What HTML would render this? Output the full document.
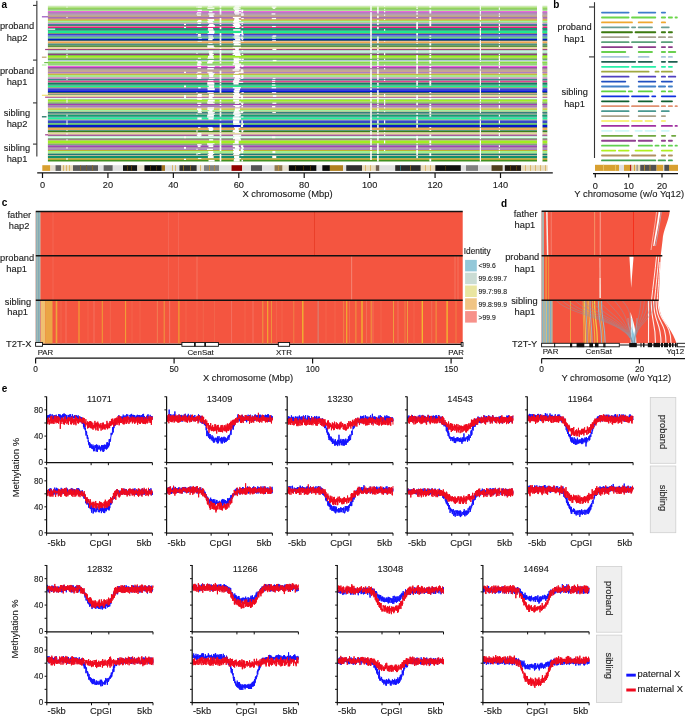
<!DOCTYPE html>
<html><head><meta charset="utf-8"><style>
html,body{margin:0;padding:0;background:#fff;overflow:hidden;width:685px;height:716px;}
svg{display:block;will-change:transform;}
text{font-family:"Liberation Sans", sans-serif;}
</style></head><body>
<svg width="685" height="716" viewBox="0 0 685 716">
<rect x="0" y="0" width="685" height="716" fill="#fff"/>
<text x="1.60" y="7.70" font-size="10" text-anchor="start" font-weight="bold" fill="#000" >a</text>
<rect x="47.90" y="5.75" width="489.10" height="0.85" fill="#c8e8b0" />
<rect x="542.30" y="5.75" width="5.00" height="0.85" fill="#c8e8b0" />
<rect x="47.90" y="6.60" width="489.10" height="1.00" fill="#b0e080" />
<rect x="542.30" y="6.60" width="5.00" height="1.00" fill="#b0e080" />
<rect x="47.90" y="7.60" width="489.10" height="1.20" fill="#88d840" />
<rect x="542.30" y="7.60" width="5.00" height="1.20" fill="#88d840" />
<rect x="47.90" y="8.80" width="489.10" height="0.90" fill="#60a040" />
<rect x="542.30" y="8.80" width="5.00" height="0.90" fill="#60a040" />
<rect x="47.90" y="9.70" width="489.10" height="1.30" fill="#a8e890" />
<rect x="542.30" y="9.70" width="5.00" height="1.30" fill="#a8e890" />
<rect x="47.90" y="11.00" width="489.10" height="1.30" fill="#e870d8" />
<rect x="542.30" y="11.00" width="5.00" height="1.30" fill="#e870d8" />
<rect x="47.90" y="12.30" width="489.10" height="1.10" fill="#a050b0" />
<rect x="542.30" y="12.30" width="5.00" height="1.10" fill="#a050b0" />
<rect x="47.90" y="13.40" width="489.10" height="1.10" fill="#9a70a0" />
<rect x="542.30" y="13.40" width="5.00" height="1.10" fill="#9a70a0" />
<rect x="47.90" y="14.50" width="489.10" height="1.20" fill="#a08890" />
<rect x="542.30" y="14.50" width="5.00" height="1.20" fill="#a08890" />
<rect x="47.90" y="15.70" width="489.10" height="1.20" fill="#c0a070" />
<rect x="542.30" y="15.70" width="5.00" height="1.20" fill="#c0a070" />
<rect x="47.90" y="16.90" width="489.10" height="1.10" fill="#a070b8" />
<rect x="542.30" y="16.90" width="5.00" height="1.10" fill="#a070b8" />
<rect x="47.90" y="18.00" width="489.10" height="1.10" fill="#c080a0" />
<rect x="542.30" y="18.00" width="5.00" height="1.10" fill="#c080a0" />
<rect x="47.90" y="19.10" width="489.10" height="0.90" fill="#d0a050" />
<rect x="542.30" y="19.10" width="5.00" height="0.90" fill="#d0a050" />
<rect x="47.90" y="20.00" width="489.10" height="0.90" fill="#c0c030" />
<rect x="542.30" y="20.00" width="5.00" height="0.90" fill="#c0c030" />
<rect x="47.90" y="20.90" width="489.10" height="1.30" fill="#a0f0a0" />
<rect x="542.30" y="20.90" width="5.00" height="1.30" fill="#a0f0a0" />
<rect x="47.90" y="22.20" width="489.10" height="0.80" fill="#a0c080" />
<rect x="542.30" y="22.20" width="5.00" height="0.80" fill="#a0c080" />
<rect x="47.90" y="23.00" width="489.10" height="0.90" fill="#d890d0" />
<rect x="542.30" y="23.00" width="5.00" height="0.90" fill="#d890d0" />
<rect x="47.90" y="23.90" width="489.10" height="1.10" fill="#4080a0" />
<rect x="542.30" y="23.90" width="5.00" height="1.10" fill="#4080a0" />
<rect x="47.90" y="25.00" width="489.10" height="1.10" fill="#508070" />
<rect x="542.30" y="25.00" width="5.00" height="1.10" fill="#508070" />
<rect x="47.90" y="26.10" width="489.10" height="0.90" fill="#e07090" />
<rect x="542.30" y="26.10" width="5.00" height="0.90" fill="#e07090" />
<rect x="47.90" y="27.00" width="489.10" height="1.00" fill="#e81880" />
<rect x="542.30" y="27.00" width="5.00" height="1.00" fill="#e81880" />
<rect x="47.90" y="28.00" width="489.10" height="1.20" fill="#10a070" />
<rect x="542.30" y="28.00" width="5.00" height="1.20" fill="#10a070" />
<rect x="47.90" y="29.20" width="489.10" height="1.50" fill="#106060" />
<rect x="542.30" y="29.20" width="5.00" height="1.50" fill="#106060" />
<rect x="47.90" y="30.70" width="489.10" height="2.40" fill="#20e890" />
<rect x="542.30" y="30.70" width="5.00" height="2.40" fill="#20e890" />
<rect x="47.90" y="33.10" width="489.10" height="0.90" fill="#709060" />
<rect x="542.30" y="33.10" width="5.00" height="0.90" fill="#709060" />
<rect x="47.90" y="34.00" width="489.10" height="1.50" fill="#4040d0" />
<rect x="542.30" y="34.00" width="5.00" height="1.50" fill="#4040d0" />
<rect x="47.90" y="35.50" width="489.10" height="1.10" fill="#3060c0" />
<rect x="542.30" y="35.50" width="5.00" height="1.10" fill="#3060c0" />
<rect x="47.90" y="36.60" width="489.10" height="0.70" fill="#40a080" />
<rect x="542.30" y="36.60" width="5.00" height="0.70" fill="#40a080" />
<rect x="47.90" y="37.30" width="489.10" height="1.10" fill="#50c060" />
<rect x="542.30" y="37.30" width="5.00" height="1.10" fill="#50c060" />
<rect x="47.90" y="38.40" width="489.10" height="0.60" fill="#2060a0" />
<rect x="542.30" y="38.40" width="5.00" height="0.60" fill="#2060a0" />
<rect x="47.90" y="39.00" width="489.10" height="1.30" fill="#0020c0" />
<rect x="542.30" y="39.00" width="5.00" height="1.30" fill="#0020c0" />
<rect x="47.90" y="40.30" width="489.10" height="0.70" fill="#104040" />
<rect x="542.30" y="40.30" width="5.00" height="0.70" fill="#104040" />
<rect x="47.90" y="41.00" width="489.10" height="0.60" fill="#e0a080" />
<rect x="542.30" y="41.00" width="5.00" height="0.60" fill="#e0a080" />
<rect x="47.90" y="41.60" width="489.10" height="1.40" fill="#f0a850" />
<rect x="542.30" y="41.60" width="5.00" height="1.40" fill="#f0a850" />
<rect x="47.90" y="43.00" width="489.10" height="0.70" fill="#a0a060" />
<rect x="542.30" y="43.00" width="5.00" height="0.70" fill="#a0a060" />
<rect x="47.90" y="43.70" width="489.10" height="1.70" fill="#509080" />
<rect x="542.30" y="43.70" width="5.00" height="1.70" fill="#509080" />
<rect x="47.90" y="45.40" width="489.10" height="1.50" fill="#408020" />
<rect x="542.30" y="45.40" width="5.00" height="1.50" fill="#408020" />
<rect x="47.90" y="46.90" width="489.10" height="0.90" fill="#d0c8a0" />
<rect x="542.30" y="46.90" width="5.00" height="0.90" fill="#d0c8a0" />
<rect x="47.90" y="47.80" width="489.10" height="1.10" fill="#f0e890" />
<rect x="542.30" y="47.80" width="5.00" height="1.10" fill="#f0e890" />
<rect x="47.90" y="48.90" width="489.10" height="1.10" fill="#a04080" />
<rect x="542.30" y="48.90" width="5.00" height="1.10" fill="#a04080" />
<rect x="47.90" y="50.00" width="489.10" height="0.80" fill="#a0c0a0" />
<rect x="542.30" y="50.00" width="5.00" height="0.80" fill="#a0c0a0" />
<rect x="47.90" y="50.80" width="489.10" height="2.00" fill="#c0f0e0" />
<rect x="542.30" y="50.80" width="5.00" height="2.00" fill="#c0f0e0" />
<rect x="47.90" y="52.80" width="489.10" height="1.10" fill="#80a080" />
<rect x="542.30" y="52.80" width="5.00" height="1.10" fill="#80a080" />
<rect x="47.90" y="53.90" width="489.10" height="1.10" fill="#904080" />
<rect x="542.30" y="53.90" width="5.00" height="1.10" fill="#904080" />
<rect x="47.90" y="55.00" width="489.10" height="0.90" fill="#70b040" />
<rect x="542.30" y="55.00" width="5.00" height="0.90" fill="#70b040" />
<rect x="47.90" y="55.90" width="489.10" height="1.90" fill="#a0f020" />
<rect x="542.30" y="55.90" width="5.00" height="1.90" fill="#a0f020" />
<rect x="47.90" y="57.80" width="489.10" height="0.90" fill="#90a040" />
<rect x="542.30" y="57.80" width="5.00" height="0.90" fill="#90a040" />
<rect x="47.90" y="58.70" width="489.10" height="1.30" fill="#60b060" />
<rect x="542.30" y="58.70" width="5.00" height="1.30" fill="#60b060" />
<rect x="47.90" y="60.00" width="489.10" height="1.10" fill="#b0c8d8" />
<rect x="542.30" y="60.00" width="5.00" height="1.10" fill="#b0c8d8" />
<rect x="47.90" y="61.10" width="489.10" height="0.90" fill="#b8e890" />
<rect x="542.30" y="61.10" width="5.00" height="0.90" fill="#b8e890" />
<rect x="47.90" y="62.00" width="489.10" height="1.50" fill="#88d848" />
<rect x="542.30" y="62.00" width="5.00" height="1.50" fill="#88d848" />
<rect x="47.90" y="63.50" width="489.10" height="1.30" fill="#70c050" />
<rect x="542.30" y="63.50" width="5.00" height="1.30" fill="#70c050" />
<rect x="47.90" y="64.80" width="489.10" height="1.10" fill="#b0f0a0" />
<rect x="542.30" y="64.80" width="5.00" height="1.10" fill="#b0f0a0" />
<rect x="47.90" y="65.90" width="489.10" height="1.10" fill="#f060e0" />
<rect x="542.30" y="65.90" width="5.00" height="1.10" fill="#f060e0" />
<rect x="47.90" y="67.00" width="489.10" height="1.10" fill="#a048b0" />
<rect x="542.30" y="67.00" width="5.00" height="1.10" fill="#a048b0" />
<rect x="47.90" y="68.10" width="489.10" height="1.30" fill="#9a7090" />
<rect x="542.30" y="68.10" width="5.00" height="1.30" fill="#9a7090" />
<rect x="47.90" y="69.40" width="489.10" height="1.30" fill="#a08888" />
<rect x="542.30" y="69.40" width="5.00" height="1.30" fill="#a08888" />
<rect x="47.90" y="70.70" width="489.10" height="1.10" fill="#c8a068" />
<rect x="542.30" y="70.70" width="5.00" height="1.10" fill="#c8a068" />
<rect x="47.90" y="71.80" width="489.10" height="1.10" fill="#a070c0" />
<rect x="542.30" y="71.80" width="5.00" height="1.10" fill="#a070c0" />
<rect x="47.90" y="72.90" width="489.10" height="0.90" fill="#d090a0" />
<rect x="542.30" y="72.90" width="5.00" height="0.90" fill="#d090a0" />
<rect x="47.90" y="73.80" width="489.10" height="1.10" fill="#c0b020" />
<rect x="542.30" y="73.80" width="5.00" height="1.10" fill="#c0b020" />
<rect x="47.90" y="74.90" width="489.10" height="2.20" fill="#a8e890" />
<rect x="542.30" y="74.90" width="5.00" height="2.20" fill="#a8e890" />
<rect x="47.90" y="77.10" width="489.10" height="0.90" fill="#c8a0c0" />
<rect x="542.30" y="77.10" width="5.00" height="0.90" fill="#c8a0c0" />
<rect x="47.90" y="78.00" width="489.10" height="0.80" fill="#e080d0" />
<rect x="542.30" y="78.00" width="5.00" height="0.80" fill="#e080d0" />
<rect x="47.90" y="78.80" width="489.10" height="1.10" fill="#207878" />
<rect x="542.30" y="78.80" width="5.00" height="1.10" fill="#207878" />
<rect x="47.90" y="79.90" width="489.10" height="0.90" fill="#60a090" />
<rect x="542.30" y="79.90" width="5.00" height="0.90" fill="#60a090" />
<rect x="47.90" y="80.80" width="489.10" height="1.10" fill="#e82888" />
<rect x="542.30" y="80.80" width="5.00" height="1.10" fill="#e82888" />
<rect x="47.90" y="81.90" width="489.10" height="0.90" fill="#a08080" />
<rect x="542.30" y="81.90" width="5.00" height="0.90" fill="#a08080" />
<rect x="47.90" y="82.80" width="489.10" height="1.70" fill="#108060" />
<rect x="542.30" y="82.80" width="5.00" height="1.70" fill="#108060" />
<rect x="47.90" y="84.50" width="489.10" height="1.10" fill="#106858" />
<rect x="542.30" y="84.50" width="5.00" height="1.10" fill="#106858" />
<rect x="47.90" y="85.60" width="489.10" height="1.60" fill="#20f090" />
<rect x="542.30" y="85.60" width="5.00" height="1.60" fill="#20f090" />
<rect x="47.90" y="87.20" width="489.10" height="1.10" fill="#80a060" />
<rect x="542.30" y="87.20" width="5.00" height="1.10" fill="#80a060" />
<rect x="47.90" y="88.30" width="489.10" height="1.90" fill="#4040c8" />
<rect x="542.30" y="88.30" width="5.00" height="1.90" fill="#4040c8" />
<rect x="47.90" y="90.20" width="489.10" height="2.00" fill="#0818d8" />
<rect x="542.30" y="90.20" width="5.00" height="2.00" fill="#0818d8" />
<rect x="47.90" y="92.20" width="489.10" height="0.80" fill="#104840" />
<rect x="542.30" y="92.20" width="5.00" height="0.80" fill="#104840" />
<rect x="47.90" y="93.00" width="489.10" height="0.90" fill="#d0a080" />
<rect x="542.30" y="93.00" width="5.00" height="0.90" fill="#d0a080" />
<rect x="47.90" y="93.90" width="489.10" height="1.30" fill="#80a080" />
<rect x="542.30" y="93.90" width="5.00" height="1.30" fill="#80a080" />
<rect x="47.90" y="95.20" width="489.10" height="1.60" fill="#e8e090" />
<rect x="542.30" y="95.20" width="5.00" height="1.60" fill="#e8e090" />
<rect x="47.90" y="96.80" width="489.10" height="1.10" fill="#b04890" />
<rect x="542.30" y="96.80" width="5.00" height="1.10" fill="#b04890" />
<rect x="47.90" y="97.90" width="489.10" height="1.30" fill="#d8fff0" />
<rect x="542.30" y="97.90" width="5.00" height="1.30" fill="#d8fff0" />
<rect x="47.90" y="99.20" width="489.10" height="0.60" fill="#70b050" />
<rect x="542.30" y="99.20" width="5.00" height="0.60" fill="#70b050" />
<rect x="47.90" y="99.80" width="489.10" height="1.80" fill="#a0f020" />
<rect x="542.30" y="99.80" width="5.00" height="1.80" fill="#a0f020" />
<rect x="47.90" y="101.60" width="489.10" height="1.10" fill="#90c040" />
<rect x="542.30" y="101.60" width="5.00" height="1.10" fill="#90c040" />
<rect x="47.90" y="102.70" width="489.10" height="1.10" fill="#60a060" />
<rect x="542.30" y="102.70" width="5.00" height="1.10" fill="#60a060" />
<rect x="47.90" y="103.80" width="489.10" height="1.30" fill="#a040b0" />
<rect x="542.30" y="103.80" width="5.00" height="1.30" fill="#a040b0" />
<rect x="47.90" y="105.10" width="489.10" height="0.90" fill="#a080a0" />
<rect x="542.30" y="105.10" width="5.00" height="0.90" fill="#a080a0" />
<rect x="47.90" y="106.00" width="489.10" height="1.30" fill="#a080c0" />
<rect x="542.30" y="106.00" width="5.00" height="1.30" fill="#a080c0" />
<rect x="47.90" y="107.30" width="489.10" height="1.10" fill="#c090a0" />
<rect x="542.30" y="107.30" width="5.00" height="1.10" fill="#c090a0" />
<rect x="47.90" y="108.40" width="489.10" height="1.50" fill="#c8c030" />
<rect x="542.30" y="108.40" width="5.00" height="1.50" fill="#c8c030" />
<rect x="47.90" y="109.90" width="489.10" height="1.30" fill="#a0f0a0" />
<rect x="542.30" y="109.90" width="5.00" height="1.30" fill="#a0f0a0" />
<rect x="47.90" y="111.20" width="489.10" height="0.90" fill="#a0c080" />
<rect x="542.30" y="111.20" width="5.00" height="0.90" fill="#a0c080" />
<rect x="47.90" y="112.10" width="489.10" height="0.90" fill="#207070" />
<rect x="542.30" y="112.10" width="5.00" height="0.90" fill="#207070" />
<rect x="47.90" y="113.00" width="489.10" height="0.80" fill="#508080" />
<rect x="542.30" y="113.00" width="5.00" height="0.80" fill="#508080" />
<rect x="47.90" y="113.80" width="489.10" height="0.90" fill="#90a080" />
<rect x="542.30" y="113.80" width="5.00" height="0.90" fill="#90a080" />
<rect x="47.90" y="114.70" width="489.10" height="1.80" fill="#10a070" />
<rect x="542.30" y="114.70" width="5.00" height="1.80" fill="#10a070" />
<rect x="47.90" y="116.50" width="489.10" height="1.00" fill="#107068" />
<rect x="542.30" y="116.50" width="5.00" height="1.00" fill="#107068" />
<rect x="47.90" y="117.50" width="489.10" height="2.00" fill="#20f0a0" />
<rect x="542.30" y="117.50" width="5.00" height="2.00" fill="#20f0a0" />
<rect x="47.90" y="119.50" width="489.10" height="0.90" fill="#80a060" />
<rect x="542.30" y="119.50" width="5.00" height="0.90" fill="#80a060" />
<rect x="47.90" y="120.40" width="489.10" height="3.00" fill="#3848c8" />
<rect x="542.30" y="120.40" width="5.00" height="3.00" fill="#3848c8" />
<rect x="47.90" y="123.40" width="489.10" height="1.40" fill="#50d040" />
<rect x="542.30" y="123.40" width="5.00" height="1.40" fill="#50d040" />
<rect x="47.90" y="124.80" width="489.10" height="2.20" fill="#0818c8" />
<rect x="542.30" y="124.80" width="5.00" height="2.20" fill="#0818c8" />
<rect x="47.90" y="127.00" width="489.10" height="0.80" fill="#305050" />
<rect x="542.30" y="127.00" width="5.00" height="0.80" fill="#305050" />
<rect x="47.90" y="127.80" width="489.10" height="2.20" fill="#e8a858" />
<rect x="542.30" y="127.80" width="5.00" height="2.20" fill="#e8a858" />
<rect x="47.90" y="130.00" width="489.10" height="0.90" fill="#509080" />
<rect x="542.30" y="130.00" width="5.00" height="0.90" fill="#509080" />
<rect x="47.90" y="130.90" width="489.10" height="1.30" fill="#3a8018" />
<rect x="542.30" y="130.90" width="5.00" height="1.30" fill="#3a8018" />
<rect x="47.90" y="132.20" width="489.10" height="0.90" fill="#c0c090" />
<rect x="542.30" y="132.20" width="5.00" height="0.90" fill="#c0c090" />
<rect x="47.90" y="133.10" width="489.10" height="1.50" fill="#e0d890" />
<rect x="542.30" y="133.10" width="5.00" height="1.50" fill="#e0d890" />
<rect x="47.90" y="134.60" width="489.10" height="1.30" fill="#a04090" />
<rect x="542.30" y="134.60" width="5.00" height="1.30" fill="#a04090" />
<rect x="47.90" y="135.90" width="489.10" height="0.70" fill="#90d090" />
<rect x="542.30" y="135.90" width="5.00" height="0.70" fill="#90d090" />
<rect x="47.90" y="136.60" width="489.10" height="1.50" fill="#d8fff0" />
<rect x="542.30" y="136.60" width="5.00" height="1.50" fill="#d8fff0" />
<rect x="47.90" y="138.10" width="489.10" height="1.10" fill="#80b080" />
<rect x="542.30" y="138.10" width="5.00" height="1.10" fill="#80b080" />
<rect x="47.90" y="139.20" width="489.10" height="1.30" fill="#906070" />
<rect x="542.30" y="139.20" width="5.00" height="1.30" fill="#906070" />
<rect x="47.90" y="140.50" width="489.10" height="2.80" fill="#a0f020" />
<rect x="542.30" y="140.50" width="5.00" height="2.80" fill="#a0f020" />
<rect x="47.90" y="143.30" width="489.10" height="0.90" fill="#a0b040" />
<rect x="542.30" y="143.30" width="5.00" height="0.90" fill="#a0b040" />
<rect x="47.90" y="144.20" width="489.10" height="1.10" fill="#60a060" />
<rect x="542.30" y="144.20" width="5.00" height="1.10" fill="#60a060" />
<rect x="47.90" y="145.30" width="489.10" height="1.70" fill="#9a4ab0" />
<rect x="542.30" y="145.30" width="5.00" height="1.70" fill="#9a4ab0" />
<rect x="47.90" y="147.00" width="489.10" height="1.80" fill="#a888a8" />
<rect x="542.30" y="147.00" width="5.00" height="1.80" fill="#a888a8" />
<rect x="47.90" y="148.80" width="489.10" height="1.10" fill="#a070c8" />
<rect x="542.30" y="148.80" width="5.00" height="1.10" fill="#a070c8" />
<rect x="47.90" y="149.90" width="489.10" height="1.10" fill="#c0b030" />
<rect x="542.30" y="149.90" width="5.00" height="1.10" fill="#c0b030" />
<rect x="47.90" y="151.00" width="489.10" height="2.10" fill="#a0f090" />
<rect x="542.30" y="151.00" width="5.00" height="2.10" fill="#a0f090" />
<rect x="47.90" y="153.10" width="489.10" height="0.90" fill="#80b080" />
<rect x="542.30" y="153.10" width="5.00" height="0.90" fill="#80b080" />
<rect x="47.90" y="154.00" width="489.10" height="1.10" fill="#207878" />
<rect x="542.30" y="154.00" width="5.00" height="1.10" fill="#207878" />
<rect x="47.90" y="155.10" width="489.10" height="0.90" fill="#b0b090" />
<rect x="542.30" y="155.10" width="5.00" height="0.90" fill="#b0b090" />
<rect x="47.90" y="156.00" width="489.10" height="2.00" fill="#10906c" />
<rect x="542.30" y="156.00" width="5.00" height="2.00" fill="#10906c" />
<rect x="47.90" y="158.00" width="489.10" height="0.80" fill="#a0a040" />
<rect x="542.30" y="158.00" width="5.00" height="0.80" fill="#a0a040" />
<rect x="47.90" y="158.80" width="489.10" height="1.10" fill="#c0a020" />
<rect x="542.30" y="158.80" width="5.00" height="1.10" fill="#c0a020" />
<rect x="47.90" y="159.90" width="489.10" height="1.60" fill="#409020" />
<rect x="542.30" y="159.90" width="5.00" height="1.60" fill="#409020" />
<rect x="197.80" y="6.55" width="3.99" height="1.10" fill="#ffffff" />
<rect x="197.58" y="9.65" width="4.27" height="1.40" fill="#ffffff" />
<rect x="196.94" y="12.25" width="4.31" height="1.20" fill="#ffffff" />
<rect x="197.14" y="14.45" width="3.80" height="1.30" fill="#ffffff" />
<rect x="198.11" y="19.95" width="3.34" height="1.00" fill="#ffffff" />
<rect x="196.98" y="20.85" width="4.45" height="1.40" fill="#ffffff" />
<rect x="197.69" y="22.95" width="3.23" height="1.00" fill="#ffffff" />
<rect x="196.89" y="26.05" width="4.69" height="1.00" fill="#ffffff" />
<rect x="198.02" y="33.95" width="2.82" height="1.60" fill="#ffffff" />
<rect x="197.68" y="35.45" width="3.42" height="1.20" fill="#ffffff" />
<rect x="198.30" y="38.35" width="3.42" height="0.70" fill="#ffffff" />
<rect x="197.55" y="40.95" width="4.29" height="0.70" fill="#ffffff" />
<rect x="197.87" y="57.75" width="3.04" height="1.00" fill="#ffffff" />
<rect x="197.39" y="61.05" width="3.49" height="1.00" fill="#ffffff" />
<rect x="197.51" y="61.95" width="4.14" height="1.60" fill="#ffffff" />
<rect x="196.89" y="63.45" width="3.83" height="1.40" fill="#ffffff" />
<rect x="197.18" y="64.75" width="4.12" height="1.20" fill="#ffffff" />
<rect x="197.49" y="66.95" width="3.57" height="1.20" fill="#ffffff" />
<rect x="197.44" y="71.75" width="3.92" height="1.20" fill="#ffffff" />
<rect x="197.07" y="74.85" width="4.48" height="2.30" fill="#ffffff" />
<rect x="197.54" y="77.05" width="3.46" height="1.00" fill="#ffffff" />
<rect x="196.81" y="77.95" width="4.45" height="0.90" fill="#ffffff" />
<rect x="198.18" y="87.15" width="2.53" height="1.20" fill="#ffffff" />
<rect x="197.77" y="93.85" width="4.03" height="1.40" fill="#ffffff" />
<rect x="197.12" y="95.15" width="4.53" height="1.70" fill="#ffffff" />
<rect x="196.80" y="97.85" width="4.87" height="1.40" fill="#ffffff" />
<rect x="197.36" y="99.15" width="4.50" height="0.70" fill="#ffffff" />
<rect x="197.19" y="102.65" width="4.18" height="1.20" fill="#ffffff" />
<rect x="198.10" y="105.05" width="2.28" height="1.00" fill="#ffffff" />
<rect x="196.96" y="108.35" width="4.42" height="1.60" fill="#ffffff" />
<rect x="198.07" y="109.85" width="3.58" height="1.40" fill="#ffffff" />
<rect x="198.26" y="111.15" width="2.84" height="1.00" fill="#ffffff" />
<rect x="197.63" y="112.05" width="4.23" height="1.00" fill="#ffffff" />
<rect x="197.36" y="117.45" width="4.28" height="2.10" fill="#ffffff" />
<rect x="198.04" y="126.95" width="2.35" height="0.90" fill="#ffffff" />
<rect x="197.59" y="133.05" width="3.76" height="1.60" fill="#ffffff" />
<rect x="196.84" y="134.55" width="4.63" height="1.40" fill="#ffffff" />
<rect x="197.86" y="135.85" width="2.58" height="0.80" fill="#ffffff" />
<rect x="197.15" y="144.15" width="4.45" height="1.20" fill="#ffffff" />
<rect x="197.75" y="145.25" width="2.77" height="1.80" fill="#ffffff" />
<rect x="197.81" y="153.05" width="2.70" height="1.00" fill="#ffffff" />
<rect x="198.01" y="157.95" width="3.38" height="0.90" fill="#ffffff" />
<rect x="207.94" y="5.70" width="4.65" height="0.95" fill="#ffffff" />
<rect x="207.30" y="7.55" width="7.15" height="1.30" fill="#ffffff" />
<rect x="208.93" y="10.95" width="3.57" height="1.40" fill="#ffffff" />
<rect x="208.28" y="13.35" width="6.21" height="1.20" fill="#ffffff" />
<rect x="209.27" y="14.45" width="4.01" height="1.30" fill="#ffffff" />
<rect x="209.18" y="15.65" width="4.60" height="1.30" fill="#ffffff" />
<rect x="207.59" y="19.05" width="6.53" height="1.00" fill="#ffffff" />
<rect x="208.37" y="19.95" width="5.82" height="1.00" fill="#ffffff" />
<rect x="207.31" y="20.85" width="5.36" height="1.40" fill="#ffffff" />
<rect x="208.07" y="22.15" width="5.36" height="0.90" fill="#ffffff" />
<rect x="209.15" y="23.85" width="4.48" height="1.20" fill="#ffffff" />
<rect x="208.23" y="24.95" width="6.53" height="1.20" fill="#ffffff" />
<rect x="207.43" y="26.05" width="7.36" height="1.00" fill="#ffffff" />
<rect x="208.11" y="27.95" width="5.00" height="1.30" fill="#ffffff" />
<rect x="207.76" y="29.15" width="5.82" height="1.60" fill="#ffffff" />
<rect x="208.84" y="30.65" width="5.72" height="2.50" fill="#ffffff" />
<rect x="207.58" y="33.05" width="6.57" height="1.00" fill="#ffffff" />
<rect x="208.31" y="35.45" width="4.71" height="1.20" fill="#ffffff" />
<rect x="208.43" y="37.25" width="5.18" height="1.20" fill="#ffffff" />
<rect x="208.62" y="38.35" width="5.12" height="0.70" fill="#ffffff" />
<rect x="208.12" y="38.95" width="4.48" height="1.40" fill="#ffffff" />
<rect x="208.31" y="42.95" width="4.28" height="0.80" fill="#ffffff" />
<rect x="207.28" y="45.35" width="6.48" height="1.60" fill="#ffffff" />
<rect x="207.56" y="46.85" width="7.07" height="1.00" fill="#ffffff" />
<rect x="208.68" y="50.75" width="4.58" height="2.10" fill="#ffffff" />
<rect x="209.07" y="52.75" width="3.47" height="1.20" fill="#ffffff" />
<rect x="209.23" y="53.85" width="4.64" height="1.20" fill="#ffffff" />
<rect x="209.32" y="54.95" width="3.54" height="1.00" fill="#ffffff" />
<rect x="208.01" y="55.85" width="5.58" height="2.00" fill="#ffffff" />
<rect x="207.46" y="57.75" width="6.60" height="1.00" fill="#ffffff" />
<rect x="208.30" y="59.95" width="5.47" height="1.20" fill="#ffffff" />
<rect x="207.78" y="61.05" width="5.56" height="1.00" fill="#ffffff" />
<rect x="207.15" y="61.95" width="5.34" height="1.60" fill="#ffffff" />
<rect x="207.62" y="65.85" width="7.09" height="1.20" fill="#ffffff" />
<rect x="207.30" y="68.05" width="6.51" height="1.40" fill="#ffffff" />
<rect x="207.35" y="71.75" width="5.30" height="1.20" fill="#ffffff" />
<rect x="208.64" y="72.85" width="5.95" height="1.00" fill="#ffffff" />
<rect x="208.61" y="73.75" width="5.19" height="1.20" fill="#ffffff" />
<rect x="209.20" y="74.85" width="4.12" height="2.30" fill="#ffffff" />
<rect x="209.00" y="77.95" width="5.64" height="0.90" fill="#ffffff" />
<rect x="207.79" y="79.85" width="5.71" height="1.00" fill="#ffffff" />
<rect x="207.30" y="81.85" width="6.26" height="1.00" fill="#ffffff" />
<rect x="207.26" y="82.75" width="7.17" height="1.80" fill="#ffffff" />
<rect x="207.47" y="84.45" width="6.60" height="1.20" fill="#ffffff" />
<rect x="208.78" y="85.55" width="5.34" height="1.70" fill="#ffffff" />
<rect x="207.42" y="87.15" width="6.57" height="1.20" fill="#ffffff" />
<rect x="207.59" y="88.25" width="7.18" height="2.00" fill="#ffffff" />
<rect x="207.44" y="92.15" width="6.25" height="0.90" fill="#ffffff" />
<rect x="208.92" y="93.85" width="4.87" height="1.40" fill="#ffffff" />
<rect x="208.95" y="95.15" width="4.93" height="1.70" fill="#ffffff" />
<rect x="208.61" y="96.75" width="3.89" height="1.20" fill="#ffffff" />
<rect x="208.95" y="97.85" width="4.20" height="1.40" fill="#ffffff" />
<rect x="207.81" y="99.75" width="6.86" height="1.90" fill="#ffffff" />
<rect x="207.17" y="101.55" width="5.90" height="1.20" fill="#ffffff" />
<rect x="207.38" y="102.65" width="7.22" height="1.20" fill="#ffffff" />
<rect x="207.57" y="107.25" width="6.55" height="1.20" fill="#ffffff" />
<rect x="207.37" y="108.35" width="6.39" height="1.60" fill="#ffffff" />
<rect x="209.25" y="109.85" width="3.27" height="1.40" fill="#ffffff" />
<rect x="207.57" y="111.15" width="4.97" height="1.00" fill="#ffffff" />
<rect x="207.83" y="112.05" width="6.96" height="1.00" fill="#ffffff" />
<rect x="208.11" y="112.95" width="5.51" height="0.90" fill="#ffffff" />
<rect x="208.18" y="113.75" width="6.61" height="1.00" fill="#ffffff" />
<rect x="207.21" y="114.65" width="6.66" height="1.90" fill="#ffffff" />
<rect x="207.05" y="116.45" width="7.04" height="1.10" fill="#ffffff" />
<rect x="208.37" y="117.45" width="5.19" height="2.10" fill="#ffffff" />
<rect x="207.76" y="126.95" width="4.73" height="0.90" fill="#ffffff" />
<rect x="208.69" y="127.75" width="4.60" height="2.30" fill="#ffffff" />
<rect x="208.95" y="129.95" width="3.76" height="1.00" fill="#ffffff" />
<rect x="208.23" y="134.55" width="5.39" height="1.40" fill="#ffffff" />
<rect x="209.09" y="139.15" width="4.11" height="1.40" fill="#ffffff" />
<rect x="207.07" y="143.25" width="7.42" height="1.00" fill="#ffffff" />
<rect x="207.25" y="144.15" width="5.60" height="1.20" fill="#ffffff" />
<rect x="208.47" y="145.25" width="4.87" height="1.80" fill="#ffffff" />
<rect x="207.01" y="148.75" width="5.93" height="1.20" fill="#ffffff" />
<rect x="208.25" y="150.95" width="5.00" height="2.20" fill="#ffffff" />
<rect x="208.72" y="153.05" width="5.49" height="1.00" fill="#ffffff" />
<rect x="207.62" y="153.95" width="5.47" height="1.20" fill="#ffffff" />
<rect x="208.73" y="155.05" width="3.79" height="1.00" fill="#ffffff" />
<rect x="207.90" y="155.95" width="5.78" height="2.10" fill="#ffffff" />
<rect x="208.50" y="159.85" width="6.11" height="1.70" fill="#ffffff" />
<rect x="219.70" y="5.70" width="1.60" height="0.95" fill="#ffffff" />
<rect x="219.70" y="6.55" width="1.60" height="1.10" fill="#ffffff" />
<rect x="219.70" y="8.75" width="1.60" height="1.00" fill="#ffffff" />
<rect x="219.70" y="9.65" width="1.60" height="1.40" fill="#ffffff" />
<rect x="219.70" y="10.95" width="1.60" height="1.40" fill="#ffffff" />
<rect x="219.70" y="12.25" width="1.60" height="1.20" fill="#ffffff" />
<rect x="219.70" y="13.35" width="1.60" height="1.20" fill="#ffffff" />
<rect x="219.70" y="17.95" width="1.60" height="1.20" fill="#ffffff" />
<rect x="219.70" y="19.05" width="1.60" height="1.00" fill="#ffffff" />
<rect x="219.70" y="19.95" width="1.60" height="1.00" fill="#ffffff" />
<rect x="219.70" y="20.85" width="1.60" height="1.40" fill="#ffffff" />
<rect x="219.70" y="22.15" width="1.60" height="0.90" fill="#ffffff" />
<rect x="219.70" y="23.85" width="1.60" height="1.20" fill="#ffffff" />
<rect x="219.70" y="26.95" width="1.60" height="1.10" fill="#ffffff" />
<rect x="219.70" y="27.95" width="1.60" height="1.30" fill="#ffffff" />
<rect x="219.70" y="33.05" width="1.60" height="1.00" fill="#ffffff" />
<rect x="219.70" y="33.95" width="1.60" height="1.60" fill="#ffffff" />
<rect x="219.70" y="35.45" width="1.60" height="1.20" fill="#ffffff" />
<rect x="219.70" y="37.25" width="1.60" height="1.20" fill="#ffffff" />
<rect x="219.70" y="38.35" width="1.60" height="0.70" fill="#ffffff" />
<rect x="219.70" y="38.95" width="1.60" height="1.40" fill="#ffffff" />
<rect x="219.70" y="40.25" width="1.60" height="0.80" fill="#ffffff" />
<rect x="219.70" y="41.55" width="1.60" height="1.50" fill="#ffffff" />
<rect x="219.70" y="43.65" width="1.60" height="1.80" fill="#ffffff" />
<rect x="219.70" y="47.75" width="1.60" height="1.20" fill="#ffffff" />
<rect x="219.70" y="49.95" width="1.60" height="0.90" fill="#ffffff" />
<rect x="219.70" y="50.75" width="1.60" height="2.10" fill="#ffffff" />
<rect x="219.70" y="52.75" width="1.60" height="1.20" fill="#ffffff" />
<rect x="219.70" y="53.85" width="1.60" height="1.20" fill="#ffffff" />
<rect x="219.70" y="54.95" width="1.60" height="1.00" fill="#ffffff" />
<rect x="219.70" y="55.85" width="1.60" height="2.00" fill="#ffffff" />
<rect x="219.70" y="57.75" width="1.60" height="1.00" fill="#ffffff" />
<rect x="219.70" y="58.65" width="1.60" height="1.40" fill="#ffffff" />
<rect x="219.70" y="59.95" width="1.60" height="1.20" fill="#ffffff" />
<rect x="219.70" y="61.95" width="1.60" height="1.60" fill="#ffffff" />
<rect x="219.70" y="65.85" width="1.60" height="1.20" fill="#ffffff" />
<rect x="219.70" y="70.65" width="1.60" height="1.20" fill="#ffffff" />
<rect x="219.70" y="71.75" width="1.60" height="1.20" fill="#ffffff" />
<rect x="219.70" y="72.85" width="1.60" height="1.00" fill="#ffffff" />
<rect x="219.70" y="74.85" width="1.60" height="2.30" fill="#ffffff" />
<rect x="219.70" y="77.05" width="1.60" height="1.00" fill="#ffffff" />
<rect x="219.70" y="77.95" width="1.60" height="0.90" fill="#ffffff" />
<rect x="219.70" y="78.75" width="1.60" height="1.20" fill="#ffffff" />
<rect x="219.70" y="79.85" width="1.60" height="1.00" fill="#ffffff" />
<rect x="219.70" y="80.75" width="1.60" height="1.20" fill="#ffffff" />
<rect x="219.70" y="82.75" width="1.60" height="1.80" fill="#ffffff" />
<rect x="219.70" y="85.55" width="1.60" height="1.70" fill="#ffffff" />
<rect x="219.70" y="87.15" width="1.60" height="1.20" fill="#ffffff" />
<rect x="219.70" y="88.25" width="1.60" height="2.00" fill="#ffffff" />
<rect x="219.70" y="90.15" width="1.60" height="2.10" fill="#ffffff" />
<rect x="219.70" y="92.15" width="1.60" height="0.90" fill="#ffffff" />
<rect x="219.70" y="99.75" width="1.60" height="1.90" fill="#ffffff" />
<rect x="219.70" y="102.65" width="1.60" height="1.20" fill="#ffffff" />
<rect x="219.70" y="105.05" width="1.60" height="1.00" fill="#ffffff" />
<rect x="219.70" y="108.35" width="1.60" height="1.60" fill="#ffffff" />
<rect x="219.70" y="109.85" width="1.60" height="1.40" fill="#ffffff" />
<rect x="219.70" y="112.05" width="1.60" height="1.00" fill="#ffffff" />
<rect x="219.70" y="112.95" width="1.60" height="0.90" fill="#ffffff" />
<rect x="219.70" y="113.75" width="1.60" height="1.00" fill="#ffffff" />
<rect x="219.70" y="114.65" width="1.60" height="1.90" fill="#ffffff" />
<rect x="219.70" y="119.45" width="1.60" height="1.00" fill="#ffffff" />
<rect x="219.70" y="123.35" width="1.60" height="1.50" fill="#ffffff" />
<rect x="219.70" y="124.75" width="1.60" height="2.30" fill="#ffffff" />
<rect x="219.70" y="126.95" width="1.60" height="0.90" fill="#ffffff" />
<rect x="219.70" y="127.75" width="1.60" height="2.30" fill="#ffffff" />
<rect x="219.70" y="129.95" width="1.60" height="1.00" fill="#ffffff" />
<rect x="219.70" y="130.85" width="1.60" height="1.40" fill="#ffffff" />
<rect x="219.70" y="133.05" width="1.60" height="1.60" fill="#ffffff" />
<rect x="219.70" y="134.55" width="1.60" height="1.40" fill="#ffffff" />
<rect x="219.70" y="138.05" width="1.60" height="1.20" fill="#ffffff" />
<rect x="219.70" y="139.15" width="1.60" height="1.40" fill="#ffffff" />
<rect x="219.70" y="140.45" width="1.60" height="2.90" fill="#ffffff" />
<rect x="219.70" y="143.25" width="1.60" height="1.00" fill="#ffffff" />
<rect x="219.70" y="144.15" width="1.60" height="1.20" fill="#ffffff" />
<rect x="219.70" y="145.25" width="1.60" height="1.80" fill="#ffffff" />
<rect x="219.70" y="146.95" width="1.60" height="1.90" fill="#ffffff" />
<rect x="219.70" y="148.75" width="1.60" height="1.20" fill="#ffffff" />
<rect x="219.70" y="149.85" width="1.60" height="1.20" fill="#ffffff" />
<rect x="219.70" y="153.95" width="1.60" height="1.20" fill="#ffffff" />
<rect x="219.70" y="155.05" width="1.60" height="1.00" fill="#ffffff" />
<rect x="219.70" y="155.95" width="1.60" height="2.10" fill="#ffffff" />
<rect x="219.70" y="157.95" width="1.60" height="0.90" fill="#ffffff" />
<rect x="219.70" y="158.75" width="1.60" height="1.20" fill="#ffffff" />
<rect x="219.70" y="159.85" width="1.60" height="1.70" fill="#ffffff" />
<rect x="235.10" y="5.70" width="5.78" height="0.95" fill="#ffffff" />
<rect x="234.22" y="6.55" width="4.75" height="1.10" fill="#ffffff" />
<rect x="233.30" y="7.55" width="7.26" height="1.30" fill="#ffffff" />
<rect x="233.75" y="8.75" width="4.99" height="1.00" fill="#ffffff" />
<rect x="234.85" y="9.65" width="6.29" height="1.40" fill="#ffffff" />
<rect x="234.43" y="10.95" width="4.46" height="1.40" fill="#ffffff" />
<rect x="234.11" y="12.25" width="7.08" height="1.20" fill="#ffffff" />
<rect x="234.99" y="13.35" width="4.08" height="1.20" fill="#ffffff" />
<rect x="232.88" y="16.85" width="7.92" height="1.20" fill="#ffffff" />
<rect x="234.36" y="17.95" width="4.41" height="1.20" fill="#ffffff" />
<rect x="234.27" y="19.05" width="4.96" height="1.00" fill="#ffffff" />
<rect x="234.02" y="19.95" width="7.08" height="1.00" fill="#ffffff" />
<rect x="233.20" y="20.85" width="5.63" height="1.40" fill="#ffffff" />
<rect x="233.38" y="22.15" width="7.49" height="0.90" fill="#ffffff" />
<rect x="234.24" y="22.95" width="5.16" height="1.00" fill="#ffffff" />
<rect x="232.78" y="23.85" width="7.07" height="1.20" fill="#ffffff" />
<rect x="233.60" y="24.95" width="7.02" height="1.20" fill="#ffffff" />
<rect x="232.63" y="26.05" width="7.80" height="1.00" fill="#ffffff" />
<rect x="235.07" y="26.95" width="4.46" height="1.10" fill="#ffffff" />
<rect x="233.21" y="29.15" width="7.36" height="1.60" fill="#ffffff" />
<rect x="233.39" y="33.05" width="7.75" height="1.00" fill="#ffffff" />
<rect x="234.34" y="33.95" width="5.78" height="1.60" fill="#ffffff" />
<rect x="234.32" y="35.45" width="4.49" height="1.20" fill="#ffffff" />
<rect x="232.69" y="36.55" width="7.64" height="0.80" fill="#ffffff" />
<rect x="234.36" y="37.25" width="6.33" height="1.20" fill="#ffffff" />
<rect x="234.51" y="38.35" width="5.39" height="0.70" fill="#ffffff" />
<rect x="235.10" y="38.95" width="5.29" height="1.40" fill="#ffffff" />
<rect x="233.20" y="40.25" width="7.43" height="0.80" fill="#ffffff" />
<rect x="233.36" y="40.95" width="5.38" height="0.70" fill="#ffffff" />
<rect x="233.08" y="41.55" width="7.54" height="1.50" fill="#ffffff" />
<rect x="234.32" y="42.95" width="4.44" height="0.80" fill="#ffffff" />
<rect x="233.62" y="43.65" width="7.04" height="1.80" fill="#ffffff" />
<rect x="232.73" y="46.85" width="8.31" height="1.00" fill="#ffffff" />
<rect x="234.92" y="47.75" width="4.00" height="1.20" fill="#ffffff" />
<rect x="235.17" y="48.85" width="3.62" height="1.20" fill="#ffffff" />
<rect x="233.08" y="49.95" width="5.71" height="0.90" fill="#ffffff" />
<rect x="232.68" y="50.75" width="6.80" height="2.10" fill="#ffffff" />
<rect x="233.56" y="52.75" width="6.78" height="1.20" fill="#ffffff" />
<rect x="232.61" y="53.85" width="7.87" height="1.20" fill="#ffffff" />
<rect x="235.07" y="54.95" width="5.82" height="1.00" fill="#ffffff" />
<rect x="233.52" y="57.75" width="5.56" height="1.00" fill="#ffffff" />
<rect x="233.72" y="58.65" width="7.36" height="1.40" fill="#ffffff" />
<rect x="233.56" y="59.95" width="5.27" height="1.20" fill="#ffffff" />
<rect x="233.54" y="61.05" width="5.35" height="1.00" fill="#ffffff" />
<rect x="233.66" y="61.95" width="5.45" height="1.60" fill="#ffffff" />
<rect x="232.70" y="63.45" width="8.41" height="1.40" fill="#ffffff" />
<rect x="234.97" y="64.75" width="5.56" height="1.20" fill="#ffffff" />
<rect x="234.92" y="65.85" width="5.41" height="1.20" fill="#ffffff" />
<rect x="235.07" y="66.95" width="4.54" height="1.20" fill="#ffffff" />
<rect x="234.45" y="68.05" width="5.93" height="1.40" fill="#ffffff" />
<rect x="232.61" y="69.35" width="6.64" height="1.40" fill="#ffffff" />
<rect x="235.03" y="71.75" width="6.10" height="1.20" fill="#ffffff" />
<rect x="233.83" y="72.85" width="4.91" height="1.00" fill="#ffffff" />
<rect x="233.25" y="74.85" width="6.84" height="2.30" fill="#ffffff" />
<rect x="234.99" y="77.05" width="5.73" height="1.00" fill="#ffffff" />
<rect x="234.51" y="77.95" width="4.57" height="0.90" fill="#ffffff" />
<rect x="234.17" y="78.75" width="6.19" height="1.20" fill="#ffffff" />
<rect x="233.53" y="79.85" width="5.65" height="1.00" fill="#ffffff" />
<rect x="233.11" y="80.75" width="6.15" height="1.20" fill="#ffffff" />
<rect x="232.77" y="81.85" width="8.35" height="1.00" fill="#ffffff" />
<rect x="233.44" y="82.75" width="5.23" height="1.80" fill="#ffffff" />
<rect x="232.82" y="87.15" width="8.13" height="1.20" fill="#ffffff" />
<rect x="234.43" y="88.25" width="5.62" height="2.00" fill="#ffffff" />
<rect x="233.68" y="90.15" width="5.92" height="2.10" fill="#ffffff" />
<rect x="234.53" y="92.15" width="4.48" height="0.90" fill="#ffffff" />
<rect x="232.91" y="92.95" width="6.12" height="1.00" fill="#ffffff" />
<rect x="234.06" y="93.85" width="6.18" height="1.40" fill="#ffffff" />
<rect x="233.11" y="95.15" width="7.45" height="1.70" fill="#ffffff" />
<rect x="233.00" y="96.75" width="5.92" height="1.20" fill="#ffffff" />
<rect x="233.44" y="97.85" width="6.74" height="1.40" fill="#ffffff" />
<rect x="233.20" y="99.75" width="5.92" height="1.90" fill="#ffffff" />
<rect x="235.16" y="101.55" width="5.78" height="1.20" fill="#ffffff" />
<rect x="234.71" y="102.65" width="4.32" height="1.20" fill="#ffffff" />
<rect x="233.36" y="105.05" width="7.53" height="1.00" fill="#ffffff" />
<rect x="235.11" y="105.95" width="4.59" height="1.40" fill="#ffffff" />
<rect x="234.83" y="108.35" width="5.21" height="1.60" fill="#ffffff" />
<rect x="234.61" y="109.85" width="4.15" height="1.40" fill="#ffffff" />
<rect x="234.14" y="111.15" width="5.46" height="1.00" fill="#ffffff" />
<rect x="233.55" y="112.05" width="7.28" height="1.00" fill="#ffffff" />
<rect x="233.26" y="112.95" width="6.40" height="0.90" fill="#ffffff" />
<rect x="233.12" y="113.75" width="8.05" height="1.00" fill="#ffffff" />
<rect x="234.35" y="114.65" width="6.37" height="1.90" fill="#ffffff" />
<rect x="233.12" y="116.45" width="6.02" height="1.10" fill="#ffffff" />
<rect x="232.76" y="117.45" width="8.18" height="2.10" fill="#ffffff" />
<rect x="234.02" y="119.45" width="5.53" height="1.00" fill="#ffffff" />
<rect x="233.02" y="120.35" width="6.38" height="3.10" fill="#ffffff" />
<rect x="233.33" y="123.35" width="7.08" height="1.50" fill="#ffffff" />
<rect x="234.06" y="126.95" width="6.22" height="0.90" fill="#ffffff" />
<rect x="234.83" y="127.75" width="3.80" height="2.30" fill="#ffffff" />
<rect x="233.11" y="129.95" width="6.21" height="1.00" fill="#ffffff" />
<rect x="232.62" y="130.85" width="6.26" height="1.40" fill="#ffffff" />
<rect x="234.72" y="132.15" width="5.44" height="1.00" fill="#ffffff" />
<rect x="233.02" y="134.55" width="8.14" height="1.40" fill="#ffffff" />
<rect x="234.25" y="135.85" width="4.60" height="0.80" fill="#ffffff" />
<rect x="234.21" y="136.55" width="6.04" height="1.60" fill="#ffffff" />
<rect x="232.98" y="138.05" width="7.49" height="1.20" fill="#ffffff" />
<rect x="234.99" y="139.15" width="5.93" height="1.40" fill="#ffffff" />
<rect x="234.68" y="140.45" width="4.03" height="2.90" fill="#ffffff" />
<rect x="232.93" y="143.25" width="5.84" height="1.00" fill="#ffffff" />
<rect x="232.74" y="145.25" width="6.07" height="1.80" fill="#ffffff" />
<rect x="234.93" y="146.95" width="4.67" height="1.90" fill="#ffffff" />
<rect x="233.01" y="148.75" width="6.16" height="1.20" fill="#ffffff" />
<rect x="233.64" y="149.85" width="5.37" height="1.20" fill="#ffffff" />
<rect x="233.07" y="150.95" width="7.57" height="2.20" fill="#ffffff" />
<rect x="233.94" y="153.05" width="6.27" height="1.00" fill="#ffffff" />
<rect x="233.24" y="153.95" width="6.09" height="1.20" fill="#ffffff" />
<rect x="234.05" y="155.95" width="5.19" height="2.10" fill="#ffffff" />
<rect x="234.76" y="157.95" width="6.13" height="0.90" fill="#ffffff" />
<rect x="234.02" y="158.75" width="5.56" height="1.20" fill="#ffffff" />
<rect x="233.68" y="159.85" width="6.01" height="1.70" fill="#ffffff" />
<rect x="241.28" y="9.65" width="2.07" height="1.40" fill="#ffffff" />
<rect x="241.41" y="10.95" width="1.66" height="1.40" fill="#ffffff" />
<rect x="241.14" y="13.35" width="2.56" height="1.20" fill="#ffffff" />
<rect x="241.10" y="14.45" width="2.61" height="1.30" fill="#ffffff" />
<rect x="241.29" y="17.95" width="2.43" height="1.20" fill="#ffffff" />
<rect x="241.17" y="22.15" width="2.28" height="0.90" fill="#ffffff" />
<rect x="241.50" y="23.85" width="1.38" height="1.20" fill="#ffffff" />
<rect x="241.61" y="26.95" width="1.73" height="1.10" fill="#ffffff" />
<rect x="241.43" y="30.65" width="1.50" height="2.50" fill="#ffffff" />
<rect x="241.03" y="33.05" width="2.07" height="1.00" fill="#ffffff" />
<rect x="241.53" y="33.95" width="2.01" height="1.60" fill="#ffffff" />
<rect x="241.17" y="36.55" width="1.78" height="0.80" fill="#ffffff" />
<rect x="240.94" y="37.25" width="2.38" height="1.20" fill="#ffffff" />
<rect x="240.73" y="38.35" width="2.90" height="0.70" fill="#ffffff" />
<rect x="241.57" y="38.95" width="1.60" height="1.40" fill="#ffffff" />
<rect x="241.43" y="40.95" width="2.26" height="0.70" fill="#ffffff" />
<rect x="241.62" y="49.95" width="1.59" height="0.90" fill="#ffffff" />
<rect x="241.62" y="53.85" width="1.64" height="1.20" fill="#ffffff" />
<rect x="241.39" y="58.65" width="2.36" height="1.40" fill="#ffffff" />
<rect x="241.29" y="61.05" width="1.59" height="1.00" fill="#ffffff" />
<rect x="240.70" y="64.75" width="3.07" height="1.20" fill="#ffffff" />
<rect x="241.27" y="65.85" width="2.13" height="1.20" fill="#ffffff" />
<rect x="240.91" y="69.35" width="2.28" height="1.40" fill="#ffffff" />
<rect x="240.70" y="70.65" width="2.77" height="1.20" fill="#ffffff" />
<rect x="241.03" y="71.75" width="2.56" height="1.20" fill="#ffffff" />
<rect x="241.28" y="74.85" width="2.08" height="2.30" fill="#ffffff" />
<rect x="241.57" y="77.05" width="2.00" height="1.00" fill="#ffffff" />
<rect x="240.79" y="77.95" width="2.42" height="0.90" fill="#ffffff" />
<rect x="240.71" y="81.85" width="2.49" height="1.00" fill="#ffffff" />
<rect x="241.54" y="92.15" width="2.22" height="0.90" fill="#ffffff" />
<rect x="240.75" y="95.15" width="2.32" height="1.70" fill="#ffffff" />
<rect x="241.21" y="96.75" width="1.71" height="1.20" fill="#ffffff" />
<rect x="240.89" y="97.85" width="2.35" height="1.40" fill="#ffffff" />
<rect x="240.99" y="102.65" width="2.53" height="1.20" fill="#ffffff" />
<rect x="241.53" y="103.75" width="1.54" height="1.40" fill="#ffffff" />
<rect x="241.49" y="105.95" width="1.62" height="1.40" fill="#ffffff" />
<rect x="240.80" y="111.15" width="2.79" height="1.00" fill="#ffffff" />
<rect x="241.01" y="112.05" width="2.09" height="1.00" fill="#ffffff" />
<rect x="241.22" y="116.45" width="2.18" height="1.10" fill="#ffffff" />
<rect x="241.30" y="120.35" width="1.61" height="3.10" fill="#ffffff" />
<rect x="241.52" y="123.35" width="2.27" height="1.50" fill="#ffffff" />
<rect x="240.92" y="124.75" width="2.19" height="2.30" fill="#ffffff" />
<rect x="241.52" y="129.95" width="1.98" height="1.00" fill="#ffffff" />
<rect x="241.54" y="130.85" width="1.67" height="1.40" fill="#ffffff" />
<rect x="240.90" y="145.25" width="2.32" height="1.80" fill="#ffffff" />
<rect x="241.55" y="146.95" width="2.12" height="1.90" fill="#ffffff" />
<rect x="240.80" y="148.75" width="2.14" height="1.20" fill="#ffffff" />
<rect x="240.83" y="149.85" width="2.94" height="1.20" fill="#ffffff" />
<rect x="241.34" y="150.95" width="1.87" height="2.20" fill="#ffffff" />
<rect x="241.25" y="155.05" width="2.21" height="1.00" fill="#ffffff" />
<rect x="241.51" y="159.85" width="1.44" height="1.70" fill="#ffffff" />
<rect x="271.71" y="6.55" width="4.61" height="1.10" fill="#ffffff" />
<rect x="272.70" y="7.55" width="2.56" height="1.30" fill="#ffffff" />
<rect x="271.55" y="13.35" width="3.79" height="1.20" fill="#ffffff" />
<rect x="271.79" y="17.95" width="4.27" height="1.20" fill="#ffffff" />
<rect x="272.03" y="26.05" width="3.80" height="1.00" fill="#ffffff" />
<rect x="272.65" y="35.45" width="3.59" height="1.20" fill="#ffffff" />
<rect x="271.71" y="36.55" width="3.62" height="0.80" fill="#ffffff" />
<rect x="272.15" y="38.35" width="3.60" height="0.70" fill="#ffffff" />
<rect x="272.16" y="40.25" width="3.81" height="0.80" fill="#ffffff" />
<rect x="272.37" y="48.85" width="4.00" height="1.20" fill="#ffffff" />
<rect x="272.76" y="59.95" width="3.70" height="1.20" fill="#ffffff" />
<rect x="272.69" y="77.95" width="2.80" height="0.90" fill="#ffffff" />
<rect x="272.07" y="79.85" width="3.25" height="1.00" fill="#ffffff" />
<rect x="272.11" y="81.85" width="3.04" height="1.00" fill="#ffffff" />
<rect x="271.86" y="84.45" width="3.56" height="1.20" fill="#ffffff" />
<rect x="271.64" y="87.15" width="4.48" height="1.20" fill="#ffffff" />
<rect x="271.90" y="92.15" width="4.31" height="0.90" fill="#ffffff" />
<rect x="272.87" y="95.15" width="3.47" height="1.70" fill="#ffffff" />
<rect x="272.38" y="102.65" width="3.96" height="1.20" fill="#ffffff" />
<rect x="272.01" y="105.95" width="3.28" height="1.40" fill="#ffffff" />
<rect x="272.32" y="112.05" width="3.56" height="1.00" fill="#ffffff" />
<rect x="272.04" y="136.55" width="3.26" height="1.60" fill="#ffffff" />
<rect x="272.40" y="150.95" width="2.91" height="2.20" fill="#ffffff" />
<rect x="272.23" y="155.95" width="4.02" height="2.10" fill="#ffffff" />
<rect x="184.00" y="23.85" width="2.00" height="1.20" fill="#ffffff" />
<rect x="184.00" y="26.95" width="2.00" height="1.10" fill="#ffffff" />
<rect x="184.00" y="71.75" width="2.00" height="1.20" fill="#ffffff" />
<rect x="184.00" y="85.55" width="2.00" height="1.70" fill="#ffffff" />
<rect x="184.00" y="95.15" width="2.00" height="1.70" fill="#ffffff" />
<rect x="184.00" y="96.75" width="2.00" height="1.20" fill="#ffffff" />
<rect x="184.00" y="136.55" width="2.00" height="1.60" fill="#ffffff" />
<rect x="184.00" y="146.95" width="2.00" height="1.90" fill="#ffffff" />
<rect x="184.00" y="158.75" width="2.00" height="1.20" fill="#ffffff" />
<rect x="66.50" y="6.55" width="1.00" height="1.10" fill="#ffffff" />
<rect x="66.50" y="16.85" width="1.00" height="1.20" fill="#ffffff" />
<rect x="66.50" y="48.85" width="1.00" height="1.20" fill="#ffffff" />
<rect x="66.50" y="53.85" width="1.00" height="1.20" fill="#ffffff" />
<rect x="66.50" y="55.85" width="1.00" height="2.00" fill="#ffffff" />
<rect x="66.50" y="77.05" width="1.00" height="1.00" fill="#ffffff" />
<rect x="66.50" y="78.75" width="1.00" height="1.20" fill="#ffffff" />
<rect x="66.50" y="97.85" width="1.00" height="1.40" fill="#ffffff" />
<rect x="66.50" y="99.75" width="1.00" height="1.90" fill="#ffffff" />
<rect x="66.50" y="101.55" width="1.00" height="1.20" fill="#ffffff" />
<rect x="66.50" y="107.25" width="1.00" height="1.20" fill="#ffffff" />
<rect x="66.50" y="114.65" width="1.00" height="1.90" fill="#ffffff" />
<rect x="66.50" y="120.35" width="1.00" height="3.10" fill="#ffffff" />
<rect x="66.50" y="123.35" width="1.00" height="1.50" fill="#ffffff" />
<rect x="66.50" y="129.95" width="1.00" height="1.00" fill="#ffffff" />
<rect x="66.50" y="133.05" width="1.00" height="1.60" fill="#ffffff" />
<rect x="66.50" y="139.15" width="1.00" height="1.40" fill="#ffffff" />
<rect x="66.50" y="146.95" width="1.00" height="1.90" fill="#ffffff" />
<rect x="66.50" y="157.95" width="1.00" height="0.90" fill="#ffffff" />
<rect x="66.50" y="158.75" width="1.00" height="1.20" fill="#ffffff" />
<rect x="196.50" y="6.55" width="1.00" height="1.10" fill="#ffffff" />
<rect x="196.50" y="13.35" width="1.00" height="1.20" fill="#ffffff" />
<rect x="196.50" y="33.05" width="1.00" height="1.00" fill="#ffffff" />
<rect x="196.50" y="52.75" width="1.00" height="1.20" fill="#ffffff" />
<rect x="196.50" y="59.95" width="1.00" height="1.20" fill="#ffffff" />
<rect x="196.50" y="72.85" width="1.00" height="1.00" fill="#ffffff" />
<rect x="196.50" y="92.15" width="1.00" height="0.90" fill="#ffffff" />
<rect x="196.50" y="113.75" width="1.00" height="1.00" fill="#ffffff" />
<rect x="196.50" y="129.95" width="1.00" height="1.00" fill="#ffffff" />
<rect x="196.50" y="130.85" width="1.00" height="1.40" fill="#ffffff" />
<rect x="196.50" y="148.75" width="1.00" height="1.20" fill="#ffffff" />
<rect x="196.50" y="153.05" width="1.00" height="1.00" fill="#ffffff" />
<rect x="196.50" y="153.95" width="1.00" height="1.20" fill="#ffffff" />
<rect x="479.80" y="5.70" width="1.20" height="0.95" fill="#ffffff" />
<rect x="479.80" y="6.55" width="1.20" height="1.10" fill="#ffffff" />
<rect x="479.80" y="7.55" width="1.20" height="1.30" fill="#ffffff" />
<rect x="479.80" y="8.75" width="1.20" height="1.00" fill="#ffffff" />
<rect x="479.80" y="10.95" width="1.20" height="1.40" fill="#ffffff" />
<rect x="479.80" y="12.25" width="1.20" height="1.20" fill="#ffffff" />
<rect x="479.80" y="13.35" width="1.20" height="1.20" fill="#ffffff" />
<rect x="479.80" y="15.65" width="1.20" height="1.30" fill="#ffffff" />
<rect x="479.80" y="16.85" width="1.20" height="1.20" fill="#ffffff" />
<rect x="479.80" y="17.95" width="1.20" height="1.20" fill="#ffffff" />
<rect x="479.80" y="19.05" width="1.20" height="1.00" fill="#ffffff" />
<rect x="479.80" y="22.15" width="1.20" height="0.90" fill="#ffffff" />
<rect x="479.80" y="22.95" width="1.20" height="1.00" fill="#ffffff" />
<rect x="479.80" y="23.85" width="1.20" height="1.20" fill="#ffffff" />
<rect x="479.80" y="24.95" width="1.20" height="1.20" fill="#ffffff" />
<rect x="479.80" y="27.95" width="1.20" height="1.30" fill="#ffffff" />
<rect x="479.80" y="29.15" width="1.20" height="1.60" fill="#ffffff" />
<rect x="479.80" y="30.65" width="1.20" height="2.50" fill="#ffffff" />
<rect x="479.80" y="33.05" width="1.20" height="1.00" fill="#ffffff" />
<rect x="479.80" y="33.95" width="1.20" height="1.60" fill="#ffffff" />
<rect x="479.80" y="36.55" width="1.20" height="0.80" fill="#ffffff" />
<rect x="479.80" y="37.25" width="1.20" height="1.20" fill="#ffffff" />
<rect x="479.80" y="38.35" width="1.20" height="0.70" fill="#ffffff" />
<rect x="479.80" y="40.25" width="1.20" height="0.80" fill="#ffffff" />
<rect x="479.80" y="40.95" width="1.20" height="0.70" fill="#ffffff" />
<rect x="479.80" y="41.55" width="1.20" height="1.50" fill="#ffffff" />
<rect x="479.80" y="42.95" width="1.20" height="0.80" fill="#ffffff" />
<rect x="479.80" y="43.65" width="1.20" height="1.80" fill="#ffffff" />
<rect x="479.80" y="45.35" width="1.20" height="1.60" fill="#ffffff" />
<rect x="479.80" y="46.85" width="1.20" height="1.00" fill="#ffffff" />
<rect x="479.80" y="47.75" width="1.20" height="1.20" fill="#ffffff" />
<rect x="479.80" y="48.85" width="1.20" height="1.20" fill="#ffffff" />
<rect x="479.80" y="49.95" width="1.20" height="0.90" fill="#ffffff" />
<rect x="479.80" y="50.75" width="1.20" height="2.10" fill="#ffffff" />
<rect x="479.80" y="52.75" width="1.20" height="1.20" fill="#ffffff" />
<rect x="479.80" y="53.85" width="1.20" height="1.20" fill="#ffffff" />
<rect x="479.80" y="54.95" width="1.20" height="1.00" fill="#ffffff" />
<rect x="479.80" y="55.85" width="1.20" height="2.00" fill="#ffffff" />
<rect x="479.80" y="57.75" width="1.20" height="1.00" fill="#ffffff" />
<rect x="479.80" y="58.65" width="1.20" height="1.40" fill="#ffffff" />
<rect x="479.80" y="61.05" width="1.20" height="1.00" fill="#ffffff" />
<rect x="479.80" y="65.85" width="1.20" height="1.20" fill="#ffffff" />
<rect x="479.80" y="66.95" width="1.20" height="1.20" fill="#ffffff" />
<rect x="479.80" y="68.05" width="1.20" height="1.40" fill="#ffffff" />
<rect x="479.80" y="70.65" width="1.20" height="1.20" fill="#ffffff" />
<rect x="479.80" y="71.75" width="1.20" height="1.20" fill="#ffffff" />
<rect x="479.80" y="72.85" width="1.20" height="1.00" fill="#ffffff" />
<rect x="479.80" y="73.75" width="1.20" height="1.20" fill="#ffffff" />
<rect x="479.80" y="74.85" width="1.20" height="2.30" fill="#ffffff" />
<rect x="479.80" y="77.05" width="1.20" height="1.00" fill="#ffffff" />
<rect x="479.80" y="77.95" width="1.20" height="0.90" fill="#ffffff" />
<rect x="479.80" y="78.75" width="1.20" height="1.20" fill="#ffffff" />
<rect x="479.80" y="79.85" width="1.20" height="1.00" fill="#ffffff" />
<rect x="479.80" y="80.75" width="1.20" height="1.20" fill="#ffffff" />
<rect x="479.80" y="81.85" width="1.20" height="1.00" fill="#ffffff" />
<rect x="479.80" y="82.75" width="1.20" height="1.80" fill="#ffffff" />
<rect x="479.80" y="84.45" width="1.20" height="1.20" fill="#ffffff" />
<rect x="479.80" y="87.15" width="1.20" height="1.20" fill="#ffffff" />
<rect x="479.80" y="88.25" width="1.20" height="2.00" fill="#ffffff" />
<rect x="479.80" y="90.15" width="1.20" height="2.10" fill="#ffffff" />
<rect x="479.80" y="92.15" width="1.20" height="0.90" fill="#ffffff" />
<rect x="479.80" y="92.95" width="1.20" height="1.00" fill="#ffffff" />
<rect x="479.80" y="93.85" width="1.20" height="1.40" fill="#ffffff" />
<rect x="479.80" y="95.15" width="1.20" height="1.70" fill="#ffffff" />
<rect x="479.80" y="96.75" width="1.20" height="1.20" fill="#ffffff" />
<rect x="479.80" y="97.85" width="1.20" height="1.40" fill="#ffffff" />
<rect x="479.80" y="99.75" width="1.20" height="1.90" fill="#ffffff" />
<rect x="479.80" y="102.65" width="1.20" height="1.20" fill="#ffffff" />
<rect x="479.80" y="105.05" width="1.20" height="1.00" fill="#ffffff" />
<rect x="479.80" y="105.95" width="1.20" height="1.40" fill="#ffffff" />
<rect x="479.80" y="107.25" width="1.20" height="1.20" fill="#ffffff" />
<rect x="479.80" y="108.35" width="1.20" height="1.60" fill="#ffffff" />
<rect x="479.80" y="109.85" width="1.20" height="1.40" fill="#ffffff" />
<rect x="479.80" y="111.15" width="1.20" height="1.00" fill="#ffffff" />
<rect x="479.80" y="112.05" width="1.20" height="1.00" fill="#ffffff" />
<rect x="479.80" y="116.45" width="1.20" height="1.10" fill="#ffffff" />
<rect x="479.80" y="117.45" width="1.20" height="2.10" fill="#ffffff" />
<rect x="479.80" y="120.35" width="1.20" height="3.10" fill="#ffffff" />
<rect x="479.80" y="123.35" width="1.20" height="1.50" fill="#ffffff" />
<rect x="479.80" y="124.75" width="1.20" height="2.30" fill="#ffffff" />
<rect x="479.80" y="127.75" width="1.20" height="2.30" fill="#ffffff" />
<rect x="479.80" y="129.95" width="1.20" height="1.00" fill="#ffffff" />
<rect x="479.80" y="130.85" width="1.20" height="1.40" fill="#ffffff" />
<rect x="479.80" y="132.15" width="1.20" height="1.00" fill="#ffffff" />
<rect x="479.80" y="133.05" width="1.20" height="1.60" fill="#ffffff" />
<rect x="479.80" y="134.55" width="1.20" height="1.40" fill="#ffffff" />
<rect x="479.80" y="135.85" width="1.20" height="0.80" fill="#ffffff" />
<rect x="479.80" y="136.55" width="1.20" height="1.60" fill="#ffffff" />
<rect x="479.80" y="138.05" width="1.20" height="1.20" fill="#ffffff" />
<rect x="479.80" y="140.45" width="1.20" height="2.90" fill="#ffffff" />
<rect x="479.80" y="143.25" width="1.20" height="1.00" fill="#ffffff" />
<rect x="479.80" y="144.15" width="1.20" height="1.20" fill="#ffffff" />
<rect x="479.80" y="145.25" width="1.20" height="1.80" fill="#ffffff" />
<rect x="479.80" y="146.95" width="1.20" height="1.90" fill="#ffffff" />
<rect x="479.80" y="148.75" width="1.20" height="1.20" fill="#ffffff" />
<rect x="479.80" y="149.85" width="1.20" height="1.20" fill="#ffffff" />
<rect x="479.80" y="150.95" width="1.20" height="2.20" fill="#ffffff" />
<rect x="479.80" y="153.05" width="1.20" height="1.00" fill="#ffffff" />
<rect x="479.80" y="153.95" width="1.20" height="1.20" fill="#ffffff" />
<rect x="479.80" y="155.05" width="1.20" height="1.00" fill="#ffffff" />
<rect x="479.80" y="155.95" width="1.20" height="2.10" fill="#ffffff" />
<rect x="479.80" y="157.95" width="1.20" height="0.90" fill="#ffffff" />
<rect x="479.80" y="158.75" width="1.20" height="1.20" fill="#ffffff" />
<rect x="479.80" y="159.85" width="1.20" height="1.70" fill="#ffffff" />
<rect x="498.80" y="7.55" width="1.20" height="1.30" fill="#ffffff" />
<rect x="498.80" y="8.75" width="1.20" height="1.00" fill="#ffffff" />
<rect x="498.80" y="13.35" width="1.20" height="1.20" fill="#ffffff" />
<rect x="498.80" y="15.65" width="1.20" height="1.30" fill="#ffffff" />
<rect x="498.80" y="19.95" width="1.20" height="1.00" fill="#ffffff" />
<rect x="498.80" y="23.85" width="1.20" height="1.20" fill="#ffffff" />
<rect x="498.80" y="24.95" width="1.20" height="1.20" fill="#ffffff" />
<rect x="498.80" y="26.95" width="1.20" height="1.10" fill="#ffffff" />
<rect x="498.80" y="27.95" width="1.20" height="1.30" fill="#ffffff" />
<rect x="498.80" y="29.15" width="1.20" height="1.60" fill="#ffffff" />
<rect x="498.80" y="33.05" width="1.20" height="1.00" fill="#ffffff" />
<rect x="498.80" y="37.25" width="1.20" height="1.20" fill="#ffffff" />
<rect x="498.80" y="40.95" width="1.20" height="0.70" fill="#ffffff" />
<rect x="498.80" y="42.95" width="1.20" height="0.80" fill="#ffffff" />
<rect x="498.80" y="45.35" width="1.20" height="1.60" fill="#ffffff" />
<rect x="498.80" y="53.85" width="1.20" height="1.20" fill="#ffffff" />
<rect x="498.80" y="55.85" width="1.20" height="2.00" fill="#ffffff" />
<rect x="498.80" y="57.75" width="1.20" height="1.00" fill="#ffffff" />
<rect x="498.80" y="58.65" width="1.20" height="1.40" fill="#ffffff" />
<rect x="498.80" y="59.95" width="1.20" height="1.20" fill="#ffffff" />
<rect x="498.80" y="61.95" width="1.20" height="1.60" fill="#ffffff" />
<rect x="498.80" y="63.45" width="1.20" height="1.40" fill="#ffffff" />
<rect x="498.80" y="65.85" width="1.20" height="1.20" fill="#ffffff" />
<rect x="498.80" y="66.95" width="1.20" height="1.20" fill="#ffffff" />
<rect x="498.80" y="72.85" width="1.20" height="1.00" fill="#ffffff" />
<rect x="498.80" y="77.05" width="1.20" height="1.00" fill="#ffffff" />
<rect x="498.80" y="77.95" width="1.20" height="0.90" fill="#ffffff" />
<rect x="498.80" y="80.75" width="1.20" height="1.20" fill="#ffffff" />
<rect x="498.80" y="81.85" width="1.20" height="1.00" fill="#ffffff" />
<rect x="498.80" y="84.45" width="1.20" height="1.20" fill="#ffffff" />
<rect x="498.80" y="88.25" width="1.20" height="2.00" fill="#ffffff" />
<rect x="498.80" y="92.95" width="1.20" height="1.00" fill="#ffffff" />
<rect x="498.80" y="96.75" width="1.20" height="1.20" fill="#ffffff" />
<rect x="498.80" y="101.55" width="1.20" height="1.20" fill="#ffffff" />
<rect x="498.80" y="105.05" width="1.20" height="1.00" fill="#ffffff" />
<rect x="498.80" y="105.95" width="1.20" height="1.40" fill="#ffffff" />
<rect x="498.80" y="107.25" width="1.20" height="1.20" fill="#ffffff" />
<rect x="498.80" y="114.65" width="1.20" height="1.90" fill="#ffffff" />
<rect x="498.80" y="120.35" width="1.20" height="3.10" fill="#ffffff" />
<rect x="498.80" y="126.95" width="1.20" height="0.90" fill="#ffffff" />
<rect x="498.80" y="129.95" width="1.20" height="1.00" fill="#ffffff" />
<rect x="498.80" y="133.05" width="1.20" height="1.60" fill="#ffffff" />
<rect x="498.80" y="134.55" width="1.20" height="1.40" fill="#ffffff" />
<rect x="498.80" y="145.25" width="1.20" height="1.80" fill="#ffffff" />
<rect x="498.80" y="148.75" width="1.20" height="1.20" fill="#ffffff" />
<rect x="498.80" y="150.95" width="1.20" height="2.20" fill="#ffffff" />
<rect x="498.80" y="155.95" width="1.20" height="2.10" fill="#ffffff" />
<rect x="370.20" y="5.70" width="1.60" height="0.95" fill="#ffffff" />
<rect x="370.20" y="6.55" width="1.60" height="1.10" fill="#ffffff" />
<rect x="370.20" y="7.55" width="1.60" height="1.30" fill="#ffffff" />
<rect x="370.20" y="8.75" width="1.60" height="1.00" fill="#ffffff" />
<rect x="370.20" y="9.65" width="1.60" height="1.40" fill="#ffffff" />
<rect x="370.20" y="12.25" width="1.60" height="1.20" fill="#ffffff" />
<rect x="370.20" y="13.35" width="1.60" height="1.20" fill="#ffffff" />
<rect x="370.20" y="14.45" width="1.60" height="1.30" fill="#ffffff" />
<rect x="370.20" y="15.65" width="1.60" height="1.30" fill="#ffffff" />
<rect x="370.20" y="16.85" width="1.60" height="1.20" fill="#ffffff" />
<rect x="370.20" y="17.95" width="1.60" height="1.20" fill="#ffffff" />
<rect x="370.20" y="19.05" width="1.60" height="1.00" fill="#ffffff" />
<rect x="370.20" y="19.95" width="1.60" height="1.00" fill="#ffffff" />
<rect x="370.20" y="20.85" width="1.60" height="1.40" fill="#ffffff" />
<rect x="370.20" y="22.15" width="1.60" height="0.90" fill="#ffffff" />
<rect x="370.20" y="22.95" width="1.60" height="1.00" fill="#ffffff" />
<rect x="370.20" y="23.85" width="1.60" height="1.20" fill="#ffffff" />
<rect x="370.20" y="24.95" width="1.60" height="1.20" fill="#ffffff" />
<rect x="370.20" y="26.05" width="1.60" height="1.00" fill="#ffffff" />
<rect x="370.20" y="26.95" width="1.60" height="1.10" fill="#ffffff" />
<rect x="370.20" y="27.95" width="1.60" height="1.30" fill="#ffffff" />
<rect x="370.20" y="29.15" width="1.60" height="1.60" fill="#ffffff" />
<rect x="370.20" y="30.65" width="1.60" height="2.50" fill="#ffffff" />
<rect x="370.20" y="33.05" width="1.60" height="1.00" fill="#ffffff" />
<rect x="370.20" y="33.95" width="1.60" height="1.60" fill="#ffffff" />
<rect x="370.20" y="35.45" width="1.60" height="1.20" fill="#ffffff" />
<rect x="370.20" y="36.55" width="1.60" height="0.80" fill="#ffffff" />
<rect x="370.20" y="37.25" width="1.60" height="1.20" fill="#ffffff" />
<rect x="370.20" y="38.35" width="1.60" height="0.70" fill="#ffffff" />
<rect x="370.20" y="38.95" width="1.60" height="1.40" fill="#ffffff" />
<rect x="370.20" y="40.25" width="1.60" height="0.80" fill="#ffffff" />
<rect x="370.20" y="40.95" width="1.60" height="0.70" fill="#ffffff" />
<rect x="370.20" y="41.55" width="1.60" height="1.50" fill="#ffffff" />
<rect x="370.20" y="42.95" width="1.60" height="0.80" fill="#ffffff" />
<rect x="370.20" y="43.65" width="1.60" height="1.80" fill="#ffffff" />
<rect x="370.20" y="45.35" width="1.60" height="1.60" fill="#ffffff" />
<rect x="370.20" y="47.75" width="1.60" height="1.20" fill="#ffffff" />
<rect x="370.20" y="48.85" width="1.60" height="1.20" fill="#ffffff" />
<rect x="370.20" y="49.95" width="1.60" height="0.90" fill="#ffffff" />
<rect x="370.20" y="50.75" width="1.60" height="2.10" fill="#ffffff" />
<rect x="370.20" y="53.85" width="1.60" height="1.20" fill="#ffffff" />
<rect x="370.20" y="54.95" width="1.60" height="1.00" fill="#ffffff" />
<rect x="370.20" y="55.85" width="1.60" height="2.00" fill="#ffffff" />
<rect x="370.20" y="57.75" width="1.60" height="1.00" fill="#ffffff" />
<rect x="370.20" y="59.95" width="1.60" height="1.20" fill="#ffffff" />
<rect x="370.20" y="61.05" width="1.60" height="1.00" fill="#ffffff" />
<rect x="370.20" y="61.95" width="1.60" height="1.60" fill="#ffffff" />
<rect x="370.20" y="63.45" width="1.60" height="1.40" fill="#ffffff" />
<rect x="370.20" y="64.75" width="1.60" height="1.20" fill="#ffffff" />
<rect x="370.20" y="65.85" width="1.60" height="1.20" fill="#ffffff" />
<rect x="370.20" y="66.95" width="1.60" height="1.20" fill="#ffffff" />
<rect x="370.20" y="69.35" width="1.60" height="1.40" fill="#ffffff" />
<rect x="370.20" y="70.65" width="1.60" height="1.20" fill="#ffffff" />
<rect x="370.20" y="71.75" width="1.60" height="1.20" fill="#ffffff" />
<rect x="370.20" y="72.85" width="1.60" height="1.00" fill="#ffffff" />
<rect x="370.20" y="73.75" width="1.60" height="1.20" fill="#ffffff" />
<rect x="370.20" y="74.85" width="1.60" height="2.30" fill="#ffffff" />
<rect x="370.20" y="77.05" width="1.60" height="1.00" fill="#ffffff" />
<rect x="370.20" y="77.95" width="1.60" height="0.90" fill="#ffffff" />
<rect x="370.20" y="78.75" width="1.60" height="1.20" fill="#ffffff" />
<rect x="370.20" y="79.85" width="1.60" height="1.00" fill="#ffffff" />
<rect x="370.20" y="80.75" width="1.60" height="1.20" fill="#ffffff" />
<rect x="370.20" y="81.85" width="1.60" height="1.00" fill="#ffffff" />
<rect x="370.20" y="82.75" width="1.60" height="1.80" fill="#ffffff" />
<rect x="370.20" y="84.45" width="1.60" height="1.20" fill="#ffffff" />
<rect x="370.20" y="85.55" width="1.60" height="1.70" fill="#ffffff" />
<rect x="370.20" y="88.25" width="1.60" height="2.00" fill="#ffffff" />
<rect x="370.20" y="92.15" width="1.60" height="0.90" fill="#ffffff" />
<rect x="370.20" y="92.95" width="1.60" height="1.00" fill="#ffffff" />
<rect x="370.20" y="93.85" width="1.60" height="1.40" fill="#ffffff" />
<rect x="370.20" y="95.15" width="1.60" height="1.70" fill="#ffffff" />
<rect x="370.20" y="97.85" width="1.60" height="1.40" fill="#ffffff" />
<rect x="370.20" y="99.15" width="1.60" height="0.70" fill="#ffffff" />
<rect x="370.20" y="99.75" width="1.60" height="1.90" fill="#ffffff" />
<rect x="370.20" y="102.65" width="1.60" height="1.20" fill="#ffffff" />
<rect x="370.20" y="103.75" width="1.60" height="1.40" fill="#ffffff" />
<rect x="370.20" y="105.05" width="1.60" height="1.00" fill="#ffffff" />
<rect x="370.20" y="105.95" width="1.60" height="1.40" fill="#ffffff" />
<rect x="370.20" y="107.25" width="1.60" height="1.20" fill="#ffffff" />
<rect x="370.20" y="108.35" width="1.60" height="1.60" fill="#ffffff" />
<rect x="370.20" y="109.85" width="1.60" height="1.40" fill="#ffffff" />
<rect x="370.20" y="111.15" width="1.60" height="1.00" fill="#ffffff" />
<rect x="370.20" y="112.05" width="1.60" height="1.00" fill="#ffffff" />
<rect x="370.20" y="112.95" width="1.60" height="0.90" fill="#ffffff" />
<rect x="370.20" y="113.75" width="1.60" height="1.00" fill="#ffffff" />
<rect x="370.20" y="114.65" width="1.60" height="1.90" fill="#ffffff" />
<rect x="370.20" y="116.45" width="1.60" height="1.10" fill="#ffffff" />
<rect x="370.20" y="117.45" width="1.60" height="2.10" fill="#ffffff" />
<rect x="370.20" y="119.45" width="1.60" height="1.00" fill="#ffffff" />
<rect x="370.20" y="120.35" width="1.60" height="3.10" fill="#ffffff" />
<rect x="370.20" y="123.35" width="1.60" height="1.50" fill="#ffffff" />
<rect x="370.20" y="124.75" width="1.60" height="2.30" fill="#ffffff" />
<rect x="370.20" y="126.95" width="1.60" height="0.90" fill="#ffffff" />
<rect x="370.20" y="127.75" width="1.60" height="2.30" fill="#ffffff" />
<rect x="370.20" y="130.85" width="1.60" height="1.40" fill="#ffffff" />
<rect x="370.20" y="132.15" width="1.60" height="1.00" fill="#ffffff" />
<rect x="370.20" y="133.05" width="1.60" height="1.60" fill="#ffffff" />
<rect x="370.20" y="135.85" width="1.60" height="0.80" fill="#ffffff" />
<rect x="370.20" y="136.55" width="1.60" height="1.60" fill="#ffffff" />
<rect x="370.20" y="139.15" width="1.60" height="1.40" fill="#ffffff" />
<rect x="370.20" y="140.45" width="1.60" height="2.90" fill="#ffffff" />
<rect x="370.20" y="143.25" width="1.60" height="1.00" fill="#ffffff" />
<rect x="370.20" y="144.15" width="1.60" height="1.20" fill="#ffffff" />
<rect x="370.20" y="146.95" width="1.60" height="1.90" fill="#ffffff" />
<rect x="370.20" y="148.75" width="1.60" height="1.20" fill="#ffffff" />
<rect x="370.20" y="150.95" width="1.60" height="2.20" fill="#ffffff" />
<rect x="370.20" y="153.05" width="1.60" height="1.00" fill="#ffffff" />
<rect x="370.20" y="153.95" width="1.60" height="1.20" fill="#ffffff" />
<rect x="370.20" y="155.05" width="1.60" height="1.00" fill="#ffffff" />
<rect x="370.20" y="155.95" width="1.60" height="2.10" fill="#ffffff" />
<rect x="370.20" y="157.95" width="1.60" height="0.90" fill="#ffffff" />
<rect x="370.20" y="158.75" width="1.60" height="1.20" fill="#ffffff" />
<rect x="377.10" y="6.55" width="1.60" height="1.10" fill="#ffffff" />
<rect x="377.10" y="7.55" width="1.60" height="1.30" fill="#ffffff" />
<rect x="377.10" y="8.75" width="1.60" height="1.00" fill="#ffffff" />
<rect x="377.10" y="9.65" width="1.60" height="1.40" fill="#ffffff" />
<rect x="377.10" y="10.95" width="1.60" height="1.40" fill="#ffffff" />
<rect x="377.10" y="12.25" width="1.60" height="1.20" fill="#ffffff" />
<rect x="377.10" y="15.65" width="1.60" height="1.30" fill="#ffffff" />
<rect x="377.10" y="16.85" width="1.60" height="1.20" fill="#ffffff" />
<rect x="377.10" y="19.95" width="1.60" height="1.00" fill="#ffffff" />
<rect x="377.10" y="20.85" width="1.60" height="1.40" fill="#ffffff" />
<rect x="377.10" y="22.95" width="1.60" height="1.00" fill="#ffffff" />
<rect x="377.10" y="23.85" width="1.60" height="1.20" fill="#ffffff" />
<rect x="377.10" y="26.95" width="1.60" height="1.10" fill="#ffffff" />
<rect x="377.10" y="27.95" width="1.60" height="1.30" fill="#ffffff" />
<rect x="377.10" y="36.55" width="1.60" height="0.80" fill="#ffffff" />
<rect x="377.10" y="37.25" width="1.60" height="1.20" fill="#ffffff" />
<rect x="377.10" y="38.35" width="1.60" height="0.70" fill="#ffffff" />
<rect x="377.10" y="38.95" width="1.60" height="1.40" fill="#ffffff" />
<rect x="377.10" y="40.25" width="1.60" height="0.80" fill="#ffffff" />
<rect x="377.10" y="40.95" width="1.60" height="0.70" fill="#ffffff" />
<rect x="377.10" y="41.55" width="1.60" height="1.50" fill="#ffffff" />
<rect x="377.10" y="45.35" width="1.60" height="1.60" fill="#ffffff" />
<rect x="377.10" y="48.85" width="1.60" height="1.20" fill="#ffffff" />
<rect x="377.10" y="49.95" width="1.60" height="0.90" fill="#ffffff" />
<rect x="377.10" y="52.75" width="1.60" height="1.20" fill="#ffffff" />
<rect x="377.10" y="54.95" width="1.60" height="1.00" fill="#ffffff" />
<rect x="377.10" y="55.85" width="1.60" height="2.00" fill="#ffffff" />
<rect x="377.10" y="58.65" width="1.60" height="1.40" fill="#ffffff" />
<rect x="377.10" y="61.05" width="1.60" height="1.00" fill="#ffffff" />
<rect x="377.10" y="61.95" width="1.60" height="1.60" fill="#ffffff" />
<rect x="377.10" y="63.45" width="1.60" height="1.40" fill="#ffffff" />
<rect x="377.10" y="64.75" width="1.60" height="1.20" fill="#ffffff" />
<rect x="377.10" y="66.95" width="1.60" height="1.20" fill="#ffffff" />
<rect x="377.10" y="69.35" width="1.60" height="1.40" fill="#ffffff" />
<rect x="377.10" y="70.65" width="1.60" height="1.20" fill="#ffffff" />
<rect x="377.10" y="71.75" width="1.60" height="1.20" fill="#ffffff" />
<rect x="377.10" y="72.85" width="1.60" height="1.00" fill="#ffffff" />
<rect x="377.10" y="74.85" width="1.60" height="2.30" fill="#ffffff" />
<rect x="377.10" y="77.05" width="1.60" height="1.00" fill="#ffffff" />
<rect x="377.10" y="77.95" width="1.60" height="0.90" fill="#ffffff" />
<rect x="377.10" y="78.75" width="1.60" height="1.20" fill="#ffffff" />
<rect x="377.10" y="82.75" width="1.60" height="1.80" fill="#ffffff" />
<rect x="377.10" y="84.45" width="1.60" height="1.20" fill="#ffffff" />
<rect x="377.10" y="87.15" width="1.60" height="1.20" fill="#ffffff" />
<rect x="377.10" y="90.15" width="1.60" height="2.10" fill="#ffffff" />
<rect x="377.10" y="92.15" width="1.60" height="0.90" fill="#ffffff" />
<rect x="377.10" y="92.95" width="1.60" height="1.00" fill="#ffffff" />
<rect x="377.10" y="93.85" width="1.60" height="1.40" fill="#ffffff" />
<rect x="377.10" y="96.75" width="1.60" height="1.20" fill="#ffffff" />
<rect x="377.10" y="97.85" width="1.60" height="1.40" fill="#ffffff" />
<rect x="377.10" y="99.15" width="1.60" height="0.70" fill="#ffffff" />
<rect x="377.10" y="99.75" width="1.60" height="1.90" fill="#ffffff" />
<rect x="377.10" y="101.55" width="1.60" height="1.20" fill="#ffffff" />
<rect x="377.10" y="103.75" width="1.60" height="1.40" fill="#ffffff" />
<rect x="377.10" y="105.95" width="1.60" height="1.40" fill="#ffffff" />
<rect x="377.10" y="108.35" width="1.60" height="1.60" fill="#ffffff" />
<rect x="377.10" y="109.85" width="1.60" height="1.40" fill="#ffffff" />
<rect x="377.10" y="112.95" width="1.60" height="0.90" fill="#ffffff" />
<rect x="377.10" y="116.45" width="1.60" height="1.10" fill="#ffffff" />
<rect x="377.10" y="120.35" width="1.60" height="3.10" fill="#ffffff" />
<rect x="377.10" y="124.75" width="1.60" height="2.30" fill="#ffffff" />
<rect x="377.10" y="126.95" width="1.60" height="0.90" fill="#ffffff" />
<rect x="377.10" y="129.95" width="1.60" height="1.00" fill="#ffffff" />
<rect x="377.10" y="130.85" width="1.60" height="1.40" fill="#ffffff" />
<rect x="377.10" y="133.05" width="1.60" height="1.60" fill="#ffffff" />
<rect x="377.10" y="135.85" width="1.60" height="0.80" fill="#ffffff" />
<rect x="377.10" y="136.55" width="1.60" height="1.60" fill="#ffffff" />
<rect x="377.10" y="138.05" width="1.60" height="1.20" fill="#ffffff" />
<rect x="377.10" y="139.15" width="1.60" height="1.40" fill="#ffffff" />
<rect x="377.10" y="143.25" width="1.60" height="1.00" fill="#ffffff" />
<rect x="377.10" y="144.15" width="1.60" height="1.20" fill="#ffffff" />
<rect x="377.10" y="145.25" width="1.60" height="1.80" fill="#ffffff" />
<rect x="377.10" y="146.95" width="1.60" height="1.90" fill="#ffffff" />
<rect x="377.10" y="148.75" width="1.60" height="1.20" fill="#ffffff" />
<rect x="377.10" y="149.85" width="1.60" height="1.20" fill="#ffffff" />
<rect x="377.10" y="150.95" width="1.60" height="2.20" fill="#ffffff" />
<rect x="377.10" y="153.05" width="1.60" height="1.00" fill="#ffffff" />
<rect x="377.10" y="155.05" width="1.60" height="1.00" fill="#ffffff" />
<rect x="377.10" y="155.95" width="1.60" height="2.10" fill="#ffffff" />
<rect x="377.10" y="157.95" width="1.60" height="0.90" fill="#ffffff" />
<rect x="377.10" y="158.75" width="1.60" height="1.20" fill="#ffffff" />
<rect x="377.10" y="159.85" width="1.60" height="1.70" fill="#ffffff" />
<rect x="384.00" y="5.70" width="1.20" height="0.95" fill="#ffffff" />
<rect x="384.00" y="8.75" width="1.20" height="1.00" fill="#ffffff" />
<rect x="384.00" y="10.95" width="1.20" height="1.40" fill="#ffffff" />
<rect x="384.00" y="14.45" width="1.20" height="1.30" fill="#ffffff" />
<rect x="384.00" y="19.05" width="1.20" height="1.00" fill="#ffffff" />
<rect x="384.00" y="29.15" width="1.20" height="1.60" fill="#ffffff" />
<rect x="384.00" y="40.95" width="1.20" height="0.70" fill="#ffffff" />
<rect x="384.00" y="52.75" width="1.20" height="1.20" fill="#ffffff" />
<rect x="384.00" y="53.85" width="1.20" height="1.20" fill="#ffffff" />
<rect x="384.00" y="58.65" width="1.20" height="1.40" fill="#ffffff" />
<rect x="384.00" y="64.75" width="1.20" height="1.20" fill="#ffffff" />
<rect x="384.00" y="68.05" width="1.20" height="1.40" fill="#ffffff" />
<rect x="384.00" y="77.95" width="1.20" height="0.90" fill="#ffffff" />
<rect x="384.00" y="79.85" width="1.20" height="1.00" fill="#ffffff" />
<rect x="384.00" y="93.85" width="1.20" height="1.40" fill="#ffffff" />
<rect x="384.00" y="95.15" width="1.20" height="1.70" fill="#ffffff" />
<rect x="384.00" y="99.75" width="1.20" height="1.90" fill="#ffffff" />
<rect x="384.00" y="101.55" width="1.20" height="1.20" fill="#ffffff" />
<rect x="384.00" y="102.65" width="1.20" height="1.20" fill="#ffffff" />
<rect x="384.00" y="103.75" width="1.20" height="1.40" fill="#ffffff" />
<rect x="384.00" y="107.25" width="1.20" height="1.20" fill="#ffffff" />
<rect x="384.00" y="111.15" width="1.20" height="1.00" fill="#ffffff" />
<rect x="384.00" y="120.35" width="1.20" height="3.10" fill="#ffffff" />
<rect x="384.00" y="127.75" width="1.20" height="2.30" fill="#ffffff" />
<rect x="384.00" y="132.15" width="1.20" height="1.00" fill="#ffffff" />
<rect x="384.00" y="134.55" width="1.20" height="1.40" fill="#ffffff" />
<rect x="384.00" y="140.45" width="1.20" height="2.90" fill="#ffffff" />
<rect x="384.00" y="149.85" width="1.20" height="1.20" fill="#ffffff" />
<rect x="416.30" y="5.70" width="1.60" height="0.95" fill="#ffffff" />
<rect x="416.30" y="7.55" width="1.60" height="1.30" fill="#ffffff" />
<rect x="416.30" y="10.95" width="1.60" height="1.40" fill="#ffffff" />
<rect x="416.30" y="13.35" width="1.60" height="1.20" fill="#ffffff" />
<rect x="416.30" y="16.85" width="1.60" height="1.20" fill="#ffffff" />
<rect x="416.30" y="22.15" width="1.60" height="0.90" fill="#ffffff" />
<rect x="416.30" y="22.95" width="1.60" height="1.00" fill="#ffffff" />
<rect x="416.30" y="23.85" width="1.60" height="1.20" fill="#ffffff" />
<rect x="416.30" y="24.95" width="1.60" height="1.20" fill="#ffffff" />
<rect x="416.30" y="26.05" width="1.60" height="1.00" fill="#ffffff" />
<rect x="416.30" y="26.95" width="1.60" height="1.10" fill="#ffffff" />
<rect x="416.30" y="27.95" width="1.60" height="1.30" fill="#ffffff" />
<rect x="416.30" y="33.05" width="1.60" height="1.00" fill="#ffffff" />
<rect x="416.30" y="33.95" width="1.60" height="1.60" fill="#ffffff" />
<rect x="416.30" y="36.55" width="1.60" height="0.80" fill="#ffffff" />
<rect x="416.30" y="38.35" width="1.60" height="0.70" fill="#ffffff" />
<rect x="416.30" y="38.95" width="1.60" height="1.40" fill="#ffffff" />
<rect x="416.30" y="40.95" width="1.60" height="0.70" fill="#ffffff" />
<rect x="416.30" y="42.95" width="1.60" height="0.80" fill="#ffffff" />
<rect x="416.30" y="47.75" width="1.60" height="1.20" fill="#ffffff" />
<rect x="416.30" y="50.75" width="1.60" height="2.10" fill="#ffffff" />
<rect x="416.30" y="54.95" width="1.60" height="1.00" fill="#ffffff" />
<rect x="416.30" y="55.85" width="1.60" height="2.00" fill="#ffffff" />
<rect x="416.30" y="57.75" width="1.60" height="1.00" fill="#ffffff" />
<rect x="416.30" y="58.65" width="1.60" height="1.40" fill="#ffffff" />
<rect x="416.30" y="59.95" width="1.60" height="1.20" fill="#ffffff" />
<rect x="416.30" y="61.05" width="1.60" height="1.00" fill="#ffffff" />
<rect x="416.30" y="61.95" width="1.60" height="1.60" fill="#ffffff" />
<rect x="416.30" y="64.75" width="1.60" height="1.20" fill="#ffffff" />
<rect x="416.30" y="65.85" width="1.60" height="1.20" fill="#ffffff" />
<rect x="416.30" y="66.95" width="1.60" height="1.20" fill="#ffffff" />
<rect x="416.30" y="68.05" width="1.60" height="1.40" fill="#ffffff" />
<rect x="416.30" y="69.35" width="1.60" height="1.40" fill="#ffffff" />
<rect x="416.30" y="70.65" width="1.60" height="1.20" fill="#ffffff" />
<rect x="416.30" y="71.75" width="1.60" height="1.20" fill="#ffffff" />
<rect x="416.30" y="72.85" width="1.60" height="1.00" fill="#ffffff" />
<rect x="416.30" y="77.05" width="1.60" height="1.00" fill="#ffffff" />
<rect x="416.30" y="80.75" width="1.60" height="1.20" fill="#ffffff" />
<rect x="416.30" y="81.85" width="1.60" height="1.00" fill="#ffffff" />
<rect x="416.30" y="82.75" width="1.60" height="1.80" fill="#ffffff" />
<rect x="416.30" y="84.45" width="1.60" height="1.20" fill="#ffffff" />
<rect x="416.30" y="87.15" width="1.60" height="1.20" fill="#ffffff" />
<rect x="416.30" y="95.15" width="1.60" height="1.70" fill="#ffffff" />
<rect x="416.30" y="96.75" width="1.60" height="1.20" fill="#ffffff" />
<rect x="416.30" y="97.85" width="1.60" height="1.40" fill="#ffffff" />
<rect x="416.30" y="99.15" width="1.60" height="0.70" fill="#ffffff" />
<rect x="416.30" y="102.65" width="1.60" height="1.20" fill="#ffffff" />
<rect x="416.30" y="103.75" width="1.60" height="1.40" fill="#ffffff" />
<rect x="416.30" y="108.35" width="1.60" height="1.60" fill="#ffffff" />
<rect x="416.30" y="112.95" width="1.60" height="0.90" fill="#ffffff" />
<rect x="416.30" y="113.75" width="1.60" height="1.00" fill="#ffffff" />
<rect x="416.30" y="116.45" width="1.60" height="1.10" fill="#ffffff" />
<rect x="416.30" y="117.45" width="1.60" height="2.10" fill="#ffffff" />
<rect x="416.30" y="120.35" width="1.60" height="3.10" fill="#ffffff" />
<rect x="416.30" y="124.75" width="1.60" height="2.30" fill="#ffffff" />
<rect x="416.30" y="126.95" width="1.60" height="0.90" fill="#ffffff" />
<rect x="416.30" y="135.85" width="1.60" height="0.80" fill="#ffffff" />
<rect x="416.30" y="136.55" width="1.60" height="1.60" fill="#ffffff" />
<rect x="416.30" y="138.05" width="1.60" height="1.20" fill="#ffffff" />
<rect x="416.30" y="139.15" width="1.60" height="1.40" fill="#ffffff" />
<rect x="416.30" y="143.25" width="1.60" height="1.00" fill="#ffffff" />
<rect x="416.30" y="145.25" width="1.60" height="1.80" fill="#ffffff" />
<rect x="416.30" y="146.95" width="1.60" height="1.90" fill="#ffffff" />
<rect x="416.30" y="149.85" width="1.60" height="1.20" fill="#ffffff" />
<rect x="416.30" y="150.95" width="1.60" height="2.20" fill="#ffffff" />
<rect x="416.30" y="153.05" width="1.60" height="1.00" fill="#ffffff" />
<rect x="416.30" y="153.95" width="1.60" height="1.20" fill="#ffffff" />
<rect x="416.30" y="155.95" width="1.60" height="2.10" fill="#ffffff" />
<rect x="429.40" y="5.70" width="1.80" height="0.95" fill="#ffffff" />
<rect x="429.40" y="6.55" width="1.80" height="1.10" fill="#ffffff" />
<rect x="429.40" y="9.65" width="1.80" height="1.40" fill="#ffffff" />
<rect x="429.40" y="10.95" width="1.80" height="1.40" fill="#ffffff" />
<rect x="429.40" y="12.25" width="1.80" height="1.20" fill="#ffffff" />
<rect x="429.40" y="16.85" width="1.80" height="1.20" fill="#ffffff" />
<rect x="429.40" y="17.95" width="1.80" height="1.20" fill="#ffffff" />
<rect x="429.40" y="19.05" width="1.80" height="1.00" fill="#ffffff" />
<rect x="429.40" y="20.85" width="1.80" height="1.40" fill="#ffffff" />
<rect x="429.40" y="22.15" width="1.80" height="0.90" fill="#ffffff" />
<rect x="429.40" y="22.95" width="1.80" height="1.00" fill="#ffffff" />
<rect x="429.40" y="23.85" width="1.80" height="1.20" fill="#ffffff" />
<rect x="429.40" y="24.95" width="1.80" height="1.20" fill="#ffffff" />
<rect x="429.40" y="35.45" width="1.80" height="1.20" fill="#ffffff" />
<rect x="429.40" y="38.35" width="1.80" height="0.70" fill="#ffffff" />
<rect x="429.40" y="40.95" width="1.80" height="0.70" fill="#ffffff" />
<rect x="429.40" y="42.95" width="1.80" height="0.80" fill="#ffffff" />
<rect x="429.40" y="43.65" width="1.80" height="1.80" fill="#ffffff" />
<rect x="429.40" y="46.85" width="1.80" height="1.00" fill="#ffffff" />
<rect x="429.40" y="47.75" width="1.80" height="1.20" fill="#ffffff" />
<rect x="429.40" y="49.95" width="1.80" height="0.90" fill="#ffffff" />
<rect x="429.40" y="50.75" width="1.80" height="2.10" fill="#ffffff" />
<rect x="429.40" y="53.85" width="1.80" height="1.20" fill="#ffffff" />
<rect x="429.40" y="55.85" width="1.80" height="2.00" fill="#ffffff" />
<rect x="429.40" y="59.95" width="1.80" height="1.20" fill="#ffffff" />
<rect x="429.40" y="61.05" width="1.80" height="1.00" fill="#ffffff" />
<rect x="429.40" y="61.95" width="1.80" height="1.60" fill="#ffffff" />
<rect x="429.40" y="65.85" width="1.80" height="1.20" fill="#ffffff" />
<rect x="429.40" y="68.05" width="1.80" height="1.40" fill="#ffffff" />
<rect x="429.40" y="69.35" width="1.80" height="1.40" fill="#ffffff" />
<rect x="429.40" y="71.75" width="1.80" height="1.20" fill="#ffffff" />
<rect x="429.40" y="72.85" width="1.80" height="1.00" fill="#ffffff" />
<rect x="429.40" y="74.85" width="1.80" height="2.30" fill="#ffffff" />
<rect x="429.40" y="77.95" width="1.80" height="0.90" fill="#ffffff" />
<rect x="429.40" y="80.75" width="1.80" height="1.20" fill="#ffffff" />
<rect x="429.40" y="81.85" width="1.80" height="1.00" fill="#ffffff" />
<rect x="429.40" y="82.75" width="1.80" height="1.80" fill="#ffffff" />
<rect x="429.40" y="84.45" width="1.80" height="1.20" fill="#ffffff" />
<rect x="429.40" y="92.15" width="1.80" height="0.90" fill="#ffffff" />
<rect x="429.40" y="95.15" width="1.80" height="1.70" fill="#ffffff" />
<rect x="429.40" y="97.85" width="1.80" height="1.40" fill="#ffffff" />
<rect x="429.40" y="99.15" width="1.80" height="0.70" fill="#ffffff" />
<rect x="429.40" y="103.75" width="1.80" height="1.40" fill="#ffffff" />
<rect x="429.40" y="105.95" width="1.80" height="1.40" fill="#ffffff" />
<rect x="429.40" y="107.25" width="1.80" height="1.20" fill="#ffffff" />
<rect x="429.40" y="108.35" width="1.80" height="1.60" fill="#ffffff" />
<rect x="429.40" y="109.85" width="1.80" height="1.40" fill="#ffffff" />
<rect x="429.40" y="112.05" width="1.80" height="1.00" fill="#ffffff" />
<rect x="429.40" y="112.95" width="1.80" height="0.90" fill="#ffffff" />
<rect x="429.40" y="114.65" width="1.80" height="1.90" fill="#ffffff" />
<rect x="429.40" y="126.95" width="1.80" height="0.90" fill="#ffffff" />
<rect x="429.40" y="129.95" width="1.80" height="1.00" fill="#ffffff" />
<rect x="429.40" y="134.55" width="1.80" height="1.40" fill="#ffffff" />
<rect x="429.40" y="135.85" width="1.80" height="0.80" fill="#ffffff" />
<rect x="429.40" y="140.45" width="1.80" height="2.90" fill="#ffffff" />
<rect x="429.40" y="144.15" width="1.80" height="1.20" fill="#ffffff" />
<rect x="429.40" y="148.75" width="1.80" height="1.20" fill="#ffffff" />
<rect x="429.40" y="153.05" width="1.80" height="1.00" fill="#ffffff" />
<rect x="429.40" y="153.95" width="1.80" height="1.20" fill="#ffffff" />
<rect x="429.40" y="155.05" width="1.80" height="1.00" fill="#ffffff" />
<rect x="429.40" y="158.75" width="1.80" height="1.20" fill="#ffffff" />
<rect x="429.40" y="159.85" width="1.80" height="1.70" fill="#ffffff" />
<rect x="537.00" y="5.70" width="5.30" height="0.95" fill="#ffffff" />
<rect x="537.00" y="7.55" width="5.30" height="1.30" fill="#ffffff" />
<rect x="538.87" y="8.75" width="3.43" height="1.00" fill="#ffffff" />
<rect x="539.14" y="9.65" width="3.16" height="1.40" fill="#ffffff" />
<rect x="537.00" y="10.95" width="5.30" height="1.40" fill="#ffffff" />
<rect x="540.07" y="13.35" width="2.23" height="1.20" fill="#ffffff" />
<rect x="537.00" y="16.85" width="5.30" height="1.20" fill="#ffffff" />
<rect x="537.00" y="17.95" width="5.30" height="1.20" fill="#ffffff" />
<rect x="537.00" y="19.05" width="5.30" height="1.00" fill="#ffffff" />
<rect x="540.62" y="19.95" width="1.68" height="1.00" fill="#ffffff" />
<rect x="537.00" y="22.15" width="5.30" height="0.90" fill="#ffffff" />
<rect x="537.00" y="22.95" width="5.30" height="1.00" fill="#ffffff" />
<rect x="539.18" y="24.95" width="3.12" height="1.20" fill="#ffffff" />
<rect x="537.00" y="26.05" width="5.30" height="1.00" fill="#ffffff" />
<rect x="537.00" y="26.95" width="5.30" height="1.10" fill="#ffffff" />
<rect x="537.00" y="29.15" width="5.30" height="1.60" fill="#ffffff" />
<rect x="538.23" y="33.05" width="4.07" height="1.00" fill="#ffffff" />
<rect x="537.00" y="33.95" width="5.30" height="1.60" fill="#ffffff" />
<rect x="537.00" y="35.45" width="5.30" height="1.20" fill="#ffffff" />
<rect x="538.13" y="37.25" width="4.17" height="1.20" fill="#ffffff" />
<rect x="537.00" y="38.35" width="5.30" height="0.70" fill="#ffffff" />
<rect x="537.00" y="38.95" width="5.30" height="1.40" fill="#ffffff" />
<rect x="537.00" y="40.25" width="5.30" height="0.80" fill="#ffffff" />
<rect x="539.16" y="40.95" width="3.14" height="0.70" fill="#ffffff" />
<rect x="537.00" y="41.55" width="5.30" height="1.50" fill="#ffffff" />
<rect x="537.00" y="42.95" width="5.30" height="0.80" fill="#ffffff" />
<rect x="539.00" y="43.65" width="3.30" height="1.80" fill="#ffffff" />
<rect x="537.00" y="45.35" width="5.30" height="1.60" fill="#ffffff" />
<rect x="537.00" y="46.85" width="5.30" height="1.00" fill="#ffffff" />
<rect x="537.00" y="48.85" width="5.30" height="1.20" fill="#ffffff" />
<rect x="537.00" y="49.95" width="5.30" height="0.90" fill="#ffffff" />
<rect x="538.82" y="50.75" width="3.48" height="2.10" fill="#ffffff" />
<rect x="537.00" y="52.75" width="5.30" height="1.20" fill="#ffffff" />
<rect x="538.79" y="53.85" width="3.51" height="1.20" fill="#ffffff" />
<rect x="539.58" y="54.95" width="2.72" height="1.00" fill="#ffffff" />
<rect x="537.00" y="58.65" width="5.30" height="1.40" fill="#ffffff" />
<rect x="540.31" y="59.95" width="1.99" height="1.20" fill="#ffffff" />
<rect x="539.90" y="63.45" width="2.40" height="1.40" fill="#ffffff" />
<rect x="537.00" y="64.75" width="5.30" height="1.20" fill="#ffffff" />
<rect x="537.00" y="65.85" width="5.30" height="1.20" fill="#ffffff" />
<rect x="538.91" y="70.65" width="3.39" height="1.20" fill="#ffffff" />
<rect x="539.53" y="72.85" width="2.77" height="1.00" fill="#ffffff" />
<rect x="539.05" y="73.75" width="3.25" height="1.20" fill="#ffffff" />
<rect x="539.22" y="74.85" width="3.08" height="2.30" fill="#ffffff" />
<rect x="537.00" y="77.05" width="5.30" height="1.00" fill="#ffffff" />
<rect x="537.00" y="77.95" width="5.30" height="0.90" fill="#ffffff" />
<rect x="537.00" y="78.75" width="5.30" height="1.20" fill="#ffffff" />
<rect x="537.00" y="80.75" width="5.30" height="1.20" fill="#ffffff" />
<rect x="537.00" y="81.85" width="5.30" height="1.00" fill="#ffffff" />
<rect x="537.00" y="82.75" width="5.30" height="1.80" fill="#ffffff" />
<rect x="537.00" y="84.45" width="5.30" height="1.20" fill="#ffffff" />
<rect x="537.00" y="85.55" width="5.30" height="1.70" fill="#ffffff" />
<rect x="537.00" y="87.15" width="5.30" height="1.20" fill="#ffffff" />
<rect x="537.00" y="88.25" width="5.30" height="2.00" fill="#ffffff" />
<rect x="537.00" y="92.15" width="5.30" height="0.90" fill="#ffffff" />
<rect x="537.00" y="92.95" width="5.30" height="1.00" fill="#ffffff" />
<rect x="538.91" y="93.85" width="3.39" height="1.40" fill="#ffffff" />
<rect x="537.00" y="95.15" width="5.30" height="1.70" fill="#ffffff" />
<rect x="537.00" y="96.75" width="5.30" height="1.20" fill="#ffffff" />
<rect x="537.00" y="97.85" width="5.30" height="1.40" fill="#ffffff" />
<rect x="537.00" y="99.15" width="5.30" height="0.70" fill="#ffffff" />
<rect x="539.65" y="99.75" width="2.65" height="1.90" fill="#ffffff" />
<rect x="537.00" y="102.65" width="5.30" height="1.20" fill="#ffffff" />
<rect x="538.24" y="105.05" width="4.06" height="1.00" fill="#ffffff" />
<rect x="537.00" y="105.95" width="5.30" height="1.40" fill="#ffffff" />
<rect x="540.96" y="107.25" width="1.34" height="1.20" fill="#ffffff" />
<rect x="537.00" y="108.35" width="5.30" height="1.60" fill="#ffffff" />
<rect x="537.00" y="111.15" width="5.30" height="1.00" fill="#ffffff" />
<rect x="537.00" y="112.95" width="5.30" height="0.90" fill="#ffffff" />
<rect x="537.00" y="113.75" width="5.30" height="1.00" fill="#ffffff" />
<rect x="537.00" y="116.45" width="5.30" height="1.10" fill="#ffffff" />
<rect x="537.00" y="117.45" width="5.30" height="2.10" fill="#ffffff" />
<rect x="537.00" y="119.45" width="5.30" height="1.00" fill="#ffffff" />
<rect x="537.00" y="120.35" width="5.30" height="3.10" fill="#ffffff" />
<rect x="537.00" y="123.35" width="5.30" height="1.50" fill="#ffffff" />
<rect x="538.65" y="124.75" width="3.65" height="2.30" fill="#ffffff" />
<rect x="537.00" y="126.95" width="5.30" height="0.90" fill="#ffffff" />
<rect x="537.00" y="127.75" width="5.30" height="2.30" fill="#ffffff" />
<rect x="540.59" y="129.95" width="1.71" height="1.00" fill="#ffffff" />
<rect x="538.59" y="130.85" width="3.71" height="1.40" fill="#ffffff" />
<rect x="540.89" y="132.15" width="1.41" height="1.00" fill="#ffffff" />
<rect x="538.24" y="133.05" width="4.06" height="1.60" fill="#ffffff" />
<rect x="537.00" y="136.55" width="5.30" height="1.60" fill="#ffffff" />
<rect x="537.00" y="138.05" width="5.30" height="1.20" fill="#ffffff" />
<rect x="537.00" y="139.15" width="5.30" height="1.40" fill="#ffffff" />
<rect x="540.63" y="140.45" width="1.67" height="2.90" fill="#ffffff" />
<rect x="540.77" y="143.25" width="1.53" height="1.00" fill="#ffffff" />
<rect x="537.00" y="144.15" width="5.30" height="1.20" fill="#ffffff" />
<rect x="537.00" y="145.25" width="5.30" height="1.80" fill="#ffffff" />
<rect x="539.95" y="146.95" width="2.35" height="1.90" fill="#ffffff" />
<rect x="537.00" y="148.75" width="5.30" height="1.20" fill="#ffffff" />
<rect x="539.01" y="149.85" width="3.29" height="1.20" fill="#ffffff" />
<rect x="537.00" y="150.95" width="5.30" height="2.20" fill="#ffffff" />
<rect x="537.00" y="153.05" width="5.30" height="1.00" fill="#ffffff" />
<rect x="537.00" y="153.95" width="5.30" height="1.20" fill="#ffffff" />
<rect x="539.00" y="155.05" width="3.30" height="1.00" fill="#ffffff" />
<rect x="537.00" y="155.95" width="5.30" height="2.10" fill="#ffffff" />
<rect x="538.77" y="157.95" width="3.53" height="0.90" fill="#ffffff" />
<rect x="537.00" y="158.75" width="5.30" height="1.20" fill="#ffffff" />
<rect x="537.00" y="159.85" width="5.30" height="1.70" fill="#ffffff" />
<rect x="41.90" y="16.20" width="6.10" height="1.20" fill="#9a50c0" />
<rect x="45.10" y="48.90" width="2.90" height="1.20" fill="#a04080" />
<rect x="41.90" y="56.60" width="4.60" height="1.20" fill="#c0a070" />
<rect x="44.20" y="62.00" width="3.80" height="1.20" fill="#70c050" />
<rect x="41.90" y="64.40" width="4.60" height="1.20" fill="#b0f0a0" />
<rect x="41.90" y="94.70" width="6.10" height="1.20" fill="#f0e070" />
<rect x="45.10" y="96.60" width="2.90" height="1.20" fill="#b04890" />
<rect x="41.90" y="116.20" width="4.60" height="1.20" fill="#106858" />
<rect x="45.10" y="134.20" width="2.90" height="1.20" fill="#a04090" />
<rect x="48.20" y="28.60" width="7.00" height="1.20" fill="#e0fff0" />
<line x1="36.85" y1="0.80" x2="36.85" y2="156.40" stroke="#333" stroke-width="1.1" />
<line x1="33.00" y1="5.40" x2="36.85" y2="5.40" stroke="#333" stroke-width="1.1" />
<line x1="33.00" y1="60.10" x2="36.85" y2="60.10" stroke="#333" stroke-width="1.1" />
<line x1="33.00" y1="102.90" x2="36.85" y2="102.90" stroke="#333" stroke-width="1.1" />
<line x1="33.00" y1="144.10" x2="36.85" y2="144.10" stroke="#333" stroke-width="1.1" />
<text x="17.00" y="28.90" font-size="9.3" text-anchor="middle" font-weight="normal" fill="#1a1a1a" stroke="#1a1a1a" stroke-width="0.12" >proband</text>
<text x="17.00" y="40.60" font-size="9.3" text-anchor="middle" font-weight="normal" fill="#1a1a1a" stroke="#1a1a1a" stroke-width="0.12" >hap2</text>
<text x="17.00" y="73.70" font-size="9.3" text-anchor="middle" font-weight="normal" fill="#1a1a1a" stroke="#1a1a1a" stroke-width="0.12" >proband</text>
<text x="17.00" y="85.00" font-size="9.3" text-anchor="middle" font-weight="normal" fill="#1a1a1a" stroke="#1a1a1a" stroke-width="0.12" >hap1</text>
<text x="17.00" y="115.70" font-size="9.3" text-anchor="middle" font-weight="normal" fill="#1a1a1a" stroke="#1a1a1a" stroke-width="0.12" >sibling</text>
<text x="17.00" y="127.20" font-size="9.3" text-anchor="middle" font-weight="normal" fill="#1a1a1a" stroke="#1a1a1a" stroke-width="0.12" >hap2</text>
<text x="17.00" y="151.00" font-size="9.3" text-anchor="middle" font-weight="normal" fill="#1a1a1a" stroke="#1a1a1a" stroke-width="0.12" >sibling</text>
<text x="17.00" y="161.80" font-size="9.3" text-anchor="middle" font-weight="normal" fill="#1a1a1a" stroke="#1a1a1a" stroke-width="0.12" >hap1</text>
<rect x="42.30" y="165.20" width="8.10" height="5.70" fill="#d8a030" />
<rect x="50.40" y="165.20" width="5.10" height="5.70" fill="#e4ddd0" />
<rect x="55.50" y="165.20" width="5.50" height="5.70" fill="#606060" />
<rect x="61.00" y="165.20" width="12.00" height="5.70" fill="#e8dcc0" />
<rect x="73.00" y="165.20" width="25.00" height="5.70" fill="#5a5a5a" />
<rect x="98.00" y="165.20" width="5.60" height="5.70" fill="#e0e0e0" />
<rect x="103.60" y="165.20" width="9.20" height="5.70" fill="#606060" />
<rect x="112.80" y="165.20" width="10.20" height="5.70" fill="#e0e0e0" />
<rect x="123.00" y="165.20" width="14.30" height="5.70" fill="#151515" />
<rect x="137.30" y="165.20" width="7.10" height="5.70" fill="#e8e0d0" />
<rect x="144.40" y="165.20" width="17.40" height="5.70" fill="#0a0a0a" />
<rect x="161.80" y="165.20" width="3.20" height="5.70" fill="#a07020" />
<rect x="165.00" y="165.20" width="14.40" height="5.70" fill="#e0e0e0" />
<rect x="179.40" y="165.20" width="17.40" height="5.70" fill="#303030" />
<rect x="196.80" y="165.20" width="7.20" height="5.70" fill="#e4e0d8" />
<rect x="204.00" y="165.20" width="15.30" height="5.70" fill="#808080" />
<rect x="219.30" y="165.20" width="12.20" height="5.70" fill="#e0e0e0" />
<rect x="231.50" y="165.20" width="10.70" height="5.70" fill="#900000" />
<rect x="242.20" y="165.20" width="8.80" height="5.70" fill="#e0e0e0" />
<rect x="251.00" y="165.20" width="11.20" height="5.70" fill="#555555" />
<rect x="262.20" y="165.20" width="12.30" height="5.70" fill="#e0e0e0" />
<rect x="274.50" y="165.20" width="8.10" height="5.70" fill="#907850" />
<rect x="282.60" y="165.20" width="6.20" height="5.70" fill="#e8e0d0" />
<rect x="288.80" y="165.20" width="27.80" height="5.70" fill="#0a0a0a" />
<rect x="316.60" y="165.20" width="5.70" height="5.70" fill="#e0e0e0" />
<rect x="322.30" y="165.20" width="7.60" height="5.70" fill="#0a0a0a" />
<rect x="329.90" y="165.20" width="13.20" height="5.70" fill="#b08020" />
<rect x="343.10" y="165.20" width="3.10" height="5.70" fill="#e0e0e0" />
<rect x="346.20" y="165.20" width="15.80" height="5.70" fill="#303030" />
<rect x="362.00" y="165.20" width="13.80" height="5.70" fill="#e8dcc0" />
<rect x="375.80" y="165.20" width="3.70" height="5.70" fill="#706050" />
<rect x="379.50" y="165.20" width="15.70" height="5.70" fill="#e0e0e0" />
<rect x="395.20" y="165.20" width="25.60" height="5.70" fill="#2a2a2a" />
<rect x="420.80" y="165.20" width="14.50" height="5.70" fill="#e8dcc0" />
<rect x="435.30" y="165.20" width="25.60" height="5.70" fill="#101010" />
<rect x="460.90" y="165.20" width="5.10" height="5.70" fill="#e0e0e0" />
<rect x="466.00" y="165.20" width="12.20" height="5.70" fill="#808080" />
<rect x="478.20" y="165.20" width="13.30" height="5.70" fill="#e0e0e0" />
<rect x="491.50" y="165.20" width="11.30" height="5.70" fill="#504020" />
<rect x="502.80" y="165.20" width="2.00" height="5.70" fill="#e0e0e0" />
<rect x="504.80" y="165.20" width="16.40" height="5.70" fill="#201810" />
<rect x="521.20" y="165.20" width="26.50" height="5.70" fill="#e8dcc0" />
<rect x="80.00" y="165.20" width="0.90" height="5.70" fill="#8a6a30" />
<rect x="86.00" y="165.20" width="0.90" height="5.70" fill="#7a6030" />
<rect x="92.00" y="165.20" width="0.90" height="5.70" fill="#8a6a30" />
<rect x="127.00" y="165.20" width="0.90" height="5.70" fill="#5a4010" />
<rect x="131.00" y="165.20" width="0.90" height="5.70" fill="#5a4010" />
<rect x="150.00" y="165.20" width="0.90" height="5.70" fill="#4a3510" />
<rect x="156.00" y="165.20" width="0.90" height="5.70" fill="#4a3510" />
<rect x="183.00" y="165.20" width="0.90" height="5.70" fill="#9a7a30" />
<rect x="190.00" y="165.20" width="0.90" height="5.70" fill="#8a6a30" />
<rect x="209.00" y="165.20" width="0.90" height="5.70" fill="#c09040" />
<rect x="214.00" y="165.20" width="0.90" height="5.70" fill="#b08840" />
<rect x="295.00" y="165.20" width="0.90" height="5.70" fill="#4a3510" />
<rect x="303.00" y="165.20" width="0.90" height="5.70" fill="#4a3510" />
<rect x="310.00" y="165.20" width="0.90" height="5.70" fill="#4a3510" />
<rect x="400.00" y="165.20" width="0.90" height="5.70" fill="#3a7a80" />
<rect x="410.00" y="165.20" width="0.90" height="5.70" fill="#8a6a30" />
<rect x="445.00" y="165.20" width="0.90" height="5.70" fill="#4a3510" />
<rect x="510.00" y="165.20" width="0.90" height="5.70" fill="#5a4010" />
<rect x="516.00" y="165.20" width="0.90" height="5.70" fill="#5a4010" />
<rect x="63.00" y="165.20" width="0.90" height="5.70" fill="#d8b060" />
<rect x="66.00" y="165.20" width="0.90" height="5.70" fill="#d8b060" />
<rect x="69.00" y="165.20" width="0.90" height="5.70" fill="#d8b060" />
<rect x="172.00" y="165.20" width="0.90" height="5.70" fill="#d8b060" />
<rect x="175.00" y="165.20" width="0.90" height="5.70" fill="#d8b060" />
<rect x="365.00" y="165.20" width="0.90" height="5.70" fill="#d8b060" />
<rect x="370.00" y="165.20" width="0.90" height="5.70" fill="#d8b060" />
<rect x="425.00" y="165.20" width="0.90" height="5.70" fill="#d8b060" />
<rect x="430.00" y="165.20" width="0.90" height="5.70" fill="#d8b060" />
<rect x="525.00" y="165.20" width="0.90" height="5.70" fill="#d8b060" />
<rect x="530.00" y="165.20" width="0.90" height="5.70" fill="#d8b060" />
<rect x="535.00" y="165.20" width="0.90" height="5.70" fill="#d8b060" />
<rect x="540.00" y="165.20" width="0.90" height="5.70" fill="#d8b060" />
<rect x="545.00" y="165.20" width="0.90" height="5.70" fill="#d8b060" />
<rect x="200.00" y="165.20" width="0.90" height="5.70" fill="#d8b060" />
<rect x="278.00" y="165.20" width="0.90" height="5.70" fill="#c09040" />
<line x1="37.20" y1="172.90" x2="552.80" y2="172.90" stroke="#111" stroke-width="1.3" />
<line x1="42.50" y1="172.90" x2="42.50" y2="178.00" stroke="#111" stroke-width="1.2" />
<text x="42.50" y="187.90" font-size="9.2" text-anchor="middle" font-weight="normal" fill="#1a1a1a" stroke="#1a1a1a" stroke-width="0.12" >0</text>
<line x1="107.93" y1="172.90" x2="107.93" y2="178.00" stroke="#111" stroke-width="1.2" />
<text x="107.93" y="187.90" font-size="9.2" text-anchor="middle" font-weight="normal" fill="#1a1a1a" stroke="#1a1a1a" stroke-width="0.12" >20</text>
<line x1="173.36" y1="172.90" x2="173.36" y2="178.00" stroke="#111" stroke-width="1.2" />
<text x="173.36" y="187.90" font-size="9.2" text-anchor="middle" font-weight="normal" fill="#1a1a1a" stroke="#1a1a1a" stroke-width="0.12" >40</text>
<line x1="238.79" y1="172.90" x2="238.79" y2="178.00" stroke="#111" stroke-width="1.2" />
<text x="238.79" y="187.90" font-size="9.2" text-anchor="middle" font-weight="normal" fill="#1a1a1a" stroke="#1a1a1a" stroke-width="0.12" >60</text>
<line x1="304.21" y1="172.90" x2="304.21" y2="178.00" stroke="#111" stroke-width="1.2" />
<text x="304.21" y="187.90" font-size="9.2" text-anchor="middle" font-weight="normal" fill="#1a1a1a" stroke="#1a1a1a" stroke-width="0.12" >80</text>
<line x1="369.64" y1="172.90" x2="369.64" y2="178.00" stroke="#111" stroke-width="1.2" />
<text x="369.64" y="187.90" font-size="9.2" text-anchor="middle" font-weight="normal" fill="#1a1a1a" stroke="#1a1a1a" stroke-width="0.12" >100</text>
<line x1="435.07" y1="172.90" x2="435.07" y2="178.00" stroke="#111" stroke-width="1.2" />
<text x="435.07" y="187.90" font-size="9.2" text-anchor="middle" font-weight="normal" fill="#1a1a1a" stroke="#1a1a1a" stroke-width="0.12" >120</text>
<line x1="500.50" y1="172.90" x2="500.50" y2="178.00" stroke="#111" stroke-width="1.2" />
<text x="500.50" y="187.90" font-size="9.2" text-anchor="middle" font-weight="normal" fill="#1a1a1a" stroke="#1a1a1a" stroke-width="0.12" >140</text>
<text x="287.50" y="197.00" font-size="9.4" text-anchor="middle" font-weight="normal" fill="#1a1a1a" stroke="#1a1a1a" stroke-width="0.12" >X chromosome (Mbp)</text>
<text x="553.20" y="7.90" font-size="10" text-anchor="start" font-weight="bold" fill="#000" >b</text>
<rect x="601.06" y="11.65" width="28.44" height="1.80" fill="#3d7cc9" rx="0.9"/>
<rect x="637.80" y="11.65" width="18.40" height="1.80" fill="#3d7cc9" rx="0.9"/>
<rect x="660.90" y="11.65" width="5.10" height="1.80" fill="#3d7cc9" rx="0.9"/>
<rect x="601.06" y="16.58" width="28.44" height="1.80" fill="#6cd64a" rx="0.9"/>
<rect x="631.10" y="16.58" width="25.10" height="1.80" fill="#6cd64a" rx="0.9"/>
<rect x="660.90" y="16.58" width="5.10" height="1.80" fill="#6cd64a" rx="0.9"/>
<rect x="667.90" y="16.58" width="5.00" height="1.80" fill="#6cd64a" rx="0.9"/>
<rect x="674.60" y="16.58" width="3.20" height="1.80" fill="#6cd64a" rx="0.9"/>
<rect x="601.06" y="21.51" width="31.84" height="1.80" fill="#f0a830" rx="0.9"/>
<rect x="637.80" y="21.51" width="15.10" height="1.80" fill="#f0a830" rx="0.9"/>
<rect x="660.90" y="21.51" width="5.10" height="1.80" fill="#f0a830" rx="0.9"/>
<rect x="601.06" y="26.44" width="28.44" height="1.80" fill="#6a9e94" rx="0.9"/>
<rect x="631.10" y="26.44" width="5.00" height="1.80" fill="#6a9e94" rx="0.9"/>
<rect x="637.80" y="26.44" width="15.10" height="1.80" fill="#6a9e94" rx="0.9"/>
<rect x="660.90" y="26.44" width="8.80" height="1.80" fill="#6a9e94" rx="0.9"/>
<rect x="601.06" y="31.37" width="31.84" height="1.80" fill="#3d7a10" rx="0.9"/>
<rect x="634.60" y="31.37" width="21.60" height="1.80" fill="#3d7a10" rx="0.9"/>
<rect x="660.90" y="31.37" width="5.10" height="1.80" fill="#3d7a10" rx="0.9"/>
<rect x="667.90" y="31.37" width="5.00" height="1.80" fill="#3d7a10" rx="0.9"/>
<rect x="601.06" y="36.30" width="28.44" height="1.80" fill="#a8a290" rx="0.9"/>
<rect x="637.80" y="36.30" width="18.40" height="1.80" fill="#a8a290" rx="0.9"/>
<rect x="658.00" y="36.30" width="8.00" height="1.80" fill="#a8a290" rx="0.9"/>
<rect x="667.90" y="36.30" width="5.00" height="1.80" fill="#a8a290" rx="0.9"/>
<rect x="601.06" y="41.23" width="28.44" height="1.80" fill="#5aa07a" rx="0.9"/>
<rect x="631.10" y="41.23" width="25.10" height="1.80" fill="#5aa07a" rx="0.9"/>
<rect x="660.90" y="41.23" width="12.00" height="1.80" fill="#5aa07a" rx="0.9"/>
<rect x="601.06" y="46.16" width="31.84" height="1.80" fill="#8a3a8a" rx="0.9"/>
<rect x="637.80" y="46.16" width="18.40" height="1.80" fill="#8a3a8a" rx="0.9"/>
<rect x="660.90" y="46.16" width="5.10" height="1.80" fill="#8a3a8a" rx="0.9"/>
<rect x="667.90" y="46.16" width="5.00" height="1.80" fill="#8a3a8a" rx="0.9"/>
<rect x="601.06" y="51.09" width="25.14" height="1.80" fill="#6ad050" rx="0.9"/>
<rect x="637.80" y="51.09" width="15.10" height="1.80" fill="#6ad050" rx="0.9"/>
<rect x="660.90" y="51.09" width="5.10" height="1.80" fill="#6ad050" rx="0.9"/>
<rect x="667.90" y="51.09" width="8.30" height="1.80" fill="#6ad050" rx="0.9"/>
<rect x="601.06" y="56.02" width="28.44" height="1.80" fill="#a8c4dc" rx="0.9"/>
<rect x="637.80" y="56.02" width="11.70" height="1.80" fill="#a8c4dc" rx="0.9"/>
<rect x="660.90" y="56.02" width="5.10" height="1.80" fill="#a8c4dc" rx="0.9"/>
<rect x="667.90" y="56.02" width="5.00" height="1.80" fill="#a8c4dc" rx="0.9"/>
<rect x="601.06" y="60.95" width="35.04" height="1.80" fill="#1f5f50" rx="0.9"/>
<rect x="637.80" y="60.95" width="15.10" height="1.80" fill="#1f5f50" rx="0.9"/>
<rect x="660.90" y="60.95" width="5.10" height="1.80" fill="#1f5f50" rx="0.9"/>
<rect x="667.90" y="60.95" width="9.90" height="1.80" fill="#1f5f50" rx="0.9"/>
<rect x="601.06" y="65.88" width="28.44" height="1.80" fill="#28f0a8" rx="0.9"/>
<rect x="631.10" y="65.88" width="25.10" height="1.80" fill="#28f0a8" rx="0.9"/>
<rect x="660.90" y="65.88" width="5.10" height="1.80" fill="#28f0a8" rx="0.9"/>
<rect x="667.90" y="65.88" width="5.00" height="1.80" fill="#28f0a8" rx="0.9"/>
<rect x="601.06" y="70.81" width="48.44" height="1.80" fill="#a0a840" rx="0.9"/>
<rect x="654.60" y="70.81" width="4.90" height="1.80" fill="#a0a840" rx="0.9"/>
<rect x="660.90" y="70.81" width="12.00" height="1.80" fill="#a0a840" rx="0.9"/>
<rect x="601.06" y="75.74" width="28.44" height="1.80" fill="#5040c0" rx="0.9"/>
<rect x="637.80" y="75.74" width="18.40" height="1.80" fill="#5040c0" rx="0.9"/>
<rect x="660.90" y="75.74" width="5.10" height="1.80" fill="#5040c0" rx="0.9"/>
<rect x="667.90" y="75.74" width="8.30" height="1.80" fill="#5040c0" rx="0.9"/>
<rect x="601.06" y="80.67" width="25.14" height="1.80" fill="#2050c0" rx="0.9"/>
<rect x="637.80" y="80.67" width="18.40" height="1.80" fill="#2050c0" rx="0.9"/>
<rect x="660.90" y="80.67" width="12.00" height="1.80" fill="#2050c0" rx="0.9"/>
<rect x="601.06" y="85.60" width="28.44" height="1.80" fill="#4080c8" rx="0.9"/>
<rect x="637.80" y="85.60" width="18.40" height="1.80" fill="#4080c8" rx="0.9"/>
<rect x="658.00" y="85.60" width="8.00" height="1.80" fill="#4080c8" rx="0.9"/>
<rect x="667.90" y="85.60" width="5.00" height="1.80" fill="#4080c8" rx="0.9"/>
<rect x="601.06" y="90.53" width="25.14" height="1.80" fill="#60d040" rx="0.9"/>
<rect x="627.90" y="90.53" width="5.00" height="1.80" fill="#60d040" rx="0.9"/>
<rect x="637.80" y="90.53" width="15.10" height="1.80" fill="#60d040" rx="0.9"/>
<rect x="660.90" y="90.53" width="5.10" height="1.80" fill="#60d040" rx="0.9"/>
<rect x="667.90" y="90.53" width="5.00" height="1.80" fill="#60d040" rx="0.9"/>
<rect x="601.06" y="95.46" width="28.44" height="1.80" fill="#1030e0" rx="0.9"/>
<rect x="631.10" y="95.46" width="18.40" height="1.80" fill="#1030e0" rx="0.9"/>
<rect x="651.30" y="95.46" width="4.90" height="1.80" fill="#1030e0" rx="0.9"/>
<rect x="660.90" y="95.46" width="15.30" height="1.80" fill="#1030e0" rx="0.9"/>
<rect x="601.06" y="100.39" width="28.44" height="1.80" fill="#106030" rx="0.9"/>
<rect x="637.80" y="100.39" width="15.10" height="1.80" fill="#106030" rx="0.9"/>
<rect x="660.90" y="100.39" width="12.00" height="1.80" fill="#106030" rx="0.9"/>
<rect x="601.06" y="105.32" width="28.44" height="1.80" fill="#e09070" rx="0.9"/>
<rect x="631.10" y="105.32" width="28.40" height="1.80" fill="#e09070" rx="0.9"/>
<rect x="660.90" y="105.32" width="5.10" height="1.80" fill="#e09070" rx="0.9"/>
<rect x="667.90" y="105.32" width="5.00" height="1.80" fill="#e09070" rx="0.9"/>
<rect x="674.60" y="105.32" width="3.20" height="1.80" fill="#e09070" rx="0.9"/>
<rect x="601.06" y="110.25" width="28.44" height="1.80" fill="#4a9890" rx="0.9"/>
<rect x="637.80" y="110.25" width="18.40" height="1.80" fill="#4a9890" rx="0.9"/>
<rect x="660.90" y="110.25" width="8.80" height="1.80" fill="#4a9890" rx="0.9"/>
<rect x="601.06" y="115.18" width="28.44" height="1.80" fill="#a8a088" rx="0.9"/>
<rect x="637.80" y="115.18" width="18.40" height="1.80" fill="#a8a088" rx="0.9"/>
<rect x="660.90" y="115.18" width="5.10" height="1.80" fill="#a8a088" rx="0.9"/>
<rect x="601.06" y="120.11" width="28.44" height="1.80" fill="#f8f080" rx="0.9"/>
<rect x="631.10" y="120.11" width="11.70" height="1.80" fill="#f8f080" rx="0.9"/>
<rect x="644.60" y="120.11" width="8.30" height="1.80" fill="#f8f080" rx="0.9"/>
<rect x="660.90" y="120.11" width="5.10" height="1.80" fill="#f8f080" rx="0.9"/>
<rect x="601.06" y="125.04" width="28.44" height="1.80" fill="#a030a0" rx="0.9"/>
<rect x="631.10" y="125.04" width="25.10" height="1.80" fill="#a030a0" rx="0.9"/>
<rect x="660.90" y="125.04" width="12.00" height="1.80" fill="#a030a0" rx="0.9"/>
<rect x="674.60" y="125.04" width="3.20" height="1.80" fill="#a030a0" rx="0.9"/>
<rect x="601.06" y="129.97" width="11.64" height="1.80" fill="#d0f8f8" rx="0.9"/>
<rect x="614.80" y="129.97" width="14.70" height="1.80" fill="#d0f8f8" rx="0.9"/>
<rect x="634.60" y="129.97" width="8.20" height="1.80" fill="#d0f8f8" rx="0.9"/>
<rect x="644.60" y="129.97" width="11.60" height="1.80" fill="#d0f8f8" rx="0.9"/>
<rect x="660.90" y="129.97" width="8.80" height="1.80" fill="#d0f8f8" rx="0.9"/>
<rect x="601.06" y="134.90" width="31.84" height="1.80" fill="#70a840" rx="0.9"/>
<rect x="637.80" y="134.90" width="18.40" height="1.80" fill="#70a840" rx="0.9"/>
<rect x="660.90" y="134.90" width="5.10" height="1.80" fill="#70a840" rx="0.9"/>
<rect x="671.10" y="134.90" width="5.10" height="1.80" fill="#70a840" rx="0.9"/>
<rect x="601.06" y="139.83" width="35.04" height="1.80" fill="#904090" rx="0.9"/>
<rect x="637.80" y="139.83" width="15.10" height="1.80" fill="#904090" rx="0.9"/>
<rect x="660.90" y="139.83" width="5.10" height="1.80" fill="#904090" rx="0.9"/>
<rect x="667.90" y="139.83" width="5.00" height="1.80" fill="#904090" rx="0.9"/>
<rect x="601.06" y="144.76" width="28.44" height="1.80" fill="#60d050" rx="0.9"/>
<rect x="637.80" y="144.76" width="15.10" height="1.80" fill="#60d050" rx="0.9"/>
<rect x="654.60" y="144.76" width="4.90" height="1.80" fill="#60d050" rx="0.9"/>
<rect x="660.90" y="144.76" width="5.10" height="1.80" fill="#60d050" rx="0.9"/>
<rect x="667.90" y="144.76" width="5.00" height="1.80" fill="#60d050" rx="0.9"/>
<rect x="674.60" y="144.76" width="3.20" height="1.80" fill="#60d050" rx="0.9"/>
<rect x="601.06" y="149.69" width="15.14" height="1.80" fill="#b0f020" rx="0.9"/>
<rect x="618.00" y="149.69" width="11.50" height="1.80" fill="#b0f020" rx="0.9"/>
<rect x="634.60" y="149.69" width="18.30" height="1.80" fill="#b0f020" rx="0.9"/>
<rect x="660.90" y="149.69" width="12.00" height="1.80" fill="#b0f020" rx="0.9"/>
<rect x="601.06" y="154.62" width="28.44" height="1.80" fill="#b09060" rx="0.9"/>
<rect x="631.10" y="154.62" width="25.10" height="1.80" fill="#b09060" rx="0.9"/>
<rect x="660.90" y="154.62" width="5.10" height="1.80" fill="#b09060" rx="0.9"/>
<rect x="667.90" y="154.62" width="5.00" height="1.80" fill="#b09060" rx="0.9"/>
<rect x="601.06" y="159.55" width="55.14" height="1.80" fill="#40a050" rx="0.9"/>
<rect x="657.70" y="159.55" width="8.30" height="1.80" fill="#40a050" rx="0.9"/>
<rect x="667.90" y="159.55" width="5.00" height="1.80" fill="#40a050" rx="0.9"/>
<line x1="594.50" y1="2.20" x2="594.50" y2="158.00" stroke="#333" stroke-width="1.1" />
<line x1="589.00" y1="7.00" x2="594.50" y2="7.00" stroke="#333" stroke-width="1.1" />
<line x1="589.00" y1="56.90" x2="594.50" y2="56.90" stroke="#333" stroke-width="1.1" />
<text x="574.50" y="30.00" font-size="9.3" text-anchor="middle" font-weight="normal" fill="#1a1a1a" stroke="#1a1a1a" stroke-width="0.12" >proband</text>
<text x="574.50" y="41.50" font-size="9.3" text-anchor="middle" font-weight="normal" fill="#1a1a1a" stroke="#1a1a1a" stroke-width="0.12" >hap1</text>
<text x="574.80" y="94.80" font-size="9.3" text-anchor="middle" font-weight="normal" fill="#1a1a1a" stroke="#1a1a1a" stroke-width="0.12" >sibling</text>
<text x="574.50" y="106.90" font-size="9.3" text-anchor="middle" font-weight="normal" fill="#1a1a1a" stroke="#1a1a1a" stroke-width="0.12" >hap1</text>
<rect x="595.00" y="164.80" width="24.00" height="6.10" fill="#d8a030" />
<rect x="619.00" y="164.80" width="5.00" height="6.10" fill="#e0e0e0" />
<rect x="624.00" y="164.80" width="6.00" height="6.10" fill="#d8a030" />
<rect x="630.00" y="164.80" width="1.50" height="6.10" fill="#b02010" />
<rect x="631.50" y="164.80" width="8.70" height="6.10" fill="#e4d4b0" />
<rect x="640.20" y="164.80" width="16.40" height="6.10" fill="#505050" />
<rect x="656.60" y="164.80" width="6.90" height="6.10" fill="#d8a030" />
<rect x="663.50" y="164.80" width="0.80" height="6.10" fill="#e0e0e0" />
<rect x="664.30" y="164.80" width="4.70" height="6.10" fill="#505050" />
<rect x="669.00" y="164.80" width="9.00" height="6.10" fill="#d8a030" />
<rect x="634.00" y="164.80" width="1.00" height="6.10" fill="#d8a030" />
<rect x="636.50" y="164.80" width="1.30" height="6.10" fill="#909090" />
<rect x="644.00" y="164.80" width="1.00" height="6.10" fill="#b08830" />
<rect x="649.50" y="164.80" width="1.00" height="6.10" fill="#b08830" />
<rect x="615.00" y="164.80" width="1.00" height="6.10" fill="#e8c060" />
<rect x="603.00" y="164.80" width="1.00" height="6.10" fill="#e8c060" />
<line x1="593.00" y1="173.60" x2="678.00" y2="173.60" stroke="#111" stroke-width="1.3" />
<line x1="595.30" y1="173.60" x2="595.30" y2="177.50" stroke="#111" stroke-width="1.2" />
<text x="595.30" y="188.60" font-size="9.2" text-anchor="middle" font-weight="normal" fill="#1a1a1a" stroke="#1a1a1a" stroke-width="0.12" >0</text>
<line x1="628.70" y1="173.60" x2="628.70" y2="177.50" stroke="#111" stroke-width="1.2" />
<text x="628.70" y="188.60" font-size="9.2" text-anchor="middle" font-weight="normal" fill="#1a1a1a" stroke="#1a1a1a" stroke-width="0.12" >10</text>
<line x1="662.00" y1="173.60" x2="662.00" y2="177.50" stroke="#111" stroke-width="1.2" />
<text x="662.00" y="188.60" font-size="9.2" text-anchor="middle" font-weight="normal" fill="#1a1a1a" stroke="#1a1a1a" stroke-width="0.12" >20</text>
<text x="629.20" y="197.10" font-size="9.4" text-anchor="middle" font-weight="normal" fill="#1a1a1a" stroke="#1a1a1a" stroke-width="0.12" >Y chromosome (w/o Yq12)</text>
<text x="1.75" y="206.40" font-size="10" text-anchor="start" font-weight="bold" fill="#000" >c</text>
<rect x="35.80" y="211.40" width="426.90" height="132.10" fill="#f45540" />
<rect x="35.80" y="211.40" width="4.40" height="132.10" fill="#9ab4b8" />
<rect x="35.80" y="211.40" width="0.60" height="132.10" fill="#c0a890" />
<rect x="36.50" y="211.40" width="0.70" height="132.10" fill="#78b0c8" />
<rect x="37.30" y="211.40" width="0.60" height="132.10" fill="#a8c0b0" />
<rect x="38.00" y="211.40" width="0.70" height="132.10" fill="#6aa4bc" />
<rect x="38.80" y="211.40" width="0.60" height="132.10" fill="#b8b8a0" />
<rect x="39.50" y="211.40" width="0.70" height="132.10" fill="#80b4c8" />
<rect x="40.20" y="211.40" width="0.60" height="132.10" fill="#e89880" />
<rect x="41.00" y="300.30" width="4.30" height="43.20" fill="#f0c070" />
<rect x="45.30" y="300.30" width="7.20" height="43.20" fill="#eaa545" />
<rect x="55.70" y="300.30" width="1.60" height="43.20" fill="#eca53c" />
<rect x="78.50" y="300.30" width="1.00" height="43.20" fill="#f0b030" />
<rect x="101.80" y="300.30" width="1.00" height="43.20" fill="#eea035" />
<rect x="109.90" y="300.30" width="0.80" height="43.20" fill="#f26a50" />
<rect x="125.10" y="300.30" width="1.00" height="43.20" fill="#f0a835" />
<rect x="156.90" y="300.30" width="0.80" height="43.20" fill="#f08858" />
<rect x="163.70" y="300.30" width="1.00" height="43.20" fill="#ee9a40" />
<rect x="169.30" y="300.30" width="0.80" height="43.20" fill="#f48474" />
<rect x="178.35" y="300.30" width="1.10" height="43.20" fill="#eeaa30" />
<rect x="196.65" y="300.30" width="0.70" height="43.20" fill="#f26a50" />
<rect x="202.85" y="300.30" width="0.70" height="43.20" fill="#f26a50" />
<rect x="214.05" y="300.30" width="0.70" height="43.20" fill="#f26a50" />
<rect x="231.35" y="300.30" width="0.70" height="43.20" fill="#f47c6c" />
<rect x="262.30" y="300.30" width="1.00" height="43.20" fill="#ee9a40" />
<rect x="267.15" y="300.30" width="1.10" height="43.20" fill="#f0b030" />
<rect x="270.95" y="300.30" width="0.90" height="43.20" fill="#ee9a40" />
<rect x="276.05" y="300.30" width="0.70" height="43.20" fill="#f26a50" />
<rect x="60.60" y="300.30" width="0.80" height="43.20" fill="#f26a50" />
<rect x="65.65" y="300.30" width="0.70" height="43.20" fill="#f47c6c" />
<rect x="87.65" y="300.30" width="0.70" height="43.20" fill="#f26a50" />
<rect x="93.65" y="300.30" width="0.70" height="43.20" fill="#f47c6c" />
<rect x="131.65" y="300.30" width="0.70" height="43.20" fill="#f26a50" />
<rect x="139.65" y="300.30" width="0.70" height="43.20" fill="#f26a50" />
<rect x="185.65" y="300.30" width="0.70" height="43.20" fill="#f26a50" />
<rect x="244.65" y="300.30" width="0.70" height="43.20" fill="#f26a50" />
<rect x="252.65" y="300.30" width="0.70" height="43.20" fill="#f47c6c" />
<rect x="281.65" y="300.30" width="0.70" height="43.20" fill="#f26a50" />
<rect x="293.40" y="300.30" width="0.80" height="43.20" fill="#ef8a48" />
<rect x="302.15" y="300.30" width="1.30" height="43.20" fill="#f0b830" />
<rect x="317.70" y="300.30" width="0.80" height="43.20" fill="#c8988c" />
<rect x="343.30" y="300.30" width="0.80" height="43.20" fill="#ef8a48" />
<rect x="346.10" y="300.30" width="1.20" height="43.20" fill="#f0b030" />
<rect x="348.95" y="300.30" width="0.70" height="43.20" fill="#f27c60" />
<rect x="355.40" y="300.30" width="1.00" height="43.20" fill="#ee9a40" />
<rect x="361.35" y="300.30" width="1.30" height="43.20" fill="#f2bc30" />
<rect x="366.25" y="300.30" width="0.70" height="43.20" fill="#f27c60" />
<rect x="370.70" y="300.30" width="1.00" height="43.20" fill="#ee9a40" />
<rect x="372.65" y="300.30" width="0.70" height="43.20" fill="#f27c60" />
<rect x="393.00" y="300.30" width="1.00" height="43.20" fill="#ee9a40" />
<rect x="404.60" y="300.30" width="0.80" height="43.20" fill="#ef8a48" />
<rect x="407.00" y="300.30" width="1.00" height="43.20" fill="#ee9a40" />
<rect x="421.65" y="300.30" width="1.30" height="43.20" fill="#f2bc30" />
<rect x="431.45" y="300.30" width="0.70" height="43.20" fill="#f27c60" />
<rect x="435.60" y="300.30" width="1.00" height="43.20" fill="#ee9a40" />
<rect x="446.45" y="300.30" width="1.30" height="43.20" fill="#f2bc30" />
<rect x="455.60" y="300.30" width="0.80" height="43.20" fill="#ef8a48" />
<rect x="325.65" y="300.30" width="0.70" height="43.20" fill="#f26a50" />
<rect x="334.65" y="300.30" width="0.70" height="43.20" fill="#f26a50" />
<rect x="380.65" y="300.30" width="0.70" height="43.20" fill="#f26a50" />
<rect x="413.65" y="300.30" width="0.70" height="43.20" fill="#f26a50" />
<rect x="397.65" y="300.30" width="0.70" height="43.20" fill="#f47c6c" />
<rect x="314.00" y="211.40" width="0.80" height="44.30" fill="#e83a24" />
<rect x="351.30" y="255.70" width="0.80" height="44.60" fill="#f69080" />
<rect x="168.10" y="211.40" width="0.80" height="88.90" fill="#f46a58" />
<rect x="178.00" y="211.40" width="0.80" height="88.90" fill="#f46a58" />
<rect x="52.60" y="211.40" width="0.80" height="88.90" fill="#f46a58" />
<rect x="196.60" y="255.70" width="0.80" height="44.60" fill="#f57a68" />
<rect x="454.60" y="255.70" width="0.80" height="44.60" fill="#f57a68" />
<rect x="457.60" y="255.70" width="0.80" height="44.60" fill="#f57a68" />
<line x1="35.80" y1="211.40" x2="462.70" y2="211.40" stroke="#111" stroke-width="1.5" />
<line x1="35.80" y1="255.70" x2="462.70" y2="255.70" stroke="#111" stroke-width="1.5" />
<line x1="35.80" y1="300.30" x2="462.70" y2="300.30" stroke="#111" stroke-width="1.5" />
<line x1="35.60" y1="344.40" x2="463.00" y2="344.40" stroke="#111" stroke-width="1.3" />
<rect x="35.60" y="342.5" width="6.90" height="3.8" fill="#fff" stroke="#111" stroke-width="0.9"/>
<rect x="181.90" y="342.5" width="13.00" height="3.8" fill="#fff" stroke="#111" stroke-width="0.9"/>
<rect x="194.90" y="342.5" width="10.30" height="3.8" fill="#fff" stroke="#111" stroke-width="0.9"/>
<rect x="205.20" y="342.5" width="13.20" height="3.8" fill="#fff" stroke="#111" stroke-width="0.9"/>
<rect x="278.30" y="342.5" width="11.30" height="3.8" fill="#fff" stroke="#111" stroke-width="0.9"/>
<rect x="461.20" y="342.5" width="1.80" height="3.8" fill="#fff" stroke="#111" stroke-width="0.9"/>
<line x1="194.90" y1="342.50" x2="194.90" y2="346.30" stroke="#111" stroke-width="1.4" />
<line x1="205.20" y1="342.50" x2="205.20" y2="346.30" stroke="#111" stroke-width="1.4" />
<text x="37.70" y="354.70" font-size="7.8" text-anchor="start" font-weight="normal" fill="#1a1a1a" stroke="#1a1a1a" stroke-width="0.12" >PAR</text>
<text x="200.60" y="354.50" font-size="7.9" text-anchor="middle" font-weight="normal" fill="#1a1a1a" stroke="#1a1a1a" stroke-width="0.12" >CenSat</text>
<text x="284.00" y="354.50" font-size="7.9" text-anchor="middle" font-weight="normal" fill="#1a1a1a" stroke="#1a1a1a" stroke-width="0.12" >XTR</text>
<text x="463.80" y="354.70" font-size="7.8" text-anchor="end" font-weight="normal" fill="#1a1a1a" stroke="#1a1a1a" stroke-width="0.12" >PAR</text>
<line x1="35.60" y1="358.20" x2="463.00" y2="358.20" stroke="#111" stroke-width="1.3" />
<line x1="35.60" y1="358.20" x2="35.60" y2="363.40" stroke="#111" stroke-width="1.2" />
<text x="35.60" y="372.00" font-size="8.3" text-anchor="middle" font-weight="normal" fill="#1a1a1a" stroke="#1a1a1a" stroke-width="0.12" >0</text>
<line x1="174.10" y1="358.20" x2="174.10" y2="363.40" stroke="#111" stroke-width="1.2" />
<text x="174.10" y="372.00" font-size="8.3" text-anchor="middle" font-weight="normal" fill="#1a1a1a" stroke="#1a1a1a" stroke-width="0.12" >50</text>
<line x1="312.60" y1="358.20" x2="312.60" y2="363.40" stroke="#111" stroke-width="1.2" />
<text x="312.60" y="372.00" font-size="8.3" text-anchor="middle" font-weight="normal" fill="#1a1a1a" stroke="#1a1a1a" stroke-width="0.12" >100</text>
<line x1="451.10" y1="358.20" x2="451.10" y2="363.40" stroke="#111" stroke-width="1.2" />
<text x="451.10" y="372.00" font-size="8.3" text-anchor="middle" font-weight="normal" fill="#1a1a1a" stroke="#1a1a1a" stroke-width="0.12" >150</text>
<text x="248.00" y="380.70" font-size="9.4" text-anchor="middle" font-weight="normal" fill="#1a1a1a" stroke="#1a1a1a" stroke-width="0.12" >X chromosome (Mbp)</text>
<text x="19.30" y="217.60" font-size="9.3" text-anchor="middle" font-weight="normal" fill="#1a1a1a" stroke="#1a1a1a" stroke-width="0.12" >father</text>
<text x="19.10" y="228.60" font-size="9.3" text-anchor="middle" font-weight="normal" fill="#1a1a1a" stroke="#1a1a1a" stroke-width="0.12" >hap2</text>
<text x="17.10" y="260.50" font-size="9.3" text-anchor="middle" font-weight="normal" fill="#1a1a1a" stroke="#1a1a1a" stroke-width="0.12" >proband</text>
<text x="16.70" y="271.50" font-size="9.3" text-anchor="middle" font-weight="normal" fill="#1a1a1a" stroke="#1a1a1a" stroke-width="0.12" >hap1</text>
<text x="18.00" y="304.60" font-size="9.3" text-anchor="middle" font-weight="normal" fill="#1a1a1a" stroke="#1a1a1a" stroke-width="0.12" >sibling</text>
<text x="17.70" y="315.40" font-size="9.3" text-anchor="middle" font-weight="normal" fill="#1a1a1a" stroke="#1a1a1a" stroke-width="0.12" >hap1</text>
<text x="18.70" y="347.40" font-size="9.3" text-anchor="middle" font-weight="normal" fill="#1a1a1a" stroke="#1a1a1a" stroke-width="0.12" >T2T-X</text>
<text x="463.80" y="254.30" font-size="8.3" text-anchor="start" font-weight="normal" fill="#1a1a1a" stroke="#1a1a1a" stroke-width="0.12" >Identity</text>
<rect x="465.10" y="259.90" width="11.70" height="11.50" fill="#93c8d9" />
<text x="478.60" y="268.30" font-size="6.8" text-anchor="start" font-weight="normal" fill="#222" stroke="#222" stroke-width="0.12" >&lt;99.6</text>
<rect x="465.10" y="272.70" width="11.70" height="11.50" fill="#cadcd4" />
<text x="478.60" y="281.10" font-size="6.8" text-anchor="start" font-weight="normal" fill="#222" stroke="#222" stroke-width="0.12" >99.6:99.7</text>
<rect x="465.10" y="285.50" width="11.70" height="11.50" fill="#e9e5a0" />
<text x="478.60" y="293.90" font-size="6.8" text-anchor="start" font-weight="normal" fill="#222" stroke="#222" stroke-width="0.12" >99.7:99.8</text>
<rect x="465.10" y="298.30" width="11.70" height="11.50" fill="#f0c484" />
<text x="478.60" y="306.70" font-size="6.8" text-anchor="start" font-weight="normal" fill="#222" stroke="#222" stroke-width="0.12" >99.8:99.9</text>
<rect x="465.10" y="311.10" width="11.70" height="11.50" fill="#f7918a" />
<text x="478.60" y="319.50" font-size="6.8" text-anchor="start" font-weight="normal" fill="#222" stroke="#222" stroke-width="0.12" >&gt;99.9</text>
<text x="501.00" y="206.60" font-size="10" text-anchor="start" font-weight="bold" fill="#000" >d</text>
<path d="M541.6,211.4 L669.7,211.4 C668.5,222 663,230 662.6,240 L660.7,255.7 L658.7,300.3 C659,316 664,320 669,328 C672,333 675,338 676.5,343.3 L541.6,343.3 Z" fill="#f45540"/>
<rect x="541.60" y="211.40" width="2.40" height="44.30" fill="#a8b4b0" />
<path d="M546.1,211.4 L547.6,211.4 L548.4,255.7 L546.9,255.7 Z" fill="#f4f0ec"/>
<rect x="550.80" y="211.40" width="0.80" height="44.30" fill="#f58a78" />
<rect x="594.30" y="211.40" width="0.80" height="44.30" fill="#f5a070" />
<rect x="599.80" y="211.40" width="0.80" height="44.30" fill="#f8b8a8" />
<rect x="633.00" y="211.40" width="1.00" height="46.00" fill="#f5301c" />
<path d="M658.6,211.4 L660.4,211.4 C658.6,226 656,238 654.4,246 L653.2,246 C654.6,236 657,224 658.6,211.4 Z" fill="#fff"/>
<path d="M656.6,211.4 C655,226 652.5,238 651,250" fill="none" stroke="#fbd8d0" stroke-width="0.7"/>
<path d="M661.3,211.4 C659.5,226 657,238 655.5,246" fill="none" stroke="#9cc4dc" stroke-width="0.7"/>
<rect x="541.60" y="255.70" width="2.40" height="44.60" fill="#a8b4b0" />
<rect x="545.60" y="255.70" width="0.90" height="44.60" fill="#f2c040" />
<rect x="548.20" y="255.70" width="0.90" height="44.60" fill="#eea040" />
<path d="M599.3,258 L600.6,258 L600.8,298 L599.5,298 Z" fill="#f7b0a0"/>
<path d="M599.6,278 L600.6,278 L600.8,298 L599.6,298 Z" fill="#fce8e0"/>
<path d="M629.4,256.4 L633.6,256.4 C632.8,266 632,276 631.2,288 C630.6,276 630.0,266 629.4,256.4 Z" fill="#fff"/>
<path d="M656.5,256.4 C655,272 653,286 651.5,300.3" fill="none" stroke="#fff" stroke-width="1.0" opacity="0.9"/>
<path d="M658.8,256.4 C657.5,272 656,286 654.5,300.3" fill="none" stroke="#fff" stroke-width="1.0" opacity="0.9"/>
<path d="M660,262 C659,278 658,290 657.2,300.3" fill="none" stroke="#fff" stroke-width="1.0" opacity="0.9"/>
<rect x="541.60" y="300.30" width="10.80" height="43.00" fill="#9fb4b8" />
<rect x="542.30" y="300.30" width="0.80" height="43.00" fill="#78b4cc" />
<rect x="543.60" y="300.30" width="0.70" height="43.00" fill="#e8b060" />
<rect x="544.80" y="300.30" width="0.80" height="43.00" fill="#86bcd6" />
<rect x="546.20" y="300.30" width="0.80" height="43.00" fill="#e0c070" />
<rect x="547.50" y="300.30" width="0.80" height="43.00" fill="#70acc8" />
<rect x="548.90" y="300.30" width="0.80" height="43.00" fill="#d8a868" />
<rect x="550.20" y="300.30" width="0.90" height="43.00" fill="#7ab0c8" />
<rect x="551.60" y="300.30" width="0.80" height="43.00" fill="#c0b890" />
<rect x="570.00" y="300.30" width="0.80" height="43.00" fill="#f0b040" />
<path d="M582.6,300.3 L583.7,300.3 C583.7,320 584.7,325 584.7,343.3 L583.6,343.3 C583.6,325 582.6,320 582.6,300.3 Z" fill="#eaa040"/>
<path d="M584.0,300.3 L585.0,300.3 C585.0,320 586.2,325 586.2,343.3 L585.2,343.3 C585.2,325 584.0,320 584.0,300.3 Z" fill="#f0c850"/>
<path d="M585.4,300.3 L586.4,300.3 C586.4,320 587.8,325 587.8,343.3 L586.8,343.3 C586.8,325 585.4,320 585.4,300.3 Z" fill="#9ab0b8"/>
<path d="M586.8,300.3 L587.8,300.3 C587.8,320 589.4,325 589.4,343.3 L588.4,343.3 C588.4,325 586.8,320 586.8,300.3 Z" fill="#eca040"/>
<path d="M588.2,300.3 L589.1,300.3 C589.1,320 590.9,325 590.9,343.3 L590.0,343.3 C590.0,325 588.2,320 588.2,300.3 Z" fill="#f0c050"/>
<path d="M589.6,300.3 L590.6,300.3 C590.6,320 592.6,325 592.6,343.3 L591.6,343.3 C591.6,325 589.6,320 589.6,300.3 Z" fill="#a0b4c0"/>
<path d="M592.0,300.3 L593.1,300.3 C593.1,320 595.5,325 595.5,343.3 L594.4,343.3 C594.4,325 592.0,320 592.0,300.3 Z" fill="#f0b040"/>
<path d="M594.0,300.3 L595.2,300.3 C595.2,320 598.0,325 598.0,343.3 L596.8,343.3 C596.8,325 594.0,320 594.0,300.3 Z" fill="#f2d048"/>
<path d="M597.8,300.3 L599.0,300.3 C599.0,320 602.2,325 602.2,343.3 L601.0,343.3 C601.0,325 597.8,320 597.8,300.3 Z" fill="#a0b4bc"/>
<path d="M599.4,300.3 L600.4,300.3 C600.4,320 603.8,325 603.8,343.3 L602.8,343.3 C602.8,325 599.4,320 599.4,300.3 Z" fill="#eea040"/>
<path d="M601.0,300.3 L602.1,300.3 C602.1,320 605.7,325 605.7,343.3 L604.6,343.3 C604.6,325 601.0,320 601.0,300.3 Z" fill="#98b8c4"/>
<path d="M630.4,312 C633,320 636.4,330 636.4,343.3 L630.6,343.3 C631.2,330 630.8,320 630.4,312 Z" fill="#fff"/>
<path d="M631.2,326 C633,332 635.6,337 635.8,343.3 L631.4,343.3 C631.8,336 631.5,331 631.2,326 Z" fill="#8cc8e0"/>
<path d="M648.6,300.3 C648.6,324 648.5,320 648.5,343.3" fill="none" stroke="#fff" stroke-width="1.1" opacity="0.9"/>
<path d="M651.2,300.3 C651.2,324 655.5,320 655.5,343.3" fill="none" stroke="#fff" stroke-width="1.1" opacity="0.9"/>
<path d="M653.6,300.3 C653.6,324 661.0,320 661.0,343.3" fill="none" stroke="#fff" stroke-width="1.1" opacity="0.9"/>
<path d="M656.0,300.3 C656.0,324 666.0,320 666.0,343.3" fill="none" stroke="#fff" stroke-width="1.1" opacity="0.9"/>
<path d="M658.0,300.3 C658.0,324 671.0,320 671.0,343.3" fill="none" stroke="#fff" stroke-width="1.1" opacity="0.9"/>
<path d="M556,300.3 C570,316 626,320 632.6,343" fill="none" stroke="#8a98a8" stroke-width="0.6" opacity="0.8"/>
<path d="M562,300.3 C576,316 626,320 632.6,343" fill="none" stroke="#8a98a8" stroke-width="0.6" opacity="0.8"/>
<path d="M568,300.3 C582,316 626,320 632.6,343" fill="none" stroke="#8a98a8" stroke-width="0.6" opacity="0.8"/>
<path d="M575,300.3 C589,316 626,320 632.6,343" fill="none" stroke="#8a98a8" stroke-width="0.6" opacity="0.8"/>
<path d="M582,300.3 C596,316 626,320 632.6,343" fill="none" stroke="#8a98a8" stroke-width="0.6" opacity="0.8"/>
<path d="M590,300.3 C604,316 626,320 632.6,343" fill="none" stroke="#8a98a8" stroke-width="0.6" opacity="0.8"/>
<path d="M598,300.3 C612,316 626,320 632.6,343" fill="none" stroke="#8a98a8" stroke-width="0.6" opacity="0.8"/>
<path d="M606,300.3 C620,316 626,320 632.6,343" fill="none" stroke="#8a98a8" stroke-width="0.6" opacity="0.8"/>
<path d="M614,300.3 C628,316 626,320 632.6,343" fill="none" stroke="#8a98a8" stroke-width="0.6" opacity="0.8"/>
<path d="M622,300.3 C636,316 626,320 632.6,343" fill="none" stroke="#8a98a8" stroke-width="0.6" opacity="0.8"/>
<path d="M641,300.3 C639,322 636,322 634.2,343" fill="none" stroke="#8a98a8" stroke-width="0.6" opacity="0.8"/>
<path d="M644.5,300.3 C642.5,322 636,322 634.2,343" fill="none" stroke="#8a98a8" stroke-width="0.6" opacity="0.8"/>
<path d="M648,300.3 C646,322 636,322 634.2,343" fill="none" stroke="#8a98a8" stroke-width="0.6" opacity="0.8"/>
<path d="M651.5,300.3 C649.5,322 636,322 634.2,343" fill="none" stroke="#8a98a8" stroke-width="0.6" opacity="0.8"/>
<path d="M655,300.3 C653,322 636,322 634.2,343" fill="none" stroke="#8a98a8" stroke-width="0.6" opacity="0.8"/>
<path d="M628,318 C628,330 633.4,334 633.4,343" fill="none" stroke="#8cc0d8" stroke-width="0.6" opacity="0.9"/>
<path d="M632,318 C632,330 633.4,334 633.4,343" fill="none" stroke="#8cc0d8" stroke-width="0.6" opacity="0.9"/>
<path d="M637,318 C637,330 633.4,334 633.4,343" fill="none" stroke="#8cc0d8" stroke-width="0.6" opacity="0.9"/>
<line x1="541.60" y1="211.30" x2="669.70" y2="211.30" stroke="#111" stroke-width="1.5" />
<line x1="541.60" y1="255.70" x2="662.30" y2="255.70" stroke="#111" stroke-width="1.5" />
<line x1="541.60" y1="300.30" x2="658.70" y2="300.30" stroke="#111" stroke-width="1.5" />
<line x1="619.30" y1="345.00" x2="677.30" y2="345.00" stroke="#111" stroke-width="1.2" />
<rect x="541.60" y="343.3" width="13.10" height="3.5" fill="#fff" stroke="#111" stroke-width="0.9"/>
<rect x="554.70" y="343.3" width="50.30" height="3.5" fill="#fff" stroke="#111" stroke-width="0.9"/>
<rect x="605.00" y="343.3" width="14.30" height="3.5" fill="#fff" stroke="#111" stroke-width="0.9"/>
<rect x="677.30" y="343.3" width="8.70" height="3.5" fill="#fff" stroke="#111" stroke-width="0.9"/>
<rect x="570.00" y="342.90" width="2.20" height="4.30" fill="#111" />
<rect x="576.60" y="342.90" width="7.70" height="4.30" fill="#111" />
<rect x="589.30" y="342.90" width="3.70" height="4.30" fill="#111" />
<rect x="595.00" y="342.90" width="3.50" height="4.30" fill="#111" />
<rect x="603.30" y="342.90" width="1.30" height="4.30" fill="#111" />
<rect x="629.20" y="342.90" width="7.60" height="4.30" fill="#111" />
<rect x="640.50" y="342.90" width="1.00" height="4.30" fill="#111" />
<rect x="643.00" y="342.90" width="1.50" height="4.30" fill="#111" />
<rect x="647.80" y="342.90" width="4.20" height="4.30" fill="#111" />
<rect x="653.50" y="342.90" width="6.50" height="4.30" fill="#111" />
<rect x="661.00" y="342.90" width="2.00" height="4.30" fill="#111" />
<rect x="664.00" y="342.90" width="4.00" height="4.30" fill="#111" />
<rect x="669.00" y="342.90" width="2.00" height="4.30" fill="#111" />
<rect x="672.00" y="342.90" width="1.50" height="4.30" fill="#111" />
<rect x="675.00" y="342.90" width="1.50" height="4.30" fill="#111" />
<text x="542.70" y="354.30" font-size="7.9" text-anchor="start" font-weight="normal" fill="#1a1a1a" stroke="#1a1a1a" stroke-width="0.12" >PAR</text>
<text x="598.70" y="354.30" font-size="7.9" text-anchor="middle" font-weight="normal" fill="#1a1a1a" stroke="#1a1a1a" stroke-width="0.12" >CenSat</text>
<text x="666.40" y="354.30" font-size="7.9" text-anchor="start" font-weight="normal" fill="#1a1a1a" stroke="#1a1a1a" stroke-width="0.12" >Yq12</text>
<line x1="541.60" y1="358.60" x2="686.00" y2="358.60" stroke="#111" stroke-width="1.3" />
<line x1="541.60" y1="358.60" x2="541.60" y2="363.50" stroke="#222" stroke-width="1.2" />
<line x1="639.40" y1="358.60" x2="639.40" y2="363.50" stroke="#222" stroke-width="1.2" />
<text x="541.60" y="371.80" font-size="8.3" text-anchor="middle" font-weight="normal" fill="#1a1a1a" stroke="#1a1a1a" stroke-width="0.12" >0</text>
<text x="639.50" y="371.80" font-size="8.3" text-anchor="middle" font-weight="normal" fill="#1a1a1a" stroke="#1a1a1a" stroke-width="0.12" >20</text>
<text x="616.30" y="381.00" font-size="9.4" text-anchor="middle" font-weight="normal" fill="#1a1a1a" stroke="#1a1a1a" stroke-width="0.12" >Y chromosome (w/o Yq12)</text>
<text x="525.60" y="216.90" font-size="9.3" text-anchor="middle" font-weight="normal" fill="#1a1a1a" stroke="#1a1a1a" stroke-width="0.12" >father</text>
<text x="524.90" y="228.10" font-size="9.3" text-anchor="middle" font-weight="normal" fill="#1a1a1a" stroke="#1a1a1a" stroke-width="0.12" >hap1</text>
<text x="522.20" y="260.30" font-size="9.3" text-anchor="middle" font-weight="normal" fill="#1a1a1a" stroke="#1a1a1a" stroke-width="0.12" >proband</text>
<text x="524.90" y="272.00" font-size="9.3" text-anchor="middle" font-weight="normal" fill="#1a1a1a" stroke="#1a1a1a" stroke-width="0.12" >hap1</text>
<text x="524.40" y="304.00" font-size="9.3" text-anchor="middle" font-weight="normal" fill="#1a1a1a" stroke="#1a1a1a" stroke-width="0.12" >sibling</text>
<text x="524.90" y="315.00" font-size="9.3" text-anchor="middle" font-weight="normal" fill="#1a1a1a" stroke="#1a1a1a" stroke-width="0.12" >hap1</text>
<text x="524.60" y="347.20" font-size="9.3" text-anchor="middle" font-weight="normal" fill="#1a1a1a" stroke="#1a1a1a" stroke-width="0.12" >T2T-Y</text>
<text x="1.75" y="391.60" font-size="10" text-anchor="start" font-weight="bold" fill="#000" >e</text>
<polyline transform="translate(47.20 462.30) scale(0.15050 -0.06554)" vector-effect="non-scaling-stroke" points="0,664 1,718 2,711 3,658 4,708 5,688 6,660 7,701 8,719 9,678 10,651 11,674 12,700 13,725 14,723 15,721 16,682 17,702 18,706 19,725 20,738 21,708 22,672 23,691 24,679 25,678 26,707 27,683 28,645 29,685 30,711 31,707 32,705 33,733 34,654 35,675 36,690 37,690 38,667 39,651 40,712 41,714 42,683 43,668 44,705 45,676 46,649 47,720 48,691 49,684 50,666 51,686 52,672 53,669 54,667 55,714 56,706 57,700 58,700 59,664 60,726 61,656 62,641 63,671 64,696 65,673 66,697 67,685 68,691 69,702 70,697 71,658 72,673 73,688 74,686 75,664 76,736 77,664 78,689 79,689 80,701 81,697 82,696 83,731 84,658 85,696 86,684 87,727 88,722 89,684 90,648 91,657 92,702 93,697 94,673 95,675 96,707 97,680 98,720 99,707 100,699 101,668 102,731 103,714 104,663 105,634 106,731 107,707 108,693 109,726 110,728 111,713 112,747 113,717 114,716 115,673 116,716 117,727 118,661 119,699 120,733 121,712 122,714 123,716 124,686 125,699 126,665 127,714 128,678 129,651 130,723 131,695 132,688 133,655 134,674 135,675 136,676 137,652 138,630 139,674 140,723 141,709 142,669 143,667 144,713 145,693 146,718 147,647 148,683 149,637 150,710 151,723 152,735 153,710 154,730 155,694 156,683 157,650 158,684 159,648 160,655 161,704 162,706 163,678 164,682 165,699 166,667 167,733 168,708 169,714 170,687 171,666 172,704 173,683 174,685 175,695 176,675 177,674 178,671 179,693 180,678 181,720 182,680 183,682 184,674 185,718 186,718 187,688 188,695 189,638 190,663 191,645 192,689 193,644 194,645 195,718 196,707 197,683 198,677 199,642 200,703 201,686 202,657 203,682 204,625 205,695 206,717 207,694 208,668 209,673 210,663 211,688 212,686 213,674 214,646 215,672 216,654 217,679 218,680 219,656 220,696 221,693 222,676 223,640 224,688 225,662 226,605 227,650 228,682 229,688 230,625 231,646 232,627 233,620 234,585 235,622 236,628 237,614 238,634 239,660 240,611 241,540 242,596 243,593 244,586 245,514 246,557 247,553 248,597 249,529 250,509 251,503 252,489 253,519 254,530 255,485 256,464 257,481 258,408 259,474 260,433 261,429 262,465 263,409 264,403 265,392 266,361 267,403 268,417 269,369 270,355 271,377 272,316 273,308 274,332 275,283 276,301 277,261 278,268 279,304 280,269 281,303 282,241 283,223 284,297 285,226 286,267 287,228 288,270 289,263 290,268 291,264 292,222 293,274 294,268 295,235 296,213 297,205 298,232 299,240 300,245 301,221 302,202 303,247 304,271 305,196 306,196 307,194 308,169 309,250 310,197 311,228 312,206 313,218 314,178 315,178 316,170 317,259 318,236 319,228 320,262 321,259 322,219 323,227 324,221 325,251 326,164 327,273 328,216 329,172 330,177 331,176 332,234 333,241 334,159 335,242 336,266 337,201 338,196 339,210 340,224 341,236 342,207 343,219 344,198 345,252 346,221 347,215 348,254 349,217 350,196 351,206 352,205 353,213 354,189 355,169 356,239 357,184 358,227 359,218 360,213 361,228 362,264 363,217 364,249 365,184 366,230 367,234 368,260 369,260 370,165 371,211 372,173 373,157 374,223 375,261 376,185 377,179 378,170 379,213 380,270 381,210 382,260 383,212 384,234 385,203 386,237 387,267 388,243 389,228 390,235 391,217 392,254 393,194 394,266 395,233 396,247 397,302 398,205 399,302 400,306 401,219 402,247 403,272 404,272 405,262 406,289 407,286 408,229 409,287 410,282 411,290 412,352 413,257 414,331 415,337 416,353 417,356 418,311 419,339 420,346 421,334 422,371 423,390 424,389 425,449 426,414 427,438 428,433 429,419 430,435 431,448 432,429 433,443 434,524 435,535 436,498 437,530 438,525 439,455 440,487 441,547 442,573 443,537 444,521 445,556 446,565 447,592 448,557 449,581 450,603 451,595 452,561 453,606 454,647 455,643 456,605 457,609 458,616 459,599 460,650 461,671 462,633 463,671 464,644 465,655 466,642 467,628 468,640 469,659 470,637 471,631 472,644 473,671 474,651 475,693 476,719 477,652 478,649 479,687 480,664 481,706 482,686 483,677 484,667 485,683 486,657 487,689 488,690 489,636 490,686 491,643 492,700 493,667 494,664 495,655 496,625 497,639 498,672 499,659 500,665 501,686 502,626 503,701 504,653 505,727 506,711 507,656 508,667 509,671 510,665 511,646 512,698 513,666 514,687 515,679 516,714 517,700 518,704 519,672 520,633 521,671 522,657 523,697 524,717 525,692 526,665 527,682 528,657 529,737 530,692 531,687 532,693 533,672 534,713 535,708 536,726 537,667 538,673 539,681 540,681 541,690 542,692 543,655 544,679 545,680 546,672 547,658 548,641 549,722 550,711 551,715 552,704 553,727 554,684 555,657 556,724 557,695 558,687 559,667 560,689 561,739 562,700 563,718 564,634 565,696 566,712 567,720 568,643 569,664 570,695 571,659 572,724 573,689 574,675 575,677 576,721 577,678 578,672 579,704 580,721 581,707 582,709 583,678 584,684 585,692 586,642 587,646 588,662 589,688 590,673 591,714 592,675 593,631 594,697 595,640 596,698 597,666 598,696 599,725 600,697 601,683 602,722 603,668 604,645 605,668 606,717 607,702 608,684 609,682 610,689 611,703 612,722 613,632 614,708 615,721 616,698 617,705 618,713 619,711 620,650 621,697 622,646 623,687 624,655 625,666 626,637 627,678 628,721 629,709 630,672 631,709 632,626 633,684 634,660 635,735 636,674 637,649 638,678 639,680 640,739 641,723 642,661 643,651 644,679 645,643 646,706 647,693 648,685 649,669 650,679 651,676 652,687 653,688 654,649 655,656 656,665 657,665 658,659 659,678 660,629 661,700 662,695 663,688 664,696 665,719 666,681 667,673 668,659 669,682 670,733 671,687 672,706 673,707 674,640 675,664 676,682 677,694 678,663 679,649 680,670 681,672 682,667 683,639 684,724 685,677 686,671 687,680 688,666 689,665 690,636 691,676 692,672 693,678 694,705 695,679 696,649 697,699 698,701 699,689" fill="none" stroke="#1414ff" stroke-width="1.0"/>
<polyline transform="translate(47.20 462.30) scale(0.15050 -0.06554)" vector-effect="non-scaling-stroke" points="0,622 1,671 2,596 3,633 4,582 5,651 6,637 7,612 8,635 9,683 10,625 11,615 12,631 13,618 14,576 15,579 16,647 17,638 18,654 19,616 20,591 21,696 22,678 23,635 24,682 25,666 26,706 27,610 28,594 29,633 30,597 31,709 32,620 33,612 34,642 35,602 36,647 37,658 38,663 39,584 40,598 41,649 42,644 43,615 44,640 45,615 46,588 47,697 48,635 49,697 50,711 51,629 52,621 53,634 54,633 55,701 56,630 57,615 58,641 59,595 60,665 61,667 62,617 63,674 64,681 65,705 66,609 67,613 68,687 69,604 70,626 71,603 72,636 73,700 74,661 75,656 76,589 77,669 78,680 79,640 80,634 81,660 82,644 83,683 84,633 85,621 86,632 87,510 88,601 89,646 90,625 91,625 92,585 93,603 94,607 95,676 96,627 97,628 98,680 99,648 100,620 101,619 102,623 103,682 104,627 105,645 106,583 107,584 108,649 109,625 110,581 111,646 112,652 113,638 114,659 115,576 116,586 117,689 118,644 119,646 120,702 121,603 122,635 123,625 124,633 125,637 126,646 127,639 128,654 129,649 130,622 131,582 132,658 133,633 134,679 135,677 136,635 137,599 138,638 139,619 140,688 141,571 142,593 143,655 144,638 145,643 146,650 147,645 148,683 149,638 150,626 151,666 152,664 153,682 154,639 155,610 156,583 157,642 158,652 159,666 160,576 161,655 162,591 163,630 164,623 165,699 166,596 167,686 168,627 169,632 170,644 171,644 172,636 173,608 174,657 175,641 176,627 177,572 178,665 179,632 180,660 181,628 182,620 183,667 184,596 185,582 186,647 187,713 188,595 189,623 190,597 191,565 192,578 193,678 194,676 195,691 196,643 197,630 198,677 199,663 200,620 201,654 202,628 203,598 204,653 205,664 206,606 207,588 208,593 209,662 210,624 211,604 212,627 213,617 214,702 215,627 216,634 217,623 218,678 219,635 220,642 221,679 222,613 223,662 224,668 225,656 226,659 227,625 228,652 229,658 230,612 231,655 232,591 233,663 234,673 235,679 236,645 237,684 238,603 239,621 240,651 241,635 242,673 243,613 244,603 245,629 246,676 247,585 248,608 249,613 250,608 251,592 252,618 253,567 254,542 255,563 256,594 257,658 258,617 259,577 260,590 261,595 262,600 263,598 264,580 265,585 266,562 267,576 268,516 269,625 270,550 271,523 272,590 273,605 274,588 275,522 276,608 277,553 278,608 279,564 280,544 281,536 282,610 283,627 284,589 285,533 286,626 287,535 288,630 289,521 290,549 291,580 292,543 293,521 294,566 295,619 296,544 297,559 298,515 299,538 300,530 301,519 302,552 303,604 304,501 305,496 306,533 307,565 308,544 309,557 310,522 311,567 312,551 313,575 314,551 315,533 316,531 317,632 318,516 319,563 320,602 321,534 322,532 323,488 324,502 325,547 326,593 327,561 328,546 329,606 330,552 331,598 332,498 333,502 334,517 335,554 336,620 337,536 338,480 339,578 340,570 341,557 342,596 343,587 344,578 345,543 346,531 347,551 348,541 349,577 350,550 351,518 352,569 353,542 354,548 355,572 356,563 357,600 358,483 359,544 360,535 361,562 362,533 363,548 364,532 365,528 366,575 367,571 368,500 369,603 370,600 371,505 372,533 373,605 374,523 375,555 376,563 377,566 378,580 379,547 380,505 381,513 382,571 383,537 384,534 385,499 386,576 387,576 388,558 389,564 390,567 391,555 392,526 393,578 394,566 395,529 396,585 397,632 398,540 399,521 400,504 401,571 402,553 403,604 404,517 405,526 406,548 407,548 408,552 409,531 410,577 411,551 412,597 413,521 414,559 415,523 416,569 417,626 418,559 419,625 420,592 421,554 422,608 423,585 424,557 425,589 426,575 427,662 428,585 429,647 430,588 431,571 432,578 433,613 434,591 435,667 436,599 437,615 438,585 439,611 440,582 441,543 442,612 443,606 444,647 445,562 446,666 447,585 448,648 449,654 450,591 451,565 452,612 453,672 454,626 455,619 456,635 457,596 458,622 459,576 460,682 461,640 462,613 463,648 464,618 465,573 466,628 467,667 468,638 469,624 470,703 471,630 472,598 473,674 474,616 475,612 476,651 477,659 478,564 479,710 480,581 481,669 482,660 483,631 484,628 485,646 486,701 487,602 488,661 489,689 490,656 491,667 492,643 493,599 494,669 495,626 496,671 497,620 498,649 499,628 500,619 501,625 502,614 503,587 504,616 505,658 506,579 507,603 508,607 509,688 510,665 511,607 512,579 513,646 514,686 515,605 516,636 517,590 518,642 519,645 520,645 521,687 522,627 523,685 524,626 525,676 526,590 527,600 528,588 529,628 530,635 531,701 532,648 533,607 534,687 535,701 536,667 537,654 538,674 539,689 540,672 541,693 542,633 543,584 544,643 545,663 546,651 547,642 548,648 549,606 550,665 551,683 552,661 553,636 554,614 555,683 556,642 557,619 558,631 559,660 560,660 561,655 562,670 563,671 564,634 565,700 566,593 567,663 568,683 569,613 570,607 571,651 572,649 573,636 574,621 575,669 576,687 577,645 578,630 579,683 580,652 581,595 582,585 583,683 584,635 585,605 586,643 587,630 588,657 589,654 590,605 591,648 592,637 593,669 594,676 595,632 596,662 597,691 598,621 599,636 600,636 601,574 602,665 603,641 604,696 605,614 606,658 607,610 608,652 609,623 610,602 611,675 612,621 613,613 614,588 615,591 616,627 617,693 618,648 619,585 620,623 621,633 622,643 623,638 624,657 625,642 626,626 627,666 628,611 629,692 630,606 631,611 632,667 633,607 634,688 635,634 636,589 637,643 638,641 639,653 640,588 641,606 642,600 643,624 644,598 645,691 646,633 647,677 648,591 649,626 650,633 651,583 652,661 653,583 654,641 655,648 656,608 657,684 658,631 659,653 660,608 661,705 662,630 663,655 664,591 665,639 666,607 667,614 668,637 669,657 670,637 671,674 672,664 673,668 674,647 675,667 676,701 677,603 678,636 679,628 680,661 681,666 682,665 683,630 684,701 685,662 686,643 687,599 688,607 689,647 690,617 691,687 692,571 693,611 694,668 695,650 696,649 697,697 698,655 699,657" fill="none" stroke="#f00a1e" stroke-width="1.0"/>
<line x1="46.60" y1="396.40" x2="46.60" y2="463.10" stroke="#111" stroke-width="1.2" />
<line x1="46.10" y1="462.60" x2="152.40" y2="462.60" stroke="#111" stroke-width="1.25" />
<line x1="44.40" y1="462.30" x2="46.60" y2="462.30" stroke="#111" stroke-width="1.0" />
<text x="43.00" y="465.20" font-size="8.2" text-anchor="end" font-weight="normal" fill="#222" stroke="#222" stroke-width="0.12" >0</text>
<line x1="44.40" y1="449.19" x2="46.60" y2="449.19" stroke="#111" stroke-width="1.0" />
<line x1="44.40" y1="436.08" x2="46.60" y2="436.08" stroke="#111" stroke-width="1.0" />
<text x="43.00" y="438.98" font-size="8.2" text-anchor="end" font-weight="normal" fill="#222" stroke="#222" stroke-width="0.12" >40</text>
<line x1="44.40" y1="422.97" x2="46.60" y2="422.97" stroke="#111" stroke-width="1.0" />
<line x1="44.40" y1="409.86" x2="46.60" y2="409.86" stroke="#111" stroke-width="1.0" />
<text x="43.00" y="412.76" font-size="8.2" text-anchor="end" font-weight="normal" fill="#222" stroke="#222" stroke-width="0.12" >80</text>
<line x1="44.40" y1="396.76" x2="46.60" y2="396.76" stroke="#111" stroke-width="1.0" />
<line x1="46.60" y1="462.60" x2="46.60" y2="465.20" stroke="#111" stroke-width="1.0" />
<line x1="91.14" y1="462.60" x2="91.14" y2="465.20" stroke="#111" stroke-width="1.0" />
<line x1="108.39" y1="462.60" x2="108.39" y2="465.20" stroke="#111" stroke-width="1.0" />
<line x1="152.40" y1="462.60" x2="152.40" y2="465.20" stroke="#111" stroke-width="1.0" />
<text x="99.50" y="401.70" font-size="9.2" text-anchor="middle" font-weight="normal" fill="#1a1a1a" stroke="#1a1a1a" stroke-width="0.12" >11071</text>
<polyline transform="translate(47.20 532.80) scale(0.15050 -0.06495)" vector-effect="non-scaling-stroke" points="0,592 1,640 2,605 3,595 4,643 5,643 6,648 7,625 8,616 9,653 10,633 11,636 12,639 13,670 14,669 15,639 16,669 17,681 18,578 19,620 20,605 21,666 22,584 23,686 24,652 25,637 26,653 27,579 28,677 29,593 30,656 31,622 32,617 33,610 34,583 35,632 36,635 37,596 38,647 39,631 40,636 41,627 42,638 43,655 44,581 45,646 46,608 47,638 48,604 49,606 50,696 51,656 52,666 53,625 54,628 55,656 56,618 57,666 58,658 59,590 60,682 61,693 62,671 63,686 64,639 65,680 66,605 67,649 68,678 69,625 70,669 71,666 72,672 73,645 74,584 75,603 76,624 77,604 78,641 79,666 80,622 81,645 82,618 83,586 84,615 85,657 86,602 87,598 88,658 89,607 90,646 91,632 92,647 93,692 94,637 95,664 96,644 97,622 98,626 99,607 100,637 101,664 102,660 103,608 104,632 105,666 106,664 107,638 108,650 109,603 110,624 111,652 112,610 113,668 114,596 115,674 116,648 117,688 118,607 119,629 120,606 121,637 122,606 123,658 124,608 125,622 126,581 127,694 128,636 129,617 130,646 131,633 132,671 133,651 134,681 135,646 136,590 137,603 138,623 139,625 140,629 141,632 142,618 143,638 144,642 145,623 146,643 147,660 148,594 149,609 150,648 151,664 152,631 153,672 154,623 155,641 156,628 157,652 158,598 159,634 160,683 161,690 162,610 163,593 164,657 165,655 166,622 167,613 168,681 169,620 170,628 171,624 172,627 173,634 174,627 175,654 176,673 177,642 178,654 179,598 180,663 181,594 182,668 183,651 184,619 185,596 186,643 187,664 188,634 189,646 190,636 191,623 192,615 193,625 194,655 195,630 196,646 197,652 198,685 199,651 200,601 201,614 202,597 203,626 204,688 205,660 206,635 207,641 208,619 209,688 210,648 211,668 212,625 213,659 214,665 215,575 216,580 217,579 218,650 219,620 220,630 221,612 222,639 223,597 224,607 225,625 226,620 227,595 228,600 229,642 230,574 231,587 232,573 233,656 234,567 235,589 236,630 237,570 238,605 239,578 240,586 241,614 242,614 243,539 244,529 245,554 246,558 247,528 248,585 249,600 250,536 251,537 252,525 253,577 254,572 255,514 256,456 257,470 258,498 259,522 260,453 261,531 262,507 263,477 264,434 265,441 266,461 267,517 268,443 269,464 270,440 271,444 272,449 273,453 274,455 275,387 276,394 277,421 278,444 279,406 280,385 281,445 282,388 283,444 284,436 285,416 286,365 287,398 288,417 289,378 290,381 291,368 292,430 293,345 294,356 295,310 296,343 297,405 298,385 299,371 300,376 301,364 302,374 303,366 304,386 305,297 306,349 307,402 308,311 309,345 310,354 311,333 312,326 313,384 314,335 315,333 316,373 317,377 318,346 319,357 320,332 321,338 322,331 323,315 324,341 325,351 326,405 327,349 328,328 329,351 330,379 331,387 332,404 333,391 334,380 335,354 336,352 337,366 338,350 339,331 340,321 341,341 342,318 343,332 344,343 345,347 346,382 347,316 348,331 349,380 350,377 351,350 352,338 353,357 354,375 355,344 356,375 357,334 358,376 359,407 360,303 361,361 362,320 363,334 364,353 365,395 366,356 367,345 368,341 369,403 370,332 371,376 372,369 373,325 374,372 375,308 376,358 377,314 378,368 379,357 380,324 381,382 382,303 383,393 384,364 385,334 386,366 387,381 388,346 389,350 390,332 391,364 392,357 393,333 394,343 395,386 396,370 397,423 398,383 399,368 400,387 401,362 402,367 403,428 404,368 405,418 406,353 407,397 408,405 409,365 410,400 411,344 412,417 413,363 414,402 415,420 416,380 417,416 418,448 419,470 420,450 421,434 422,482 423,430 424,459 425,484 426,447 427,487 428,525 429,461 430,475 431,469 432,542 433,504 434,512 435,510 436,539 437,561 438,537 439,556 440,543 441,533 442,589 443,520 444,564 445,566 446,581 447,583 448,524 449,550 450,536 451,573 452,611 453,604 454,583 455,634 456,587 457,587 458,627 459,582 460,571 461,667 462,579 463,581 464,611 465,611 466,601 467,602 468,616 469,616 470,620 471,622 472,603 473,624 474,628 475,651 476,611 477,632 478,648 479,630 480,616 481,582 482,611 483,626 484,627 485,600 486,648 487,644 488,622 489,626 490,589 491,627 492,642 493,612 494,632 495,625 496,590 497,644 498,605 499,675 500,604 501,646 502,600 503,656 504,652 505,615 506,621 507,596 508,642 509,643 510,682 511,616 512,620 513,593 514,649 515,625 516,614 517,676 518,644 519,628 520,649 521,644 522,645 523,619 524,622 525,593 526,619 527,673 528,615 529,658 530,606 531,610 532,587 533,617 534,592 535,626 536,640 537,594 538,598 539,648 540,621 541,589 542,636 543,599 544,634 545,590 546,601 547,617 548,615 549,627 550,612 551,661 552,645 553,611 554,634 555,633 556,672 557,652 558,626 559,644 560,634 561,624 562,619 563,621 564,667 565,604 566,581 567,638 568,596 569,616 570,632 571,587 572,604 573,619 574,677 575,635 576,620 577,675 578,653 579,653 580,626 581,584 582,604 583,686 584,655 585,631 586,596 587,590 588,593 589,636 590,606 591,628 592,606 593,586 594,618 595,607 596,637 597,625 598,643 599,648 600,649 601,583 602,593 603,648 604,668 605,600 606,661 607,673 608,624 609,661 610,609 611,640 612,631 613,622 614,633 615,637 616,645 617,635 618,636 619,649 620,628 621,651 622,666 623,607 624,621 625,645 626,571 627,596 628,601 629,638 630,621 631,585 632,684 633,591 634,588 635,605 636,630 637,595 638,607 639,594 640,666 641,619 642,606 643,612 644,630 645,586 646,674 647,664 648,646 649,651 650,615 651,664 652,647 653,600 654,632 655,633 656,612 657,660 658,659 659,660 660,631 661,631 662,621 663,621 664,614 665,582 666,644 667,608 668,592 669,600 670,631 671,602 672,581 673,596 674,610 675,607 676,674 677,642 678,623 679,601 680,670 681,625 682,631 683,623 684,634 685,623 686,626 687,617 688,623 689,686 690,619 691,576 692,625 693,595 694,624 695,639 696,588 697,629 698,584 699,632" fill="none" stroke="#1414ff" stroke-width="1.0"/>
<polyline transform="translate(47.20 532.80) scale(0.15050 -0.06495)" vector-effect="non-scaling-stroke" points="0,626 1,650 2,601 3,651 4,565 5,615 6,659 7,636 8,671 9,646 10,644 11,626 12,615 13,579 14,579 15,617 16,643 17,635 18,559 19,630 20,587 21,562 22,612 23,602 24,628 25,675 26,582 27,559 28,658 29,653 30,598 31,649 32,609 33,614 34,575 35,641 36,601 37,627 38,556 39,601 40,617 41,623 42,636 43,641 44,676 45,626 46,623 47,655 48,654 49,660 50,651 51,613 52,639 53,647 54,646 55,563 56,551 57,579 58,644 59,647 60,614 61,624 62,622 63,634 64,628 65,620 66,648 67,611 68,627 69,618 70,609 71,619 72,641 73,643 74,561 75,677 76,603 77,614 78,597 79,660 80,669 81,597 82,596 83,645 84,570 85,621 86,618 87,604 88,650 89,560 90,594 91,592 92,553 93,675 94,583 95,638 96,591 97,580 98,608 99,608 100,617 101,634 102,678 103,629 104,610 105,609 106,626 107,605 108,629 109,622 110,673 111,677 112,647 113,616 114,663 115,684 116,574 117,603 118,577 119,654 120,590 121,679 122,564 123,618 124,635 125,592 126,693 127,556 128,616 129,669 130,632 131,641 132,597 133,595 134,617 135,606 136,625 137,562 138,590 139,587 140,581 141,620 142,629 143,663 144,664 145,601 146,635 147,648 148,607 149,622 150,587 151,665 152,626 153,589 154,630 155,646 156,608 157,657 158,620 159,647 160,680 161,588 162,636 163,565 164,651 165,664 166,587 167,585 168,640 169,622 170,613 171,553 172,601 173,586 174,676 175,632 176,594 177,590 178,661 179,588 180,618 181,620 182,618 183,593 184,554 185,559 186,621 187,664 188,600 189,578 190,618 191,563 192,635 193,586 194,592 195,680 196,586 197,603 198,660 199,643 200,643 201,639 202,592 203,611 204,624 205,653 206,668 207,560 208,662 209,607 210,596 211,649 212,576 213,639 214,619 215,638 216,610 217,615 218,549 219,599 220,607 221,582 222,605 223,597 224,597 225,641 226,646 227,582 228,618 229,601 230,635 231,564 232,567 233,634 234,630 235,601 236,560 237,619 238,571 239,590 240,577 241,567 242,584 243,604 244,571 245,585 246,642 247,616 248,555 249,550 250,537 251,561 252,525 253,591 254,565 255,488 256,493 257,515 258,551 259,502 260,473 261,469 262,518 263,450 264,499 265,514 266,547 267,510 268,508 269,517 270,477 271,476 272,467 273,489 274,485 275,521 276,479 277,514 278,468 279,447 280,479 281,485 282,384 283,473 284,403 285,444 286,435 287,516 288,469 289,435 290,479 291,462 292,456 293,443 294,425 295,460 296,444 297,453 298,448 299,449 300,392 301,423 302,460 303,454 304,477 305,436 306,382 307,467 308,447 309,411 310,400 311,477 312,465 313,426 314,445 315,444 316,419 317,435 318,383 319,419 320,435 321,409 322,490 323,469 324,421 325,372 326,425 327,418 328,395 329,459 330,416 331,389 332,423 333,443 334,434 335,454 336,445 337,431 338,440 339,427 340,418 341,447 342,403 343,381 344,447 345,358 346,463 347,406 348,484 349,425 350,455 351,380 352,475 353,403 354,468 355,423 356,412 357,469 358,416 359,417 360,380 361,431 362,466 363,418 364,445 365,439 366,456 367,390 368,423 369,394 370,427 371,440 372,419 373,435 374,439 375,418 376,450 377,463 378,476 379,386 380,452 381,480 382,378 383,410 384,399 385,446 386,510 387,488 388,401 389,389 390,422 391,414 392,477 393,441 394,456 395,448 396,398 397,429 398,491 399,386 400,452 401,402 402,436 403,426 404,407 405,468 406,440 407,507 408,466 409,424 410,502 411,432 412,409 413,423 414,499 415,514 416,481 417,483 418,494 419,520 420,471 421,547 422,508 423,467 424,457 425,485 426,536 427,503 428,501 429,462 430,454 431,483 432,497 433,507 434,520 435,545 436,547 437,567 438,562 439,513 440,612 441,530 442,615 443,563 444,559 445,571 446,555 447,598 448,572 449,642 450,594 451,533 452,591 453,652 454,580 455,589 456,508 457,577 458,586 459,635 460,637 461,573 462,592 463,668 464,611 465,618 466,618 467,671 468,617 469,603 470,659 471,657 472,614 473,559 474,637 475,622 476,631 477,614 478,617 479,544 480,579 481,601 482,587 483,607 484,560 485,581 486,603 487,621 488,645 489,646 490,615 491,640 492,591 493,619 494,684 495,601 496,619 497,636 498,583 499,625 500,670 501,592 502,642 503,685 504,656 505,603 506,607 507,651 508,670 509,591 510,623 511,653 512,604 513,602 514,590 515,583 516,601 517,652 518,672 519,642 520,617 521,666 522,583 523,599 524,626 525,665 526,591 527,595 528,586 529,585 530,647 531,559 532,579 533,614 534,622 535,577 536,644 537,586 538,642 539,595 540,614 541,673 542,618 543,666 544,648 545,618 546,681 547,654 548,651 549,565 550,623 551,647 552,681 553,667 554,629 555,608 556,644 557,621 558,611 559,663 560,623 561,615 562,603 563,663 564,610 565,574 566,620 567,591 568,678 569,597 570,630 571,646 572,644 573,580 574,649 575,617 576,667 577,651 578,628 579,561 580,587 581,587 582,642 583,611 584,600 585,654 586,649 587,610 588,613 589,592 590,649 591,616 592,611 593,633 594,672 595,615 596,619 597,636 598,608 599,642 600,620 601,574 602,607 603,630 604,623 605,569 606,684 607,552 608,642 609,610 610,625 611,572 612,630 613,627 614,677 615,621 616,647 617,576 618,599 619,638 620,595 621,614 622,653 623,624 624,620 625,594 626,628 627,674 628,612 629,666 630,557 631,682 632,622 633,635 634,617 635,605 636,591 637,623 638,613 639,627 640,596 641,653 642,660 643,661 644,693 645,673 646,646 647,669 648,669 649,602 650,600 651,605 652,647 653,604 654,664 655,588 656,567 657,665 658,639 659,610 660,678 661,589 662,601 663,620 664,623 665,585 666,611 667,604 668,600 669,615 670,650 671,566 672,564 673,692 674,596 675,589 676,626 677,629 678,643 679,594 680,651 681,630 682,634 683,620 684,601 685,626 686,602 687,628 688,634 689,599 690,589 691,665 692,578 693,651 694,621 695,651 696,633 697,619 698,610 699,624" fill="none" stroke="#f00a1e" stroke-width="1.0"/>
<line x1="46.60" y1="467.50" x2="46.60" y2="533.60" stroke="#111" stroke-width="1.2" />
<line x1="46.10" y1="533.10" x2="152.40" y2="533.10" stroke="#111" stroke-width="1.25" />
<line x1="44.40" y1="532.80" x2="46.60" y2="532.80" stroke="#111" stroke-width="1.0" />
<text x="43.00" y="535.70" font-size="8.2" text-anchor="end" font-weight="normal" fill="#222" stroke="#222" stroke-width="0.12" >0</text>
<line x1="44.40" y1="519.81" x2="46.60" y2="519.81" stroke="#111" stroke-width="1.0" />
<line x1="44.40" y1="506.82" x2="46.60" y2="506.82" stroke="#111" stroke-width="1.0" />
<text x="43.00" y="509.72" font-size="8.2" text-anchor="end" font-weight="normal" fill="#222" stroke="#222" stroke-width="0.12" >40</text>
<line x1="44.40" y1="493.83" x2="46.60" y2="493.83" stroke="#111" stroke-width="1.0" />
<line x1="44.40" y1="480.84" x2="46.60" y2="480.84" stroke="#111" stroke-width="1.0" />
<text x="43.00" y="483.74" font-size="8.2" text-anchor="end" font-weight="normal" fill="#222" stroke="#222" stroke-width="0.12" >80</text>
<line x1="44.40" y1="467.85" x2="46.60" y2="467.85" stroke="#111" stroke-width="1.0" />
<line x1="46.60" y1="533.10" x2="46.60" y2="535.70" stroke="#111" stroke-width="1.0" />
<line x1="91.14" y1="533.10" x2="91.14" y2="535.70" stroke="#111" stroke-width="1.0" />
<line x1="108.39" y1="533.10" x2="108.39" y2="535.70" stroke="#111" stroke-width="1.0" />
<line x1="152.40" y1="533.10" x2="152.40" y2="535.70" stroke="#111" stroke-width="1.0" />
<text x="47.40" y="546.30" font-size="9.4" text-anchor="start" font-weight="normal" fill="#1a1a1a" stroke="#1a1a1a" stroke-width="0.12" >-5kb</text>
<text x="100.56" y="546.30" font-size="9.4" text-anchor="middle" font-weight="normal" fill="#1a1a1a" stroke="#1a1a1a" stroke-width="0.12" >CpGI</text>
<text x="151.60" y="546.30" font-size="9.4" text-anchor="end" font-weight="normal" fill="#1a1a1a" stroke="#1a1a1a" stroke-width="0.12" >5kb</text>
<polyline transform="translate(167.20 462.30) scale(0.15050 -0.06554)" vector-effect="non-scaling-stroke" points="0,701 1,663 2,655 3,639 4,684 5,677 6,676 7,712 8,695 9,736 10,657 11,702 12,635 13,804 14,642 15,669 16,700 17,674 18,648 19,711 20,653 21,712 22,667 23,734 24,703 25,663 26,679 27,642 28,642 29,680 30,672 31,713 32,728 33,682 34,653 35,634 36,672 37,707 38,685 39,664 40,636 41,677 42,688 43,658 44,661 45,733 46,664 47,723 48,686 49,682 50,693 51,776 52,685 53,656 54,690 55,659 56,675 57,645 58,646 59,659 60,708 61,661 62,670 63,633 64,700 65,649 66,707 67,710 68,651 69,673 70,680 71,681 72,685 73,680 74,620 75,632 76,675 77,681 78,730 79,664 80,666 81,631 82,656 83,697 84,685 85,629 86,669 87,716 88,718 89,691 90,712 91,693 92,659 93,623 94,655 95,661 96,723 97,704 98,628 99,634 100,661 101,681 102,623 103,702 104,678 105,681 106,664 107,653 108,706 109,712 110,693 111,663 112,655 113,730 114,691 115,661 116,684 117,685 118,678 119,675 120,741 121,679 122,693 123,657 124,685 125,701 126,649 127,681 128,708 129,706 130,677 131,663 132,671 133,717 134,668 135,680 136,660 137,677 138,712 139,689 140,739 141,678 142,690 143,644 144,696 145,663 146,661 147,710 148,666 149,708 150,660 151,659 152,679 153,702 154,646 155,655 156,660 157,727 158,691 159,687 160,651 161,686 162,675 163,660 164,674 165,694 166,671 167,640 168,689 169,695 170,699 171,706 172,648 173,704 174,659 175,707 176,644 177,690 178,627 179,680 180,674 181,695 182,720 183,717 184,722 185,712 186,642 187,652 188,661 189,666 190,639 191,674 192,689 193,666 194,650 195,691 196,693 197,673 198,659 199,638 200,652 201,696 202,673 203,704 204,633 205,693 206,683 207,664 208,732 209,672 210,719 211,640 212,653 213,713 214,703 215,661 216,714 217,659 218,668 219,662 220,605 221,706 222,670 223,666 224,656 225,647 226,659 227,673 228,625 229,708 230,627 231,664 232,588 233,651 234,657 235,593 236,629 237,669 238,633 239,646 240,648 241,621 242,617 243,595 244,611 245,629 246,615 247,566 248,580 249,590 250,581 251,577 252,586 253,590 254,590 255,553 256,580 257,560 258,551 259,489 260,539 261,493 262,491 263,400 264,478 265,440 266,456 267,482 268,456 269,448 270,429 271,399 272,438 273,463 274,392 275,377 276,450 277,400 278,427 279,430 280,376 281,421 282,354 283,404 284,382 285,367 286,430 287,408 288,403 289,385 290,359 291,385 292,355 293,335 294,337 295,344 296,389 297,384 298,414 299,371 300,380 301,360 302,377 303,322 304,356 305,393 306,383 307,306 308,367 309,370 310,355 311,297 312,321 313,357 314,312 315,344 316,312 317,357 318,374 319,357 320,336 321,372 322,363 323,348 324,357 325,344 326,374 327,358 328,338 329,311 330,343 331,359 332,354 333,289 334,389 335,396 336,293 337,309 338,349 339,375 340,291 341,309 342,345 343,343 344,400 345,393 346,338 347,341 348,351 349,356 350,334 351,351 352,317 353,351 354,336 355,373 356,339 357,355 358,357 359,289 360,363 361,309 362,387 363,353 364,333 365,355 366,286 367,372 368,303 369,332 370,349 371,335 372,382 373,363 374,370 375,320 376,316 377,370 378,391 379,379 380,294 381,353 382,351 383,378 384,378 385,367 386,352 387,335 388,377 389,308 390,357 391,312 392,322 393,331 394,355 395,338 396,337 397,370 398,357 399,329 400,373 401,381 402,369 403,374 404,395 405,365 406,408 407,413 408,405 409,408 410,341 411,368 412,403 413,417 414,384 415,415 416,410 417,432 418,437 419,440 420,441 421,430 422,491 423,495 424,418 425,470 426,469 427,494 428,500 429,495 430,520 431,557 432,524 433,528 434,527 435,567 436,531 437,516 438,560 439,498 440,569 441,549 442,539 443,559 444,602 445,595 446,577 447,558 448,583 449,629 450,591 451,639 452,635 453,625 454,658 455,646 456,643 457,656 458,633 459,624 460,658 461,641 462,640 463,609 464,649 465,651 466,659 467,639 468,667 469,672 470,731 471,668 472,700 473,665 474,682 475,703 476,644 477,643 478,624 479,676 480,671 481,721 482,639 483,664 484,661 485,673 486,656 487,700 488,647 489,681 490,660 491,682 492,677 493,647 494,635 495,705 496,720 497,679 498,659 499,648 500,724 501,638 502,662 503,667 504,658 505,703 506,683 507,690 508,643 509,670 510,684 511,676 512,654 513,686 514,660 515,642 516,674 517,644 518,652 519,671 520,675 521,631 522,721 523,694 524,706 525,705 526,683 527,664 528,611 529,657 530,644 531,704 532,685 533,641 534,710 535,665 536,651 537,715 538,726 539,711 540,687 541,667 542,634 543,694 544,659 545,643 546,692 547,720 548,662 549,644 550,705 551,683 552,690 553,726 554,644 555,670 556,676 557,675 558,658 559,679 560,667 561,674 562,675 563,696 564,698 565,715 566,668 567,629 568,672 569,680 570,675 571,632 572,635 573,643 574,698 575,659 576,667 577,642 578,692 579,636 580,720 581,663 582,693 583,635 584,728 585,669 586,726 587,692 588,661 589,674 590,677 591,687 592,658 593,663 594,711 595,715 596,678 597,655 598,719 599,682 600,697 601,697 602,688 603,660 604,721 605,652 606,671 607,696 608,627 609,648 610,694 611,627 612,695 613,724 614,622 615,686 616,686 617,702 618,727 619,630 620,691 621,712 622,695 623,714 624,712 625,679 626,652 627,667 628,670 629,670 630,695 631,656 632,721 633,674 634,700 635,643 636,699 637,657 638,713 639,706 640,643 641,721 642,679 643,673 644,692 645,651 646,679 647,694 648,664 649,713 650,689 651,709 652,690 653,726 654,663 655,640 656,639 657,718 658,684 659,709 660,721 661,650 662,661 663,685 664,629 665,662 666,704 667,728 668,717 669,679 670,644 671,735 672,687 673,725 674,618 675,716 676,695 677,678 678,682 679,644 680,665 681,693 682,698 683,660 684,713 685,691 686,658 687,677 688,625 689,693 690,719 691,668 692,680 693,678 694,673 695,693 696,672 697,706 698,654 699,694" fill="none" stroke="#1414ff" stroke-width="1.0"/>
<polyline transform="translate(167.20 462.30) scale(0.15050 -0.06554)" vector-effect="non-scaling-stroke" points="0,673 1,662 2,620 3,662 4,643 5,718 6,679 7,655 8,719 9,635 10,685 11,595 12,735 13,687 14,667 15,660 16,680 17,673 18,636 19,674 20,676 21,711 22,677 23,662 24,616 25,688 26,706 27,694 28,706 29,617 30,674 31,717 32,611 33,685 34,623 35,657 36,660 37,655 38,717 39,645 40,679 41,669 42,644 43,716 44,681 45,625 46,606 47,698 48,698 49,634 50,614 51,644 52,669 53,706 54,629 55,680 56,691 57,728 58,715 59,690 60,660 61,682 62,622 63,670 64,694 65,661 66,711 67,657 68,663 69,709 70,611 71,714 72,610 73,602 74,641 75,659 76,677 77,657 78,611 79,666 80,727 81,612 82,613 83,722 84,676 85,680 86,712 87,705 88,619 89,655 90,689 91,679 92,672 93,687 94,644 95,669 96,637 97,688 98,651 99,633 100,657 101,713 102,677 103,698 104,629 105,679 106,647 107,657 108,677 109,670 110,651 111,709 112,670 113,622 114,694 115,647 116,651 117,663 118,728 119,683 120,653 121,646 122,660 123,623 124,625 125,694 126,612 127,662 128,705 129,650 130,619 131,636 132,681 133,688 134,607 135,603 136,658 137,653 138,650 139,674 140,643 141,645 142,709 143,710 144,677 145,674 146,625 147,698 148,638 149,711 150,609 151,640 152,679 153,643 154,656 155,683 156,663 157,618 158,673 159,675 160,666 161,689 162,616 163,719 164,641 165,722 166,645 167,668 168,726 169,715 170,647 171,646 172,643 173,649 174,645 175,666 176,675 177,629 178,685 179,623 180,671 181,668 182,673 183,678 184,681 185,659 186,687 187,640 188,621 189,685 190,655 191,671 192,690 193,686 194,631 195,664 196,700 197,698 198,685 199,666 200,672 201,710 202,680 203,691 204,698 205,593 206,666 207,688 208,613 209,699 210,710 211,663 212,648 213,712 214,685 215,669 216,710 217,698 218,638 219,621 220,649 221,665 222,619 223,664 224,635 225,668 226,654 227,679 228,598 229,613 230,684 231,675 232,712 233,646 234,706 235,621 236,685 237,679 238,636 239,610 240,590 241,639 242,694 243,632 244,588 245,600 246,633 247,640 248,625 249,639 250,619 251,618 252,619 253,608 254,578 255,645 256,656 257,591 258,599 259,585 260,582 261,528 262,583 263,637 264,570 265,573 266,598 267,580 268,587 269,561 270,575 271,523 272,504 273,570 274,598 275,518 276,535 277,481 278,452 279,536 280,531 281,564 282,527 283,496 284,545 285,518 286,507 287,531 288,526 289,598 290,542 291,505 292,485 293,518 294,495 295,541 296,476 297,546 298,494 299,490 300,483 301,530 302,570 303,531 304,499 305,540 306,478 307,473 308,473 309,532 310,492 311,511 312,540 313,496 314,493 315,476 316,515 317,582 318,502 319,492 320,492 321,567 322,576 323,566 324,476 325,517 326,549 327,521 328,497 329,438 330,500 331,524 332,491 333,568 334,536 335,505 336,510 337,567 338,554 339,571 340,478 341,480 342,542 343,463 344,467 345,504 346,497 347,470 348,487 349,528 350,514 351,487 352,500 353,524 354,489 355,462 356,543 357,529 358,567 359,462 360,474 361,480 362,557 363,568 364,566 365,570 366,477 367,480 368,457 369,491 370,564 371,492 372,495 373,519 374,520 375,516 376,486 377,500 378,541 379,491 380,475 381,533 382,567 383,540 384,545 385,551 386,476 387,524 388,514 389,538 390,471 391,575 392,524 393,509 394,523 395,455 396,546 397,506 398,495 399,493 400,592 401,548 402,482 403,540 404,535 405,526 406,557 407,477 408,560 409,556 410,587 411,541 412,528 413,502 414,598 415,570 416,532 417,498 418,486 419,507 420,614 421,557 422,490 423,538 424,549 425,634 426,621 427,573 428,570 429,584 430,515 431,606 432,611 433,590 434,573 435,642 436,596 437,572 438,588 439,650 440,626 441,614 442,602 443,639 444,561 445,620 446,580 447,648 448,606 449,576 450,644 451,657 452,575 453,659 454,671 455,675 456,634 457,646 458,658 459,610 460,615 461,656 462,654 463,684 464,605 465,616 466,645 467,670 468,673 469,661 470,638 471,610 472,635 473,649 474,733 475,658 476,682 477,672 478,661 479,718 480,666 481,666 482,687 483,674 484,677 485,715 486,658 487,698 488,603 489,633 490,689 491,611 492,614 493,599 494,667 495,611 496,726 497,637 498,672 499,685 500,622 501,696 502,629 503,687 504,663 505,599 506,625 507,692 508,679 509,690 510,694 511,643 512,647 513,632 514,648 515,674 516,653 517,716 518,711 519,716 520,640 521,690 522,654 523,661 524,722 525,685 526,682 527,686 528,644 529,663 530,659 531,671 532,691 533,704 534,642 535,647 536,692 537,650 538,632 539,698 540,663 541,678 542,705 543,699 544,707 545,689 546,662 547,587 548,652 549,630 550,668 551,651 552,722 553,685 554,635 555,659 556,614 557,609 558,600 559,654 560,684 561,662 562,604 563,609 564,663 565,637 566,703 567,622 568,651 569,667 570,679 571,696 572,689 573,641 574,615 575,605 576,656 577,655 578,664 579,644 580,693 581,661 582,671 583,719 584,655 585,641 586,661 587,699 588,674 589,658 590,654 591,638 592,659 593,658 594,678 595,692 596,620 597,673 598,660 599,635 600,680 601,650 602,662 603,654 604,686 605,691 606,755 607,683 608,645 609,617 610,641 611,655 612,638 613,637 614,604 615,674 616,649 617,633 618,669 619,645 620,666 621,620 622,652 623,671 624,693 625,656 626,645 627,695 628,638 629,607 630,655 631,648 632,726 633,662 634,653 635,666 636,630 637,695 638,647 639,718 640,641 641,696 642,707 643,656 644,649 645,635 646,675 647,689 648,638 649,663 650,654 651,623 652,673 653,675 654,607 655,646 656,685 657,691 658,625 659,615 660,660 661,641 662,619 663,632 664,625 665,681 666,610 667,631 668,622 669,656 670,638 671,666 672,671 673,651 674,681 675,682 676,669 677,664 678,652 679,648 680,620 681,653 682,685 683,713 684,717 685,660 686,707 687,664 688,643 689,613 690,657 691,646 692,631 693,593 694,654 695,678 696,674 697,647 698,683 699,638" fill="none" stroke="#f00a1e" stroke-width="1.0"/>
<line x1="166.60" y1="396.40" x2="166.60" y2="463.10" stroke="#111" stroke-width="1.2" />
<line x1="166.10" y1="462.60" x2="272.40" y2="462.60" stroke="#111" stroke-width="1.25" />
<line x1="164.40" y1="462.30" x2="166.60" y2="462.30" stroke="#111" stroke-width="1.0" />
<line x1="164.40" y1="449.19" x2="166.60" y2="449.19" stroke="#111" stroke-width="1.0" />
<line x1="164.40" y1="436.08" x2="166.60" y2="436.08" stroke="#111" stroke-width="1.0" />
<line x1="164.40" y1="422.97" x2="166.60" y2="422.97" stroke="#111" stroke-width="1.0" />
<line x1="164.40" y1="409.86" x2="166.60" y2="409.86" stroke="#111" stroke-width="1.0" />
<line x1="164.40" y1="396.76" x2="166.60" y2="396.76" stroke="#111" stroke-width="1.0" />
<line x1="166.60" y1="462.60" x2="166.60" y2="465.20" stroke="#111" stroke-width="1.0" />
<line x1="211.14" y1="462.60" x2="211.14" y2="465.20" stroke="#111" stroke-width="1.0" />
<line x1="228.39" y1="462.60" x2="228.39" y2="465.20" stroke="#111" stroke-width="1.0" />
<line x1="272.40" y1="462.60" x2="272.40" y2="465.20" stroke="#111" stroke-width="1.0" />
<text x="219.50" y="401.70" font-size="9.2" text-anchor="middle" font-weight="normal" fill="#1a1a1a" stroke="#1a1a1a" stroke-width="0.12" >13409</text>
<polyline transform="translate(167.20 532.80) scale(0.15050 -0.06495)" vector-effect="non-scaling-stroke" points="0,664 1,633 2,617 3,662 4,608 5,631 6,697 7,678 8,669 9,638 10,638 11,662 12,650 13,681 14,704 15,676 16,655 17,695 18,640 19,655 20,705 21,675 22,704 23,665 24,649 25,607 26,616 27,665 28,598 29,674 30,663 31,657 32,671 33,654 34,644 35,688 36,665 37,612 38,613 39,644 40,702 41,636 42,681 43,717 44,691 45,676 46,656 47,646 48,691 49,657 50,642 51,621 52,665 53,691 54,659 55,706 56,655 57,624 58,612 59,677 60,637 61,662 62,674 63,651 64,625 65,676 66,689 67,625 68,659 69,636 70,669 71,614 72,644 73,617 74,689 75,668 76,656 77,621 78,703 79,653 80,652 81,664 82,640 83,662 84,654 85,621 86,657 87,679 88,654 89,641 90,676 91,633 92,681 93,615 94,654 95,613 96,683 97,694 98,665 99,603 100,655 101,669 102,656 103,699 104,644 105,694 106,665 107,705 108,663 109,632 110,666 111,681 112,644 113,635 114,641 115,675 116,682 117,677 118,706 119,620 120,661 121,699 122,685 123,656 124,646 125,695 126,625 127,647 128,662 129,665 130,641 131,677 132,678 133,675 134,632 135,673 136,675 137,657 138,660 139,614 140,697 141,691 142,651 143,699 144,652 145,671 146,636 147,634 148,707 149,681 150,659 151,642 152,677 153,655 154,663 155,661 156,649 157,714 158,672 159,656 160,624 161,680 162,638 163,676 164,618 165,635 166,677 167,623 168,658 169,643 170,653 171,704 172,671 173,631 174,674 175,649 176,661 177,666 178,672 179,637 180,695 181,664 182,655 183,671 184,652 185,650 186,701 187,642 188,655 189,660 190,670 191,690 192,665 193,713 194,608 195,663 196,669 197,629 198,669 199,625 200,656 201,664 202,667 203,618 204,606 205,670 206,687 207,686 208,664 209,674 210,665 211,665 212,633 213,649 214,663 215,651 216,671 217,675 218,682 219,673 220,612 221,666 222,644 223,700 224,618 225,622 226,659 227,654 228,630 229,670 230,655 231,624 232,643 233,628 234,648 235,597 236,659 237,629 238,674 239,626 240,609 241,625 242,603 243,594 244,654 245,642 246,605 247,619 248,625 249,577 250,592 251,632 252,550 253,618 254,588 255,584 256,553 257,587 258,576 259,592 260,547 261,526 262,558 263,529 264,529 265,508 266,520 267,536 268,556 269,544 270,500 271,503 272,478 273,539 274,528 275,486 276,471 277,517 278,491 279,463 280,504 281,508 282,490 283,480 284,440 285,453 286,524 287,456 288,520 289,541 290,481 291,453 292,415 293,486 294,480 295,520 296,478 297,511 298,455 299,459 300,478 301,503 302,475 303,481 304,483 305,514 306,455 307,463 308,517 309,441 310,492 311,492 312,466 313,425 314,481 315,457 316,515 317,515 318,428 319,458 320,457 321,435 322,466 323,444 324,472 325,485 326,451 327,503 328,506 329,447 330,484 331,502 332,480 333,475 334,464 335,458 336,435 337,472 338,437 339,463 340,481 341,436 342,436 343,460 344,471 345,449 346,458 347,445 348,451 349,493 350,447 351,422 352,446 353,407 354,462 355,459 356,458 357,449 358,464 359,432 360,445 361,507 362,452 363,439 364,469 365,451 366,513 367,495 368,420 369,412 370,521 371,487 372,508 373,458 374,506 375,472 376,435 377,457 378,506 379,512 380,506 381,406 382,484 383,451 384,462 385,491 386,474 387,505 388,455 389,496 390,478 391,489 392,451 393,437 394,456 395,443 396,481 397,447 398,483 399,440 400,432 401,529 402,496 403,530 404,482 405,456 406,515 407,523 408,441 409,521 410,527 411,457 412,494 413,479 414,525 415,473 416,538 417,478 418,528 419,520 420,538 421,489 422,519 423,580 424,523 425,561 426,530 427,539 428,558 429,560 430,582 431,523 432,568 433,592 434,575 435,559 436,582 437,566 438,607 439,597 440,586 441,580 442,607 443,596 444,575 445,583 446,600 447,591 448,624 449,611 450,650 451,627 452,668 453,583 454,636 455,653 456,651 457,654 458,679 459,589 460,641 461,690 462,637 463,618 464,639 465,593 466,653 467,648 468,688 469,603 470,617 471,637 472,645 473,668 474,618 475,652 476,657 477,646 478,595 479,593 480,631 481,638 482,626 483,629 484,676 485,632 486,654 487,657 488,690 489,594 490,648 491,652 492,636 493,641 494,688 495,684 496,646 497,679 498,630 499,661 500,636 501,705 502,680 503,676 504,703 505,691 506,682 507,674 508,683 509,632 510,642 511,657 512,645 513,665 514,656 515,676 516,683 517,641 518,603 519,683 520,623 521,645 522,667 523,673 524,661 525,630 526,683 527,601 528,688 529,627 530,667 531,613 532,638 533,666 534,713 535,675 536,676 537,635 538,678 539,655 540,609 541,705 542,605 543,663 544,650 545,685 546,621 547,640 548,694 549,690 550,661 551,668 552,624 553,631 554,678 555,618 556,644 557,670 558,623 559,646 560,676 561,644 562,641 563,683 564,646 565,681 566,610 567,641 568,638 569,704 570,683 571,644 572,643 573,682 574,660 575,716 576,677 577,652 578,697 579,634 580,660 581,690 582,666 583,639 584,638 585,645 586,659 587,612 588,695 589,652 590,668 591,659 592,652 593,663 594,606 595,681 596,635 597,672 598,658 599,690 600,675 601,624 602,715 603,703 604,605 605,696 606,637 607,655 608,664 609,703 610,678 611,688 612,653 613,676 614,696 615,678 616,643 617,617 618,631 619,676 620,661 621,678 622,680 623,651 624,710 625,702 626,624 627,642 628,690 629,635 630,659 631,686 632,653 633,653 634,667 635,688 636,649 637,716 638,660 639,642 640,641 641,641 642,684 643,666 644,659 645,644 646,696 647,660 648,623 649,642 650,648 651,711 652,598 653,677 654,646 655,666 656,662 657,690 658,692 659,661 660,671 661,668 662,661 663,692 664,625 665,673 666,668 667,678 668,659 669,700 670,671 671,646 672,667 673,666 674,629 675,675 676,648 677,635 678,691 679,689 680,622 681,645 682,663 683,657 684,675 685,648 686,662 687,632 688,636 689,603 690,658 691,691 692,652 693,677 694,676 695,652 696,695 697,708 698,674 699,609" fill="none" stroke="#1414ff" stroke-width="1.0"/>
<polyline transform="translate(167.20 532.80) scale(0.15050 -0.06495)" vector-effect="non-scaling-stroke" points="0,674 1,690 2,665 3,635 4,682 5,671 6,599 7,700 8,685 9,667 10,662 11,618 12,617 13,583 14,610 15,688 16,635 17,612 18,663 19,646 20,717 21,595 22,706 23,648 24,645 25,628 26,632 27,680 28,626 29,636 30,637 31,652 32,639 33,636 34,627 35,654 36,655 37,643 38,633 39,647 40,602 41,611 42,725 43,633 44,644 45,666 46,695 47,614 48,607 49,670 50,647 51,572 52,662 53,633 54,666 55,651 56,686 57,599 58,655 59,610 60,653 61,681 62,613 63,661 64,690 65,629 66,657 67,644 68,641 69,641 70,646 71,627 72,659 73,623 74,671 75,647 76,658 77,654 78,639 79,615 80,642 81,674 82,666 83,640 84,696 85,674 86,604 87,668 88,621 89,619 90,635 91,624 92,644 93,639 94,622 95,656 96,605 97,663 98,678 99,624 100,609 101,661 102,697 103,677 104,688 105,685 106,669 107,649 108,671 109,641 110,698 111,665 112,638 113,656 114,651 115,644 116,700 117,662 118,661 119,682 120,651 121,680 122,627 123,645 124,665 125,647 126,653 127,627 128,646 129,608 130,649 131,630 132,692 133,614 134,691 135,656 136,649 137,668 138,646 139,639 140,679 141,628 142,701 143,637 144,648 145,662 146,629 147,634 148,691 149,655 150,695 151,710 152,586 153,604 154,646 155,644 156,670 157,650 158,640 159,664 160,623 161,620 162,691 163,706 164,700 165,656 166,642 167,647 168,651 169,629 170,585 171,708 172,654 173,721 174,613 175,693 176,606 177,676 178,685 179,605 180,653 181,676 182,654 183,706 184,666 185,645 186,628 187,623 188,636 189,641 190,629 191,702 192,658 193,667 194,692 195,618 196,712 197,655 198,642 199,660 200,631 201,720 202,660 203,644 204,651 205,640 206,600 207,593 208,644 209,546 210,652 211,635 212,680 213,649 214,673 215,642 216,605 217,705 218,692 219,654 220,624 221,648 222,655 223,613 224,658 225,613 226,656 227,587 228,615 229,620 230,621 231,663 232,619 233,638 234,685 235,627 236,563 237,653 238,681 239,652 240,640 241,607 242,671 243,634 244,560 245,609 246,611 247,584 248,580 249,567 250,546 251,602 252,565 253,605 254,535 255,555 256,557 257,545 258,593 259,508 260,508 261,542 262,489 263,515 264,550 265,494 266,459 267,442 268,440 269,437 270,481 271,490 272,435 273,536 274,452 275,484 276,482 277,462 278,416 279,405 280,407 281,441 282,381 283,402 284,415 285,422 286,354 287,385 288,413 289,419 290,489 291,404 292,419 293,429 294,456 295,431 296,465 297,472 298,365 299,454 300,373 301,368 302,449 303,459 304,373 305,425 306,389 307,448 308,377 309,359 310,459 311,378 312,373 313,392 314,456 315,373 316,358 317,428 318,433 319,406 320,386 321,354 322,395 323,372 324,313 325,417 326,336 327,390 328,397 329,407 330,360 331,375 332,365 333,447 334,453 335,393 336,361 337,421 338,449 339,413 340,456 341,413 342,450 343,428 344,391 345,367 346,360 347,463 348,416 349,401 350,373 351,371 352,385 353,477 354,407 355,417 356,409 357,351 358,413 359,389 360,456 361,402 362,411 363,353 364,383 365,366 366,342 367,414 368,376 369,413 370,406 371,403 372,411 373,422 374,399 375,386 376,378 377,409 378,392 379,454 380,436 381,395 382,399 383,411 384,426 385,373 386,381 387,438 388,407 389,416 390,352 391,407 392,389 393,371 394,447 395,431 396,400 397,401 398,404 399,371 400,413 401,453 402,447 403,435 404,433 405,451 406,414 407,424 408,412 409,440 410,389 411,469 412,488 413,475 414,483 415,500 416,492 417,470 418,440 419,435 420,441 421,456 422,484 423,451 424,490 425,538 426,520 427,475 428,537 429,458 430,515 431,516 432,539 433,556 434,592 435,584 436,543 437,606 438,583 439,560 440,571 441,573 442,571 443,578 444,590 445,659 446,641 447,629 448,641 449,601 450,624 451,612 452,596 453,640 454,615 455,578 456,638 457,588 458,593 459,640 460,646 461,611 462,601 463,620 464,680 465,696 466,565 467,683 468,665 469,663 470,624 471,662 472,632 473,633 474,624 475,621 476,639 477,653 478,628 479,631 480,602 481,634 482,699 483,706 484,586 485,603 486,688 487,679 488,611 489,648 490,680 491,617 492,612 493,635 494,609 495,603 496,680 497,677 498,643 499,614 500,636 501,591 502,607 503,618 504,681 505,623 506,673 507,611 508,603 509,603 510,648 511,626 512,670 513,669 514,688 515,660 516,595 517,684 518,621 519,585 520,665 521,762 522,677 523,639 524,602 525,674 526,633 527,696 528,590 529,644 530,627 531,617 532,652 533,608 534,693 535,662 536,679 537,631 538,634 539,627 540,633 541,699 542,668 543,648 544,662 545,712 546,672 547,657 548,629 549,683 550,640 551,590 552,701 553,664 554,614 555,660 556,629 557,627 558,676 559,675 560,679 561,677 562,623 563,608 564,641 565,686 566,595 567,644 568,652 569,673 570,594 571,667 572,667 573,694 574,686 575,612 576,656 577,625 578,601 579,636 580,611 581,640 582,696 583,630 584,694 585,666 586,649 587,705 588,665 589,688 590,646 591,613 592,642 593,653 594,668 595,618 596,669 597,629 598,654 599,655 600,677 601,639 602,646 603,661 604,645 605,670 606,623 607,648 608,694 609,649 610,662 611,687 612,656 613,636 614,625 615,639 616,643 617,656 618,656 619,602 620,686 621,631 622,713 623,683 624,634 625,605 626,651 627,671 628,685 629,646 630,682 631,623 632,612 633,634 634,642 635,601 636,695 637,671 638,613 639,664 640,657 641,593 642,657 643,641 644,665 645,701 646,637 647,598 648,717 649,615 650,653 651,620 652,680 653,620 654,650 655,646 656,644 657,641 658,662 659,687 660,628 661,662 662,642 663,636 664,650 665,670 666,641 667,602 668,605 669,685 670,664 671,647 672,646 673,667 674,599 675,607 676,663 677,667 678,632 679,645 680,629 681,602 682,664 683,714 684,694 685,682 686,600 687,694 688,672 689,698 690,627 691,673 692,680 693,609 694,655 695,643 696,663 697,631 698,641 699,642" fill="none" stroke="#f00a1e" stroke-width="1.0"/>
<line x1="166.60" y1="467.50" x2="166.60" y2="533.60" stroke="#111" stroke-width="1.2" />
<line x1="166.10" y1="533.10" x2="272.40" y2="533.10" stroke="#111" stroke-width="1.25" />
<line x1="164.40" y1="532.80" x2="166.60" y2="532.80" stroke="#111" stroke-width="1.0" />
<line x1="164.40" y1="519.81" x2="166.60" y2="519.81" stroke="#111" stroke-width="1.0" />
<line x1="164.40" y1="506.82" x2="166.60" y2="506.82" stroke="#111" stroke-width="1.0" />
<line x1="164.40" y1="493.83" x2="166.60" y2="493.83" stroke="#111" stroke-width="1.0" />
<line x1="164.40" y1="480.84" x2="166.60" y2="480.84" stroke="#111" stroke-width="1.0" />
<line x1="164.40" y1="467.85" x2="166.60" y2="467.85" stroke="#111" stroke-width="1.0" />
<line x1="166.60" y1="533.10" x2="166.60" y2="535.70" stroke="#111" stroke-width="1.0" />
<line x1="211.14" y1="533.10" x2="211.14" y2="535.70" stroke="#111" stroke-width="1.0" />
<line x1="228.39" y1="533.10" x2="228.39" y2="535.70" stroke="#111" stroke-width="1.0" />
<line x1="272.40" y1="533.10" x2="272.40" y2="535.70" stroke="#111" stroke-width="1.0" />
<text x="167.40" y="546.30" font-size="9.4" text-anchor="start" font-weight="normal" fill="#1a1a1a" stroke="#1a1a1a" stroke-width="0.12" >-5kb</text>
<text x="220.56" y="546.30" font-size="9.4" text-anchor="middle" font-weight="normal" fill="#1a1a1a" stroke="#1a1a1a" stroke-width="0.12" >CpGI</text>
<text x="271.60" y="546.30" font-size="9.4" text-anchor="end" font-weight="normal" fill="#1a1a1a" stroke="#1a1a1a" stroke-width="0.12" >5kb</text>
<polyline transform="translate(287.80 462.30) scale(0.15050 -0.06554)" vector-effect="non-scaling-stroke" points="0,641 1,674 2,653 3,632 4,702 5,622 6,661 7,666 8,658 9,672 10,648 11,695 12,621 13,685 14,660 15,657 16,684 17,670 18,666 19,651 20,660 21,642 22,665 23,668 24,716 25,656 26,633 27,661 28,683 29,655 30,634 31,668 32,626 33,689 34,645 35,696 36,650 37,653 38,620 39,690 40,663 41,626 42,673 43,652 44,669 45,658 46,648 47,630 48,655 49,627 50,699 51,655 52,665 53,659 54,698 55,685 56,681 57,660 58,666 59,634 60,633 61,692 62,627 63,670 64,670 65,692 66,652 67,665 68,699 69,660 70,649 71,654 72,658 73,603 74,649 75,641 76,669 77,714 78,660 79,618 80,662 81,654 82,641 83,652 84,694 85,656 86,616 87,676 88,666 89,653 90,651 91,699 92,687 93,643 94,650 95,653 96,640 97,685 98,662 99,699 100,614 101,649 102,663 103,661 104,715 105,653 106,641 107,660 108,664 109,639 110,633 111,675 112,676 113,650 114,704 115,674 116,667 117,670 118,721 119,708 120,601 121,639 122,661 123,667 124,641 125,645 126,601 127,622 128,632 129,648 130,677 131,686 132,650 133,715 134,665 135,623 136,652 137,632 138,703 139,661 140,668 141,623 142,706 143,670 144,636 145,647 146,667 147,614 148,660 149,647 150,660 151,676 152,600 153,623 154,605 155,633 156,637 157,649 158,703 159,633 160,617 161,656 162,651 163,632 164,612 165,630 166,670 167,624 168,678 169,667 170,667 171,663 172,651 173,640 174,651 175,650 176,641 177,630 178,704 179,618 180,642 181,675 182,645 183,662 184,664 185,641 186,694 187,627 188,653 189,656 190,707 191,680 192,648 193,644 194,632 195,666 196,656 197,664 198,629 199,650 200,663 201,699 202,626 203,620 204,640 205,658 206,676 207,690 208,671 209,684 210,697 211,636 212,614 213,668 214,636 215,657 216,661 217,645 218,639 219,650 220,599 221,640 222,621 223,652 224,650 225,625 226,644 227,631 228,655 229,674 230,649 231,591 232,576 233,614 234,589 235,611 236,599 237,608 238,642 239,577 240,635 241,551 242,572 243,610 244,559 245,521 246,620 247,609 248,563 249,578 250,535 251,523 252,544 253,550 254,513 255,498 256,509 257,518 258,520 259,455 260,494 261,501 262,523 263,426 264,431 265,456 266,465 267,419 268,453 269,438 270,381 271,450 272,376 273,412 274,340 275,435 276,421 277,352 278,396 279,381 280,341 281,336 282,332 283,359 284,370 285,343 286,395 287,344 288,372 289,318 290,384 291,355 292,313 293,313 294,349 295,331 296,281 297,288 298,359 299,310 300,360 301,287 302,329 303,290 304,318 305,298 306,309 307,306 308,310 309,290 310,324 311,255 312,314 313,334 314,347 315,285 316,350 317,312 318,257 319,264 320,303 321,296 322,318 323,268 324,301 325,289 326,311 327,297 328,268 329,274 330,335 331,247 332,305 333,345 334,306 335,297 336,309 337,318 338,340 339,274 340,420 341,331 342,256 343,321 344,323 345,305 346,306 347,316 348,337 349,294 350,293 351,333 352,316 353,357 354,302 355,260 356,326 357,289 358,268 359,268 360,297 361,310 362,297 363,350 364,345 365,268 366,256 367,271 368,304 369,266 370,353 371,353 372,297 373,253 374,349 375,290 376,258 377,301 378,270 379,333 380,312 381,285 382,293 383,317 384,312 385,361 386,266 387,327 388,269 389,328 390,322 391,295 392,311 393,313 394,337 395,353 396,319 397,326 398,300 399,308 400,339 401,317 402,333 403,392 404,323 405,349 406,335 407,400 408,331 409,370 410,344 411,335 412,420 413,417 414,387 415,365 416,354 417,340 418,378 419,388 420,421 421,412 422,435 423,440 424,480 425,447 426,451 427,441 428,417 429,463 430,485 431,498 432,499 433,506 434,548 435,508 436,510 437,555 438,516 439,539 440,530 441,565 442,532 443,556 444,542 445,553 446,598 447,602 448,584 449,639 450,584 451,579 452,613 453,621 454,594 455,612 456,600 457,616 458,607 459,586 460,663 461,642 462,669 463,679 464,618 465,627 466,658 467,662 468,606 469,608 470,628 471,655 472,628 473,631 474,663 475,640 476,643 477,650 478,663 479,657 480,661 481,658 482,643 483,667 484,708 485,635 486,596 487,643 488,687 489,689 490,670 491,622 492,692 493,649 494,706 495,641 496,705 497,635 498,677 499,639 500,615 501,623 502,637 503,639 504,712 505,698 506,665 507,665 508,663 509,617 510,640 511,656 512,615 513,677 514,627 515,719 516,709 517,676 518,670 519,662 520,659 521,696 522,610 523,655 524,654 525,634 526,626 527,700 528,666 529,663 530,666 531,626 532,657 533,629 534,683 535,661 536,650 537,637 538,677 539,621 540,697 541,652 542,654 543,674 544,687 545,603 546,619 547,683 548,675 549,661 550,717 551,647 552,628 553,690 554,674 555,654 556,633 557,654 558,665 559,639 560,608 561,654 562,740 563,591 564,666 565,648 566,698 567,642 568,670 569,636 570,625 571,673 572,694 573,647 574,622 575,656 576,655 577,642 578,703 579,644 580,675 581,646 582,655 583,681 584,690 585,650 586,692 587,614 588,678 589,654 590,632 591,625 592,652 593,665 594,640 595,671 596,633 597,641 598,654 599,611 600,683 601,668 602,696 603,659 604,612 605,649 606,715 607,624 608,653 609,623 610,658 611,669 612,685 613,639 614,666 615,717 616,648 617,668 618,620 619,662 620,682 621,705 622,660 623,679 624,671 625,681 626,658 627,637 628,684 629,609 630,640 631,645 632,637 633,635 634,600 635,649 636,633 637,616 638,671 639,642 640,665 641,649 642,646 643,666 644,642 645,712 646,659 647,699 648,675 649,616 650,652 651,629 652,678 653,678 654,633 655,633 656,700 657,702 658,717 659,602 660,629 661,681 662,664 663,699 664,618 665,608 666,701 667,639 668,652 669,668 670,640 671,699 672,658 673,673 674,695 675,639 676,629 677,666 678,673 679,691 680,667 681,607 682,650 683,642 684,657 685,649 686,691 687,663 688,643 689,657 690,631 691,677 692,615 693,656 694,616 695,656 696,685 697,667 698,630 699,673" fill="none" stroke="#1414ff" stroke-width="1.0"/>
<polyline transform="translate(287.80 462.30) scale(0.15050 -0.06554)" vector-effect="non-scaling-stroke" points="0,594 1,661 2,638 3,628 4,652 5,577 6,636 7,603 8,666 9,581 10,579 11,670 12,620 13,606 14,618 15,598 16,626 17,619 18,572 19,638 20,671 21,650 22,610 23,680 24,602 25,623 26,663 27,646 28,647 29,570 30,629 31,606 32,627 33,627 34,620 35,624 36,620 37,630 38,608 39,618 40,564 41,599 42,571 43,589 44,632 45,645 46,671 47,630 48,614 49,595 50,620 51,592 52,623 53,664 54,657 55,621 56,674 57,625 58,593 59,673 60,552 61,647 62,564 63,592 64,588 65,621 66,633 67,634 68,551 69,612 70,591 71,594 72,596 73,569 74,651 75,634 76,607 77,621 78,599 79,667 80,670 81,556 82,597 83,592 84,613 85,639 86,599 87,629 88,647 89,585 90,611 91,606 92,566 93,604 94,571 95,615 96,653 97,567 98,619 99,627 100,629 101,614 102,665 103,697 104,611 105,614 106,615 107,623 108,661 109,614 110,596 111,662 112,571 113,618 114,665 115,608 116,576 117,594 118,623 119,603 120,563 121,609 122,576 123,563 124,586 125,655 126,575 127,635 128,634 129,634 130,595 131,624 132,645 133,570 134,620 135,638 136,618 137,647 138,629 139,687 140,635 141,581 142,654 143,609 144,589 145,570 146,622 147,636 148,594 149,574 150,621 151,611 152,590 153,597 154,588 155,660 156,649 157,567 158,649 159,640 160,685 161,596 162,610 163,585 164,617 165,638 166,647 167,565 168,585 169,688 170,659 171,643 172,603 173,627 174,642 175,617 176,610 177,651 178,605 179,584 180,601 181,660 182,661 183,679 184,617 185,575 186,623 187,564 188,558 189,627 190,581 191,582 192,621 193,610 194,665 195,556 196,658 197,578 198,650 199,640 200,664 201,629 202,638 203,648 204,638 205,606 206,583 207,637 208,673 209,625 210,621 211,605 212,672 213,627 214,662 215,650 216,595 217,571 218,580 219,571 220,618 221,666 222,655 223,644 224,566 225,642 226,600 227,554 228,663 229,629 230,650 231,632 232,598 233,617 234,664 235,546 236,649 237,590 238,653 239,606 240,610 241,573 242,541 243,649 244,563 245,603 246,565 247,657 248,582 249,591 250,573 251,614 252,573 253,572 254,598 255,578 256,595 257,594 258,560 259,557 260,603 261,590 262,598 263,589 264,566 265,634 266,503 267,570 268,552 269,641 270,540 271,577 272,553 273,542 274,515 275,607 276,529 277,520 278,553 279,534 280,558 281,600 282,545 283,582 284,551 285,546 286,573 287,575 288,539 289,568 290,489 291,523 292,534 293,575 294,566 295,536 296,608 297,562 298,518 299,537 300,535 301,520 302,594 303,582 304,562 305,490 306,518 307,532 308,513 309,496 310,620 311,552 312,552 313,574 314,563 315,521 316,574 317,552 318,544 319,569 320,552 321,561 322,611 323,566 324,542 325,509 326,556 327,511 328,511 329,586 330,596 331,594 332,505 333,535 334,573 335,553 336,521 337,573 338,559 339,527 340,578 341,547 342,555 343,504 344,555 345,564 346,606 347,502 348,521 349,582 350,531 351,607 352,556 353,582 354,620 355,572 356,532 357,567 358,549 359,546 360,561 361,546 362,574 363,598 364,559 365,594 366,580 367,521 368,506 369,521 370,501 371,555 372,561 373,541 374,575 375,533 376,556 377,585 378,497 379,521 380,554 381,583 382,582 383,486 384,549 385,530 386,565 387,541 388,493 389,487 390,538 391,501 392,531 393,542 394,549 395,579 396,596 397,565 398,590 399,507 400,530 401,535 402,524 403,563 404,531 405,628 406,586 407,561 408,553 409,589 410,605 411,589 412,546 413,556 414,566 415,631 416,602 417,552 418,577 419,514 420,577 421,602 422,613 423,561 424,553 425,601 426,586 427,612 428,589 429,634 430,545 431,648 432,609 433,600 434,620 435,622 436,579 437,562 438,623 439,624 440,600 441,638 442,654 443,633 444,576 445,608 446,616 447,548 448,620 449,627 450,611 451,578 452,676 453,566 454,659 455,588 456,624 457,643 458,648 459,545 460,641 461,624 462,638 463,678 464,612 465,620 466,627 467,615 468,630 469,625 470,636 471,610 472,680 473,605 474,595 475,646 476,568 477,614 478,599 479,630 480,599 481,649 482,608 483,661 484,654 485,633 486,631 487,639 488,648 489,624 490,616 491,604 492,651 493,672 494,590 495,657 496,637 497,619 498,657 499,662 500,595 501,644 502,588 503,628 504,618 505,579 506,617 507,672 508,642 509,624 510,651 511,608 512,587 513,647 514,605 515,678 516,654 517,632 518,560 519,613 520,640 521,634 522,572 523,667 524,646 525,612 526,565 527,614 528,621 529,634 530,650 531,567 532,599 533,659 534,628 535,598 536,670 537,660 538,656 539,569 540,637 541,655 542,683 543,662 544,622 545,676 546,597 547,684 548,606 549,638 550,609 551,635 552,652 553,620 554,674 555,621 556,576 557,653 558,625 559,643 560,629 561,619 562,676 563,686 564,607 565,661 566,623 567,562 568,661 569,637 570,637 571,629 572,612 573,665 574,639 575,652 576,620 577,621 578,595 579,653 580,617 581,641 582,591 583,630 584,623 585,629 586,582 587,623 588,623 589,652 590,691 591,639 592,647 593,655 594,569 595,667 596,654 597,648 598,625 599,628 600,576 601,641 602,588 603,650 604,668 605,560 606,616 607,648 608,633 609,566 610,627 611,625 612,587 613,657 614,620 615,670 616,626 617,687 618,671 619,663 620,602 621,572 622,612 623,561 624,609 625,692 626,588 627,573 628,581 629,604 630,576 631,598 632,620 633,585 634,612 635,684 636,617 637,578 638,671 639,651 640,581 641,612 642,628 643,635 644,640 645,578 646,632 647,621 648,574 649,605 650,599 651,635 652,570 653,629 654,639 655,636 656,674 657,653 658,647 659,634 660,590 661,649 662,595 663,643 664,566 665,678 666,578 667,568 668,582 669,643 670,614 671,599 672,568 673,678 674,622 675,640 676,658 677,593 678,667 679,615 680,634 681,595 682,689 683,613 684,558 685,622 686,666 687,656 688,637 689,638 690,667 691,658 692,674 693,678 694,653 695,676 696,643 697,621 698,654 699,575" fill="none" stroke="#f00a1e" stroke-width="1.0"/>
<line x1="287.20" y1="396.40" x2="287.20" y2="463.10" stroke="#111" stroke-width="1.2" />
<line x1="286.70" y1="462.60" x2="393.00" y2="462.60" stroke="#111" stroke-width="1.25" />
<line x1="285.00" y1="462.30" x2="287.20" y2="462.30" stroke="#111" stroke-width="1.0" />
<line x1="285.00" y1="449.19" x2="287.20" y2="449.19" stroke="#111" stroke-width="1.0" />
<line x1="285.00" y1="436.08" x2="287.20" y2="436.08" stroke="#111" stroke-width="1.0" />
<line x1="285.00" y1="422.97" x2="287.20" y2="422.97" stroke="#111" stroke-width="1.0" />
<line x1="285.00" y1="409.86" x2="287.20" y2="409.86" stroke="#111" stroke-width="1.0" />
<line x1="285.00" y1="396.76" x2="287.20" y2="396.76" stroke="#111" stroke-width="1.0" />
<line x1="287.20" y1="462.60" x2="287.20" y2="465.20" stroke="#111" stroke-width="1.0" />
<line x1="331.74" y1="462.60" x2="331.74" y2="465.20" stroke="#111" stroke-width="1.0" />
<line x1="348.99" y1="462.60" x2="348.99" y2="465.20" stroke="#111" stroke-width="1.0" />
<line x1="393.00" y1="462.60" x2="393.00" y2="465.20" stroke="#111" stroke-width="1.0" />
<text x="340.10" y="401.70" font-size="9.2" text-anchor="middle" font-weight="normal" fill="#1a1a1a" stroke="#1a1a1a" stroke-width="0.12" >13230</text>
<polyline transform="translate(287.80 532.80) scale(0.15050 -0.06495)" vector-effect="non-scaling-stroke" points="0,669 1,649 2,666 3,656 4,686 5,685 6,631 7,716 8,674 9,685 10,624 11,715 12,669 13,664 14,693 15,676 16,697 17,669 18,658 19,681 20,690 21,721 22,645 23,659 24,672 25,662 26,673 27,660 28,652 29,621 30,615 31,724 32,701 33,617 34,651 35,616 36,650 37,623 38,650 39,654 40,671 41,678 42,634 43,696 44,674 45,640 46,649 47,651 48,671 49,668 50,663 51,690 52,618 53,676 54,665 55,682 56,676 57,682 58,645 59,655 60,691 61,672 62,666 63,640 64,705 65,650 66,704 67,626 68,698 69,675 70,698 71,658 72,670 73,622 74,648 75,654 76,623 77,685 78,671 79,663 80,666 81,642 82,727 83,691 84,718 85,650 86,673 87,695 88,683 89,697 90,680 91,662 92,688 93,649 94,702 95,656 96,666 97,716 98,673 99,677 100,655 101,639 102,650 103,671 104,703 105,623 106,680 107,667 108,659 109,701 110,667 111,684 112,625 113,684 114,677 115,648 116,680 117,663 118,654 119,640 120,694 121,665 122,661 123,661 124,699 125,710 126,682 127,646 128,682 129,651 130,654 131,657 132,716 133,660 134,699 135,654 136,692 137,663 138,664 139,674 140,650 141,697 142,699 143,668 144,681 145,651 146,695 147,672 148,618 149,669 150,665 151,717 152,642 153,682 154,679 155,698 156,647 157,686 158,656 159,653 160,683 161,651 162,669 163,689 164,666 165,698 166,666 167,702 168,645 169,665 170,658 171,677 172,640 173,654 174,701 175,701 176,667 177,679 178,638 179,658 180,680 181,633 182,686 183,689 184,661 185,694 186,684 187,717 188,681 189,670 190,671 191,655 192,643 193,638 194,656 195,641 196,630 197,682 198,691 199,706 200,611 201,639 202,716 203,670 204,719 205,662 206,704 207,632 208,675 209,699 210,657 211,652 212,677 213,687 214,716 215,653 216,670 217,661 218,684 219,620 220,647 221,698 222,644 223,623 224,630 225,691 226,668 227,640 228,652 229,643 230,662 231,590 232,681 233,661 234,660 235,584 236,648 237,614 238,617 239,602 240,572 241,601 242,620 243,601 244,561 245,588 246,572 247,597 248,566 249,570 250,537 251,601 252,501 253,592 254,524 255,503 256,486 257,535 258,533 259,541 260,494 261,522 262,487 263,515 264,487 265,459 266,419 267,482 268,440 269,456 270,449 271,421 272,486 273,440 274,405 275,473 276,438 277,472 278,400 279,409 280,453 281,432 282,357 283,399 284,414 285,372 286,431 287,428 288,365 289,422 290,418 291,398 292,402 293,339 294,376 295,387 296,346 297,373 298,368 299,350 300,410 301,339 302,366 303,355 304,386 305,332 306,414 307,386 308,382 309,405 310,384 311,341 312,349 313,312 314,361 315,335 316,353 317,376 318,300 319,407 320,357 321,339 322,392 323,340 324,389 325,361 326,316 327,325 328,363 329,356 330,341 331,340 332,333 333,361 334,358 335,352 336,313 337,380 338,340 339,350 340,356 341,355 342,315 343,333 344,372 345,322 346,373 347,315 348,356 349,356 350,370 351,382 352,392 353,358 354,384 355,320 356,347 357,332 358,318 359,342 360,379 361,364 362,376 363,379 364,351 365,366 366,372 367,365 368,310 369,360 370,344 371,392 372,387 373,350 374,321 375,309 376,307 377,300 378,324 379,309 380,375 381,360 382,412 383,337 384,330 385,375 386,345 387,356 388,411 389,383 390,361 391,354 392,344 393,365 394,411 395,399 396,369 397,374 398,382 399,322 400,412 401,386 402,404 403,394 404,419 405,342 406,418 407,389 408,384 409,405 410,410 411,439 412,429 413,438 414,435 415,415 416,479 417,413 418,443 419,435 420,467 421,410 422,444 423,483 424,491 425,416 426,469 427,543 428,533 429,475 430,488 431,574 432,473 433,495 434,518 435,519 436,574 437,532 438,593 439,547 440,537 441,513 442,581 443,554 444,602 445,568 446,543 447,582 448,628 449,604 450,560 451,649 452,620 453,643 454,607 455,630 456,632 457,623 458,627 459,634 460,663 461,650 462,652 463,644 464,635 465,645 466,615 467,690 468,627 469,618 470,660 471,636 472,616 473,645 474,601 475,638 476,708 477,651 478,628 479,635 480,681 481,619 482,624 483,655 484,665 485,649 486,640 487,656 488,641 489,649 490,700 491,667 492,687 493,705 494,646 495,665 496,655 497,666 498,629 499,667 500,664 501,686 502,673 503,692 504,650 505,662 506,733 507,671 508,673 509,636 510,641 511,641 512,622 513,655 514,649 515,641 516,670 517,684 518,640 519,610 520,647 521,664 522,661 523,678 524,601 525,676 526,655 527,663 528,622 529,681 530,628 531,628 532,684 533,639 534,613 535,688 536,674 537,660 538,637 539,628 540,687 541,643 542,662 543,653 544,666 545,675 546,653 547,714 548,656 549,606 550,702 551,649 552,669 553,658 554,643 555,665 556,663 557,661 558,651 559,611 560,648 561,652 562,644 563,660 564,675 565,661 566,673 567,694 568,638 569,652 570,642 571,636 572,677 573,663 574,655 575,712 576,675 577,635 578,665 579,657 580,648 581,636 582,649 583,644 584,701 585,691 586,649 587,647 588,670 589,667 590,620 591,713 592,656 593,688 594,698 595,660 596,646 597,636 598,670 599,622 600,622 601,628 602,609 603,621 604,648 605,643 606,620 607,708 608,673 609,676 610,626 611,651 612,665 613,687 614,667 615,673 616,643 617,656 618,646 619,644 620,628 621,654 622,655 623,676 624,664 625,657 626,631 627,632 628,644 629,633 630,667 631,688 632,680 633,651 634,683 635,702 636,658 637,692 638,663 639,611 640,660 641,611 642,687 643,688 644,691 645,659 646,633 647,679 648,628 649,673 650,655 651,634 652,612 653,711 654,640 655,648 656,639 657,604 658,671 659,716 660,666 661,632 662,642 663,639 664,664 665,645 666,690 667,688 668,648 669,662 670,653 671,680 672,659 673,705 674,624 675,666 676,698 677,635 678,623 679,656 680,653 681,620 682,688 683,637 684,631 685,673 686,657 687,624 688,637 689,666 690,669 691,650 692,681 693,687 694,670 695,641 696,667 697,663 698,637 699,682" fill="none" stroke="#1414ff" stroke-width="1.0"/>
<polyline transform="translate(287.80 532.80) scale(0.15050 -0.06495)" vector-effect="non-scaling-stroke" points="0,598 1,654 2,635 3,644 4,606 5,707 6,672 7,679 8,632 9,701 10,683 11,616 12,591 13,681 14,627 15,642 16,647 17,651 18,649 19,683 20,683 21,586 22,617 23,633 24,627 25,640 26,660 27,675 28,661 29,662 30,621 31,652 32,611 33,634 34,680 35,628 36,651 37,602 38,653 39,664 40,662 41,668 42,662 43,652 44,652 45,665 46,643 47,668 48,682 49,631 50,629 51,623 52,627 53,606 54,647 55,606 56,648 57,676 58,597 59,639 60,657 61,619 62,639 63,670 64,621 65,647 66,641 67,663 68,615 69,643 70,626 71,639 72,687 73,618 74,662 75,652 76,703 77,586 78,630 79,607 80,674 81,684 82,678 83,628 84,660 85,687 86,688 87,585 88,643 89,661 90,644 91,635 92,659 93,654 94,696 95,644 96,656 97,619 98,631 99,613 100,694 101,655 102,686 103,650 104,641 105,631 106,687 107,657 108,658 109,652 110,585 111,673 112,668 113,639 114,654 115,672 116,665 117,662 118,598 119,695 120,673 121,593 122,632 123,657 124,596 125,665 126,669 127,593 128,666 129,660 130,683 131,664 132,659 133,584 134,679 135,649 136,746 137,696 138,648 139,599 140,625 141,682 142,666 143,618 144,642 145,634 146,667 147,624 148,675 149,674 150,645 151,709 152,643 153,644 154,698 155,670 156,640 157,623 158,675 159,600 160,650 161,692 162,672 163,689 164,657 165,663 166,705 167,616 168,642 169,672 170,711 171,661 172,662 173,614 174,609 175,635 176,635 177,657 178,614 179,653 180,685 181,686 182,612 183,652 184,651 185,663 186,586 187,597 188,683 189,647 190,622 191,631 192,645 193,618 194,619 195,686 196,684 197,625 198,641 199,694 200,645 201,626 202,611 203,647 204,682 205,708 206,628 207,620 208,588 209,649 210,676 211,665 212,648 213,709 214,607 215,586 216,661 217,623 218,668 219,636 220,631 221,654 222,631 223,600 224,653 225,622 226,623 227,653 228,683 229,625 230,632 231,678 232,637 233,605 234,674 235,667 236,623 237,608 238,603 239,608 240,638 241,668 242,617 243,637 244,574 245,597 246,596 247,665 248,670 249,617 250,643 251,633 252,535 253,551 254,625 255,557 256,555 257,578 258,555 259,583 260,588 261,579 262,567 263,492 264,571 265,517 266,604 267,525 268,515 269,544 270,564 271,536 272,549 273,572 274,526 275,537 276,527 277,462 278,522 279,467 280,507 281,529 282,544 283,478 284,463 285,571 286,531 287,536 288,484 289,507 290,516 291,540 292,471 293,561 294,550 295,492 296,491 297,516 298,436 299,523 300,478 301,492 302,466 303,489 304,528 305,427 306,550 307,475 308,482 309,553 310,506 311,483 312,508 313,441 314,498 315,490 316,476 317,510 318,430 319,515 320,470 321,503 322,482 323,478 324,513 325,498 326,475 327,536 328,500 329,425 330,521 331,526 332,429 333,469 334,556 335,524 336,484 337,497 338,494 339,517 340,495 341,498 342,550 343,556 344,558 345,462 346,504 347,476 348,504 349,489 350,493 351,476 352,536 353,487 354,476 355,518 356,488 357,486 358,450 359,502 360,472 361,438 362,470 363,525 364,496 365,480 366,487 367,532 368,467 369,454 370,509 371,540 372,442 373,467 374,456 375,552 376,549 377,492 378,477 379,483 380,517 381,476 382,481 383,492 384,486 385,531 386,530 387,476 388,531 389,498 390,513 391,485 392,450 393,485 394,482 395,487 396,530 397,574 398,535 399,507 400,524 401,528 402,459 403,485 404,507 405,540 406,470 407,536 408,491 409,496 410,515 411,512 412,510 413,541 414,517 415,547 416,514 417,523 418,536 419,533 420,482 421,598 422,509 423,610 424,500 425,505 426,500 427,545 428,585 429,589 430,607 431,541 432,550 433,538 434,573 435,607 436,584 437,561 438,583 439,553 440,634 441,649 442,556 443,647 444,585 445,594 446,617 447,545 448,627 449,614 450,640 451,598 452,602 453,589 454,621 455,627 456,618 457,639 458,651 459,592 460,601 461,643 462,584 463,686 464,569 465,676 466,602 467,597 468,708 469,695 470,611 471,624 472,578 473,659 474,625 475,626 476,632 477,608 478,638 479,704 480,666 481,634 482,635 483,692 484,652 485,660 486,619 487,641 488,663 489,602 490,654 491,641 492,622 493,630 494,608 495,606 496,628 497,646 498,626 499,642 500,624 501,597 502,615 503,647 504,669 505,622 506,619 507,613 508,648 509,686 510,656 511,677 512,714 513,645 514,653 515,633 516,650 517,611 518,635 519,602 520,671 521,694 522,661 523,664 524,595 525,661 526,656 527,602 528,665 529,611 530,638 531,631 532,642 533,644 534,650 535,688 536,628 537,624 538,665 539,694 540,658 541,644 542,671 543,648 544,682 545,683 546,653 547,605 548,709 549,611 550,626 551,624 552,672 553,625 554,659 555,666 556,658 557,678 558,654 559,647 560,710 561,637 562,596 563,608 564,646 565,592 566,661 567,667 568,627 569,652 570,668 571,598 572,713 573,677 574,618 575,635 576,706 577,590 578,668 579,646 580,630 581,677 582,657 583,698 584,635 585,589 586,670 587,659 588,663 589,612 590,673 591,659 592,628 593,640 594,667 595,619 596,657 597,598 598,633 599,652 600,652 601,656 602,676 603,649 604,611 605,689 606,677 607,667 608,626 609,641 610,658 611,645 612,649 613,612 614,641 615,656 616,714 617,676 618,685 619,666 620,662 621,688 622,653 623,653 624,611 625,711 626,593 627,604 628,677 629,642 630,653 631,624 632,604 633,679 634,589 635,584 636,653 637,653 638,619 639,629 640,615 641,629 642,666 643,645 644,631 645,665 646,645 647,641 648,611 649,649 650,684 651,689 652,633 653,621 654,624 655,613 656,628 657,656 658,624 659,680 660,669 661,586 662,617 663,640 664,641 665,641 666,596 667,647 668,618 669,625 670,661 671,630 672,699 673,648 674,697 675,660 676,617 677,641 678,657 679,631 680,597 681,636 682,694 683,621 684,671 685,609 686,690 687,662 688,671 689,701 690,702 691,664 692,615 693,586 694,605 695,576 696,626 697,671 698,664 699,720" fill="none" stroke="#f00a1e" stroke-width="1.0"/>
<line x1="287.20" y1="467.50" x2="287.20" y2="533.60" stroke="#111" stroke-width="1.2" />
<line x1="286.70" y1="533.10" x2="393.00" y2="533.10" stroke="#111" stroke-width="1.25" />
<line x1="285.00" y1="532.80" x2="287.20" y2="532.80" stroke="#111" stroke-width="1.0" />
<line x1="285.00" y1="519.81" x2="287.20" y2="519.81" stroke="#111" stroke-width="1.0" />
<line x1="285.00" y1="506.82" x2="287.20" y2="506.82" stroke="#111" stroke-width="1.0" />
<line x1="285.00" y1="493.83" x2="287.20" y2="493.83" stroke="#111" stroke-width="1.0" />
<line x1="285.00" y1="480.84" x2="287.20" y2="480.84" stroke="#111" stroke-width="1.0" />
<line x1="285.00" y1="467.85" x2="287.20" y2="467.85" stroke="#111" stroke-width="1.0" />
<line x1="287.20" y1="533.10" x2="287.20" y2="535.70" stroke="#111" stroke-width="1.0" />
<line x1="331.74" y1="533.10" x2="331.74" y2="535.70" stroke="#111" stroke-width="1.0" />
<line x1="348.99" y1="533.10" x2="348.99" y2="535.70" stroke="#111" stroke-width="1.0" />
<line x1="393.00" y1="533.10" x2="393.00" y2="535.70" stroke="#111" stroke-width="1.0" />
<text x="288.00" y="546.30" font-size="9.4" text-anchor="start" font-weight="normal" fill="#1a1a1a" stroke="#1a1a1a" stroke-width="0.12" >-5kb</text>
<text x="341.16" y="546.30" font-size="9.4" text-anchor="middle" font-weight="normal" fill="#1a1a1a" stroke="#1a1a1a" stroke-width="0.12" >CpGI</text>
<text x="392.20" y="546.30" font-size="9.4" text-anchor="end" font-weight="normal" fill="#1a1a1a" stroke="#1a1a1a" stroke-width="0.12" >5kb</text>
<polyline transform="translate(407.80 462.30) scale(0.15050 -0.06554)" vector-effect="non-scaling-stroke" points="0,657 1,699 2,643 3,682 4,656 5,642 6,691 7,714 8,715 9,683 10,694 11,674 12,623 13,639 14,691 15,659 16,639 17,701 18,651 19,676 20,663 21,660 22,652 23,690 24,666 25,654 26,638 27,647 28,625 29,639 30,627 31,718 32,623 33,631 34,676 35,649 36,636 37,702 38,647 39,667 40,658 41,653 42,639 43,641 44,653 45,690 46,688 47,663 48,630 49,636 50,646 51,656 52,705 53,673 54,671 55,671 56,633 57,659 58,689 59,674 60,625 61,670 62,655 63,648 64,667 65,679 66,656 67,660 68,667 69,698 70,712 71,701 72,673 73,690 74,683 75,657 76,674 77,660 78,636 79,635 80,723 81,702 82,705 83,643 84,693 85,677 86,665 87,661 88,678 89,669 90,620 91,693 92,678 93,711 94,631 95,654 96,662 97,650 98,652 99,723 100,698 101,652 102,614 103,659 104,685 105,708 106,694 107,673 108,634 109,614 110,651 111,657 112,709 113,619 114,667 115,657 116,637 117,668 118,651 119,697 120,663 121,679 122,691 123,687 124,683 125,685 126,683 127,633 128,627 129,685 130,642 131,668 132,680 133,619 134,724 135,641 136,698 137,692 138,652 139,630 140,704 141,658 142,694 143,621 144,618 145,686 146,709 147,624 148,671 149,614 150,680 151,613 152,693 153,655 154,656 155,699 156,683 157,667 158,662 159,683 160,696 161,674 162,637 163,708 164,687 165,671 166,686 167,663 168,666 169,690 170,714 171,639 172,687 173,654 174,658 175,654 176,688 177,707 178,673 179,683 180,639 181,653 182,626 183,636 184,676 185,713 186,645 187,681 188,644 189,720 190,689 191,701 192,659 193,699 194,649 195,687 196,672 197,649 198,634 199,640 200,690 201,667 202,685 203,720 204,690 205,689 206,634 207,693 208,656 209,653 210,712 211,645 212,667 213,635 214,598 215,630 216,689 217,643 218,689 219,655 220,652 221,657 222,699 223,684 224,690 225,622 226,639 227,629 228,633 229,645 230,634 231,618 232,569 233,641 234,628 235,598 236,616 237,611 238,588 239,640 240,647 241,549 242,577 243,612 244,564 245,570 246,608 247,595 248,592 249,594 250,550 251,561 252,576 253,544 254,580 255,523 256,478 257,551 258,507 259,540 260,548 261,460 262,531 263,484 264,510 265,445 266,484 267,490 268,403 269,458 270,440 271,473 272,396 273,451 274,411 275,409 276,368 277,383 278,396 279,391 280,358 281,382 282,387 283,389 284,382 285,351 286,326 287,354 288,380 289,377 290,386 291,353 292,372 293,377 294,386 295,384 296,339 297,382 298,322 299,345 300,329 301,361 302,362 303,335 304,343 305,341 306,393 307,315 308,317 309,296 310,348 311,304 312,367 313,305 314,356 315,367 316,370 317,307 318,293 319,354 320,330 321,320 322,355 323,365 324,328 325,322 326,322 327,380 328,326 329,379 330,329 331,363 332,338 333,385 334,317 335,347 336,360 337,327 338,338 339,337 340,365 341,347 342,342 343,347 344,371 345,309 346,317 347,351 348,313 349,337 350,360 351,373 352,377 353,334 354,316 355,350 356,359 357,328 358,305 359,310 360,282 361,340 362,378 363,315 364,310 365,340 366,378 367,378 368,316 369,320 370,375 371,334 372,334 373,441 374,363 375,374 376,343 377,326 378,357 379,359 380,320 381,340 382,323 383,377 384,326 385,341 386,369 387,372 388,366 389,365 390,363 391,372 392,379 393,351 394,391 395,349 396,400 397,314 398,346 399,389 400,360 401,338 402,358 403,373 404,371 405,425 406,360 407,362 408,332 409,351 410,382 411,389 412,414 413,414 414,409 415,371 416,414 417,416 418,419 419,435 420,474 421,423 422,492 423,407 424,476 425,464 426,421 427,492 428,515 429,523 430,497 431,544 432,522 433,568 434,484 435,512 436,581 437,571 438,589 439,563 440,553 441,579 442,600 443,591 444,600 445,540 446,581 447,546 448,620 449,657 450,598 451,646 452,611 453,645 454,668 455,600 456,632 457,574 458,645 459,627 460,616 461,625 462,665 463,638 464,597 465,670 466,643 467,699 468,646 469,670 470,657 471,634 472,633 473,621 474,678 475,601 476,645 477,625 478,651 479,688 480,668 481,605 482,632 483,676 484,630 485,597 486,673 487,670 488,653 489,674 490,693 491,648 492,671 493,651 494,637 495,659 496,658 497,660 498,665 499,629 500,687 501,612 502,668 503,634 504,659 505,716 506,663 507,659 508,636 509,640 510,660 511,712 512,671 513,668 514,617 515,636 516,664 517,696 518,668 519,691 520,616 521,658 522,700 523,659 524,706 525,692 526,662 527,612 528,674 529,683 530,642 531,674 532,655 533,678 534,691 535,691 536,670 537,678 538,718 539,643 540,661 541,670 542,643 543,626 544,671 545,663 546,633 547,676 548,664 549,648 550,661 551,649 552,698 553,608 554,645 555,675 556,667 557,641 558,670 559,672 560,610 561,645 562,638 563,720 564,679 565,712 566,653 567,695 568,641 569,680 570,680 571,662 572,654 573,678 574,652 575,636 576,641 577,664 578,662 579,617 580,682 581,664 582,679 583,656 584,648 585,681 586,638 587,693 588,668 589,659 590,654 591,685 592,685 593,665 594,686 595,674 596,640 597,640 598,646 599,646 600,651 601,627 602,657 603,672 604,648 605,669 606,666 607,701 608,646 609,675 610,673 611,688 612,666 613,660 614,634 615,654 616,644 617,707 618,635 619,642 620,647 621,699 622,655 623,631 624,638 625,667 626,676 627,591 628,674 629,661 630,628 631,678 632,618 633,639 634,683 635,679 636,669 637,667 638,647 639,620 640,691 641,623 642,650 643,659 644,682 645,655 646,640 647,654 648,644 649,649 650,634 651,681 652,683 653,627 654,662 655,670 656,666 657,649 658,712 659,632 660,644 661,703 662,657 663,659 664,678 665,679 666,710 667,640 668,630 669,661 670,716 671,675 672,670 673,638 674,649 675,688 676,599 677,658 678,653 679,676 680,657 681,633 682,622 683,660 684,665 685,683 686,627 687,656 688,663 689,672 690,619 691,652 692,701 693,637 694,642 695,600 696,640 697,703 698,699 699,699" fill="none" stroke="#1414ff" stroke-width="1.0"/>
<polyline transform="translate(407.80 462.30) scale(0.15050 -0.06554)" vector-effect="non-scaling-stroke" points="0,657 1,625 2,645 3,640 4,663 5,605 6,620 7,680 8,630 9,645 10,589 11,663 12,697 13,660 14,673 15,641 16,674 17,679 18,701 19,614 20,647 21,686 22,688 23,657 24,618 25,724 26,623 27,624 28,695 29,659 30,652 31,697 32,659 33,664 34,598 35,637 36,669 37,675 38,691 39,703 40,619 41,577 42,636 43,662 44,630 45,708 46,631 47,627 48,663 49,619 50,637 51,582 52,659 53,640 54,702 55,593 56,599 57,627 58,633 59,622 60,628 61,641 62,675 63,600 64,643 65,630 66,654 67,697 68,698 69,633 70,631 71,621 72,656 73,687 74,698 75,663 76,656 77,680 78,612 79,632 80,673 81,598 82,618 83,684 84,618 85,668 86,633 87,645 88,582 89,600 90,660 91,712 92,600 93,696 94,596 95,628 96,595 97,656 98,596 99,711 100,646 101,599 102,667 103,714 104,656 105,616 106,648 107,620 108,641 109,680 110,650 111,672 112,677 113,646 114,661 115,600 116,701 117,635 118,674 119,666 120,676 121,629 122,630 123,580 124,673 125,576 126,688 127,625 128,671 129,685 130,688 131,644 132,675 133,677 134,697 135,630 136,723 137,674 138,668 139,635 140,664 141,680 142,656 143,608 144,638 145,647 146,646 147,610 148,639 149,581 150,670 151,704 152,610 153,605 154,688 155,614 156,647 157,676 158,708 159,635 160,694 161,642 162,631 163,598 164,620 165,636 166,629 167,645 168,644 169,627 170,614 171,661 172,671 173,670 174,597 175,642 176,697 177,657 178,630 179,629 180,591 181,666 182,650 183,623 184,606 185,661 186,627 187,659 188,659 189,665 190,600 191,596 192,593 193,664 194,672 195,635 196,659 197,598 198,637 199,601 200,636 201,677 202,638 203,673 204,708 205,645 206,658 207,663 208,622 209,630 210,606 211,607 212,703 213,652 214,662 215,648 216,654 217,632 218,634 219,629 220,658 221,602 222,648 223,687 224,580 225,612 226,655 227,672 228,585 229,659 230,666 231,706 232,679 233,624 234,626 235,570 236,685 237,602 238,619 239,675 240,652 241,604 242,567 243,610 244,591 245,584 246,607 247,623 248,643 249,625 250,624 251,601 252,602 253,595 254,560 255,613 256,582 257,563 258,603 259,550 260,536 261,583 262,574 263,577 264,589 265,539 266,540 267,569 268,583 269,571 270,490 271,622 272,570 273,582 274,580 275,536 276,531 277,516 278,535 279,500 280,572 281,506 282,521 283,599 284,516 285,504 286,497 287,496 288,508 289,462 290,527 291,592 292,531 293,565 294,530 295,542 296,554 297,479 298,586 299,556 300,528 301,519 302,501 303,529 304,531 305,490 306,492 307,556 308,534 309,553 310,529 311,579 312,546 313,479 314,519 315,525 316,527 317,552 318,504 319,565 320,502 321,494 322,502 323,493 324,455 325,585 326,542 327,525 328,526 329,520 330,532 331,507 332,496 333,483 334,578 335,456 336,507 337,539 338,527 339,542 340,530 341,491 342,524 343,497 344,509 345,566 346,548 347,536 348,445 349,555 350,526 351,554 352,514 353,515 354,530 355,553 356,559 357,507 358,471 359,455 360,487 361,545 362,522 363,549 364,546 365,499 366,464 367,514 368,520 369,530 370,548 371,492 372,510 373,479 374,505 375,573 376,490 377,533 378,539 379,544 380,498 381,550 382,502 383,555 384,577 385,457 386,515 387,540 388,545 389,570 390,456 391,583 392,544 393,501 394,555 395,541 396,501 397,555 398,475 399,568 400,577 401,582 402,536 403,541 404,499 405,538 406,595 407,596 408,524 409,551 410,570 411,559 412,567 413,507 414,573 415,515 416,547 417,602 418,545 419,570 420,538 421,601 422,552 423,652 424,544 425,640 426,589 427,560 428,645 429,566 430,550 431,580 432,630 433,570 434,582 435,652 436,567 437,614 438,551 439,633 440,601 441,563 442,670 443,553 444,622 445,667 446,644 447,600 448,614 449,597 450,579 451,641 452,606 453,623 454,619 455,577 456,662 457,597 458,634 459,632 460,651 461,595 462,585 463,677 464,573 465,676 466,691 467,604 468,626 469,666 470,649 471,632 472,634 473,623 474,648 475,676 476,667 477,647 478,644 479,638 480,631 481,629 482,678 483,640 484,635 485,633 486,610 487,660 488,595 489,694 490,672 491,630 492,631 493,685 494,643 495,611 496,650 497,660 498,602 499,664 500,671 501,670 502,659 503,626 504,714 505,679 506,619 507,661 508,610 509,633 510,657 511,589 512,686 513,676 514,690 515,599 516,646 517,576 518,621 519,625 520,632 521,612 522,622 523,662 524,627 525,685 526,661 527,648 528,683 529,625 530,644 531,653 532,613 533,648 534,708 535,646 536,658 537,647 538,660 539,645 540,642 541,706 542,673 543,656 544,705 545,641 546,625 547,677 548,590 549,644 550,674 551,672 552,688 553,675 554,672 555,620 556,634 557,692 558,630 559,647 560,657 561,592 562,680 563,651 564,618 565,716 566,649 567,683 568,663 569,642 570,638 571,681 572,668 573,639 574,654 575,636 576,628 577,684 578,645 579,635 580,663 581,681 582,599 583,672 584,641 585,655 586,622 587,637 588,639 589,687 590,621 591,593 592,667 593,633 594,688 595,633 596,646 597,625 598,636 599,655 600,638 601,680 602,627 603,616 604,688 605,601 606,643 607,619 608,645 609,583 610,637 611,623 612,660 613,597 614,615 615,672 616,612 617,666 618,629 619,694 620,645 621,602 622,615 623,666 624,628 625,718 626,645 627,688 628,693 629,676 630,607 631,591 632,605 633,693 634,644 635,635 636,673 637,689 638,609 639,664 640,629 641,601 642,662 643,692 644,610 645,637 646,641 647,618 648,654 649,628 650,682 651,654 652,679 653,687 654,674 655,660 656,582 657,609 658,685 659,634 660,627 661,673 662,606 663,657 664,661 665,628 666,666 667,635 668,586 669,691 670,655 671,673 672,613 673,622 674,622 675,714 676,613 677,703 678,627 679,663 680,650 681,623 682,697 683,630 684,643 685,657 686,621 687,652 688,701 689,654 690,654 691,636 692,627 693,600 694,590 695,656 696,627 697,671 698,637 699,718" fill="none" stroke="#f00a1e" stroke-width="1.0"/>
<line x1="407.20" y1="396.40" x2="407.20" y2="463.10" stroke="#111" stroke-width="1.2" />
<line x1="406.70" y1="462.60" x2="513.00" y2="462.60" stroke="#111" stroke-width="1.25" />
<line x1="405.00" y1="462.30" x2="407.20" y2="462.30" stroke="#111" stroke-width="1.0" />
<line x1="405.00" y1="449.19" x2="407.20" y2="449.19" stroke="#111" stroke-width="1.0" />
<line x1="405.00" y1="436.08" x2="407.20" y2="436.08" stroke="#111" stroke-width="1.0" />
<line x1="405.00" y1="422.97" x2="407.20" y2="422.97" stroke="#111" stroke-width="1.0" />
<line x1="405.00" y1="409.86" x2="407.20" y2="409.86" stroke="#111" stroke-width="1.0" />
<line x1="405.00" y1="396.76" x2="407.20" y2="396.76" stroke="#111" stroke-width="1.0" />
<line x1="407.20" y1="462.60" x2="407.20" y2="465.20" stroke="#111" stroke-width="1.0" />
<line x1="451.74" y1="462.60" x2="451.74" y2="465.20" stroke="#111" stroke-width="1.0" />
<line x1="468.99" y1="462.60" x2="468.99" y2="465.20" stroke="#111" stroke-width="1.0" />
<line x1="513.00" y1="462.60" x2="513.00" y2="465.20" stroke="#111" stroke-width="1.0" />
<text x="460.10" y="401.70" font-size="9.2" text-anchor="middle" font-weight="normal" fill="#1a1a1a" stroke="#1a1a1a" stroke-width="0.12" >14543</text>
<polyline transform="translate(407.80 532.80) scale(0.15050 -0.06495)" vector-effect="non-scaling-stroke" points="0,630 1,657 2,646 3,678 4,637 5,635 6,605 7,621 8,648 9,618 10,654 11,620 12,620 13,619 14,671 15,585 16,633 17,643 18,631 19,663 20,593 21,644 22,644 23,613 24,625 25,619 26,656 27,670 28,631 29,630 30,649 31,629 32,617 33,617 34,651 35,628 36,645 37,609 38,632 39,687 40,627 41,638 42,614 43,637 44,635 45,657 46,599 47,599 48,611 49,650 50,658 51,607 52,642 53,641 54,601 55,620 56,590 57,605 58,658 59,647 60,665 61,609 62,661 63,641 64,656 65,616 66,644 67,579 68,611 69,596 70,637 71,678 72,579 73,639 74,673 75,672 76,665 77,600 78,641 79,620 80,648 81,643 82,601 83,620 84,623 85,622 86,637 87,650 88,591 89,634 90,637 91,670 92,628 93,631 94,609 95,646 96,645 97,612 98,628 99,677 100,656 101,668 102,651 103,641 104,631 105,648 106,642 107,605 108,686 109,608 110,614 111,655 112,625 113,652 114,651 115,607 116,669 117,629 118,632 119,622 120,626 121,612 122,602 123,610 124,591 125,661 126,656 127,645 128,669 129,675 130,677 131,620 132,671 133,603 134,634 135,593 136,655 137,636 138,619 139,626 140,676 141,626 142,630 143,582 144,648 145,677 146,651 147,588 148,659 149,596 150,629 151,636 152,637 153,651 154,669 155,632 156,624 157,605 158,681 159,618 160,650 161,647 162,596 163,654 164,610 165,643 166,589 167,609 168,609 169,635 170,616 171,623 172,592 173,624 174,628 175,649 176,629 177,595 178,596 179,622 180,668 181,682 182,628 183,610 184,673 185,640 186,651 187,640 188,619 189,570 190,600 191,593 192,626 193,609 194,596 195,616 196,626 197,617 198,622 199,612 200,629 201,649 202,651 203,632 204,613 205,628 206,565 207,613 208,598 209,680 210,625 211,611 212,619 213,664 214,624 215,656 216,627 217,634 218,575 219,600 220,598 221,601 222,583 223,617 224,637 225,605 226,620 227,621 228,575 229,574 230,619 231,595 232,539 233,553 234,608 235,570 236,583 237,587 238,525 239,576 240,574 241,580 242,574 243,561 244,545 245,559 246,531 247,576 248,558 249,494 250,546 251,505 252,555 253,469 254,471 255,490 256,450 257,471 258,528 259,513 260,447 261,470 262,428 263,440 264,485 265,432 266,415 267,444 268,422 269,456 270,403 271,415 272,363 273,376 274,365 275,389 276,427 277,393 278,372 279,380 280,347 281,306 282,375 283,387 284,337 285,342 286,364 287,351 288,370 289,331 290,332 291,359 292,338 293,329 294,346 295,296 296,315 297,354 298,287 299,311 300,336 301,326 302,366 303,331 304,327 305,327 306,259 307,293 308,272 309,288 310,330 311,287 312,319 313,344 314,313 315,247 316,268 317,299 318,302 319,291 320,315 321,349 322,313 323,336 324,311 325,319 326,305 327,260 328,313 329,299 330,288 331,346 332,326 333,263 334,271 335,269 336,305 337,318 338,334 339,311 340,292 341,341 342,325 343,268 344,329 345,291 346,316 347,253 348,321 349,344 350,284 351,242 352,257 353,299 354,328 355,296 356,293 357,274 358,260 359,268 360,305 361,307 362,298 363,303 364,321 365,314 366,282 367,278 368,286 369,299 370,279 371,336 372,313 373,288 374,342 375,364 376,292 377,265 378,302 379,302 380,253 381,340 382,311 383,291 384,310 385,338 386,319 387,274 388,335 389,319 390,269 391,343 392,323 393,334 394,316 395,278 396,327 397,329 398,333 399,311 400,354 401,377 402,296 403,325 404,305 405,315 406,331 407,318 408,391 409,357 410,356 411,391 412,370 413,414 414,395 415,385 416,325 417,365 418,373 419,362 420,389 421,419 422,409 423,406 424,389 425,414 426,437 427,415 428,460 429,452 430,501 431,520 432,509 433,450 434,442 435,488 436,432 437,503 438,515 439,494 440,517 441,576 442,509 443,535 444,585 445,510 446,561 447,569 448,511 449,591 450,566 451,586 452,536 453,593 454,619 455,564 456,626 457,591 458,580 459,625 460,582 461,585 462,609 463,637 464,613 465,559 466,625 467,637 468,580 469,605 470,585 471,607 472,625 473,578 474,613 475,634 476,659 477,651 478,565 479,658 480,637 481,633 482,627 483,642 484,578 485,640 486,599 487,652 488,628 489,612 490,638 491,644 492,651 493,627 494,652 495,680 496,641 497,636 498,606 499,638 500,639 501,600 502,600 503,611 504,658 505,592 506,660 507,673 508,631 509,585 510,612 511,606 512,629 513,610 514,643 515,576 516,609 517,653 518,637 519,637 520,612 521,644 522,662 523,580 524,639 525,592 526,619 527,578 528,642 529,617 530,589 531,620 532,628 533,638 534,632 535,661 536,599 537,666 538,642 539,607 540,653 541,634 542,610 543,654 544,642 545,657 546,620 547,690 548,647 549,598 550,614 551,614 552,678 553,649 554,624 555,587 556,638 557,617 558,646 559,587 560,639 561,625 562,683 563,620 564,602 565,580 566,649 567,643 568,626 569,684 570,645 571,584 572,650 573,612 574,660 575,605 576,602 577,616 578,682 579,597 580,656 581,623 582,622 583,620 584,667 585,625 586,634 587,620 588,631 589,636 590,617 591,610 592,614 593,642 594,621 595,575 596,641 597,628 598,620 599,639 600,627 601,684 602,619 603,652 604,634 605,659 606,609 607,657 608,652 609,653 610,605 611,628 612,628 613,637 614,640 615,620 616,637 617,630 618,643 619,625 620,582 621,618 622,632 623,643 624,644 625,632 626,610 627,612 628,586 629,681 630,666 631,605 632,661 633,626 634,661 635,608 636,637 637,627 638,601 639,644 640,647 641,619 642,648 643,644 644,616 645,659 646,634 647,643 648,680 649,581 650,642 651,644 652,614 653,621 654,617 655,569 656,652 657,676 658,602 659,624 660,607 661,665 662,651 663,611 664,606 665,606 666,665 667,673 668,636 669,627 670,666 671,627 672,649 673,621 674,609 675,669 676,626 677,590 678,617 679,658 680,587 681,596 682,660 683,663 684,599 685,601 686,673 687,616 688,636 689,604 690,619 691,660 692,683 693,654 694,654 695,627 696,651 697,606 698,602 699,635" fill="none" stroke="#1414ff" stroke-width="1.0"/>
<polyline transform="translate(407.80 532.80) scale(0.15050 -0.06495)" vector-effect="non-scaling-stroke" points="0,684 1,687 2,632 3,610 4,641 5,616 6,619 7,590 8,606 9,601 10,623 11,645 12,597 13,616 14,661 15,616 16,617 17,646 18,596 19,642 20,544 21,617 22,585 23,619 24,599 25,619 26,665 27,618 28,600 29,653 30,670 31,628 32,591 33,652 34,640 35,605 36,596 37,679 38,608 39,620 40,632 41,628 42,650 43,647 44,679 45,630 46,599 47,650 48,612 49,627 50,653 51,642 52,609 53,631 54,627 55,610 56,630 57,666 58,660 59,661 60,643 61,649 62,616 63,590 64,613 65,558 66,610 67,644 68,669 69,630 70,673 71,619 72,597 73,600 74,550 75,605 76,650 77,641 78,646 79,673 80,616 81,609 82,577 83,669 84,680 85,607 86,579 87,575 88,596 89,633 90,546 91,628 92,676 93,590 94,581 95,599 96,618 97,662 98,645 99,625 100,610 101,584 102,629 103,557 104,642 105,594 106,591 107,630 108,627 109,602 110,601 111,667 112,582 113,608 114,685 115,580 116,643 117,568 118,559 119,616 120,637 121,583 122,626 123,645 124,628 125,564 126,615 127,621 128,583 129,612 130,596 131,615 132,651 133,622 134,685 135,598 136,582 137,638 138,619 139,571 140,606 141,641 142,662 143,617 144,651 145,598 146,615 147,664 148,647 149,624 150,653 151,632 152,616 153,621 154,657 155,617 156,665 157,607 158,589 159,562 160,603 161,673 162,676 163,667 164,683 165,640 166,618 167,553 168,616 169,589 170,665 171,590 172,605 173,591 174,663 175,623 176,597 177,618 178,674 179,565 180,670 181,593 182,605 183,660 184,637 185,605 186,644 187,569 188,549 189,639 190,619 191,620 192,661 193,646 194,574 195,620 196,564 197,614 198,549 199,631 200,611 201,674 202,630 203,598 204,628 205,591 206,616 207,636 208,646 209,646 210,657 211,569 212,580 213,584 214,650 215,591 216,659 217,570 218,607 219,599 220,588 221,655 222,594 223,573 224,626 225,657 226,612 227,599 228,631 229,592 230,645 231,626 232,573 233,622 234,560 235,581 236,669 237,627 238,608 239,571 240,601 241,628 242,612 243,631 244,625 245,545 246,622 247,567 248,548 249,540 250,542 251,615 252,519 253,596 254,601 255,605 256,540 257,633 258,527 259,625 260,513 261,558 262,579 263,560 264,539 265,600 266,538 267,483 268,593 269,556 270,560 271,512 272,579 273,539 274,479 275,501 276,553 277,594 278,493 279,509 280,502 281,574 282,560 283,533 284,520 285,502 286,487 287,539 288,558 289,550 290,512 291,486 292,554 293,516 294,486 295,501 296,564 297,525 298,537 299,512 300,513 301,500 302,551 303,488 304,544 305,507 306,475 307,534 308,533 309,455 310,518 311,496 312,528 313,561 314,457 315,455 316,444 317,547 318,498 319,505 320,458 321,468 322,530 323,535 324,496 325,521 326,467 327,490 328,539 329,504 330,480 331,547 332,555 333,560 334,496 335,519 336,551 337,514 338,543 339,564 340,506 341,496 342,449 343,525 344,522 345,508 346,454 347,545 348,509 349,502 350,443 351,522 352,555 353,471 354,562 355,551 356,530 357,489 358,549 359,522 360,540 361,531 362,487 363,449 364,485 365,522 366,524 367,540 368,471 369,504 370,444 371,544 372,571 373,573 374,464 375,529 376,508 377,496 378,545 379,536 380,486 381,509 382,516 383,483 384,481 385,480 386,561 387,443 388,500 389,523 390,496 391,501 392,565 393,506 394,500 395,528 396,551 397,534 398,545 399,525 400,527 401,588 402,524 403,522 404,529 405,510 406,597 407,520 408,536 409,538 410,595 411,499 412,527 413,528 414,555 415,552 416,521 417,549 418,568 419,474 420,564 421,564 422,521 423,533 424,531 425,548 426,573 427,566 428,518 429,505 430,573 431,616 432,554 433,528 434,566 435,546 436,566 437,570 438,556 439,542 440,539 441,518 442,610 443,592 444,578 445,598 446,589 447,585 448,607 449,625 450,615 451,639 452,610 453,640 454,571 455,615 456,642 457,556 458,573 459,658 460,599 461,583 462,659 463,658 464,568 465,588 466,601 467,569 468,639 469,628 470,677 471,622 472,670 473,616 474,590 475,612 476,549 477,666 478,682 479,619 480,618 481,630 482,634 483,584 484,582 485,600 486,615 487,598 488,626 489,639 490,593 491,605 492,629 493,640 494,611 495,588 496,626 497,588 498,653 499,585 500,619 501,608 502,586 503,647 504,549 505,628 506,583 507,672 508,670 509,600 510,612 511,622 512,602 513,559 514,610 515,605 516,577 517,622 518,627 519,601 520,599 521,637 522,607 523,688 524,624 525,667 526,551 527,593 528,632 529,640 530,670 531,598 532,683 533,634 534,655 535,638 536,610 537,651 538,603 539,668 540,577 541,607 542,622 543,626 544,641 545,629 546,657 547,612 548,619 549,553 550,653 551,668 552,612 553,671 554,627 555,567 556,614 557,657 558,558 559,614 560,668 561,646 562,581 563,597 564,634 565,619 566,585 567,575 568,659 569,667 570,677 571,660 572,613 573,670 574,594 575,647 576,645 577,662 578,661 579,676 580,610 581,614 582,692 583,643 584,632 585,653 586,626 587,654 588,557 589,565 590,632 591,663 592,645 593,651 594,675 595,584 596,641 597,573 598,583 599,671 600,643 601,626 602,620 603,638 604,637 605,626 606,567 607,631 608,693 609,602 610,658 611,648 612,624 613,626 614,639 615,636 616,638 617,630 618,644 619,621 620,619 621,683 622,662 623,672 624,632 625,580 626,623 627,574 628,610 629,596 630,568 631,643 632,655 633,604 634,652 635,662 636,684 637,615 638,637 639,627 640,589 641,652 642,609 643,666 644,628 645,564 646,672 647,625 648,602 649,596 650,679 651,609 652,584 653,594 654,671 655,581 656,644 657,615 658,581 659,648 660,615 661,545 662,600 663,604 664,633 665,632 666,669 667,617 668,655 669,564 670,612 671,569 672,614 673,675 674,609 675,678 676,585 677,592 678,569 679,662 680,639 681,676 682,623 683,557 684,613 685,659 686,678 687,584 688,646 689,603 690,578 691,623 692,685 693,601 694,677 695,565 696,586 697,575 698,651 699,584" fill="none" stroke="#f00a1e" stroke-width="1.0"/>
<line x1="407.20" y1="467.50" x2="407.20" y2="533.60" stroke="#111" stroke-width="1.2" />
<line x1="406.70" y1="533.10" x2="513.00" y2="533.10" stroke="#111" stroke-width="1.25" />
<line x1="405.00" y1="532.80" x2="407.20" y2="532.80" stroke="#111" stroke-width="1.0" />
<line x1="405.00" y1="519.81" x2="407.20" y2="519.81" stroke="#111" stroke-width="1.0" />
<line x1="405.00" y1="506.82" x2="407.20" y2="506.82" stroke="#111" stroke-width="1.0" />
<line x1="405.00" y1="493.83" x2="407.20" y2="493.83" stroke="#111" stroke-width="1.0" />
<line x1="405.00" y1="480.84" x2="407.20" y2="480.84" stroke="#111" stroke-width="1.0" />
<line x1="405.00" y1="467.85" x2="407.20" y2="467.85" stroke="#111" stroke-width="1.0" />
<line x1="407.20" y1="533.10" x2="407.20" y2="535.70" stroke="#111" stroke-width="1.0" />
<line x1="451.74" y1="533.10" x2="451.74" y2="535.70" stroke="#111" stroke-width="1.0" />
<line x1="468.99" y1="533.10" x2="468.99" y2="535.70" stroke="#111" stroke-width="1.0" />
<line x1="513.00" y1="533.10" x2="513.00" y2="535.70" stroke="#111" stroke-width="1.0" />
<text x="408.00" y="546.30" font-size="9.4" text-anchor="start" font-weight="normal" fill="#1a1a1a" stroke="#1a1a1a" stroke-width="0.12" >-5kb</text>
<text x="461.16" y="546.30" font-size="9.4" text-anchor="middle" font-weight="normal" fill="#1a1a1a" stroke="#1a1a1a" stroke-width="0.12" >CpGI</text>
<text x="512.20" y="546.30" font-size="9.4" text-anchor="end" font-weight="normal" fill="#1a1a1a" stroke="#1a1a1a" stroke-width="0.12" >5kb</text>
<polyline transform="translate(527.90 462.30) scale(0.15050 -0.06554)" vector-effect="non-scaling-stroke" points="0,681 1,663 2,639 3,705 4,698 5,724 6,665 7,703 8,691 9,712 10,739 11,655 12,664 13,689 14,735 15,718 16,724 17,716 18,708 19,662 20,703 21,734 22,677 23,698 24,703 25,632 26,685 27,681 28,669 29,734 30,662 31,708 32,679 33,727 34,734 35,660 36,682 37,708 38,706 39,736 40,712 41,700 42,718 43,690 44,634 45,641 46,695 47,723 48,701 49,723 50,708 51,667 52,690 53,704 54,688 55,699 56,672 57,704 58,655 59,719 60,660 61,666 62,680 63,674 64,678 65,735 66,683 67,662 68,695 69,739 70,696 71,688 72,680 73,712 74,707 75,710 76,723 77,674 78,660 79,701 80,715 81,728 82,679 83,639 84,731 85,689 86,668 87,632 88,717 89,685 90,672 91,698 92,698 93,688 94,672 95,646 96,654 97,699 98,687 99,711 100,669 101,668 102,718 103,705 104,642 105,644 106,690 107,660 108,653 109,721 110,685 111,652 112,698 113,680 114,696 115,696 116,751 117,660 118,694 119,727 120,713 121,678 122,630 123,675 124,690 125,652 126,690 127,742 128,691 129,704 130,688 131,707 132,653 133,671 134,641 135,680 136,689 137,628 138,714 139,711 140,696 141,665 142,678 143,701 144,685 145,695 146,660 147,746 148,698 149,717 150,700 151,702 152,704 153,714 154,711 155,697 156,723 157,717 158,655 159,689 160,707 161,725 162,694 163,675 164,690 165,687 166,696 167,707 168,665 169,675 170,640 171,707 172,637 173,706 174,683 175,670 176,627 177,683 178,675 179,638 180,717 181,712 182,734 183,699 184,654 185,696 186,691 187,679 188,676 189,672 190,633 191,690 192,703 193,674 194,704 195,681 196,714 197,688 198,651 199,727 200,696 201,701 202,686 203,725 204,659 205,685 206,727 207,640 208,667 209,690 210,680 211,726 212,663 213,705 214,656 215,675 216,701 217,685 218,678 219,628 220,692 221,673 222,695 223,663 224,672 225,608 226,649 227,671 228,659 229,675 230,672 231,658 232,684 233,670 234,599 235,679 236,635 237,611 238,680 239,669 240,614 241,653 242,635 243,605 244,556 245,633 246,591 247,559 248,612 249,548 250,546 251,562 252,599 253,570 254,496 255,515 256,565 257,522 258,522 259,500 260,471 261,532 262,467 263,467 264,432 265,437 266,477 267,453 268,467 269,464 270,408 271,434 272,407 273,417 274,424 275,384 276,416 277,399 278,429 279,430 280,403 281,359 282,357 283,416 284,335 285,377 286,316 287,319 288,373 289,326 290,303 291,343 292,344 293,384 294,311 295,306 296,349 297,331 298,374 299,297 300,306 301,321 302,329 303,346 304,279 305,330 306,336 307,354 308,381 309,326 310,297 311,311 312,276 313,316 314,297 315,347 316,321 317,359 318,265 319,349 320,336 321,289 322,327 323,310 324,306 325,271 326,319 327,347 328,282 329,375 330,334 331,314 332,316 333,300 334,332 335,332 336,292 337,300 338,284 339,341 340,350 341,294 342,335 343,312 344,313 345,302 346,293 347,351 348,335 349,323 350,305 351,326 352,299 353,326 354,350 355,285 356,343 357,324 358,372 359,277 360,319 361,296 362,305 363,363 364,353 365,285 366,299 367,360 368,319 369,310 370,338 371,331 372,311 373,303 374,346 375,318 376,341 377,326 378,375 379,378 380,319 381,305 382,323 383,372 384,320 385,342 386,241 387,345 388,315 389,385 390,292 391,332 392,343 393,362 394,370 395,349 396,336 397,328 398,317 399,357 400,346 401,371 402,361 403,356 404,356 405,394 406,348 407,393 408,332 409,358 410,403 411,343 412,360 413,412 414,400 415,423 416,387 417,406 418,389 419,397 420,464 421,464 422,432 423,449 424,460 425,432 426,473 427,499 428,469 429,511 430,480 431,518 432,514 433,506 434,528 435,521 436,540 437,546 438,567 439,537 440,562 441,601 442,590 443,612 444,573 445,582 446,643 447,567 448,622 449,601 450,648 451,596 452,626 453,621 454,603 455,668 456,620 457,625 458,620 459,627 460,651 461,692 462,685 463,669 464,622 465,701 466,651 467,693 468,691 469,646 470,643 471,707 472,639 473,651 474,704 475,648 476,665 477,697 478,720 479,654 480,673 481,700 482,703 483,699 484,695 485,694 486,714 487,702 488,680 489,637 490,693 491,674 492,701 493,622 494,704 495,676 496,646 497,694 498,658 499,670 500,707 501,677 502,716 503,685 504,667 505,660 506,716 507,649 508,642 509,664 510,680 511,674 512,726 513,655 514,695 515,650 516,692 517,680 518,659 519,686 520,636 521,666 522,651 523,720 524,653 525,728 526,674 527,716 528,663 529,674 530,703 531,628 532,680 533,632 534,690 535,669 536,711 537,726 538,709 539,696 540,632 541,686 542,683 543,712 544,709 545,674 546,669 547,692 548,650 549,694 550,692 551,688 552,653 553,700 554,654 555,707 556,689 557,702 558,721 559,679 560,704 561,622 562,678 563,671 564,625 565,704 566,690 567,655 568,695 569,659 570,691 571,654 572,653 573,714 574,669 575,715 576,711 577,728 578,697 579,664 580,690 581,709 582,735 583,669 584,713 585,653 586,674 587,672 588,667 589,691 590,681 591,631 592,706 593,682 594,712 595,702 596,662 597,630 598,671 599,666 600,697 601,682 602,678 603,666 604,669 605,662 606,677 607,729 608,735 609,697 610,637 611,704 612,669 613,704 614,691 615,669 616,700 617,683 618,686 619,679 620,684 621,694 622,685 623,656 624,726 625,704 626,728 627,717 628,708 629,677 630,721 631,669 632,632 633,671 634,667 635,727 636,680 637,723 638,650 639,670 640,702 641,653 642,687 643,629 644,617 645,711 646,725 647,678 648,662 649,688 650,660 651,670 652,680 653,675 654,665 655,621 656,638 657,654 658,694 659,666 660,679 661,677 662,685 663,637 664,680 665,647 666,696 667,674 668,643 669,658 670,667 671,655 672,652 673,711 674,726 675,727 676,713 677,678 678,698 679,669 680,730 681,639 682,706 683,710 684,641 685,643 686,650 687,643 688,622 689,653 690,677 691,633 692,660 693,679 694,705 695,677 696,702 697,682 698,647 699,655" fill="none" stroke="#1414ff" stroke-width="1.0"/>
<polyline transform="translate(527.90 462.30) scale(0.15050 -0.06554)" vector-effect="non-scaling-stroke" points="0,625 1,716 2,659 3,641 4,662 5,653 6,661 7,652 8,628 9,668 10,628 11,628 12,701 13,633 14,603 15,614 16,687 17,620 18,629 19,634 20,660 21,672 22,657 23,664 24,709 25,664 26,642 27,627 28,652 29,673 30,668 31,684 32,698 33,632 34,687 35,676 36,671 37,632 38,629 39,736 40,637 41,674 42,622 43,665 44,707 45,675 46,654 47,681 48,634 49,663 50,690 51,586 52,642 53,645 54,626 55,670 56,632 57,634 58,716 59,690 60,605 61,701 62,686 63,629 64,716 65,635 66,611 67,623 68,628 69,694 70,619 71,727 72,672 73,632 74,662 75,664 76,675 77,665 78,654 79,659 80,662 81,657 82,702 83,663 84,704 85,655 86,723 87,710 88,654 89,663 90,650 91,625 92,658 93,726 94,630 95,668 96,670 97,656 98,693 99,656 100,598 101,655 102,707 103,639 104,609 105,622 106,658 107,703 108,654 109,717 110,708 111,696 112,689 113,673 114,635 115,672 116,661 117,628 118,703 119,675 120,640 121,647 122,660 123,685 124,633 125,709 126,670 127,646 128,646 129,648 130,633 131,674 132,674 133,662 134,637 135,644 136,625 137,621 138,662 139,697 140,651 141,655 142,682 143,635 144,641 145,724 146,702 147,682 148,672 149,699 150,696 151,686 152,611 153,671 154,633 155,630 156,701 157,601 158,659 159,669 160,601 161,609 162,646 163,663 164,705 165,660 166,698 167,675 168,685 169,646 170,661 171,606 172,652 173,701 174,631 175,693 176,675 177,618 178,654 179,641 180,615 181,684 182,659 183,716 184,664 185,647 186,638 187,614 188,706 189,628 190,629 191,672 192,614 193,705 194,611 195,670 196,655 197,705 198,645 199,625 200,686 201,702 202,640 203,686 204,603 205,653 206,626 207,665 208,712 209,685 210,647 211,628 212,694 213,638 214,697 215,653 216,667 217,650 218,657 219,656 220,669 221,684 222,675 223,633 224,696 225,642 226,638 227,676 228,629 229,596 230,622 231,620 232,642 233,703 234,654 235,603 236,661 237,680 238,631 239,598 240,668 241,584 242,623 243,568 244,569 245,642 246,656 247,561 248,552 249,561 250,666 251,619 252,576 253,609 254,563 255,540 256,604 257,583 258,565 259,559 260,564 261,532 262,514 263,592 264,541 265,506 266,506 267,508 268,556 269,562 270,509 271,462 272,490 273,573 274,524 275,555 276,507 277,543 278,488 279,514 280,491 281,509 282,478 283,500 284,505 285,488 286,470 287,516 288,498 289,405 290,516 291,494 292,422 293,481 294,435 295,522 296,464 297,512 298,449 299,522 300,480 301,415 302,460 303,493 304,515 305,539 306,407 307,458 308,466 309,421 310,403 311,445 312,421 313,416 314,445 315,478 316,435 317,443 318,462 319,493 320,434 321,397 322,492 323,497 324,503 325,468 326,429 327,437 328,425 329,470 330,477 331,398 332,419 333,485 334,472 335,477 336,526 337,445 338,449 339,480 340,451 341,401 342,388 343,476 344,445 345,486 346,440 347,486 348,436 349,456 350,455 351,448 352,425 353,441 354,451 355,423 356,504 357,424 358,479 359,467 360,513 361,438 362,497 363,457 364,472 365,506 366,445 367,431 368,487 369,463 370,512 371,503 372,410 373,483 374,457 375,481 376,514 377,533 378,452 379,449 380,457 381,468 382,470 383,463 384,486 385,476 386,453 387,485 388,467 389,495 390,463 391,424 392,436 393,422 394,470 395,546 396,481 397,520 398,491 399,490 400,493 401,433 402,508 403,467 404,453 405,450 406,528 407,449 408,538 409,491 410,528 411,498 412,486 413,513 414,457 415,489 416,453 417,580 418,538 419,535 420,530 421,516 422,547 423,498 424,581 425,547 426,504 427,548 428,606 429,529 430,572 431,605 432,575 433,604 434,608 435,556 436,568 437,519 438,593 439,638 440,588 441,595 442,586 443,600 444,649 445,597 446,668 447,604 448,603 449,627 450,606 451,660 452,562 453,658 454,658 455,584 456,623 457,623 458,664 459,610 460,650 461,672 462,648 463,657 464,611 465,626 466,659 467,626 468,632 469,655 470,616 471,681 472,681 473,669 474,706 475,676 476,652 477,622 478,692 479,666 480,647 481,661 482,611 483,618 484,680 485,718 486,639 487,717 488,671 489,630 490,715 491,644 492,692 493,638 494,672 495,688 496,679 497,709 498,621 499,689 500,650 501,725 502,648 503,732 504,688 505,685 506,629 507,644 508,630 509,712 510,661 511,621 512,616 513,631 514,713 515,694 516,697 517,643 518,637 519,649 520,614 521,691 522,640 523,708 524,652 525,671 526,687 527,619 528,662 529,654 530,723 531,704 532,621 533,676 534,637 535,605 536,687 537,593 538,683 539,666 540,695 541,629 542,650 543,651 544,647 545,653 546,710 547,684 548,606 549,701 550,680 551,647 552,651 553,702 554,621 555,655 556,659 557,643 558,711 559,691 560,583 561,689 562,629 563,576 564,692 565,627 566,618 567,654 568,602 569,670 570,652 571,646 572,683 573,708 574,707 575,607 576,682 577,598 578,649 579,660 580,599 581,675 582,691 583,639 584,650 585,622 586,622 587,684 588,655 589,679 590,665 591,610 592,669 593,729 594,646 595,677 596,661 597,635 598,632 599,661 600,591 601,619 602,610 603,646 604,691 605,610 606,628 607,622 608,682 609,703 610,655 611,601 612,632 613,624 614,640 615,680 616,623 617,684 618,725 619,624 620,694 621,663 622,652 623,587 624,605 625,641 626,660 627,717 628,690 629,645 630,667 631,684 632,675 633,632 634,622 635,723 636,700 637,694 638,649 639,699 640,632 641,629 642,657 643,680 644,651 645,700 646,648 647,678 648,647 649,715 650,617 651,687 652,670 653,658 654,645 655,689 656,616 657,709 658,687 659,649 660,699 661,609 662,619 663,677 664,695 665,694 666,686 667,665 668,636 669,623 670,685 671,598 672,657 673,686 674,677 675,620 676,613 677,679 678,652 679,673 680,688 681,637 682,661 683,708 684,639 685,681 686,694 687,700 688,652 689,607 690,652 691,713 692,591 693,687 694,684 695,639 696,656 697,684 698,700 699,692" fill="none" stroke="#f00a1e" stroke-width="1.0"/>
<line x1="527.30" y1="396.40" x2="527.30" y2="463.10" stroke="#111" stroke-width="1.2" />
<line x1="526.80" y1="462.60" x2="633.10" y2="462.60" stroke="#111" stroke-width="1.25" />
<line x1="525.10" y1="462.30" x2="527.30" y2="462.30" stroke="#111" stroke-width="1.0" />
<line x1="525.10" y1="449.19" x2="527.30" y2="449.19" stroke="#111" stroke-width="1.0" />
<line x1="525.10" y1="436.08" x2="527.30" y2="436.08" stroke="#111" stroke-width="1.0" />
<line x1="525.10" y1="422.97" x2="527.30" y2="422.97" stroke="#111" stroke-width="1.0" />
<line x1="525.10" y1="409.86" x2="527.30" y2="409.86" stroke="#111" stroke-width="1.0" />
<line x1="525.10" y1="396.76" x2="527.30" y2="396.76" stroke="#111" stroke-width="1.0" />
<line x1="527.30" y1="462.60" x2="527.30" y2="465.20" stroke="#111" stroke-width="1.0" />
<line x1="571.84" y1="462.60" x2="571.84" y2="465.20" stroke="#111" stroke-width="1.0" />
<line x1="589.09" y1="462.60" x2="589.09" y2="465.20" stroke="#111" stroke-width="1.0" />
<line x1="633.10" y1="462.60" x2="633.10" y2="465.20" stroke="#111" stroke-width="1.0" />
<text x="580.20" y="401.70" font-size="9.2" text-anchor="middle" font-weight="normal" fill="#1a1a1a" stroke="#1a1a1a" stroke-width="0.12" >11964</text>
<polyline transform="translate(527.90 532.80) scale(0.15050 -0.06495)" vector-effect="non-scaling-stroke" points="0,675 1,676 2,678 3,681 4,701 5,660 6,715 7,674 8,710 9,727 10,649 11,672 12,632 13,670 14,681 15,670 16,677 17,654 18,712 19,711 20,710 21,712 22,691 23,651 24,658 25,686 26,668 27,704 28,697 29,694 30,723 31,666 32,662 33,691 34,682 35,680 36,670 37,628 38,667 39,677 40,641 41,689 42,704 43,682 44,718 45,685 46,731 47,682 48,674 49,697 50,702 51,691 52,687 53,627 54,668 55,679 56,681 57,699 58,662 59,732 60,729 61,679 62,700 63,617 64,677 65,652 66,700 67,674 68,658 69,675 70,668 71,651 72,652 73,671 74,647 75,716 76,723 77,692 78,719 79,673 80,694 81,656 82,641 83,650 84,714 85,695 86,680 87,693 88,719 89,700 90,673 91,653 92,707 93,651 94,708 95,681 96,679 97,695 98,701 99,698 100,674 101,684 102,713 103,699 104,673 105,722 106,670 107,683 108,665 109,712 110,690 111,732 112,664 113,687 114,735 115,678 116,627 117,701 118,670 119,618 120,680 121,687 122,648 123,679 124,694 125,652 126,665 127,716 128,718 129,711 130,649 131,638 132,656 133,695 134,708 135,668 136,687 137,684 138,721 139,682 140,694 141,695 142,690 143,723 144,650 145,624 146,648 147,670 148,704 149,678 150,688 151,617 152,701 153,684 154,685 155,683 156,665 157,653 158,634 159,662 160,679 161,669 162,704 163,647 164,699 165,664 166,664 167,708 168,666 169,672 170,673 171,659 172,681 173,720 174,654 175,682 176,680 177,672 178,699 179,711 180,636 181,682 182,656 183,655 184,654 185,661 186,657 187,659 188,685 189,710 190,717 191,679 192,657 193,712 194,702 195,699 196,704 197,656 198,715 199,657 200,668 201,686 202,628 203,670 204,678 205,686 206,622 207,680 208,660 209,673 210,677 211,681 212,705 213,688 214,641 215,662 216,644 217,630 218,687 219,613 220,650 221,601 222,648 223,643 224,652 225,630 226,605 227,671 228,701 229,687 230,602 231,612 232,656 233,713 234,665 235,627 236,643 237,634 238,643 239,554 240,641 241,618 242,611 243,604 244,622 245,584 246,579 247,535 248,594 249,539 250,555 251,548 252,519 253,547 254,538 255,499 256,474 257,518 258,458 259,502 260,541 261,469 262,451 263,426 264,496 265,485 266,440 267,421 268,461 269,473 270,443 271,411 272,429 273,389 274,395 275,401 276,370 277,437 278,382 279,364 280,395 281,405 282,404 283,348 284,329 285,368 286,374 287,312 288,295 289,399 290,365 291,290 292,297 293,325 294,336 295,330 296,356 297,338 298,330 299,337 300,322 301,326 302,358 303,324 304,376 305,330 306,367 307,330 308,344 309,289 310,364 311,308 312,349 313,323 314,329 315,286 316,303 317,329 318,328 319,284 320,279 321,266 322,282 323,329 324,319 325,333 326,280 327,347 328,304 329,304 330,326 331,314 332,284 333,273 334,279 335,337 336,324 337,312 338,343 339,334 340,333 341,322 342,349 343,347 344,325 345,245 346,281 347,345 348,304 349,309 350,287 351,332 352,280 353,293 354,345 355,314 356,291 357,361 358,326 359,340 360,304 361,325 362,311 363,278 364,309 365,294 366,328 367,349 368,291 369,300 370,312 371,305 372,304 373,310 374,303 375,292 376,287 377,280 378,355 379,327 380,349 381,310 382,315 383,335 384,338 385,280 386,307 387,354 388,318 389,315 390,316 391,321 392,317 393,352 394,293 395,328 396,363 397,370 398,355 399,353 400,335 401,288 402,322 403,383 404,300 405,340 406,390 407,313 408,358 409,402 410,376 411,330 412,362 413,383 414,348 415,425 416,373 417,418 418,358 419,381 420,444 421,434 422,401 423,455 424,398 425,435 426,442 427,456 428,488 429,473 430,479 431,501 432,492 433,447 434,493 435,487 436,499 437,509 438,506 439,537 440,553 441,528 442,565 443,537 444,620 445,580 446,570 447,586 448,583 449,603 450,622 451,572 452,579 453,597 454,642 455,567 456,616 457,637 458,670 459,583 460,673 461,673 462,601 463,676 464,595 465,648 466,631 467,665 468,628 469,675 470,614 471,693 472,666 473,655 474,656 475,664 476,660 477,641 478,676 479,715 480,619 481,670 482,619 483,648 484,623 485,704 486,669 487,665 488,634 489,690 490,670 491,704 492,697 493,663 494,692 495,688 496,695 497,673 498,709 499,684 500,667 501,657 502,677 503,670 504,720 505,631 506,644 507,661 508,630 509,660 510,703 511,676 512,700 513,619 514,675 515,654 516,654 517,679 518,638 519,701 520,696 521,692 522,690 523,708 524,652 525,710 526,651 527,621 528,677 529,637 530,704 531,684 532,632 533,626 534,681 535,675 536,687 537,707 538,676 539,667 540,670 541,699 542,675 543,708 544,653 545,718 546,711 547,687 548,637 549,669 550,665 551,674 552,712 553,681 554,643 555,667 556,731 557,685 558,667 559,658 560,719 561,677 562,693 563,669 564,651 565,662 566,662 567,752 568,654 569,670 570,710 571,675 572,661 573,667 574,691 575,699 576,656 577,649 578,634 579,697 580,678 581,688 582,661 583,692 584,687 585,688 586,709 587,678 588,630 589,679 590,652 591,666 592,658 593,651 594,660 595,672 596,676 597,631 598,656 599,672 600,707 601,662 602,681 603,680 604,680 605,660 606,712 607,722 608,659 609,677 610,708 611,710 612,683 613,682 614,638 615,699 616,639 617,636 618,685 619,634 620,672 621,663 622,686 623,688 624,629 625,659 626,669 627,703 628,637 629,683 630,674 631,699 632,661 633,683 634,711 635,722 636,651 637,689 638,619 639,701 640,758 641,621 642,679 643,690 644,665 645,671 646,677 647,709 648,623 649,704 650,630 651,706 652,643 653,705 654,674 655,671 656,658 657,682 658,714 659,698 660,635 661,624 662,681 663,696 664,642 665,684 666,726 667,688 668,668 669,622 670,715 671,704 672,682 673,651 674,655 675,673 676,689 677,639 678,671 679,670 680,646 681,711 682,702 683,651 684,689 685,692 686,708 687,614 688,668 689,691 690,666 691,704 692,678 693,657 694,675 695,698 696,673 697,677 698,695 699,674" fill="none" stroke="#1414ff" stroke-width="1.0"/>
<polyline transform="translate(527.90 532.80) scale(0.15050 -0.06495)" vector-effect="non-scaling-stroke" points="0,695 1,692 2,675 3,623 4,660 5,705 6,666 7,599 8,698 9,607 10,656 11,586 12,698 13,703 14,563 15,643 16,634 17,727 18,663 19,729 20,616 21,705 22,625 23,632 24,702 25,646 26,685 27,694 28,736 29,665 30,674 31,653 32,626 33,601 34,678 35,686 36,616 37,643 38,651 39,703 40,633 41,685 42,693 43,602 44,678 45,698 46,688 47,615 48,650 49,613 50,632 51,633 52,718 53,673 54,661 55,671 56,682 57,708 58,717 59,623 60,645 61,699 62,632 63,699 64,686 65,702 66,699 67,597 68,617 69,596 70,649 71,680 72,704 73,618 74,634 75,706 76,707 77,641 78,691 79,636 80,676 81,712 82,657 83,671 84,666 85,623 86,656 87,640 88,648 89,672 90,699 91,601 92,618 93,656 94,622 95,580 96,674 97,636 98,622 99,719 100,619 101,660 102,673 103,723 104,667 105,666 106,604 107,645 108,658 109,676 110,679 111,668 112,698 113,668 114,646 115,671 116,676 117,656 118,652 119,611 120,664 121,606 122,695 123,629 124,666 125,665 126,596 127,651 128,687 129,613 130,702 131,584 132,668 133,634 134,656 135,644 136,656 137,723 138,637 139,708 140,651 141,718 142,640 143,638 144,694 145,700 146,653 147,669 148,629 149,644 150,665 151,715 152,659 153,659 154,669 155,642 156,703 157,638 158,654 159,658 160,651 161,640 162,686 163,692 164,630 165,655 166,671 167,650 168,699 169,671 170,648 171,651 172,628 173,730 174,653 175,659 176,715 177,685 178,626 179,643 180,673 181,630 182,609 183,612 184,630 185,673 186,645 187,629 188,610 189,693 190,629 191,645 192,697 193,665 194,639 195,672 196,686 197,694 198,653 199,625 200,646 201,651 202,653 203,641 204,631 205,674 206,648 207,637 208,690 209,678 210,633 211,579 212,679 213,672 214,682 215,627 216,696 217,614 218,650 219,649 220,685 221,727 222,657 223,667 224,609 225,648 226,721 227,682 228,623 229,649 230,657 231,604 232,642 233,672 234,656 235,640 236,663 237,649 238,644 239,687 240,658 241,668 242,591 243,612 244,676 245,632 246,574 247,624 248,556 249,587 250,600 251,648 252,539 253,704 254,617 255,604 256,633 257,606 258,584 259,544 260,537 261,561 262,584 263,639 264,552 265,560 266,537 267,630 268,576 269,593 270,601 271,555 272,502 273,562 274,547 275,528 276,507 277,605 278,525 279,492 280,577 281,569 282,488 283,523 284,567 285,582 286,553 287,511 288,541 289,583 290,573 291,518 292,524 293,462 294,535 295,552 296,549 297,527 298,461 299,488 300,515 301,558 302,516 303,587 304,579 305,512 306,561 307,508 308,529 309,540 310,529 311,575 312,517 313,502 314,513 315,537 316,541 317,573 318,484 319,481 320,492 321,561 322,575 323,456 324,513 325,485 326,544 327,542 328,558 329,493 330,462 331,470 332,552 333,475 334,584 335,524 336,513 337,497 338,458 339,523 340,520 341,524 342,501 343,470 344,496 345,572 346,475 347,444 348,475 349,470 350,530 351,515 352,540 353,505 354,549 355,536 356,493 357,507 358,544 359,512 360,472 361,445 362,517 363,537 364,538 365,492 366,532 367,493 368,548 369,455 370,533 371,470 372,470 373,541 374,478 375,564 376,520 377,513 378,557 379,508 380,501 381,558 382,502 383,460 384,540 385,518 386,539 387,482 388,516 389,549 390,509 391,560 392,542 393,500 394,541 395,582 396,582 397,537 398,486 399,530 400,457 401,522 402,585 403,531 404,529 405,614 406,512 407,532 408,576 409,534 410,501 411,590 412,559 413,517 414,519 415,559 416,587 417,597 418,598 419,563 420,522 421,564 422,597 423,548 424,536 425,563 426,513 427,671 428,597 429,584 430,625 431,552 432,527 433,607 434,574 435,592 436,603 437,615 438,643 439,637 440,646 441,581 442,649 443,579 444,617 445,631 446,610 447,650 448,621 449,649 450,688 451,584 452,609 453,619 454,641 455,684 456,577 457,703 458,718 459,649 460,638 461,646 462,692 463,588 464,642 465,644 466,625 467,689 468,631 469,635 470,694 471,699 472,677 473,682 474,689 475,612 476,646 477,587 478,680 479,663 480,648 481,676 482,645 483,669 484,571 485,651 486,637 487,597 488,620 489,662 490,633 491,682 492,628 493,696 494,592 495,611 496,685 497,623 498,687 499,659 500,678 501,677 502,643 503,631 504,695 505,647 506,673 507,682 508,589 509,661 510,661 511,621 512,597 513,690 514,678 515,673 516,660 517,729 518,687 519,652 520,625 521,609 522,665 523,681 524,644 525,657 526,670 527,607 528,598 529,665 530,669 531,650 532,690 533,651 534,614 535,648 536,674 537,587 538,671 539,682 540,703 541,628 542,634 543,691 544,667 545,676 546,708 547,643 548,668 549,708 550,669 551,671 552,692 553,721 554,654 555,651 556,661 557,718 558,678 559,665 560,641 561,663 562,706 563,644 564,708 565,640 566,707 567,699 568,656 569,664 570,636 571,605 572,687 573,696 574,666 575,709 576,670 577,662 578,674 579,659 580,651 581,646 582,637 583,664 584,622 585,671 586,694 587,649 588,671 589,652 590,649 591,701 592,598 593,694 594,659 595,666 596,632 597,702 598,659 599,710 600,647 601,687 602,678 603,605 604,691 605,632 606,658 607,652 608,685 609,599 610,698 611,662 612,672 613,646 614,642 615,684 616,604 617,685 618,688 619,694 620,626 621,603 622,707 623,678 624,625 625,674 626,638 627,628 628,634 629,710 630,727 631,657 632,682 633,621 634,635 635,696 636,701 637,672 638,686 639,633 640,590 641,721 642,683 643,671 644,634 645,668 646,661 647,707 648,629 649,642 650,641 651,652 652,650 653,613 654,635 655,675 656,691 657,635 658,649 659,687 660,684 661,672 662,707 663,679 664,656 665,720 666,632 667,682 668,687 669,616 670,653 671,657 672,619 673,637 674,639 675,690 676,650 677,656 678,657 679,664 680,688 681,628 682,690 683,670 684,652 685,624 686,604 687,651 688,704 689,671 690,622 691,630 692,655 693,665 694,651 695,723 696,661 697,663 698,665 699,697" fill="none" stroke="#f00a1e" stroke-width="1.0"/>
<line x1="527.30" y1="467.50" x2="527.30" y2="533.60" stroke="#111" stroke-width="1.2" />
<line x1="526.80" y1="533.10" x2="633.10" y2="533.10" stroke="#111" stroke-width="1.25" />
<line x1="525.10" y1="532.80" x2="527.30" y2="532.80" stroke="#111" stroke-width="1.0" />
<line x1="525.10" y1="519.81" x2="527.30" y2="519.81" stroke="#111" stroke-width="1.0" />
<line x1="525.10" y1="506.82" x2="527.30" y2="506.82" stroke="#111" stroke-width="1.0" />
<line x1="525.10" y1="493.83" x2="527.30" y2="493.83" stroke="#111" stroke-width="1.0" />
<line x1="525.10" y1="480.84" x2="527.30" y2="480.84" stroke="#111" stroke-width="1.0" />
<line x1="525.10" y1="467.85" x2="527.30" y2="467.85" stroke="#111" stroke-width="1.0" />
<line x1="527.30" y1="533.10" x2="527.30" y2="535.70" stroke="#111" stroke-width="1.0" />
<line x1="571.84" y1="533.10" x2="571.84" y2="535.70" stroke="#111" stroke-width="1.0" />
<line x1="589.09" y1="533.10" x2="589.09" y2="535.70" stroke="#111" stroke-width="1.0" />
<line x1="633.10" y1="533.10" x2="633.10" y2="535.70" stroke="#111" stroke-width="1.0" />
<text x="528.10" y="546.30" font-size="9.4" text-anchor="start" font-weight="normal" fill="#1a1a1a" stroke="#1a1a1a" stroke-width="0.12" >-5kb</text>
<text x="581.26" y="546.30" font-size="9.4" text-anchor="middle" font-weight="normal" fill="#1a1a1a" stroke="#1a1a1a" stroke-width="0.12" >CpGI</text>
<text x="632.30" y="546.30" font-size="9.4" text-anchor="end" font-weight="normal" fill="#1a1a1a" stroke="#1a1a1a" stroke-width="0.12" >5kb</text>
<rect x="650.30" y="397.40" width="25.50" height="65.90" fill="#efefef" stroke="#cfcfcf" stroke-width="0.8"/>
<text x="663.05" y="431.90" font-size="9.4" text-anchor="middle" fill="#1a1a1a" stroke="#1a1a1a" stroke-width="0.12" transform="rotate(90 663.05 431.90)" dy="3.2">proband</text>
<rect x="650.30" y="466.00" width="25.50" height="66.70" fill="#efefef" stroke="#cfcfcf" stroke-width="0.8"/>
<text x="663.05" y="498.00" font-size="9.4" text-anchor="middle" fill="#1a1a1a" stroke="#1a1a1a" stroke-width="0.12" transform="rotate(90 663.05 498.00)" dy="3.2">sibling</text>
<polyline transform="translate(47.40 631.50) scale(0.15107 -0.06604)" vector-effect="non-scaling-stroke" points="0,707 1,680 2,615 3,682 4,674 5,593 6,631 7,624 8,604 9,655 10,680 11,620 12,687 13,685 14,640 15,657 16,647 17,659 18,640 19,666 20,642 21,611 22,668 23,659 24,659 25,640 26,626 27,600 28,647 29,676 30,695 31,668 32,675 33,608 34,676 35,690 36,677 37,647 38,691 39,681 40,660 41,654 42,660 43,646 44,596 45,600 46,659 47,645 48,628 49,614 50,651 51,628 52,624 53,686 54,630 55,625 56,650 57,637 58,629 59,669 60,646 61,649 62,607 63,592 64,643 65,649 66,630 67,631 68,651 69,606 70,680 71,671 72,628 73,649 74,638 75,594 76,679 77,677 78,666 79,655 80,667 81,601 82,633 83,663 84,646 85,615 86,621 87,636 88,677 89,652 90,633 91,609 92,594 93,652 94,682 95,670 96,678 97,688 98,593 99,664 100,675 101,643 102,604 103,631 104,641 105,643 106,646 107,629 108,705 109,644 110,638 111,637 112,676 113,696 114,650 115,663 116,615 117,648 118,626 119,650 120,644 121,672 122,635 123,651 124,683 125,594 126,609 127,650 128,681 129,641 130,651 131,669 132,629 133,644 134,667 135,639 136,669 137,642 138,654 139,649 140,678 141,668 142,632 143,633 144,632 145,662 146,681 147,661 148,664 149,676 150,605 151,695 152,634 153,683 154,691 155,645 156,649 157,624 158,624 159,687 160,593 161,681 162,677 163,694 164,682 165,695 166,670 167,671 168,655 169,627 170,591 171,610 172,697 173,664 174,635 175,656 176,654 177,639 178,636 179,667 180,629 181,651 182,631 183,662 184,678 185,631 186,658 187,678 188,626 189,682 190,627 191,615 192,644 193,615 194,659 195,635 196,697 197,664 198,659 199,678 200,624 201,607 202,638 203,641 204,640 205,680 206,647 207,696 208,593 209,620 210,622 211,643 212,617 213,625 214,657 215,647 216,638 217,682 218,621 219,643 220,653 221,624 222,666 223,633 224,661 225,647 226,661 227,658 228,592 229,610 230,614 231,614 232,611 233,651 234,628 235,651 236,593 237,605 238,634 239,624 240,598 241,573 242,607 243,593 244,574 245,555 246,556 247,547 248,592 249,515 250,562 251,563 252,584 253,550 254,551 255,558 256,470 257,543 258,509 259,494 260,553 261,514 262,468 263,499 264,508 265,538 266,479 267,429 268,472 269,480 270,450 271,416 272,429 273,458 274,460 275,444 276,405 277,407 278,418 279,435 280,375 281,452 282,462 283,399 284,420 285,421 286,384 287,403 288,426 289,424 290,416 291,450 292,371 293,434 294,369 295,344 296,340 297,369 298,408 299,410 300,395 301,398 302,387 303,414 304,375 305,398 306,370 307,420 308,361 309,380 310,424 311,375 312,361 313,415 314,369 315,379 316,399 317,352 318,365 319,363 320,347 321,373 322,349 323,397 324,398 325,375 326,419 327,417 328,381 329,418 330,366 331,409 332,417 333,419 334,359 335,380 336,422 337,346 338,390 339,421 340,379 341,383 342,341 343,421 344,377 345,348 346,386 347,432 348,407 349,387 350,394 351,434 352,400 353,397 354,338 355,407 356,394 357,371 358,411 359,406 360,417 361,391 362,352 363,418 364,333 365,385 366,419 367,373 368,406 369,357 370,369 371,389 372,377 373,386 374,350 375,357 376,386 377,361 378,368 379,429 380,395 381,367 382,424 383,395 384,397 385,349 386,342 387,387 388,405 389,384 390,412 391,407 392,407 393,402 394,393 395,413 396,441 397,406 398,365 399,392 400,421 401,409 402,372 403,422 404,437 405,403 406,371 407,420 408,395 409,471 410,458 411,433 412,459 413,381 414,445 415,468 416,432 417,439 418,449 419,501 420,416 421,487 422,453 423,464 424,522 425,500 426,546 427,531 428,516 429,493 430,519 431,530 432,533 433,557 434,499 435,556 436,563 437,575 438,594 439,600 440,528 441,579 442,534 443,540 444,565 445,631 446,551 447,557 448,583 449,580 450,596 451,602 452,569 453,637 454,623 455,627 456,639 457,623 458,588 459,636 460,621 461,606 462,564 463,659 464,615 465,565 466,646 467,626 468,678 469,610 470,631 471,618 472,633 473,681 474,626 475,687 476,644 477,647 478,607 479,618 480,618 481,638 482,648 483,598 484,665 485,602 486,662 487,649 488,636 489,632 490,632 491,641 492,671 493,643 494,654 495,655 496,643 497,596 498,667 499,664 500,694 501,621 502,613 503,684 504,674 505,601 506,668 507,637 508,584 509,631 510,676 511,658 512,615 513,651 514,630 515,607 516,675 517,662 518,648 519,644 520,637 521,701 522,612 523,669 524,633 525,684 526,640 527,626 528,614 529,655 530,650 531,647 532,641 533,632 534,650 535,667 536,633 537,626 538,684 539,677 540,635 541,665 542,660 543,633 544,647 545,643 546,618 547,637 548,650 549,661 550,643 551,626 552,666 553,657 554,645 555,591 556,654 557,617 558,625 559,658 560,620 561,701 562,646 563,631 564,627 565,676 566,654 567,649 568,676 569,680 570,695 571,660 572,649 573,690 574,594 575,619 576,614 577,614 578,639 579,657 580,680 581,604 582,602 583,672 584,644 585,619 586,693 587,655 588,668 589,600 590,647 591,629 592,627 593,603 594,695 595,628 596,661 597,603 598,656 599,616 600,631 601,618 602,645 603,634 604,664 605,595 606,596 607,688 608,643 609,680 610,652 611,605 612,599 613,587 614,652 615,607 616,681 617,613 618,640 619,627 620,663 621,637 622,647 623,602 624,654 625,633 626,609 627,648 628,666 629,595 630,642 631,697 632,629 633,630 634,669 635,648 636,641 637,624 638,650 639,681 640,631 641,609 642,660 643,681 644,664 645,674 646,653 647,659 648,619 649,621 650,686 651,657 652,617 653,649 654,643 655,681 656,639 657,646 658,625 659,626 660,681 661,653 662,575 663,670 664,652 665,668 666,647 667,647 668,657 669,693 670,661 671,637 672,642 673,697 674,631 675,651 676,661 677,632 678,647 679,657 680,661 681,605 682,657 683,680 684,662 685,605 686,686 687,685 688,693 689,605 690,608 691,661 692,644 693,622 694,607 695,662 696,641 697,632 698,628 699,632" fill="none" stroke="#1414ff" stroke-width="1.0"/>
<polyline transform="translate(47.40 631.50) scale(0.15107 -0.06604)" vector-effect="non-scaling-stroke" points="0,665 1,626 2,668 3,654 4,689 5,645 6,649 7,664 8,682 9,647 10,669 11,692 12,660 13,591 14,666 15,580 16,655 17,661 18,666 19,684 20,620 21,627 22,656 23,642 24,661 25,661 26,624 27,636 28,690 29,628 30,606 31,685 32,663 33,659 34,664 35,644 36,643 37,614 38,642 39,631 40,614 41,658 42,585 43,593 44,659 45,683 46,680 47,623 48,657 49,720 50,602 51,660 52,618 53,635 54,641 55,636 56,669 57,680 58,610 59,651 60,618 61,636 62,658 63,593 64,682 65,648 66,673 67,654 68,605 69,662 70,616 71,644 72,660 73,589 74,643 75,598 76,659 77,650 78,626 79,612 80,629 81,673 82,654 83,599 84,637 85,648 86,694 87,598 88,704 89,680 90,663 91,658 92,676 93,702 94,676 95,644 96,672 97,703 98,613 99,650 100,651 101,663 102,678 103,687 104,660 105,576 106,624 107,651 108,659 109,626 110,636 111,710 112,655 113,623 114,619 115,680 116,637 117,678 118,618 119,662 120,666 121,646 122,638 123,687 124,624 125,666 126,654 127,631 128,647 129,656 130,681 131,633 132,640 133,693 134,702 135,662 136,675 137,628 138,668 139,688 140,635 141,628 142,646 143,696 144,618 145,696 146,606 147,686 148,655 149,650 150,663 151,697 152,608 153,597 154,668 155,594 156,705 157,658 158,630 159,672 160,637 161,700 162,644 163,632 164,682 165,664 166,635 167,598 168,631 169,652 170,664 171,679 172,671 173,629 174,625 175,670 176,615 177,576 178,631 179,604 180,641 181,665 182,669 183,647 184,659 185,650 186,641 187,621 188,646 189,655 190,641 191,587 192,653 193,661 194,657 195,637 196,705 197,690 198,669 199,584 200,611 201,656 202,596 203,597 204,699 205,660 206,661 207,639 208,637 209,659 210,639 211,671 212,668 213,703 214,696 215,652 216,674 217,649 218,672 219,649 220,614 221,609 222,577 223,624 224,580 225,675 226,653 227,610 228,656 229,600 230,601 231,655 232,601 233,627 234,570 235,620 236,642 237,576 238,617 239,587 240,591 241,620 242,606 243,655 244,587 245,585 246,593 247,553 248,564 249,582 250,546 251,561 252,556 253,532 254,560 255,538 256,582 257,541 258,552 259,553 260,489 261,569 262,554 263,498 264,559 265,513 266,494 267,481 268,508 269,492 270,500 271,461 272,446 273,485 274,475 275,509 276,441 277,445 278,487 279,470 280,516 281,468 282,457 283,426 284,474 285,479 286,518 287,424 288,500 289,422 290,438 291,495 292,494 293,384 294,475 295,365 296,395 297,463 298,447 299,420 300,411 301,367 302,425 303,415 304,452 305,418 306,452 307,389 308,400 309,470 310,371 311,449 312,418 313,388 314,358 315,398 316,353 317,405 318,470 319,395 320,429 321,397 322,425 323,395 324,398 325,380 326,410 327,402 328,455 329,417 330,426 331,417 332,404 333,385 334,435 335,389 336,393 337,429 338,372 339,451 340,415 341,393 342,471 343,414 344,484 345,358 346,453 347,394 348,428 349,383 350,400 351,427 352,391 353,431 354,414 355,386 356,421 357,487 358,453 359,410 360,398 361,410 362,444 363,459 364,418 365,424 366,400 367,398 368,401 369,380 370,402 371,433 372,364 373,422 374,482 375,453 376,367 377,485 378,418 379,392 380,451 381,465 382,427 383,440 384,411 385,460 386,475 387,466 388,460 389,462 390,421 391,446 392,437 393,424 394,487 395,488 396,486 397,463 398,444 399,445 400,449 401,400 402,395 403,430 404,420 405,513 406,423 407,408 408,499 409,426 410,449 411,407 412,466 413,493 414,443 415,441 416,473 417,477 418,467 419,436 420,450 421,501 422,440 423,433 424,563 425,509 426,510 427,463 428,462 429,552 430,554 431,492 432,553 433,541 434,483 435,555 436,521 437,568 438,507 439,573 440,553 441,618 442,567 443,510 444,658 445,553 446,649 447,540 448,626 449,601 450,671 451,653 452,575 453,602 454,664 455,623 456,654 457,661 458,654 459,585 460,625 461,573 462,610 463,683 464,653 465,684 466,606 467,619 468,634 469,611 470,594 471,643 472,600 473,664 474,674 475,648 476,601 477,661 478,603 479,610 480,635 481,680 482,624 483,602 484,616 485,610 486,658 487,661 488,701 489,590 490,679 491,635 492,658 493,589 494,662 495,632 496,656 497,697 498,604 499,614 500,582 501,603 502,677 503,633 504,600 505,643 506,595 507,666 508,680 509,645 510,702 511,585 512,603 513,672 514,658 515,616 516,590 517,647 518,608 519,650 520,664 521,639 522,628 523,673 524,614 525,597 526,632 527,672 528,621 529,663 530,678 531,598 532,639 533,639 534,645 535,587 536,640 537,621 538,662 539,648 540,673 541,637 542,599 543,584 544,576 545,603 546,638 547,647 548,672 549,630 550,601 551,626 552,644 553,652 554,594 555,626 556,602 557,699 558,620 559,601 560,695 561,662 562,689 563,654 564,628 565,588 566,606 567,627 568,595 569,673 570,647 571,643 572,652 573,609 574,600 575,662 576,676 577,638 578,583 579,597 580,708 581,658 582,626 583,615 584,651 585,639 586,615 587,650 588,583 589,673 590,599 591,640 592,615 593,621 594,658 595,711 596,611 597,597 598,603 599,674 600,568 601,641 602,664 603,657 604,647 605,638 606,672 607,621 608,637 609,657 610,665 611,661 612,622 613,602 614,699 615,652 616,613 617,662 618,639 619,608 620,665 621,624 622,675 623,696 624,709 625,641 626,583 627,652 628,708 629,595 630,667 631,624 632,627 633,619 634,651 635,672 636,638 637,633 638,653 639,631 640,622 641,646 642,697 643,627 644,628 645,636 646,679 647,655 648,695 649,641 650,695 651,627 652,610 653,598 654,623 655,663 656,611 657,610 658,588 659,680 660,611 661,644 662,664 663,593 664,639 665,660 666,638 667,645 668,610 669,626 670,664 671,625 672,696 673,645 674,620 675,630 676,617 677,691 678,657 679,583 680,683 681,615 682,683 683,605 684,658 685,677 686,676 687,671 688,581 689,599 690,597 691,658 692,672 693,641 694,626 695,672 696,647 697,666 698,695 699,666" fill="none" stroke="#f00a1e" stroke-width="1.0"/>
<line x1="46.80" y1="565.10" x2="46.80" y2="632.30" stroke="#111" stroke-width="1.2" />
<line x1="46.30" y1="631.80" x2="153.00" y2="631.80" stroke="#111" stroke-width="1.25" />
<line x1="44.60" y1="631.50" x2="46.80" y2="631.50" stroke="#111" stroke-width="1.0" />
<text x="43.20" y="634.40" font-size="8.2" text-anchor="end" font-weight="normal" fill="#222" stroke="#222" stroke-width="0.12" >0</text>
<line x1="44.60" y1="618.29" x2="46.80" y2="618.29" stroke="#111" stroke-width="1.0" />
<line x1="44.60" y1="605.08" x2="46.80" y2="605.08" stroke="#111" stroke-width="1.0" />
<text x="43.20" y="607.98" font-size="8.2" text-anchor="end" font-weight="normal" fill="#222" stroke="#222" stroke-width="0.12" >40</text>
<line x1="44.60" y1="591.88" x2="46.80" y2="591.88" stroke="#111" stroke-width="1.0" />
<line x1="44.60" y1="578.67" x2="46.80" y2="578.67" stroke="#111" stroke-width="1.0" />
<text x="43.20" y="581.57" font-size="8.2" text-anchor="end" font-weight="normal" fill="#222" stroke="#222" stroke-width="0.12" >80</text>
<line x1="44.60" y1="565.46" x2="46.80" y2="565.46" stroke="#111" stroke-width="1.0" />
<line x1="46.80" y1="631.80" x2="46.80" y2="634.40" stroke="#111" stroke-width="1.0" />
<line x1="91.51" y1="631.80" x2="91.51" y2="634.40" stroke="#111" stroke-width="1.0" />
<line x1="108.82" y1="631.80" x2="108.82" y2="634.40" stroke="#111" stroke-width="1.0" />
<line x1="153.00" y1="631.80" x2="153.00" y2="634.40" stroke="#111" stroke-width="1.0" />
<text x="99.90" y="571.60" font-size="9.2" text-anchor="middle" font-weight="normal" fill="#1a1a1a" stroke="#1a1a1a" stroke-width="0.12" >12832</text>
<polyline transform="translate(47.40 702.40) scale(0.15107 -0.06535)" vector-effect="non-scaling-stroke" points="0,622 1,672 2,701 3,665 4,705 5,635 6,636 7,660 8,613 9,680 10,705 11,595 12,685 13,675 14,699 15,648 16,650 17,650 18,670 19,634 20,641 21,672 22,619 23,675 24,650 25,638 26,696 27,662 28,636 29,642 30,628 31,684 32,680 33,685 34,627 35,682 36,656 37,622 38,652 39,670 40,637 41,651 42,677 43,636 44,645 45,636 46,664 47,696 48,633 49,690 50,648 51,688 52,641 53,615 54,673 55,644 56,658 57,602 58,614 59,662 60,705 61,641 62,670 63,631 64,639 65,614 66,647 67,644 68,638 69,619 70,641 71,647 72,620 73,644 74,606 75,645 76,645 77,639 78,662 79,662 80,643 81,685 82,613 83,656 84,680 85,654 86,652 87,649 88,672 89,623 90,656 91,670 92,655 93,661 94,644 95,669 96,650 97,666 98,619 99,645 100,652 101,629 102,653 103,651 104,601 105,689 106,675 107,707 108,638 109,668 110,644 111,641 112,669 113,666 114,640 115,630 116,656 117,645 118,666 119,635 120,619 121,629 122,646 123,605 124,694 125,658 126,686 127,629 128,635 129,682 130,693 131,660 132,657 133,669 134,682 135,591 136,610 137,627 138,661 139,695 140,631 141,634 142,623 143,640 144,619 145,608 146,618 147,645 148,655 149,653 150,608 151,662 152,619 153,685 154,675 155,630 156,632 157,659 158,636 159,634 160,646 161,632 162,642 163,696 164,663 165,665 166,614 167,636 168,651 169,660 170,653 171,674 172,616 173,658 174,689 175,635 176,617 177,646 178,641 179,593 180,603 181,621 182,685 183,621 184,686 185,633 186,644 187,670 188,641 189,670 190,670 191,646 192,687 193,686 194,652 195,666 196,625 197,634 198,658 199,674 200,640 201,653 202,591 203,603 204,645 205,660 206,651 207,636 208,650 209,672 210,628 211,691 212,639 213,638 214,637 215,621 216,609 217,663 218,645 219,588 220,661 221,594 222,660 223,613 224,614 225,624 226,645 227,674 228,578 229,619 230,597 231,625 232,587 233,603 234,604 235,623 236,571 237,578 238,579 239,607 240,597 241,579 242,552 243,619 244,520 245,594 246,525 247,558 248,523 249,522 250,521 251,566 252,521 253,504 254,496 255,447 256,483 257,527 258,519 259,535 260,461 261,459 262,454 263,453 264,460 265,431 266,478 267,400 268,458 269,448 270,418 271,406 272,408 273,392 274,350 275,375 276,432 277,349 278,385 279,362 280,370 281,363 282,365 283,332 284,330 285,384 286,336 287,353 288,310 289,331 290,374 291,367 292,367 293,336 294,296 295,351 296,350 297,279 298,308 299,350 300,306 301,285 302,322 303,361 304,288 305,311 306,301 307,306 308,350 309,279 310,355 311,332 312,324 313,302 314,334 315,335 316,266 317,297 318,304 319,285 320,281 321,299 322,282 323,291 324,305 325,267 326,336 327,317 328,324 329,315 330,314 331,282 332,312 333,276 334,321 335,316 336,274 337,296 338,290 339,282 340,282 341,275 342,330 343,300 344,280 345,295 346,293 347,314 348,275 349,280 350,347 351,331 352,258 353,274 354,341 355,245 356,270 357,345 358,313 359,345 360,324 361,321 362,306 363,320 364,272 365,250 366,310 367,312 368,309 369,305 370,301 371,278 372,301 373,305 374,303 375,302 376,299 377,275 378,331 379,292 380,328 381,284 382,270 383,295 384,336 385,289 386,374 387,299 388,318 389,323 390,337 391,356 392,325 393,348 394,354 395,368 396,318 397,269 398,327 399,321 400,331 401,367 402,323 403,313 404,339 405,330 406,370 407,336 408,357 409,372 410,386 411,378 412,375 413,383 414,358 415,406 416,367 417,387 418,378 419,415 420,387 421,421 422,417 423,455 424,384 425,453 426,393 427,404 428,413 429,429 430,465 431,445 432,444 433,477 434,507 435,464 436,492 437,553 438,490 439,546 440,468 441,578 442,568 443,540 444,551 445,531 446,557 447,580 448,583 449,575 450,581 451,600 452,595 453,586 454,557 455,597 456,596 457,556 458,558 459,629 460,608 461,631 462,590 463,614 464,611 465,587 466,602 467,642 468,623 469,660 470,591 471,649 472,625 473,680 474,587 475,636 476,612 477,589 478,638 479,626 480,593 481,654 482,657 483,611 484,601 485,631 486,653 487,620 488,615 489,621 490,670 491,592 492,626 493,682 494,675 495,649 496,637 497,667 498,596 499,627 500,617 501,600 502,652 503,589 504,643 505,619 506,651 507,606 508,625 509,597 510,603 511,660 512,636 513,648 514,672 515,661 516,604 517,643 518,638 519,627 520,598 521,603 522,669 523,649 524,621 525,668 526,661 527,664 528,671 529,627 530,644 531,614 532,666 533,632 534,671 535,627 536,673 537,626 538,619 539,653 540,634 541,644 542,611 543,613 544,609 545,678 546,644 547,622 548,667 549,671 550,602 551,658 552,648 553,687 554,693 555,676 556,587 557,647 558,611 559,593 560,695 561,670 562,627 563,626 564,649 565,621 566,633 567,640 568,663 569,591 570,614 571,601 572,665 573,678 574,610 575,647 576,633 577,640 578,640 579,621 580,615 581,603 582,663 583,663 584,659 585,611 586,633 587,599 588,660 589,645 590,632 591,616 592,628 593,637 594,681 595,615 596,644 597,651 598,594 599,639 600,646 601,652 602,644 603,616 604,610 605,614 606,615 607,624 608,615 609,610 610,663 611,620 612,617 613,644 614,604 615,624 616,629 617,594 618,601 619,626 620,596 621,612 622,592 623,669 624,691 625,588 626,615 627,597 628,639 629,622 630,595 631,639 632,676 633,657 634,607 635,686 636,639 637,629 638,666 639,630 640,685 641,615 642,659 643,623 644,654 645,634 646,681 647,595 648,639 649,701 650,671 651,677 652,605 653,654 654,652 655,618 656,618 657,642 658,641 659,624 660,652 661,658 662,620 663,627 664,617 665,619 666,677 667,670 668,615 669,645 670,686 671,653 672,619 673,586 674,635 675,600 676,620 677,623 678,644 679,614 680,610 681,673 682,627 683,665 684,677 685,628 686,687 687,667 688,682 689,655 690,612 691,616 692,642 693,582 694,631 695,676 696,601 697,644 698,658 699,609" fill="none" stroke="#1414ff" stroke-width="1.0"/>
<polyline transform="translate(47.40 702.40) scale(0.15107 -0.06535)" vector-effect="non-scaling-stroke" points="0,634 1,686 2,651 3,629 4,620 5,656 6,689 7,637 8,621 9,611 10,651 11,670 12,640 13,625 14,696 15,646 16,599 17,692 18,680 19,611 20,681 21,682 22,611 23,695 24,666 25,568 26,652 27,661 28,573 29,715 30,702 31,652 32,567 33,674 34,632 35,611 36,662 37,660 38,664 39,659 40,606 41,585 42,642 43,586 44,640 45,649 46,626 47,563 48,608 49,632 50,645 51,699 52,614 53,703 54,636 55,698 56,635 57,631 58,588 59,626 60,609 61,690 62,639 63,589 64,614 65,648 66,595 67,648 68,639 69,648 70,604 71,633 72,599 73,642 74,650 75,655 76,652 77,631 78,590 79,642 80,679 81,702 82,657 83,672 84,666 85,685 86,672 87,615 88,628 89,627 90,577 91,663 92,644 93,629 94,700 95,674 96,634 97,647 98,640 99,703 100,645 101,631 102,671 103,577 104,658 105,664 106,695 107,644 108,675 109,655 110,597 111,616 112,632 113,618 114,663 115,674 116,694 117,633 118,642 119,605 120,603 121,642 122,711 123,676 124,658 125,670 126,576 127,632 128,612 129,637 130,703 131,695 132,694 133,623 134,608 135,610 136,653 137,637 138,642 139,594 140,638 141,642 142,630 143,675 144,642 145,604 146,623 147,621 148,587 149,667 150,664 151,643 152,654 153,632 154,635 155,648 156,626 157,588 158,621 159,567 160,575 161,668 162,620 163,706 164,646 165,702 166,603 167,592 168,666 169,574 170,606 171,613 172,615 173,695 174,642 175,597 176,576 177,680 178,624 179,662 180,591 181,656 182,644 183,626 184,659 185,652 186,680 187,675 188,680 189,662 190,584 191,660 192,623 193,672 194,628 195,610 196,670 197,641 198,616 199,680 200,661 201,658 202,582 203,625 204,605 205,651 206,656 207,634 208,593 209,636 210,633 211,604 212,606 213,592 214,669 215,650 216,627 217,574 218,659 219,601 220,621 221,657 222,584 223,646 224,640 225,641 226,632 227,569 228,624 229,564 230,656 231,654 232,683 233,631 234,609 235,649 236,646 237,671 238,611 239,674 240,590 241,634 242,652 243,657 244,653 245,644 246,644 247,634 248,631 249,646 250,606 251,584 252,570 253,594 254,618 255,642 256,615 257,644 258,598 259,649 260,608 261,614 262,628 263,645 264,599 265,571 266,615 267,579 268,601 269,569 270,625 271,629 272,607 273,664 274,565 275,583 276,622 277,634 278,615 279,617 280,591 281,598 282,556 283,622 284,589 285,642 286,574 287,614 288,615 289,633 290,619 291,594 292,540 293,597 294,585 295,559 296,631 297,549 298,637 299,610 300,571 301,586 302,603 303,614 304,566 305,551 306,610 307,589 308,588 309,648 310,592 311,575 312,580 313,616 314,593 315,619 316,577 317,649 318,602 319,554 320,542 321,579 322,583 323,596 324,585 325,652 326,525 327,609 328,592 329,576 330,606 331,612 332,576 333,551 334,541 335,619 336,590 337,547 338,580 339,603 340,638 341,590 342,608 343,588 344,621 345,599 346,569 347,550 348,603 349,550 350,580 351,548 352,629 353,577 354,593 355,572 356,584 357,594 358,593 359,636 360,611 361,598 362,615 363,593 364,531 365,577 366,664 367,566 368,555 369,587 370,626 371,561 372,602 373,568 374,636 375,568 376,639 377,581 378,600 379,570 380,579 381,565 382,654 383,616 384,582 385,573 386,588 387,587 388,632 389,636 390,595 391,582 392,565 393,575 394,570 395,612 396,613 397,642 398,537 399,582 400,626 401,648 402,645 403,609 404,589 405,642 406,662 407,582 408,591 409,556 410,565 411,605 412,695 413,590 414,570 415,530 416,605 417,596 418,700 419,629 420,572 421,671 422,618 423,552 424,579 425,630 426,638 427,609 428,639 429,597 430,627 431,646 432,631 433,614 434,598 435,574 436,560 437,664 438,655 439,617 440,631 441,596 442,606 443,636 444,629 445,589 446,605 447,651 448,590 449,605 450,633 451,616 452,571 453,628 454,633 455,619 456,644 457,635 458,604 459,585 460,614 461,577 462,621 463,639 464,653 465,679 466,632 467,648 468,588 469,632 470,582 471,648 472,610 473,642 474,652 475,566 476,649 477,650 478,664 479,625 480,596 481,691 482,579 483,596 484,651 485,594 486,598 487,605 488,660 489,676 490,607 491,632 492,684 493,631 494,646 495,619 496,577 497,658 498,591 499,568 500,676 501,622 502,575 503,674 504,656 505,609 506,614 507,643 508,643 509,613 510,621 511,657 512,615 513,649 514,640 515,600 516,632 517,581 518,687 519,663 520,632 521,676 522,646 523,621 524,590 525,631 526,665 527,669 528,627 529,620 530,661 531,581 532,648 533,615 534,599 535,664 536,700 537,653 538,641 539,692 540,591 541,568 542,604 543,694 544,639 545,692 546,632 547,618 548,662 549,647 550,592 551,635 552,661 553,598 554,602 555,654 556,621 557,642 558,609 559,654 560,596 561,615 562,696 563,632 564,702 565,632 566,656 567,626 568,583 569,605 570,618 571,636 572,660 573,637 574,625 575,656 576,692 577,674 578,605 579,576 580,657 581,608 582,649 583,659 584,669 585,652 586,618 587,599 588,629 589,636 590,633 591,651 592,648 593,597 594,681 595,662 596,636 597,664 598,652 599,606 600,595 601,681 602,638 603,697 604,672 605,678 606,616 607,657 608,651 609,685 610,645 611,622 612,592 613,638 614,582 615,627 616,619 617,606 618,608 619,598 620,664 621,671 622,693 623,643 624,623 625,707 626,668 627,584 628,612 629,653 630,603 631,605 632,554 633,573 634,669 635,630 636,577 637,661 638,627 639,653 640,646 641,637 642,570 643,640 644,620 645,644 646,626 647,647 648,672 649,594 650,699 651,578 652,641 653,631 654,684 655,623 656,615 657,623 658,632 659,677 660,586 661,580 662,630 663,682 664,635 665,617 666,620 667,622 668,676 669,643 670,613 671,615 672,700 673,632 674,616 675,590 676,628 677,677 678,618 679,689 680,581 681,625 682,590 683,628 684,611 685,667 686,630 687,641 688,637 689,573 690,625 691,682 692,635 693,622 694,649 695,644 696,667 697,596 698,688 699,570" fill="none" stroke="#f00a1e" stroke-width="1.0"/>
<line x1="46.80" y1="636.70" x2="46.80" y2="703.20" stroke="#111" stroke-width="1.2" />
<line x1="46.30" y1="702.70" x2="153.00" y2="702.70" stroke="#111" stroke-width="1.25" />
<line x1="44.60" y1="702.40" x2="46.80" y2="702.40" stroke="#111" stroke-width="1.0" />
<text x="43.20" y="705.30" font-size="8.2" text-anchor="end" font-weight="normal" fill="#222" stroke="#222" stroke-width="0.12" >0</text>
<line x1="44.60" y1="689.33" x2="46.80" y2="689.33" stroke="#111" stroke-width="1.0" />
<line x1="44.60" y1="676.26" x2="46.80" y2="676.26" stroke="#111" stroke-width="1.0" />
<text x="43.20" y="679.16" font-size="8.2" text-anchor="end" font-weight="normal" fill="#222" stroke="#222" stroke-width="0.12" >40</text>
<line x1="44.60" y1="663.19" x2="46.80" y2="663.19" stroke="#111" stroke-width="1.0" />
<line x1="44.60" y1="650.12" x2="46.80" y2="650.12" stroke="#111" stroke-width="1.0" />
<text x="43.20" y="653.02" font-size="8.2" text-anchor="end" font-weight="normal" fill="#222" stroke="#222" stroke-width="0.12" >80</text>
<line x1="44.60" y1="637.05" x2="46.80" y2="637.05" stroke="#111" stroke-width="1.0" />
<line x1="46.80" y1="702.70" x2="46.80" y2="705.30" stroke="#111" stroke-width="1.0" />
<line x1="91.51" y1="702.70" x2="91.51" y2="705.30" stroke="#111" stroke-width="1.0" />
<line x1="108.82" y1="702.70" x2="108.82" y2="705.30" stroke="#111" stroke-width="1.0" />
<line x1="153.00" y1="702.70" x2="153.00" y2="705.30" stroke="#111" stroke-width="1.0" />
<text x="47.60" y="713.80" font-size="9.4" text-anchor="start" font-weight="normal" fill="#1a1a1a" stroke="#1a1a1a" stroke-width="0.12" >-5kb</text>
<text x="100.96" y="713.80" font-size="9.4" text-anchor="middle" font-weight="normal" fill="#1a1a1a" stroke="#1a1a1a" stroke-width="0.12" >CpGI</text>
<text x="152.20" y="713.80" font-size="9.4" text-anchor="end" font-weight="normal" fill="#1a1a1a" stroke="#1a1a1a" stroke-width="0.12" >5kb</text>
<polyline transform="translate(192.80 631.50) scale(0.15107 -0.06604)" vector-effect="non-scaling-stroke" points="0,653 1,662 2,690 3,681 4,635 5,661 6,704 7,684 8,673 9,642 10,662 11,685 12,683 13,676 14,677 15,688 16,659 17,700 18,704 19,691 20,631 21,674 22,666 23,708 24,667 25,627 26,657 27,667 28,666 29,666 30,677 31,672 32,631 33,668 34,652 35,660 36,614 37,654 38,654 39,619 40,710 41,674 42,634 43,652 44,636 45,624 46,609 47,651 48,626 49,663 50,692 51,678 52,648 53,684 54,630 55,620 56,664 57,688 58,712 59,696 60,698 61,693 62,669 63,682 64,621 65,726 66,703 67,706 68,659 69,632 70,630 71,711 72,674 73,702 74,675 75,626 76,666 77,702 78,707 79,651 80,655 81,638 82,670 83,656 84,658 85,665 86,684 87,650 88,645 89,650 90,677 91,640 92,654 93,681 94,678 95,682 96,716 97,688 98,640 99,636 100,634 101,661 102,693 103,686 104,695 105,691 106,673 107,721 108,632 109,630 110,679 111,698 112,630 113,691 114,663 115,633 116,629 117,626 118,630 119,655 120,671 121,714 122,689 123,689 124,678 125,619 126,674 127,644 128,703 129,624 130,657 131,678 132,650 133,606 134,685 135,672 136,629 137,696 138,624 139,667 140,652 141,704 142,626 143,666 144,645 145,642 146,702 147,684 148,665 149,662 150,652 151,643 152,623 153,694 154,650 155,634 156,659 157,700 158,652 159,657 160,680 161,675 162,697 163,656 164,698 165,652 166,696 167,702 168,711 169,631 170,651 171,672 172,674 173,650 174,626 175,650 176,705 177,699 178,706 179,660 180,657 181,717 182,664 183,702 184,634 185,659 186,713 187,711 188,649 189,686 190,664 191,631 192,661 193,641 194,649 195,683 196,607 197,624 198,651 199,615 200,656 201,647 202,684 203,707 204,647 205,666 206,679 207,699 208,717 209,658 210,628 211,708 212,635 213,676 214,681 215,704 216,679 217,627 218,619 219,688 220,701 221,631 222,680 223,661 224,609 225,659 226,685 227,626 228,617 229,684 230,676 231,628 232,659 233,584 234,606 235,603 236,630 237,670 238,676 239,636 240,633 241,606 242,663 243,633 244,603 245,631 246,589 247,662 248,597 249,571 250,598 251,657 252,589 253,584 254,564 255,572 256,593 257,542 258,575 259,559 260,589 261,597 262,573 263,526 264,576 265,576 266,548 267,542 268,558 269,513 270,544 271,500 272,524 273,488 274,536 275,493 276,520 277,518 278,576 279,524 280,520 281,511 282,487 283,492 284,552 285,427 286,541 287,538 288,542 289,488 290,457 291,463 292,519 293,493 294,515 295,489 296,475 297,445 298,464 299,530 300,460 301,454 302,538 303,449 304,473 305,508 306,535 307,483 308,460 309,507 310,468 311,498 312,460 313,495 314,471 315,490 316,490 317,487 318,443 319,496 320,433 321,503 322,493 323,488 324,450 325,444 326,480 327,441 328,512 329,467 330,440 331,488 332,465 333,467 334,497 335,491 336,496 337,513 338,485 339,508 340,497 341,494 342,496 343,489 344,457 345,506 346,471 347,505 348,482 349,435 350,528 351,446 352,503 353,492 354,491 355,474 356,481 357,482 358,504 359,480 360,437 361,441 362,425 363,470 364,475 365,444 366,521 367,481 368,481 369,441 370,501 371,472 372,478 373,471 374,460 375,443 376,501 377,487 378,488 379,449 380,513 381,485 382,483 383,431 384,485 385,541 386,459 387,503 388,511 389,499 390,457 391,427 392,512 393,542 394,460 395,546 396,523 397,497 398,478 399,504 400,456 401,514 402,512 403,452 404,515 405,476 406,486 407,470 408,511 409,504 410,537 411,540 412,547 413,526 414,516 415,507 416,469 417,558 418,549 419,516 420,589 421,525 422,545 423,506 424,574 425,561 426,603 427,555 428,556 429,536 430,552 431,557 432,549 433,563 434,580 435,526 436,580 437,609 438,583 439,596 440,604 441,605 442,593 443,632 444,598 445,607 446,633 447,622 448,618 449,626 450,659 451,633 452,627 453,612 454,658 455,645 456,600 457,665 458,678 459,663 460,679 461,647 462,671 463,671 464,630 465,636 466,656 467,624 468,660 469,666 470,689 471,604 472,649 473,650 474,667 475,709 476,621 477,680 478,681 479,652 480,664 481,680 482,717 483,672 484,687 485,682 486,682 487,645 488,643 489,706 490,652 491,699 492,631 493,652 494,695 495,666 496,678 497,683 498,679 499,633 500,717 501,628 502,679 503,673 504,654 505,630 506,634 507,667 508,718 509,642 510,708 511,693 512,694 513,640 514,639 515,706 516,605 517,680 518,613 519,659 520,679 521,689 522,671 523,646 524,679 525,671 526,624 527,642 528,617 529,678 530,635 531,617 532,655 533,675 534,605 535,681 536,669 537,704 538,689 539,706 540,711 541,612 542,675 543,645 544,677 545,704 546,668 547,675 548,663 549,688 550,635 551,704 552,620 553,644 554,630 555,668 556,702 557,639 558,709 559,668 560,632 561,666 562,663 563,643 564,623 565,658 566,646 567,680 568,720 569,685 570,655 571,663 572,682 573,638 574,696 575,712 576,666 577,654 578,669 579,641 580,674 581,672 582,660 583,648 584,663 585,631 586,641 587,696 588,668 589,651 590,651 591,684 592,659 593,694 594,647 595,662 596,700 597,660 598,668 599,618 600,680 601,687 602,671 603,680 604,686 605,610 606,662 607,653 608,670 609,710 610,642 611,652 612,653 613,637 614,667 615,698 616,661 617,713 618,702 619,669 620,641 621,675 622,686 623,649 624,667 625,675 626,684 627,625 628,629 629,657 630,656 631,653 632,690 633,662 634,681 635,708 636,673 637,663 638,695 639,635 640,614 641,645 642,668 643,660 644,667 645,609 646,718 647,667 648,667 649,653 650,673 651,678 652,696 653,673 654,666 655,629 656,671 657,684 658,650 659,657 660,613 661,634 662,680 663,648 664,700 665,655 666,636 667,656 668,701 669,645 670,671 671,658 672,695 673,651 674,690 675,673 676,650 677,680 678,658 679,639 680,658 681,638 682,650 683,636 684,666 685,608 686,638 687,674 688,633 689,671 690,689 691,609 692,625 693,647 694,629 695,655 696,648 697,663 698,658 699,613" fill="none" stroke="#1414ff" stroke-width="1.0"/>
<polyline transform="translate(192.80 631.50) scale(0.15107 -0.06604)" vector-effect="non-scaling-stroke" points="0,666 1,692 2,667 3,631 4,687 5,671 6,650 7,714 8,612 9,721 10,635 11,648 12,686 13,634 14,672 15,629 16,721 17,668 18,695 19,635 20,612 21,702 22,689 23,704 24,673 25,624 26,651 27,635 28,600 29,672 30,641 31,659 32,634 33,638 34,648 35,632 36,719 37,732 38,594 39,650 40,640 41,682 42,687 43,634 44,662 45,694 46,668 47,706 48,631 49,652 50,641 51,686 52,661 53,643 54,678 55,612 56,687 57,676 58,671 59,641 60,666 61,668 62,676 63,631 64,726 65,687 66,587 67,635 68,656 69,696 70,705 71,662 72,634 73,660 74,661 75,690 76,715 77,690 78,695 79,617 80,659 81,619 82,680 83,659 84,653 85,689 86,658 87,613 88,622 89,674 90,657 91,662 92,713 93,647 94,700 95,621 96,635 97,726 98,682 99,718 100,707 101,615 102,653 103,631 104,688 105,652 106,654 107,710 108,697 109,681 110,628 111,640 112,711 113,661 114,601 115,622 116,665 117,704 118,685 119,659 120,629 121,649 122,629 123,634 124,675 125,652 126,637 127,692 128,682 129,659 130,655 131,695 132,615 133,653 134,601 135,637 136,639 137,716 138,700 139,652 140,688 141,697 142,625 143,708 144,680 145,617 146,673 147,620 148,625 149,735 150,681 151,665 152,642 153,616 154,715 155,631 156,683 157,667 158,685 159,680 160,665 161,655 162,673 163,564 164,670 165,657 166,677 167,613 168,622 169,665 170,669 171,623 172,702 173,649 174,675 175,648 176,684 177,631 178,657 179,599 180,664 181,653 182,686 183,644 184,645 185,675 186,632 187,621 188,669 189,670 190,616 191,623 192,618 193,688 194,593 195,670 196,697 197,677 198,635 199,618 200,698 201,683 202,662 203,657 204,664 205,685 206,590 207,625 208,665 209,658 210,648 211,652 212,602 213,680 214,678 215,659 216,643 217,621 218,605 219,686 220,635 221,636 222,618 223,639 224,635 225,664 226,654 227,661 228,675 229,621 230,643 231,620 232,584 233,586 234,591 235,584 236,611 237,598 238,627 239,568 240,657 241,625 242,587 243,588 244,577 245,631 246,638 247,583 248,583 249,610 250,577 251,621 252,516 253,537 254,576 255,594 256,561 257,515 258,500 259,520 260,582 261,512 262,500 263,543 264,465 265,521 266,547 267,536 268,518 269,472 270,523 271,487 272,488 273,462 274,489 275,413 276,464 277,422 278,406 279,469 280,452 281,506 282,462 283,441 284,437 285,462 286,477 287,422 288,412 289,445 290,435 291,417 292,463 293,441 294,399 295,460 296,485 297,448 298,489 299,437 300,481 301,446 302,394 303,454 304,382 305,440 306,453 307,451 308,400 309,376 310,416 311,473 312,398 313,418 314,483 315,455 316,369 317,439 318,434 319,414 320,424 321,346 322,411 323,412 324,414 325,361 326,369 327,465 328,417 329,443 330,428 331,462 332,353 333,404 334,421 335,370 336,423 337,444 338,355 339,449 340,421 341,433 342,417 343,443 344,482 345,430 346,420 347,453 348,406 349,400 350,373 351,463 352,431 353,487 354,416 355,425 356,385 357,479 358,410 359,411 360,420 361,374 362,411 363,442 364,382 365,433 366,410 367,432 368,404 369,372 370,391 371,436 372,409 373,446 374,401 375,410 376,382 377,426 378,436 379,427 380,491 381,399 382,356 383,462 384,358 385,434 386,366 387,431 388,398 389,442 390,404 391,436 392,419 393,426 394,376 395,445 396,490 397,429 398,464 399,455 400,454 401,413 402,471 403,418 404,442 405,456 406,450 407,439 408,406 409,490 410,431 411,466 412,453 413,485 414,486 415,420 416,421 417,516 418,489 419,499 420,440 421,505 422,518 423,516 424,481 425,491 426,489 427,511 428,498 429,496 430,562 431,556 432,538 433,601 434,554 435,567 436,550 437,515 438,535 439,556 440,578 441,616 442,598 443,629 444,632 445,628 446,561 447,635 448,634 449,638 450,613 451,533 452,613 453,632 454,652 455,617 456,573 457,652 458,589 459,665 460,624 461,679 462,581 463,619 464,664 465,607 466,612 467,631 468,592 469,666 470,638 471,657 472,707 473,685 474,648 475,697 476,720 477,639 478,628 479,624 480,686 481,668 482,612 483,630 484,655 485,640 486,636 487,644 488,642 489,682 490,712 491,621 492,649 493,630 494,672 495,661 496,596 497,689 498,691 499,673 500,636 501,711 502,626 503,681 504,646 505,661 506,613 507,658 508,663 509,603 510,671 511,707 512,695 513,626 514,670 515,710 516,660 517,632 518,682 519,645 520,714 521,625 522,688 523,627 524,648 525,641 526,692 527,634 528,609 529,654 530,645 531,689 532,615 533,654 534,670 535,696 536,648 537,682 538,667 539,600 540,642 541,657 542,688 543,633 544,667 545,591 546,648 547,687 548,676 549,620 550,641 551,702 552,682 553,637 554,719 555,640 556,632 557,646 558,635 559,659 560,670 561,615 562,720 563,688 564,647 565,680 566,651 567,625 568,602 569,656 570,662 571,634 572,620 573,656 574,640 575,623 576,612 577,675 578,691 579,631 580,649 581,671 582,702 583,634 584,685 585,647 586,642 587,663 588,645 589,640 590,654 591,698 592,662 593,664 594,660 595,643 596,613 597,692 598,639 599,624 600,670 601,658 602,602 603,624 604,673 605,665 606,567 607,636 608,640 609,662 610,638 611,609 612,700 613,663 614,674 615,703 616,620 617,617 618,645 619,660 620,699 621,642 622,716 623,659 624,712 625,668 626,712 627,637 628,703 629,649 630,717 631,717 632,604 633,601 634,699 635,663 636,659 637,605 638,655 639,687 640,659 641,647 642,722 643,683 644,664 645,679 646,598 647,664 648,668 649,669 650,643 651,713 652,681 653,644 654,634 655,675 656,630 657,663 658,698 659,732 660,634 661,693 662,651 663,686 664,656 665,697 666,712 667,723 668,720 669,654 670,675 671,671 672,677 673,671 674,646 675,660 676,662 677,708 678,590 679,599 680,691 681,667 682,632 683,626 684,714 685,652 686,653 687,706 688,671 689,690 690,680 691,658 692,655 693,661 694,694 695,650 696,630 697,664 698,671 699,711" fill="none" stroke="#f00a1e" stroke-width="1.0"/>
<line x1="192.20" y1="565.10" x2="192.20" y2="632.30" stroke="#111" stroke-width="1.2" />
<line x1="191.70" y1="631.80" x2="298.40" y2="631.80" stroke="#111" stroke-width="1.25" />
<line x1="190.00" y1="631.50" x2="192.20" y2="631.50" stroke="#111" stroke-width="1.0" />
<line x1="190.00" y1="618.29" x2="192.20" y2="618.29" stroke="#111" stroke-width="1.0" />
<line x1="190.00" y1="605.08" x2="192.20" y2="605.08" stroke="#111" stroke-width="1.0" />
<line x1="190.00" y1="591.88" x2="192.20" y2="591.88" stroke="#111" stroke-width="1.0" />
<line x1="190.00" y1="578.67" x2="192.20" y2="578.67" stroke="#111" stroke-width="1.0" />
<line x1="190.00" y1="565.46" x2="192.20" y2="565.46" stroke="#111" stroke-width="1.0" />
<line x1="192.20" y1="631.80" x2="192.20" y2="634.40" stroke="#111" stroke-width="1.0" />
<line x1="236.91" y1="631.80" x2="236.91" y2="634.40" stroke="#111" stroke-width="1.0" />
<line x1="254.22" y1="631.80" x2="254.22" y2="634.40" stroke="#111" stroke-width="1.0" />
<line x1="298.40" y1="631.80" x2="298.40" y2="634.40" stroke="#111" stroke-width="1.0" />
<text x="245.30" y="571.60" font-size="9.2" text-anchor="middle" font-weight="normal" fill="#1a1a1a" stroke="#1a1a1a" stroke-width="0.12" >11266</text>
<polyline transform="translate(192.80 702.40) scale(0.15107 -0.06535)" vector-effect="non-scaling-stroke" points="0,707 1,720 2,678 3,696 4,686 5,701 6,749 7,695 8,695 9,703 10,721 11,671 12,677 13,666 14,703 15,691 16,697 17,674 18,700 19,707 20,680 21,744 22,685 23,654 24,711 25,652 26,652 27,698 28,723 29,709 30,656 31,652 32,714 33,700 34,739 35,664 36,678 37,713 38,712 39,709 40,704 41,715 42,714 43,712 44,717 45,658 46,682 47,682 48,726 49,703 50,670 51,680 52,724 53,707 54,724 55,671 56,713 57,733 58,691 59,734 60,712 61,752 62,702 63,690 64,697 65,712 66,752 67,684 68,668 69,705 70,689 71,748 72,688 73,696 74,661 75,690 76,685 77,691 78,699 79,698 80,642 81,670 82,710 83,738 84,678 85,699 86,678 87,662 88,676 89,697 90,710 91,688 92,668 93,649 94,710 95,717 96,690 97,702 98,701 99,711 100,711 101,694 102,715 103,751 104,695 105,725 106,731 107,705 108,705 109,687 110,713 111,719 112,710 113,691 114,687 115,676 116,698 117,720 118,700 119,666 120,694 121,694 122,663 123,697 124,730 125,701 126,656 127,713 128,680 129,694 130,641 131,699 132,680 133,659 134,637 135,709 136,671 137,687 138,741 139,700 140,658 141,702 142,673 143,664 144,700 145,728 146,676 147,718 148,746 149,667 150,685 151,752 152,660 153,681 154,664 155,724 156,701 157,669 158,716 159,710 160,633 161,733 162,683 163,667 164,643 165,691 166,674 167,655 168,662 169,730 170,682 171,667 172,648 173,722 174,673 175,690 176,663 177,704 178,666 179,677 180,739 181,714 182,710 183,728 184,670 185,705 186,677 187,645 188,718 189,740 190,666 191,674 192,718 193,640 194,688 195,685 196,698 197,683 198,686 199,704 200,711 201,727 202,744 203,719 204,691 205,670 206,691 207,706 208,685 209,721 210,644 211,680 212,662 213,675 214,679 215,673 216,688 217,649 218,655 219,689 220,642 221,691 222,703 223,716 224,681 225,671 226,674 227,664 228,645 229,620 230,688 231,611 232,646 233,649 234,619 235,574 236,571 237,602 238,585 239,609 240,598 241,602 242,589 243,579 244,596 245,597 246,547 247,556 248,585 249,607 250,518 251,544 252,552 253,537 254,457 255,525 256,496 257,501 258,505 259,443 260,496 261,511 262,487 263,438 264,439 265,414 266,449 267,444 268,368 269,393 270,329 271,392 272,371 273,373 274,389 275,338 276,340 277,360 278,299 279,330 280,291 281,289 282,286 283,307 284,272 285,303 286,254 287,274 288,267 289,273 290,240 291,267 292,266 293,263 294,333 295,232 296,270 297,310 298,226 299,251 300,254 301,238 302,232 303,273 304,310 305,213 306,296 307,253 308,311 309,254 310,197 311,242 312,288 313,215 314,234 315,228 316,223 317,278 318,190 319,203 320,243 321,194 322,256 323,226 324,244 325,218 326,277 327,227 328,224 329,256 330,251 331,191 332,271 333,237 334,247 335,258 336,236 337,243 338,258 339,220 340,220 341,272 342,230 343,272 344,259 345,261 346,201 347,211 348,241 349,274 350,229 351,252 352,265 353,251 354,246 355,224 356,227 357,269 358,268 359,258 360,255 361,222 362,221 363,271 364,274 365,278 366,219 367,270 368,268 369,208 370,260 371,242 372,284 373,274 374,232 375,205 376,208 377,238 378,266 379,220 380,271 381,280 382,254 383,206 384,285 385,210 386,216 387,276 388,231 389,208 390,287 391,255 392,301 393,259 394,310 395,305 396,242 397,315 398,252 399,241 400,300 401,275 402,261 403,269 404,320 405,251 406,332 407,258 408,325 409,354 410,291 411,323 412,347 413,303 414,386 415,363 416,389 417,349 418,403 419,375 420,360 421,367 422,372 423,414 424,394 425,393 426,425 427,477 428,444 429,486 430,426 431,502 432,480 433,476 434,499 435,511 436,512 437,495 438,547 439,556 440,511 441,494 442,570 443,558 444,567 445,523 446,601 447,556 448,594 449,596 450,583 451,629 452,600 453,588 454,609 455,579 456,627 457,617 458,665 459,663 460,680 461,664 462,680 463,683 464,623 465,675 466,649 467,670 468,612 469,649 470,612 471,608 472,646 473,683 474,665 475,664 476,668 477,657 478,677 479,609 480,671 481,631 482,671 483,667 484,690 485,627 486,686 487,633 488,689 489,686 490,655 491,680 492,689 493,657 494,669 495,670 496,679 497,658 498,685 499,664 500,660 501,720 502,680 503,680 504,669 505,679 506,671 507,708 508,727 509,658 510,657 511,654 512,723 513,690 514,696 515,686 516,711 517,674 518,716 519,658 520,686 521,654 522,677 523,698 524,674 525,683 526,686 527,680 528,646 529,672 530,622 531,696 532,677 533,689 534,666 535,667 536,687 537,644 538,670 539,669 540,669 541,665 542,675 543,692 544,670 545,696 546,701 547,702 548,659 549,632 550,681 551,715 552,719 553,680 554,635 555,714 556,699 557,655 558,678 559,724 560,656 561,677 562,633 563,665 564,676 565,624 566,690 567,731 568,618 569,674 570,680 571,705 572,670 573,680 574,659 575,724 576,687 577,688 578,670 579,649 580,649 581,616 582,673 583,717 584,690 585,639 586,657 587,650 588,698 589,645 590,637 591,700 592,657 593,683 594,675 595,677 596,650 597,681 598,709 599,628 600,644 601,720 602,712 603,660 604,663 605,678 606,724 607,686 608,674 609,712 610,693 611,614 612,670 613,690 614,656 615,665 616,702 617,697 618,665 619,677 620,692 621,690 622,673 623,684 624,651 625,694 626,712 627,695 628,679 629,686 630,674 631,707 632,634 633,639 634,766 635,671 636,614 637,636 638,715 639,708 640,666 641,698 642,673 643,622 644,617 645,683 646,657 647,719 648,653 649,694 650,635 651,654 652,682 653,664 654,698 655,676 656,640 657,706 658,650 659,655 660,654 661,637 662,702 663,633 664,648 665,698 666,631 667,725 668,667 669,658 670,623 671,674 672,645 673,731 674,658 675,676 676,731 677,699 678,661 679,670 680,658 681,706 682,650 683,666 684,685 685,703 686,654 687,683 688,639 689,660 690,656 691,641 692,638 693,645 694,667 695,711 696,701 697,670 698,657 699,696" fill="none" stroke="#1414ff" stroke-width="1.0"/>
<polyline transform="translate(192.80 702.40) scale(0.15107 -0.06535)" vector-effect="non-scaling-stroke" points="0,594 1,640 2,569 3,666 4,626 5,654 6,656 7,661 8,595 9,646 10,577 11,622 12,656 13,675 14,579 15,614 16,619 17,571 18,628 19,615 20,608 21,628 22,618 23,618 24,596 25,623 26,646 27,597 28,625 29,576 30,614 31,658 32,652 33,629 34,636 35,662 36,647 37,596 38,576 39,595 40,597 41,647 42,643 43,660 44,672 45,616 46,630 47,580 48,644 49,600 50,667 51,634 52,664 53,672 54,633 55,686 56,659 57,658 58,642 59,691 60,570 61,622 62,661 63,613 64,612 65,635 66,605 67,691 68,648 69,644 70,623 71,573 72,620 73,596 74,652 75,605 76,626 77,666 78,648 79,678 80,588 81,602 82,580 83,648 84,619 85,598 86,667 87,614 88,572 89,610 90,660 91,672 92,610 93,622 94,635 95,649 96,669 97,629 98,656 99,676 100,649 101,585 102,623 103,647 104,688 105,664 106,617 107,592 108,575 109,654 110,625 111,566 112,593 113,599 114,604 115,612 116,619 117,688 118,588 119,561 120,654 121,682 122,669 123,630 124,570 125,623 126,686 127,613 128,592 129,643 130,591 131,629 132,590 133,620 134,562 135,581 136,653 137,593 138,595 139,689 140,626 141,610 142,631 143,647 144,595 145,642 146,676 147,642 148,602 149,620 150,574 151,588 152,600 153,574 154,649 155,584 156,635 157,653 158,672 159,682 160,603 161,637 162,694 163,644 164,603 165,685 166,568 167,627 168,595 169,595 170,663 171,597 172,596 173,627 174,593 175,560 176,607 177,611 178,656 179,654 180,563 181,661 182,608 183,626 184,608 185,591 186,634 187,595 188,592 189,571 190,594 191,664 192,571 193,642 194,662 195,600 196,615 197,644 198,684 199,629 200,657 201,609 202,591 203,615 204,581 205,671 206,638 207,640 208,606 209,672 210,640 211,608 212,690 213,610 214,627 215,630 216,621 217,683 218,663 219,614 220,617 221,573 222,621 223,600 224,663 225,636 226,700 227,673 228,626 229,612 230,643 231,662 232,645 233,595 234,623 235,605 236,663 237,600 238,610 239,621 240,665 241,552 242,639 243,617 244,617 245,631 246,566 247,569 248,676 249,643 250,546 251,633 252,588 253,582 254,572 255,662 256,574 257,656 258,565 259,633 260,660 261,587 262,586 263,666 264,604 265,557 266,613 267,619 268,597 269,633 270,541 271,632 272,614 273,590 274,569 275,605 276,559 277,532 278,644 279,580 280,585 281,603 282,647 283,614 284,590 285,607 286,566 287,655 288,637 289,580 290,552 291,576 292,565 293,571 294,605 295,608 296,580 297,585 298,623 299,572 300,577 301,571 302,551 303,634 304,549 305,566 306,574 307,587 308,568 309,645 310,580 311,548 312,560 313,644 314,632 315,578 316,601 317,588 318,603 319,541 320,619 321,595 322,590 323,565 324,557 325,659 326,586 327,556 328,507 329,580 330,571 331,609 332,561 333,645 334,619 335,631 336,546 337,581 338,641 339,562 340,519 341,602 342,636 343,554 344,537 345,548 346,527 347,543 348,572 349,588 350,579 351,566 352,591 353,599 354,630 355,567 356,626 357,601 358,573 359,607 360,548 361,607 362,632 363,614 364,602 365,610 366,600 367,589 368,560 369,604 370,584 371,595 372,606 373,598 374,603 375,611 376,644 377,553 378,534 379,569 380,554 381,603 382,567 383,610 384,536 385,583 386,542 387,599 388,602 389,577 390,558 391,584 392,628 393,625 394,601 395,614 396,552 397,586 398,617 399,613 400,552 401,556 402,578 403,598 404,528 405,614 406,626 407,666 408,545 409,570 410,582 411,592 412,619 413,630 414,625 415,605 416,582 417,602 418,617 419,607 420,575 421,647 422,668 423,656 424,621 425,564 426,589 427,610 428,630 429,589 430,594 431,621 432,608 433,620 434,551 435,588 436,595 437,640 438,596 439,594 440,619 441,604 442,618 443,568 444,592 445,657 446,567 447,596 448,619 449,595 450,546 451,601 452,564 453,666 454,629 455,643 456,580 457,628 458,611 459,611 460,668 461,583 462,603 463,625 464,592 465,582 466,591 467,613 468,660 469,681 470,613 471,590 472,603 473,601 474,668 475,608 476,607 477,606 478,615 479,582 480,657 481,652 482,611 483,645 484,612 485,549 486,637 487,569 488,663 489,611 490,605 491,620 492,637 493,683 494,661 495,620 496,628 497,650 498,683 499,610 500,625 501,713 502,611 503,558 504,607 505,647 506,548 507,648 508,627 509,653 510,612 511,573 512,629 513,587 514,608 515,631 516,653 517,682 518,587 519,604 520,673 521,565 522,666 523,613 524,628 525,682 526,579 527,658 528,572 529,608 530,630 531,614 532,656 533,643 534,616 535,600 536,619 537,644 538,650 539,602 540,582 541,630 542,602 543,622 544,618 545,604 546,610 547,629 548,605 549,603 550,677 551,556 552,642 553,555 554,629 555,585 556,686 557,630 558,615 559,657 560,621 561,631 562,656 563,639 564,636 565,648 566,580 567,597 568,635 569,644 570,656 571,621 572,654 573,629 574,622 575,602 576,567 577,633 578,638 579,588 580,601 581,690 582,636 583,550 584,582 585,687 586,624 587,558 588,630 589,644 590,633 591,642 592,619 593,642 594,563 595,640 596,617 597,638 598,635 599,607 600,665 601,624 602,639 603,642 604,663 605,588 606,562 607,559 608,590 609,625 610,632 611,563 612,608 613,597 614,657 615,638 616,588 617,586 618,608 619,588 620,613 621,580 622,615 623,622 624,668 625,609 626,695 627,646 628,646 629,644 630,605 631,624 632,551 633,579 634,642 635,561 636,636 637,601 638,626 639,586 640,552 641,618 642,562 643,608 644,683 645,640 646,649 647,636 648,625 649,611 650,622 651,590 652,649 653,632 654,616 655,624 656,662 657,632 658,644 659,656 660,665 661,649 662,613 663,658 664,666 665,629 666,634 667,561 668,637 669,622 670,644 671,609 672,653 673,633 674,613 675,610 676,610 677,606 678,592 679,620 680,607 681,614 682,579 683,610 684,553 685,603 686,631 687,625 688,633 689,615 690,687 691,638 692,629 693,600 694,623 695,683 696,686 697,642 698,612 699,597" fill="none" stroke="#f00a1e" stroke-width="1.0"/>
<line x1="192.20" y1="636.70" x2="192.20" y2="703.20" stroke="#111" stroke-width="1.2" />
<line x1="191.70" y1="702.70" x2="298.40" y2="702.70" stroke="#111" stroke-width="1.25" />
<line x1="190.00" y1="702.40" x2="192.20" y2="702.40" stroke="#111" stroke-width="1.0" />
<line x1="190.00" y1="689.33" x2="192.20" y2="689.33" stroke="#111" stroke-width="1.0" />
<line x1="190.00" y1="676.26" x2="192.20" y2="676.26" stroke="#111" stroke-width="1.0" />
<line x1="190.00" y1="663.19" x2="192.20" y2="663.19" stroke="#111" stroke-width="1.0" />
<line x1="190.00" y1="650.12" x2="192.20" y2="650.12" stroke="#111" stroke-width="1.0" />
<line x1="190.00" y1="637.05" x2="192.20" y2="637.05" stroke="#111" stroke-width="1.0" />
<line x1="192.20" y1="702.70" x2="192.20" y2="705.30" stroke="#111" stroke-width="1.0" />
<line x1="236.91" y1="702.70" x2="236.91" y2="705.30" stroke="#111" stroke-width="1.0" />
<line x1="254.22" y1="702.70" x2="254.22" y2="705.30" stroke="#111" stroke-width="1.0" />
<line x1="298.40" y1="702.70" x2="298.40" y2="705.30" stroke="#111" stroke-width="1.0" />
<text x="193.00" y="713.80" font-size="9.4" text-anchor="start" font-weight="normal" fill="#1a1a1a" stroke="#1a1a1a" stroke-width="0.12" >-5kb</text>
<text x="246.36" y="713.80" font-size="9.4" text-anchor="middle" font-weight="normal" fill="#1a1a1a" stroke="#1a1a1a" stroke-width="0.12" >CpGI</text>
<text x="297.60" y="713.80" font-size="9.4" text-anchor="end" font-weight="normal" fill="#1a1a1a" stroke="#1a1a1a" stroke-width="0.12" >5kb</text>
<polyline transform="translate(337.90 631.50) scale(0.15107 -0.06604)" vector-effect="non-scaling-stroke" points="0,615 1,593 2,629 3,622 4,588 5,602 6,602 7,630 8,610 9,587 10,601 11,620 12,628 13,578 14,589 15,607 16,657 17,618 18,575 19,614 20,615 21,604 22,613 23,612 24,634 25,588 26,627 27,603 28,576 29,606 30,597 31,606 32,590 33,552 34,608 35,651 36,571 37,597 38,631 39,625 40,563 41,565 42,585 43,631 44,584 45,600 46,612 47,608 48,607 49,611 50,615 51,644 52,616 53,621 54,562 55,606 56,639 57,614 58,664 59,593 60,664 61,594 62,603 63,624 64,597 65,602 66,581 67,626 68,626 69,632 70,644 71,644 72,617 73,598 74,659 75,660 76,592 77,625 78,615 79,621 80,603 81,600 82,586 83,570 84,606 85,557 86,599 87,618 88,648 89,587 90,564 91,595 92,631 93,662 94,623 95,580 96,605 97,624 98,620 99,639 100,583 101,556 102,614 103,623 104,594 105,635 106,645 107,600 108,591 109,648 110,582 111,657 112,608 113,614 114,624 115,653 116,562 117,637 118,618 119,625 120,625 121,603 122,615 123,620 124,639 125,630 126,625 127,612 128,601 129,590 130,650 131,610 132,638 133,607 134,566 135,549 136,597 137,618 138,594 139,599 140,611 141,624 142,645 143,613 144,583 145,617 146,634 147,610 148,640 149,608 150,649 151,596 152,606 153,632 154,566 155,617 156,568 157,612 158,581 159,618 160,609 161,611 162,649 163,583 164,582 165,599 166,574 167,634 168,583 169,623 170,561 171,609 172,572 173,620 174,607 175,585 176,571 177,658 178,620 179,636 180,642 181,597 182,636 183,650 184,624 185,624 186,638 187,660 188,597 189,638 190,640 191,640 192,606 193,662 194,649 195,608 196,663 197,555 198,581 199,635 200,599 201,625 202,652 203,633 204,606 205,615 206,615 207,610 208,603 209,571 210,580 211,633 212,552 213,513 214,624 215,601 216,629 217,652 218,583 219,610 220,603 221,588 222,590 223,618 224,606 225,653 226,622 227,650 228,649 229,648 230,606 231,570 232,616 233,577 234,613 235,583 236,600 237,564 238,584 239,612 240,646 241,543 242,625 243,560 244,542 245,580 246,571 247,602 248,524 249,610 250,589 251,609 252,581 253,582 254,609 255,560 256,571 257,575 258,590 259,538 260,551 261,532 262,533 263,553 264,567 265,500 266,522 267,557 268,550 269,524 270,506 271,521 272,489 273,549 274,481 275,471 276,556 277,468 278,516 279,550 280,486 281,501 282,551 283,519 284,546 285,498 286,525 287,459 288,516 289,513 290,488 291,505 292,505 293,456 294,529 295,481 296,515 297,526 298,487 299,488 300,460 301,507 302,447 303,505 304,463 305,520 306,482 307,463 308,471 309,444 310,499 311,502 312,482 313,495 314,494 315,470 316,469 317,451 318,494 319,447 320,514 321,493 322,497 323,447 324,510 325,485 326,491 327,487 328,463 329,497 330,441 331,484 332,507 333,525 334,424 335,519 336,476 337,458 338,464 339,489 340,479 341,481 342,445 343,519 344,477 345,431 346,490 347,488 348,484 349,506 350,493 351,501 352,478 353,477 354,496 355,435 356,438 357,497 358,459 359,452 360,488 361,499 362,421 363,490 364,444 365,491 366,537 367,492 368,499 369,497 370,419 371,469 372,444 373,541 374,496 375,480 376,485 377,489 378,446 379,488 380,455 381,451 382,523 383,518 384,488 385,532 386,504 387,435 388,474 389,482 390,475 391,482 392,522 393,451 394,455 395,452 396,446 397,516 398,537 399,463 400,492 401,485 402,470 403,513 404,514 405,524 406,500 407,483 408,489 409,454 410,550 411,550 412,482 413,534 414,482 415,556 416,515 417,496 418,502 419,570 420,535 421,539 422,521 423,544 424,586 425,530 426,545 427,490 428,560 429,572 430,552 431,567 432,613 433,557 434,560 435,538 436,516 437,583 438,553 439,525 440,563 441,560 442,577 443,575 444,579 445,566 446,576 447,570 448,639 449,595 450,595 451,605 452,599 453,584 454,613 455,584 456,621 457,555 458,601 459,572 460,604 461,578 462,636 463,588 464,624 465,610 466,565 467,603 468,564 469,612 470,617 471,597 472,611 473,643 474,569 475,633 476,608 477,561 478,622 479,590 480,554 481,583 482,636 483,592 484,620 485,589 486,623 487,605 488,605 489,651 490,595 491,580 492,596 493,620 494,581 495,626 496,621 497,565 498,585 499,608 500,607 501,608 502,623 503,634 504,643 505,587 506,670 507,629 508,616 509,634 510,636 511,577 512,619 513,580 514,605 515,569 516,635 517,664 518,645 519,583 520,608 521,597 522,612 523,633 524,617 525,617 526,616 527,657 528,619 529,580 530,575 531,601 532,629 533,627 534,623 535,639 536,587 537,596 538,622 539,622 540,601 541,611 542,635 543,624 544,590 545,568 546,620 547,640 548,605 549,647 550,633 551,619 552,606 553,615 554,645 555,609 556,624 557,586 558,637 559,650 560,653 561,613 562,603 563,615 564,641 565,647 566,645 567,609 568,618 569,626 570,650 571,608 572,570 573,617 574,632 575,619 576,647 577,620 578,605 579,594 580,606 581,613 582,649 583,653 584,602 585,585 586,645 587,651 588,615 589,629 590,632 591,638 592,647 593,632 594,587 595,614 596,597 597,612 598,661 599,626 600,650 601,667 602,618 603,667 604,590 605,658 606,596 607,593 608,660 609,607 610,582 611,606 612,620 613,625 614,600 615,561 616,639 617,657 618,624 619,587 620,613 621,583 622,641 623,641 624,626 625,672 626,599 627,594 628,610 629,646 630,674 631,574 632,595 633,582 634,599 635,573 636,634 637,575 638,657 639,637 640,598 641,593 642,656 643,665 644,628 645,610 646,614 647,569 648,606 649,622 650,613 651,636 652,666 653,610 654,664 655,626 656,620 657,598 658,634 659,619 660,617 661,639 662,591 663,641 664,598 665,609 666,624 667,631 668,626 669,577 670,643 671,623 672,634 673,617 674,612 675,628 676,628 677,631 678,634 679,626 680,638 681,635 682,563 683,611 684,634 685,631 686,637 687,637 688,653 689,640 690,616 691,593 692,663 693,606 694,635 695,588 696,656 697,630 698,672 699,588" fill="none" stroke="#1414ff" stroke-width="1.0"/>
<polyline transform="translate(337.90 631.50) scale(0.15107 -0.06604)" vector-effect="non-scaling-stroke" points="0,583 1,662 2,660 3,637 4,682 5,696 6,673 7,645 8,686 9,598 10,690 11,655 12,685 13,618 14,677 15,612 16,636 17,635 18,615 19,663 20,696 21,663 22,630 23,655 24,597 25,647 26,607 27,661 28,669 29,575 30,643 31,600 32,659 33,602 34,677 35,632 36,646 37,680 38,645 39,673 40,638 41,583 42,614 43,614 44,614 45,610 46,605 47,593 48,613 49,653 50,616 51,635 52,616 53,618 54,677 55,651 56,634 57,602 58,573 59,633 60,604 61,692 62,615 63,661 64,637 65,571 66,663 67,623 68,617 69,664 70,619 71,639 72,684 73,612 74,639 75,628 76,602 77,582 78,608 79,673 80,664 81,585 82,662 83,628 84,589 85,633 86,596 87,675 88,649 89,623 90,570 91,635 92,716 93,661 94,695 95,646 96,583 97,583 98,690 99,658 100,648 101,634 102,609 103,635 104,567 105,643 106,691 107,638 108,612 109,656 110,639 111,662 112,562 113,627 114,575 115,623 116,611 117,624 118,638 119,581 120,640 121,626 122,647 123,631 124,630 125,652 126,583 127,630 128,629 129,671 130,648 131,602 132,580 133,601 134,635 135,598 136,630 137,583 138,654 139,617 140,654 141,632 142,663 143,627 144,664 145,609 146,603 147,625 148,609 149,667 150,634 151,625 152,660 153,630 154,635 155,688 156,636 157,646 158,662 159,637 160,631 161,632 162,607 163,593 164,589 165,594 166,616 167,611 168,595 169,673 170,660 171,603 172,626 173,623 174,631 175,629 176,642 177,620 178,601 179,620 180,633 181,676 182,636 183,604 184,681 185,570 186,604 187,644 188,636 189,618 190,637 191,579 192,584 193,628 194,648 195,642 196,651 197,586 198,650 199,606 200,613 201,624 202,641 203,582 204,623 205,605 206,689 207,592 208,660 209,619 210,656 211,654 212,604 213,659 214,634 215,563 216,601 217,673 218,575 219,602 220,585 221,633 222,677 223,537 224,640 225,617 226,592 227,626 228,592 229,599 230,607 231,599 232,552 233,619 234,594 235,536 236,562 237,649 238,540 239,517 240,556 241,614 242,564 243,528 244,594 245,539 246,561 247,482 248,521 249,514 250,538 251,487 252,517 253,457 254,579 255,495 256,442 257,444 258,479 259,468 260,509 261,496 262,408 263,462 264,403 265,432 266,411 267,458 268,495 269,456 270,428 271,428 272,371 273,377 274,427 275,445 276,363 277,386 278,390 279,392 280,356 281,413 282,356 283,433 284,331 285,328 286,430 287,346 288,340 289,325 290,352 291,311 292,301 293,313 294,327 295,316 296,342 297,318 298,308 299,396 300,387 301,369 302,377 303,395 304,393 305,346 306,304 307,331 308,384 309,342 310,367 311,303 312,341 313,391 314,396 315,369 316,368 317,323 318,371 319,300 320,305 321,346 322,339 323,332 324,355 325,340 326,278 327,380 328,379 329,299 330,382 331,376 332,343 333,320 334,307 335,370 336,335 337,340 338,337 339,271 340,331 341,275 342,388 343,369 344,343 345,308 346,352 347,323 348,344 349,343 350,342 351,353 352,285 353,303 354,262 355,294 356,377 357,381 358,348 359,310 360,363 361,347 362,310 363,302 364,368 365,335 366,335 367,373 368,337 369,341 370,277 371,373 372,295 373,297 374,296 375,345 376,332 377,361 378,363 379,352 380,333 381,336 382,389 383,324 384,372 385,316 386,337 387,357 388,373 389,394 390,315 391,347 392,337 393,335 394,355 395,362 396,282 397,335 398,394 399,297 400,384 401,305 402,326 403,389 404,382 405,338 406,376 407,428 408,344 409,347 410,373 411,361 412,379 413,384 414,405 415,456 416,442 417,340 418,402 419,393 420,455 421,407 422,436 423,402 424,465 425,433 426,391 427,460 428,436 429,418 430,532 431,545 432,499 433,474 434,500 435,508 436,474 437,477 438,495 439,481 440,466 441,556 442,601 443,532 444,572 445,504 446,560 447,525 448,500 449,529 450,564 451,580 452,596 453,627 454,532 455,520 456,594 457,547 458,554 459,622 460,597 461,556 462,612 463,646 464,595 465,650 466,657 467,579 468,663 469,624 470,597 471,552 472,639 473,661 474,614 475,678 476,652 477,566 478,612 479,577 480,578 481,664 482,635 483,679 484,588 485,578 486,630 487,623 488,599 489,640 490,624 491,634 492,615 493,677 494,679 495,633 496,695 497,681 498,675 499,624 500,552 501,617 502,596 503,596 504,581 505,634 506,616 507,645 508,611 509,633 510,656 511,591 512,651 513,623 514,587 515,647 516,633 517,663 518,658 519,613 520,621 521,620 522,635 523,626 524,664 525,652 526,691 527,621 528,570 529,689 530,631 531,679 532,703 533,611 534,663 535,621 536,607 537,559 538,589 539,653 540,633 541,563 542,674 543,622 544,663 545,623 546,655 547,603 548,658 549,645 550,606 551,576 552,577 553,690 554,627 555,609 556,660 557,663 558,602 559,683 560,614 561,624 562,602 563,575 564,637 565,610 566,622 567,651 568,629 569,631 570,593 571,589 572,670 573,639 574,583 575,653 576,621 577,607 578,637 579,590 580,592 581,588 582,617 583,642 584,604 585,618 586,642 587,624 588,666 589,638 590,646 591,646 592,670 593,635 594,608 595,649 596,568 597,579 598,637 599,596 600,614 601,571 602,598 603,680 604,652 605,605 606,640 607,570 608,672 609,589 610,645 611,612 612,578 613,609 614,559 615,571 616,640 617,650 618,591 619,629 620,650 621,663 622,618 623,602 624,689 625,662 626,589 627,633 628,634 629,601 630,639 631,625 632,624 633,642 634,615 635,662 636,605 637,667 638,578 639,607 640,613 641,607 642,612 643,634 644,632 645,675 646,642 647,627 648,618 649,662 650,635 651,629 652,647 653,678 654,655 655,631 656,627 657,586 658,627 659,652 660,602 661,619 662,622 663,659 664,656 665,624 666,614 667,682 668,609 669,634 670,683 671,641 672,629 673,697 674,660 675,657 676,680 677,656 678,626 679,681 680,642 681,604 682,638 683,643 684,653 685,576 686,657 687,581 688,592 689,623 690,649 691,609 692,656 693,681 694,596 695,634 696,619 697,613 698,636 699,571" fill="none" stroke="#f00a1e" stroke-width="1.0"/>
<line x1="337.30" y1="565.10" x2="337.30" y2="632.30" stroke="#111" stroke-width="1.2" />
<line x1="336.80" y1="631.80" x2="443.50" y2="631.80" stroke="#111" stroke-width="1.25" />
<line x1="335.10" y1="631.50" x2="337.30" y2="631.50" stroke="#111" stroke-width="1.0" />
<line x1="335.10" y1="618.29" x2="337.30" y2="618.29" stroke="#111" stroke-width="1.0" />
<line x1="335.10" y1="605.08" x2="337.30" y2="605.08" stroke="#111" stroke-width="1.0" />
<line x1="335.10" y1="591.88" x2="337.30" y2="591.88" stroke="#111" stroke-width="1.0" />
<line x1="335.10" y1="578.67" x2="337.30" y2="578.67" stroke="#111" stroke-width="1.0" />
<line x1="335.10" y1="565.46" x2="337.30" y2="565.46" stroke="#111" stroke-width="1.0" />
<line x1="337.30" y1="631.80" x2="337.30" y2="634.40" stroke="#111" stroke-width="1.0" />
<line x1="382.01" y1="631.80" x2="382.01" y2="634.40" stroke="#111" stroke-width="1.0" />
<line x1="399.32" y1="631.80" x2="399.32" y2="634.40" stroke="#111" stroke-width="1.0" />
<line x1="443.50" y1="631.80" x2="443.50" y2="634.40" stroke="#111" stroke-width="1.0" />
<text x="390.40" y="571.60" font-size="9.2" text-anchor="middle" font-weight="normal" fill="#1a1a1a" stroke="#1a1a1a" stroke-width="0.12" >13048</text>
<polyline transform="translate(337.90 702.40) scale(0.15107 -0.06535)" vector-effect="non-scaling-stroke" points="0,618 1,614 2,589 3,617 4,615 5,642 6,589 7,625 8,679 9,643 10,686 11,622 12,665 13,611 14,629 15,644 16,577 17,659 18,596 19,629 20,671 21,681 22,625 23,640 24,578 25,691 26,643 27,641 28,629 29,615 30,670 31,639 32,644 33,659 34,624 35,621 36,635 37,652 38,600 39,598 40,602 41,621 42,634 43,621 44,616 45,683 46,654 47,666 48,638 49,654 50,620 51,633 52,648 53,621 54,687 55,629 56,615 57,622 58,675 59,630 60,651 61,644 62,604 63,620 64,662 65,656 66,583 67,619 68,619 69,612 70,612 71,660 72,594 73,669 74,613 75,667 76,627 77,616 78,586 79,620 80,674 81,610 82,663 83,628 84,639 85,610 86,656 87,689 88,627 89,667 90,646 91,630 92,638 93,652 94,602 95,592 96,622 97,649 98,672 99,627 100,603 101,578 102,602 103,601 104,651 105,582 106,629 107,634 108,625 109,609 110,649 111,615 112,590 113,637 114,604 115,599 116,677 117,660 118,667 119,621 120,615 121,587 122,602 123,642 124,653 125,628 126,646 127,649 128,648 129,678 130,641 131,684 132,653 133,641 134,657 135,626 136,619 137,625 138,684 139,609 140,659 141,616 142,641 143,636 144,620 145,635 146,681 147,640 148,623 149,615 150,631 151,659 152,661 153,578 154,590 155,614 156,627 157,644 158,626 159,616 160,612 161,632 162,688 163,652 164,665 165,672 166,619 167,671 168,663 169,624 170,622 171,603 172,628 173,627 174,641 175,658 176,642 177,652 178,668 179,651 180,596 181,656 182,630 183,602 184,644 185,619 186,676 187,652 188,644 189,597 190,634 191,576 192,650 193,595 194,648 195,606 196,635 197,634 198,639 199,625 200,616 201,664 202,575 203,601 204,640 205,656 206,661 207,577 208,624 209,594 210,583 211,593 212,648 213,618 214,627 215,564 216,622 217,602 218,619 219,595 220,587 221,611 222,583 223,604 224,611 225,639 226,582 227,624 228,628 229,584 230,594 231,589 232,573 233,640 234,615 235,579 236,622 237,592 238,584 239,532 240,552 241,543 242,575 243,576 244,568 245,582 246,522 247,528 248,556 249,493 250,573 251,499 252,520 253,553 254,500 255,544 256,456 257,451 258,488 259,478 260,435 261,454 262,425 263,513 264,436 265,435 266,469 267,443 268,421 269,386 270,417 271,364 272,424 273,376 274,401 275,492 276,341 277,402 278,377 279,328 280,330 281,342 282,362 283,367 284,338 285,354 286,376 287,373 288,347 289,390 290,370 291,357 292,336 293,317 294,346 295,309 296,354 297,305 298,300 299,307 300,346 301,322 302,298 303,292 304,274 305,330 306,337 307,328 308,314 309,306 310,346 311,286 312,318 313,336 314,309 315,284 316,272 317,294 318,306 319,252 320,346 321,350 322,264 323,354 324,286 325,319 326,305 327,330 328,311 329,339 330,331 331,311 332,283 333,285 334,311 335,318 336,363 337,302 338,296 339,313 340,348 341,298 342,340 343,307 344,292 345,321 346,299 347,262 348,296 349,304 350,308 351,335 352,256 353,324 354,313 355,295 356,315 357,291 358,297 359,289 360,296 361,353 362,330 363,314 364,319 365,306 366,274 367,339 368,342 369,317 370,312 371,339 372,311 373,275 374,329 375,284 376,361 377,328 378,301 379,287 380,332 381,269 382,324 383,335 384,321 385,296 386,271 387,353 388,284 389,354 390,356 391,326 392,340 393,316 394,320 395,303 396,357 397,383 398,323 399,283 400,359 401,338 402,324 403,349 404,301 405,364 406,299 407,303 408,390 409,381 410,344 411,337 412,322 413,415 414,384 415,387 416,356 417,342 418,427 419,363 420,380 421,421 422,412 423,393 424,433 425,440 426,490 427,464 428,428 429,471 430,467 431,464 432,414 433,447 434,449 435,534 436,534 437,487 438,511 439,517 440,535 441,550 442,513 443,574 444,567 445,543 446,545 447,571 448,582 449,544 450,553 451,619 452,571 453,535 454,618 455,625 456,608 457,549 458,567 459,571 460,539 461,647 462,602 463,642 464,632 465,643 466,589 467,616 468,660 469,605 470,623 471,594 472,601 473,594 474,602 475,599 476,593 477,613 478,618 479,639 480,616 481,624 482,607 483,597 484,661 485,590 486,615 487,595 488,681 489,600 490,645 491,630 492,599 493,588 494,611 495,586 496,607 497,668 498,606 499,629 500,644 501,624 502,650 503,625 504,672 505,595 506,614 507,622 508,650 509,611 510,633 511,650 512,606 513,673 514,631 515,625 516,616 517,577 518,587 519,581 520,618 521,663 522,672 523,595 524,688 525,613 526,627 527,645 528,652 529,600 530,678 531,606 532,639 533,649 534,678 535,664 536,641 537,649 538,624 539,648 540,621 541,632 542,645 543,639 544,612 545,607 546,612 547,634 548,582 549,656 550,615 551,690 552,641 553,595 554,656 555,630 556,579 557,582 558,615 559,617 560,640 561,649 562,663 563,656 564,634 565,662 566,681 567,619 568,645 569,670 570,619 571,680 572,678 573,586 574,676 575,636 576,636 577,655 578,584 579,679 580,617 581,639 582,604 583,631 584,640 585,633 586,639 587,641 588,686 589,649 590,666 591,646 592,639 593,624 594,626 595,642 596,607 597,589 598,662 599,662 600,641 601,615 602,580 603,638 604,610 605,602 606,671 607,605 608,595 609,625 610,613 611,569 612,650 613,618 614,648 615,683 616,629 617,624 618,667 619,622 620,637 621,616 622,641 623,613 624,643 625,658 626,606 627,628 628,654 629,615 630,637 631,650 632,631 633,676 634,598 635,657 636,599 637,612 638,647 639,617 640,644 641,665 642,609 643,658 644,679 645,672 646,591 647,668 648,603 649,603 650,653 651,610 652,633 653,606 654,628 655,624 656,626 657,612 658,620 659,575 660,637 661,638 662,683 663,637 664,619 665,626 666,670 667,648 668,615 669,645 670,660 671,659 672,634 673,639 674,636 675,645 676,615 677,615 678,653 679,660 680,654 681,632 682,605 683,621 684,645 685,657 686,630 687,644 688,614 689,641 690,595 691,671 692,600 693,661 694,600 695,650 696,614 697,633 698,631 699,652" fill="none" stroke="#1414ff" stroke-width="1.0"/>
<polyline transform="translate(337.90 702.40) scale(0.15107 -0.06535)" vector-effect="non-scaling-stroke" points="0,661 1,639 2,664 3,601 4,625 5,665 6,636 7,664 8,670 9,599 10,615 11,669 12,591 13,590 14,651 15,650 16,630 17,615 18,628 19,712 20,665 21,594 22,617 23,584 24,584 25,673 26,653 27,623 28,613 29,638 30,689 31,589 32,645 33,622 34,676 35,617 36,658 37,650 38,684 39,587 40,639 41,675 42,649 43,686 44,647 45,624 46,641 47,676 48,632 49,634 50,625 51,626 52,630 53,694 54,636 55,686 56,674 57,674 58,641 59,668 60,655 61,651 62,575 63,641 64,615 65,640 66,635 67,634 68,663 69,648 70,641 71,643 72,650 73,674 74,627 75,639 76,627 77,708 78,613 79,625 80,618 81,679 82,666 83,624 84,606 85,667 86,659 87,614 88,591 89,644 90,621 91,631 92,589 93,655 94,614 95,644 96,641 97,670 98,652 99,634 100,597 101,656 102,643 103,604 104,628 105,669 106,593 107,705 108,619 109,608 110,611 111,640 112,629 113,613 114,659 115,586 116,574 117,625 118,630 119,597 120,631 121,657 122,619 123,603 124,649 125,611 126,637 127,608 128,611 129,624 130,626 131,629 132,689 133,635 134,656 135,620 136,690 137,631 138,625 139,638 140,651 141,602 142,663 143,633 144,639 145,633 146,571 147,616 148,631 149,647 150,684 151,648 152,649 153,688 154,645 155,640 156,651 157,690 158,628 159,636 160,689 161,696 162,681 163,635 164,631 165,687 166,600 167,600 168,607 169,628 170,688 171,631 172,636 173,644 174,581 175,645 176,631 177,650 178,585 179,688 180,688 181,612 182,643 183,602 184,611 185,625 186,649 187,608 188,658 189,652 190,653 191,676 192,604 193,677 194,644 195,614 196,634 197,567 198,693 199,645 200,622 201,672 202,629 203,561 204,595 205,589 206,639 207,634 208,576 209,618 210,574 211,620 212,620 213,625 214,678 215,563 216,669 217,586 218,588 219,563 220,661 221,629 222,649 223,680 224,634 225,621 226,635 227,664 228,633 229,600 230,630 231,643 232,668 233,619 234,624 235,625 236,590 237,578 238,664 239,669 240,572 241,639 242,641 243,657 244,583 245,639 246,593 247,638 248,624 249,605 250,574 251,583 252,554 253,583 254,561 255,553 256,616 257,590 258,625 259,533 260,557 261,530 262,536 263,553 264,627 265,646 266,520 267,604 268,579 269,569 270,508 271,592 272,501 273,546 274,578 275,612 276,553 277,564 278,559 279,498 280,551 281,562 282,545 283,581 284,510 285,578 286,520 287,565 288,544 289,490 290,480 291,561 292,574 293,570 294,538 295,517 296,504 297,511 298,530 299,538 300,546 301,514 302,523 303,480 304,548 305,533 306,496 307,481 308,536 309,526 310,502 311,528 312,572 313,571 314,554 315,511 316,596 317,580 318,542 319,524 320,526 321,555 322,537 323,606 324,595 325,506 326,515 327,531 328,488 329,483 330,479 331,565 332,558 333,543 334,555 335,476 336,555 337,528 338,543 339,504 340,494 341,514 342,521 343,557 344,468 345,502 346,573 347,522 348,514 349,523 350,560 351,531 352,482 353,512 354,520 355,472 356,574 357,469 358,497 359,526 360,506 361,489 362,498 363,565 364,520 365,517 366,473 367,542 368,524 369,526 370,526 371,542 372,496 373,498 374,552 375,507 376,560 377,560 378,563 379,536 380,579 381,513 382,482 383,521 384,509 385,542 386,544 387,548 388,464 389,577 390,475 391,494 392,515 393,464 394,510 395,518 396,538 397,556 398,486 399,493 400,526 401,542 402,552 403,575 404,536 405,502 406,534 407,536 408,537 409,547 410,522 411,531 412,518 413,568 414,545 415,584 416,508 417,563 418,510 419,500 420,498 421,577 422,560 423,565 424,593 425,611 426,525 427,616 428,582 429,613 430,573 431,537 432,579 433,597 434,642 435,591 436,535 437,570 438,608 439,538 440,618 441,627 442,647 443,599 444,611 445,586 446,648 447,594 448,640 449,651 450,650 451,645 452,616 453,679 454,611 455,601 456,581 457,580 458,656 459,576 460,588 461,659 462,560 463,674 464,649 465,587 466,626 467,616 468,600 469,632 470,652 471,625 472,656 473,626 474,645 475,634 476,607 477,660 478,699 479,586 480,695 481,598 482,648 483,640 484,615 485,635 486,687 487,636 488,585 489,647 490,596 491,641 492,664 493,653 494,609 495,701 496,675 497,620 498,581 499,596 500,610 501,657 502,631 503,663 504,691 505,641 506,626 507,615 508,557 509,582 510,634 511,589 512,593 513,605 514,669 515,608 516,662 517,596 518,567 519,633 520,635 521,622 522,625 523,603 524,659 525,679 526,604 527,616 528,576 529,601 530,608 531,609 532,580 533,648 534,656 535,634 536,682 537,615 538,644 539,648 540,588 541,620 542,653 543,636 544,637 545,653 546,619 547,656 548,637 549,637 550,633 551,640 552,638 553,627 554,653 555,620 556,575 557,574 558,650 559,656 560,621 561,642 562,573 563,640 564,611 565,592 566,649 567,690 568,604 569,567 570,679 571,579 572,597 573,622 574,685 575,667 576,668 577,586 578,641 579,593 580,592 581,633 582,672 583,618 584,611 585,575 586,623 587,598 588,565 589,635 590,588 591,667 592,637 593,622 594,647 595,596 596,638 597,668 598,617 599,614 600,601 601,636 602,633 603,605 604,615 605,556 606,600 607,588 608,675 609,629 610,627 611,634 612,626 613,658 614,651 615,678 616,591 617,613 618,648 619,659 620,643 621,639 622,586 623,651 624,669 625,622 626,663 627,588 628,631 629,656 630,651 631,599 632,597 633,628 634,659 635,576 636,665 637,656 638,561 639,650 640,597 641,628 642,632 643,619 644,643 645,587 646,655 647,658 648,667 649,673 650,614 651,582 652,644 653,632 654,643 655,617 656,629 657,627 658,633 659,589 660,641 661,674 662,616 663,578 664,652 665,686 666,658 667,646 668,683 669,621 670,631 671,588 672,608 673,597 674,636 675,643 676,622 677,601 678,665 679,673 680,669 681,631 682,627 683,625 684,607 685,601 686,635 687,664 688,635 689,623 690,623 691,622 692,654 693,688 694,587 695,664 696,622 697,584 698,659 699,584" fill="none" stroke="#f00a1e" stroke-width="1.0"/>
<line x1="337.30" y1="636.70" x2="337.30" y2="703.20" stroke="#111" stroke-width="1.2" />
<line x1="336.80" y1="702.70" x2="443.50" y2="702.70" stroke="#111" stroke-width="1.25" />
<line x1="335.10" y1="702.40" x2="337.30" y2="702.40" stroke="#111" stroke-width="1.0" />
<line x1="335.10" y1="689.33" x2="337.30" y2="689.33" stroke="#111" stroke-width="1.0" />
<line x1="335.10" y1="676.26" x2="337.30" y2="676.26" stroke="#111" stroke-width="1.0" />
<line x1="335.10" y1="663.19" x2="337.30" y2="663.19" stroke="#111" stroke-width="1.0" />
<line x1="335.10" y1="650.12" x2="337.30" y2="650.12" stroke="#111" stroke-width="1.0" />
<line x1="335.10" y1="637.05" x2="337.30" y2="637.05" stroke="#111" stroke-width="1.0" />
<line x1="337.30" y1="702.70" x2="337.30" y2="705.30" stroke="#111" stroke-width="1.0" />
<line x1="382.01" y1="702.70" x2="382.01" y2="705.30" stroke="#111" stroke-width="1.0" />
<line x1="399.32" y1="702.70" x2="399.32" y2="705.30" stroke="#111" stroke-width="1.0" />
<line x1="443.50" y1="702.70" x2="443.50" y2="705.30" stroke="#111" stroke-width="1.0" />
<text x="338.10" y="713.80" font-size="9.4" text-anchor="start" font-weight="normal" fill="#1a1a1a" stroke="#1a1a1a" stroke-width="0.12" >-5kb</text>
<text x="391.46" y="713.80" font-size="9.4" text-anchor="middle" font-weight="normal" fill="#1a1a1a" stroke="#1a1a1a" stroke-width="0.12" >CpGI</text>
<text x="442.70" y="713.80" font-size="9.4" text-anchor="end" font-weight="normal" fill="#1a1a1a" stroke="#1a1a1a" stroke-width="0.12" >5kb</text>
<polyline transform="translate(483.50 631.50) scale(0.15107 -0.06604)" vector-effect="non-scaling-stroke" points="0,667 1,593 2,644 3,626 4,633 5,604 6,628 7,628 8,654 9,662 10,662 11,679 12,630 13,648 14,629 15,653 16,614 17,672 18,646 19,626 20,638 21,645 22,652 23,636 24,646 25,647 26,639 27,647 28,654 29,642 30,624 31,647 32,588 33,650 34,689 35,649 36,653 37,618 38,631 39,659 40,617 41,617 42,590 43,640 44,631 45,623 46,596 47,609 48,604 49,637 50,602 51,633 52,652 53,614 54,649 55,628 56,622 57,588 58,638 59,642 60,599 61,625 62,601 63,653 64,670 65,627 66,632 67,594 68,620 69,656 70,637 71,629 72,606 73,618 74,670 75,620 76,662 77,570 78,614 79,585 80,611 81,614 82,596 83,635 84,627 85,625 86,627 87,641 88,586 89,646 90,626 91,663 92,652 93,614 94,627 95,648 96,684 97,600 98,641 99,635 100,601 101,662 102,577 103,600 104,648 105,632 106,619 107,645 108,662 109,608 110,639 111,583 112,615 113,639 114,661 115,647 116,661 117,650 118,658 119,636 120,652 121,646 122,616 123,612 124,597 125,642 126,670 127,633 128,655 129,687 130,661 131,658 132,655 133,642 134,636 135,614 136,597 137,579 138,654 139,578 140,660 141,602 142,658 143,641 144,655 145,610 146,591 147,642 148,640 149,624 150,590 151,672 152,610 153,631 154,610 155,664 156,639 157,665 158,614 159,649 160,620 161,616 162,599 163,658 164,651 165,628 166,573 167,608 168,646 169,650 170,606 171,604 172,663 173,643 174,648 175,607 176,635 177,628 178,661 179,602 180,648 181,598 182,614 183,623 184,573 185,634 186,603 187,575 188,616 189,597 190,610 191,633 192,600 193,650 194,652 195,591 196,637 197,609 198,615 199,594 200,671 201,605 202,650 203,618 204,585 205,569 206,663 207,658 208,658 209,662 210,602 211,642 212,596 213,646 214,657 215,584 216,580 217,641 218,654 219,645 220,611 221,604 222,604 223,648 224,672 225,615 226,575 227,668 228,628 229,623 230,609 231,649 232,629 233,610 234,606 235,627 236,655 237,581 238,595 239,572 240,598 241,615 242,617 243,579 244,646 245,593 246,608 247,602 248,602 249,595 250,608 251,556 252,556 253,595 254,549 255,533 256,583 257,547 258,600 259,591 260,519 261,568 262,556 263,560 264,512 265,549 266,561 267,501 268,534 269,538 270,540 271,499 272,555 273,550 274,499 275,587 276,489 277,483 278,482 279,514 280,543 281,477 282,482 283,553 284,513 285,498 286,550 287,518 288,522 289,511 290,503 291,527 292,498 293,524 294,493 295,484 296,509 297,495 298,494 299,527 300,482 301,473 302,469 303,490 304,539 305,482 306,503 307,463 308,530 309,505 310,458 311,530 312,521 313,522 314,459 315,473 316,516 317,496 318,542 319,487 320,498 321,489 322,481 323,486 324,482 325,487 326,514 327,505 328,506 329,477 330,457 331,495 332,518 333,511 334,478 335,517 336,479 337,482 338,494 339,501 340,527 341,526 342,451 343,515 344,456 345,448 346,537 347,505 348,514 349,512 350,501 351,487 352,501 353,483 354,532 355,510 356,510 357,452 358,488 359,460 360,548 361,501 362,478 363,451 364,483 365,490 366,493 367,422 368,463 369,509 370,441 371,520 372,442 373,459 374,464 375,533 376,465 377,460 378,457 379,475 380,526 381,459 382,471 383,527 384,474 385,513 386,523 387,496 388,525 389,523 390,487 391,495 392,545 393,517 394,540 395,528 396,495 397,500 398,495 399,488 400,495 401,508 402,515 403,555 404,503 405,500 406,515 407,526 408,496 409,488 410,546 411,465 412,470 413,503 414,526 415,486 416,513 417,537 418,521 419,495 420,521 421,495 422,535 423,559 424,507 425,513 426,499 427,570 428,521 429,570 430,525 431,511 432,546 433,566 434,613 435,614 436,567 437,576 438,598 439,524 440,534 441,579 442,567 443,617 444,633 445,631 446,588 447,589 448,570 449,593 450,584 451,599 452,575 453,548 454,635 455,595 456,590 457,642 458,623 459,588 460,599 461,604 462,605 463,613 464,600 465,592 466,622 467,584 468,596 469,568 470,628 471,591 472,571 473,615 474,580 475,674 476,631 477,608 478,601 479,598 480,621 481,660 482,612 483,627 484,637 485,625 486,635 487,582 488,587 489,602 490,633 491,621 492,637 493,602 494,660 495,672 496,642 497,640 498,595 499,628 500,651 501,604 502,616 503,611 504,627 505,587 506,607 507,636 508,629 509,597 510,576 511,633 512,646 513,621 514,619 515,635 516,607 517,593 518,601 519,662 520,599 521,665 522,718 523,663 524,646 525,644 526,623 527,648 528,617 529,635 530,636 531,634 532,611 533,663 534,625 535,618 536,683 537,651 538,619 539,600 540,665 541,602 542,649 543,684 544,667 545,583 546,620 547,645 548,621 549,613 550,651 551,648 552,716 553,640 554,624 555,598 556,630 557,627 558,637 559,623 560,623 561,594 562,623 563,575 564,582 565,649 566,625 567,605 568,643 569,641 570,595 571,617 572,635 573,589 574,612 575,635 576,628 577,615 578,615 579,640 580,617 581,597 582,642 583,609 584,620 585,677 586,632 587,661 588,663 589,624 590,634 591,657 592,687 593,589 594,617 595,616 596,659 597,662 598,657 599,653 600,671 601,646 602,634 603,637 604,598 605,635 606,627 607,624 608,608 609,650 610,676 611,644 612,607 613,613 614,594 615,649 616,617 617,591 618,581 619,637 620,660 621,613 622,660 623,678 624,660 625,616 626,575 627,671 628,616 629,615 630,678 631,686 632,634 633,611 634,649 635,611 636,639 637,613 638,589 639,623 640,667 641,598 642,647 643,619 644,589 645,630 646,609 647,583 648,664 649,612 650,602 651,683 652,642 653,661 654,674 655,623 656,600 657,597 658,605 659,625 660,661 661,670 662,629 663,638 664,569 665,614 666,650 667,583 668,584 669,649 670,672 671,656 672,632 673,585 674,585 675,612 676,660 677,640 678,645 679,588 680,648 681,676 682,628 683,669 684,622 685,606 686,598 687,640 688,623 689,568 690,620 691,680 692,616 693,636 694,638 695,608 696,579 697,601 698,597 699,649" fill="none" stroke="#1414ff" stroke-width="1.0"/>
<polyline transform="translate(483.50 631.50) scale(0.15107 -0.06604)" vector-effect="non-scaling-stroke" points="0,652 1,679 2,674 3,675 4,694 5,665 6,675 7,685 8,644 9,668 10,682 11,644 12,603 13,575 14,681 15,639 16,567 17,612 18,656 19,638 20,650 21,619 22,626 23,656 24,613 25,697 26,608 27,640 28,628 29,600 30,642 31,637 32,603 33,645 34,630 35,655 36,642 37,643 38,577 39,601 40,658 41,646 42,646 43,646 44,659 45,587 46,664 47,652 48,613 49,664 50,625 51,632 52,645 53,668 54,644 55,670 56,689 57,640 58,585 59,573 60,641 61,593 62,632 63,587 64,617 65,629 66,637 67,617 68,691 69,697 70,672 71,638 72,607 73,589 74,615 75,600 76,603 77,688 78,623 79,579 80,682 81,604 82,696 83,636 84,636 85,591 86,667 87,626 88,614 89,645 90,601 91,666 92,612 93,628 94,645 95,653 96,635 97,694 98,625 99,651 100,644 101,654 102,618 103,624 104,662 105,635 106,676 107,640 108,671 109,642 110,633 111,611 112,657 113,673 114,657 115,641 116,650 117,619 118,641 119,679 120,662 121,660 122,678 123,662 124,630 125,603 126,658 127,631 128,577 129,606 130,668 131,660 132,678 133,632 134,600 135,680 136,627 137,663 138,655 139,678 140,663 141,579 142,700 143,667 144,674 145,599 146,611 147,665 148,595 149,635 150,603 151,572 152,619 153,598 154,684 155,602 156,632 157,619 158,615 159,646 160,627 161,609 162,690 163,654 164,632 165,578 166,639 167,591 168,669 169,668 170,604 171,648 172,684 173,666 174,652 175,666 176,616 177,645 178,704 179,635 180,670 181,642 182,617 183,674 184,575 185,644 186,648 187,637 188,688 189,633 190,678 191,648 192,565 193,592 194,616 195,703 196,629 197,640 198,621 199,628 200,621 201,601 202,692 203,636 204,677 205,627 206,606 207,670 208,628 209,650 210,582 211,643 212,627 213,629 214,504 215,608 216,629 217,628 218,639 219,592 220,661 221,601 222,554 223,618 224,611 225,641 226,617 227,611 228,613 229,642 230,662 231,609 232,595 233,625 234,656 235,615 236,611 237,594 238,571 239,553 240,513 241,572 242,564 243,573 244,573 245,538 246,582 247,557 248,556 249,535 250,571 251,493 252,523 253,530 254,518 255,492 256,554 257,492 258,532 259,464 260,458 261,474 262,443 263,506 264,464 265,432 266,453 267,476 268,395 269,496 270,507 271,407 272,413 273,401 274,413 275,437 276,415 277,454 278,411 279,388 280,383 281,375 282,443 283,363 284,423 285,348 286,388 287,375 288,330 289,345 290,392 291,377 292,361 293,357 294,326 295,329 296,362 297,397 298,363 299,405 300,296 301,409 302,329 303,389 304,364 305,299 306,363 307,387 308,389 309,373 310,371 311,353 312,348 313,352 314,332 315,389 316,346 317,397 318,320 319,311 320,326 321,335 322,360 323,368 324,310 325,326 326,328 327,340 328,329 329,355 330,347 331,361 332,350 333,301 334,292 335,387 336,367 337,291 338,350 339,331 340,400 341,401 342,362 343,304 344,340 345,356 346,322 347,334 348,373 349,372 350,336 351,363 352,318 353,364 354,342 355,364 356,352 357,377 358,321 359,348 360,335 361,344 362,382 363,371 364,338 365,351 366,355 367,347 368,363 369,360 370,354 371,388 372,342 373,315 374,290 375,360 376,336 377,352 378,397 379,329 380,380 381,356 382,320 383,369 384,337 385,316 386,338 387,331 388,428 389,432 390,330 391,340 392,373 393,392 394,369 395,384 396,342 397,351 398,358 399,382 400,361 401,390 402,394 403,374 404,397 405,390 406,348 407,356 408,415 409,384 410,384 411,440 412,417 413,422 414,403 415,379 416,395 417,417 418,438 419,449 420,473 421,460 422,420 423,433 424,439 425,408 426,470 427,435 428,509 429,495 430,467 431,493 432,514 433,543 434,524 435,518 436,473 437,588 438,530 439,517 440,572 441,618 442,607 443,523 444,515 445,579 446,601 447,609 448,627 449,553 450,579 451,569 452,537 453,571 454,592 455,600 456,575 457,641 458,630 459,635 460,642 461,655 462,634 463,551 464,625 465,554 466,612 467,622 468,619 469,605 470,625 471,674 472,629 473,612 474,615 475,665 476,649 477,642 478,611 479,667 480,661 481,601 482,649 483,655 484,619 485,671 486,683 487,610 488,631 489,642 490,616 491,626 492,583 493,655 494,647 495,698 496,682 497,605 498,619 499,658 500,588 501,651 502,652 503,599 504,614 505,625 506,676 507,639 508,607 509,602 510,655 511,595 512,658 513,618 514,635 515,652 516,642 517,611 518,637 519,650 520,654 521,657 522,621 523,695 524,642 525,623 526,624 527,617 528,649 529,702 530,675 531,626 532,583 533,592 534,656 535,634 536,661 537,658 538,607 539,640 540,663 541,671 542,636 543,665 544,617 545,666 546,662 547,598 548,633 549,624 550,585 551,622 552,628 553,688 554,698 555,676 556,676 557,670 558,667 559,610 560,682 561,664 562,625 563,712 564,685 565,650 566,692 567,648 568,657 569,686 570,647 571,637 572,636 573,604 574,589 575,579 576,585 577,617 578,628 579,568 580,606 581,671 582,678 583,657 584,600 585,648 586,648 587,628 588,645 589,654 590,687 591,581 592,587 593,624 594,643 595,580 596,631 597,610 598,643 599,694 600,680 601,589 602,707 603,690 604,693 605,649 606,684 607,659 608,647 609,688 610,606 611,671 612,621 613,640 614,668 615,596 616,625 617,627 618,567 619,665 620,644 621,620 622,638 623,712 624,615 625,684 626,653 627,661 628,647 629,647 630,635 631,675 632,677 633,619 634,651 635,607 636,630 637,619 638,564 639,608 640,690 641,578 642,649 643,611 644,613 645,613 646,617 647,639 648,594 649,606 650,667 651,679 652,571 653,584 654,681 655,640 656,635 657,615 658,637 659,643 660,655 661,649 662,650 663,643 664,683 665,654 666,643 667,698 668,677 669,648 670,599 671,627 672,677 673,695 674,590 675,688 676,651 677,651 678,577 679,602 680,654 681,673 682,631 683,693 684,602 685,587 686,596 687,683 688,575 689,658 690,670 691,603 692,647 693,622 694,630 695,626 696,637 697,655 698,643 699,664" fill="none" stroke="#f00a1e" stroke-width="1.0"/>
<line x1="482.90" y1="565.10" x2="482.90" y2="632.30" stroke="#111" stroke-width="1.2" />
<line x1="482.40" y1="631.80" x2="589.10" y2="631.80" stroke="#111" stroke-width="1.25" />
<line x1="480.70" y1="631.50" x2="482.90" y2="631.50" stroke="#111" stroke-width="1.0" />
<line x1="480.70" y1="618.29" x2="482.90" y2="618.29" stroke="#111" stroke-width="1.0" />
<line x1="480.70" y1="605.08" x2="482.90" y2="605.08" stroke="#111" stroke-width="1.0" />
<line x1="480.70" y1="591.88" x2="482.90" y2="591.88" stroke="#111" stroke-width="1.0" />
<line x1="480.70" y1="578.67" x2="482.90" y2="578.67" stroke="#111" stroke-width="1.0" />
<line x1="480.70" y1="565.46" x2="482.90" y2="565.46" stroke="#111" stroke-width="1.0" />
<line x1="482.90" y1="631.80" x2="482.90" y2="634.40" stroke="#111" stroke-width="1.0" />
<line x1="527.61" y1="631.80" x2="527.61" y2="634.40" stroke="#111" stroke-width="1.0" />
<line x1="544.92" y1="631.80" x2="544.92" y2="634.40" stroke="#111" stroke-width="1.0" />
<line x1="589.10" y1="631.80" x2="589.10" y2="634.40" stroke="#111" stroke-width="1.0" />
<text x="536.00" y="571.60" font-size="9.2" text-anchor="middle" font-weight="normal" fill="#1a1a1a" stroke="#1a1a1a" stroke-width="0.12" >14694</text>
<polyline transform="translate(483.50 702.40) scale(0.15107 -0.06535)" vector-effect="non-scaling-stroke" points="0,592 1,600 2,635 3,683 4,638 5,634 6,590 7,663 8,637 9,630 10,662 11,625 12,638 13,617 14,604 15,625 16,636 17,629 18,650 19,575 20,606 21,677 22,632 23,654 24,631 25,619 26,636 27,662 28,673 29,589 30,640 31,633 32,585 33,621 34,624 35,676 36,627 37,637 38,625 39,630 40,618 41,680 42,640 43,631 44,652 45,585 46,657 47,615 48,614 49,585 50,587 51,629 52,611 53,617 54,611 55,656 56,650 57,593 58,589 59,651 60,627 61,650 62,618 63,680 64,622 65,620 66,644 67,647 68,666 69,604 70,630 71,614 72,639 73,607 74,599 75,597 76,647 77,626 78,635 79,621 80,672 81,660 82,636 83,638 84,607 85,634 86,635 87,669 88,606 89,676 90,673 91,673 92,583 93,677 94,639 95,591 96,578 97,645 98,660 99,638 100,615 101,642 102,645 103,582 104,676 105,652 106,639 107,622 108,597 109,616 110,629 111,669 112,609 113,592 114,639 115,644 116,621 117,680 118,633 119,604 120,625 121,654 122,597 123,675 124,589 125,632 126,643 127,643 128,673 129,668 130,655 131,609 132,622 133,659 134,628 135,609 136,630 137,660 138,582 139,657 140,656 141,617 142,577 143,587 144,649 145,629 146,670 147,615 148,663 149,623 150,671 151,649 152,612 153,633 154,585 155,598 156,633 157,690 158,655 159,588 160,633 161,612 162,632 163,620 164,672 165,606 166,599 167,670 168,622 169,611 170,578 171,626 172,627 173,590 174,625 175,617 176,672 177,647 178,616 179,669 180,595 181,666 182,652 183,596 184,628 185,660 186,629 187,595 188,647 189,630 190,569 191,612 192,601 193,594 194,616 195,625 196,654 197,625 198,625 199,600 200,639 201,601 202,680 203,631 204,576 205,637 206,618 207,645 208,667 209,664 210,679 211,675 212,605 213,631 214,628 215,622 216,636 217,619 218,618 219,680 220,561 221,645 222,628 223,642 224,633 225,589 226,624 227,593 228,584 229,625 230,627 231,615 232,670 233,660 234,587 235,623 236,645 237,591 238,644 239,609 240,589 241,649 242,604 243,612 244,591 245,618 246,592 247,640 248,586 249,619 250,556 251,595 252,620 253,595 254,576 255,639 256,612 257,568 258,584 259,623 260,537 261,563 262,554 263,596 264,604 265,615 266,563 267,583 268,639 269,558 270,559 271,544 272,556 273,574 274,534 275,596 276,508 277,558 278,533 279,544 280,567 281,572 282,515 283,534 284,531 285,562 286,554 287,570 288,563 289,555 290,509 291,568 292,588 293,584 294,568 295,554 296,530 297,557 298,566 299,508 300,528 301,566 302,542 303,576 304,544 305,561 306,534 307,502 308,584 309,575 310,571 311,576 312,560 313,536 314,581 315,578 316,552 317,538 318,568 319,590 320,547 321,526 322,566 323,556 324,534 325,570 326,579 327,522 328,557 329,544 330,568 331,569 332,567 333,550 334,543 335,579 336,508 337,549 338,488 339,595 340,602 341,583 342,503 343,559 344,569 345,600 346,574 347,558 348,510 349,540 350,519 351,545 352,525 353,563 354,555 355,535 356,563 357,578 358,557 359,593 360,545 361,575 362,557 363,536 364,572 365,517 366,567 367,522 368,560 369,490 370,506 371,570 372,560 373,547 374,590 375,521 376,591 377,564 378,585 379,572 380,605 381,554 382,547 383,576 384,523 385,551 386,544 387,606 388,558 389,544 390,587 391,565 392,548 393,528 394,572 395,581 396,555 397,515 398,537 399,559 400,548 401,562 402,530 403,548 404,589 405,558 406,538 407,528 408,522 409,574 410,578 411,607 412,565 413,565 414,588 415,554 416,615 417,573 418,584 419,544 420,602 421,579 422,587 423,584 424,622 425,577 426,604 427,554 428,564 429,621 430,594 431,546 432,537 433,613 434,573 435,624 436,596 437,594 438,615 439,541 440,548 441,609 442,642 443,638 444,605 445,624 446,611 447,632 448,655 449,582 450,567 451,566 452,548 453,613 454,611 455,569 456,638 457,608 458,583 459,594 460,579 461,615 462,607 463,620 464,580 465,666 466,622 467,644 468,667 469,581 470,611 471,619 472,565 473,633 474,657 475,635 476,613 477,643 478,612 479,601 480,630 481,631 482,583 483,624 484,635 485,626 486,565 487,609 488,621 489,603 490,659 491,604 492,571 493,651 494,646 495,582 496,577 497,642 498,608 499,634 500,649 501,662 502,643 503,602 504,616 505,607 506,637 507,592 508,581 509,588 510,620 511,654 512,598 513,617 514,673 515,618 516,606 517,577 518,580 519,649 520,600 521,630 522,606 523,627 524,656 525,572 526,600 527,631 528,612 529,605 530,619 531,615 532,596 533,596 534,595 535,618 536,583 537,624 538,604 539,611 540,602 541,632 542,630 543,630 544,625 545,643 546,604 547,601 548,649 549,670 550,578 551,600 552,670 553,628 554,585 555,635 556,652 557,667 558,647 559,631 560,605 561,588 562,629 563,623 564,601 565,655 566,613 567,578 568,577 569,676 570,642 571,620 572,605 573,647 574,613 575,589 576,648 577,598 578,643 579,609 580,612 581,629 582,669 583,599 584,612 585,615 586,633 587,624 588,644 589,617 590,614 591,594 592,610 593,633 594,621 595,585 596,624 597,636 598,595 599,605 600,625 601,623 602,626 603,673 604,646 605,604 606,604 607,648 608,603 609,622 610,671 611,561 612,640 613,628 614,613 615,592 616,648 617,609 618,631 619,648 620,615 621,620 622,635 623,633 624,598 625,597 626,648 627,623 628,568 629,671 630,651 631,650 632,591 633,612 634,662 635,624 636,656 637,647 638,600 639,567 640,639 641,626 642,609 643,611 644,599 645,635 646,587 647,624 648,650 649,609 650,655 651,617 652,607 653,653 654,623 655,630 656,656 657,633 658,606 659,630 660,608 661,648 662,655 663,626 664,569 665,659 666,618 667,615 668,566 669,655 670,591 671,574 672,653 673,633 674,613 675,618 676,632 677,621 678,591 679,642 680,646 681,624 682,605 683,669 684,616 685,612 686,623 687,581 688,591 689,638 690,628 691,625 692,640 693,648 694,598 695,660 696,596 697,589 698,654 699,597" fill="none" stroke="#1414ff" stroke-width="1.0"/>
<polyline transform="translate(483.50 702.40) scale(0.15107 -0.06535)" vector-effect="non-scaling-stroke" points="0,708 1,633 2,626 3,642 4,662 5,704 6,636 7,622 8,706 9,640 10,667 11,689 12,659 13,630 14,642 15,622 16,615 17,703 18,640 19,592 20,645 21,619 22,671 23,635 24,685 25,650 26,622 27,640 28,634 29,617 30,647 31,636 32,627 33,669 34,635 35,607 36,673 37,705 38,673 39,640 40,655 41,621 42,652 43,660 44,640 45,610 46,609 47,655 48,670 49,689 50,608 51,644 52,598 53,613 54,675 55,664 56,651 57,678 58,599 59,632 60,587 61,638 62,654 63,624 64,583 65,702 66,610 67,688 68,675 69,659 70,620 71,673 72,655 73,619 74,634 75,631 76,688 77,633 78,628 79,638 80,675 81,725 82,683 83,593 84,637 85,639 86,697 87,650 88,676 89,643 90,633 91,656 92,609 93,661 94,695 95,708 96,613 97,668 98,654 99,644 100,695 101,632 102,695 103,643 104,600 105,674 106,638 107,710 108,632 109,598 110,639 111,661 112,663 113,696 114,645 115,608 116,620 117,670 118,640 119,621 120,641 121,612 122,678 123,656 124,682 125,613 126,676 127,693 128,658 129,690 130,647 131,649 132,666 133,649 134,677 135,681 136,700 137,629 138,641 139,605 140,632 141,667 142,603 143,603 144,703 145,662 146,590 147,687 148,590 149,635 150,651 151,641 152,620 153,613 154,629 155,612 156,659 157,646 158,668 159,652 160,705 161,598 162,648 163,594 164,665 165,626 166,658 167,623 168,666 169,613 170,662 171,701 172,632 173,616 174,698 175,715 176,609 177,649 178,617 179,635 180,595 181,706 182,703 183,646 184,591 185,634 186,637 187,693 188,660 189,592 190,642 191,598 192,617 193,686 194,603 195,622 196,646 197,590 198,675 199,627 200,614 201,690 202,648 203,665 204,716 205,642 206,689 207,668 208,619 209,586 210,652 211,607 212,642 213,652 214,608 215,633 216,616 217,564 218,576 219,596 220,643 221,631 222,590 223,664 224,655 225,641 226,649 227,579 228,631 229,553 230,619 231,612 232,605 233,589 234,566 235,542 236,654 237,623 238,629 239,575 240,571 241,598 242,606 243,628 244,609 245,601 246,522 247,532 248,527 249,568 250,499 251,512 252,495 253,517 254,535 255,476 256,525 257,492 258,526 259,444 260,450 261,479 262,456 263,458 264,447 265,442 266,430 267,425 268,419 269,370 270,453 271,379 272,415 273,352 274,452 275,386 276,319 277,334 278,426 279,335 280,373 281,373 282,314 283,353 284,378 285,405 286,357 287,356 288,335 289,344 290,357 291,401 292,324 293,363 294,287 295,321 296,357 297,315 298,268 299,317 300,355 301,303 302,335 303,359 304,276 305,293 306,324 307,349 308,288 309,311 310,341 311,319 312,379 313,351 314,254 315,330 316,294 317,347 318,252 319,312 320,332 321,366 322,295 323,304 324,297 325,340 326,288 327,338 328,259 329,336 330,353 331,291 332,339 333,297 334,322 335,320 336,247 337,314 338,308 339,276 340,223 341,297 342,335 343,377 344,305 345,365 346,308 347,260 348,304 349,253 350,267 351,302 352,321 353,355 354,361 355,297 356,322 357,343 358,271 359,339 360,311 361,339 362,342 363,358 364,250 365,321 366,325 367,382 368,331 369,344 370,281 371,336 372,263 373,296 374,309 375,281 376,319 377,251 378,267 379,319 380,266 381,358 382,328 383,295 384,332 385,363 386,347 387,336 388,307 389,384 390,416 391,335 392,299 393,354 394,324 395,331 396,357 397,316 398,375 399,314 400,334 401,300 402,351 403,353 404,382 405,356 406,352 407,385 408,412 409,328 410,353 411,402 412,376 413,371 414,410 415,377 416,454 417,344 418,355 419,402 420,401 421,443 422,373 423,385 424,468 425,436 426,464 427,400 428,427 429,481 430,532 431,469 432,508 433,528 434,516 435,478 436,469 437,524 438,487 439,554 440,491 441,554 442,558 443,520 444,542 445,533 446,591 447,619 448,537 449,609 450,625 451,561 452,642 453,571 454,621 455,627 456,637 457,641 458,542 459,587 460,610 461,604 462,652 463,593 464,601 465,631 466,611 467,599 468,605 469,636 470,596 471,637 472,618 473,633 474,683 475,649 476,636 477,638 478,629 479,593 480,580 481,613 482,658 483,648 484,579 485,689 486,611 487,680 488,596 489,670 490,620 491,596 492,609 493,626 494,618 495,590 496,623 497,708 498,657 499,668 500,612 501,644 502,621 503,638 504,643 505,604 506,629 507,641 508,692 509,635 510,577 511,656 512,653 513,649 514,623 515,642 516,681 517,659 518,684 519,617 520,588 521,631 522,612 523,619 524,660 525,652 526,667 527,632 528,664 529,648 530,661 531,662 532,641 533,618 534,637 535,619 536,635 537,667 538,633 539,633 540,654 541,631 542,659 543,624 544,644 545,592 546,607 547,681 548,696 549,657 550,595 551,651 552,697 553,594 554,640 555,651 556,660 557,638 558,711 559,602 560,641 561,596 562,653 563,663 564,710 565,621 566,691 567,633 568,679 569,643 570,658 571,608 572,611 573,640 574,632 575,655 576,598 577,689 578,619 579,598 580,629 581,642 582,617 583,642 584,647 585,662 586,663 587,613 588,641 589,661 590,615 591,639 592,643 593,671 594,607 595,637 596,661 597,660 598,647 599,631 600,661 601,625 602,671 603,588 604,651 605,628 606,652 607,614 608,608 609,599 610,678 611,677 612,702 613,616 614,659 615,612 616,659 617,626 618,624 619,592 620,660 621,610 622,665 623,702 624,640 625,683 626,641 627,665 628,632 629,653 630,602 631,594 632,652 633,687 634,587 635,615 636,615 637,658 638,715 639,602 640,652 641,645 642,639 643,621 644,640 645,595 646,662 647,671 648,610 649,667 650,620 651,660 652,667 653,628 654,601 655,629 656,593 657,632 658,646 659,607 660,645 661,697 662,633 663,677 664,662 665,622 666,649 667,590 668,651 669,613 670,634 671,681 672,695 673,640 674,593 675,650 676,623 677,612 678,700 679,607 680,693 681,695 682,658 683,658 684,675 685,635 686,656 687,640 688,670 689,625 690,648 691,677 692,673 693,671 694,633 695,698 696,619 697,661 698,641 699,682" fill="none" stroke="#f00a1e" stroke-width="1.0"/>
<line x1="482.90" y1="636.70" x2="482.90" y2="703.20" stroke="#111" stroke-width="1.2" />
<line x1="482.40" y1="702.70" x2="589.10" y2="702.70" stroke="#111" stroke-width="1.25" />
<line x1="480.70" y1="702.40" x2="482.90" y2="702.40" stroke="#111" stroke-width="1.0" />
<line x1="480.70" y1="689.33" x2="482.90" y2="689.33" stroke="#111" stroke-width="1.0" />
<line x1="480.70" y1="676.26" x2="482.90" y2="676.26" stroke="#111" stroke-width="1.0" />
<line x1="480.70" y1="663.19" x2="482.90" y2="663.19" stroke="#111" stroke-width="1.0" />
<line x1="480.70" y1="650.12" x2="482.90" y2="650.12" stroke="#111" stroke-width="1.0" />
<line x1="480.70" y1="637.05" x2="482.90" y2="637.05" stroke="#111" stroke-width="1.0" />
<line x1="482.90" y1="702.70" x2="482.90" y2="705.30" stroke="#111" stroke-width="1.0" />
<line x1="527.61" y1="702.70" x2="527.61" y2="705.30" stroke="#111" stroke-width="1.0" />
<line x1="544.92" y1="702.70" x2="544.92" y2="705.30" stroke="#111" stroke-width="1.0" />
<line x1="589.10" y1="702.70" x2="589.10" y2="705.30" stroke="#111" stroke-width="1.0" />
<text x="483.70" y="713.80" font-size="9.4" text-anchor="start" font-weight="normal" fill="#1a1a1a" stroke="#1a1a1a" stroke-width="0.12" >-5kb</text>
<text x="537.06" y="713.80" font-size="9.4" text-anchor="middle" font-weight="normal" fill="#1a1a1a" stroke="#1a1a1a" stroke-width="0.12" >CpGI</text>
<text x="588.30" y="713.80" font-size="9.4" text-anchor="end" font-weight="normal" fill="#1a1a1a" stroke="#1a1a1a" stroke-width="0.12" >5kb</text>
<rect x="596.40" y="566.60" width="25.40" height="65.60" fill="#efefef" stroke="#cfcfcf" stroke-width="0.8"/>
<text x="609.10" y="598.20" font-size="9.4" text-anchor="middle" fill="#1a1a1a" stroke="#1a1a1a" stroke-width="0.12" transform="rotate(90 609.10 598.20)" dy="3.2">proband</text>
<rect x="596.40" y="635.10" width="25.40" height="67.30" fill="#efefef" stroke="#cfcfcf" stroke-width="0.8"/>
<text x="609.10" y="665.80" font-size="9.4" text-anchor="middle" fill="#1a1a1a" stroke="#1a1a1a" stroke-width="0.12" transform="rotate(90 609.10 665.80)" dy="3.2">sibling</text>
<text x="0" y="0" font-size="9.45" text-anchor="middle" fill="#1a1a1a" stroke="#1a1a1a" stroke-width="0.12" transform="translate(18.7 467.6) rotate(-90)">Methylation %</text>
<text x="0" y="0" font-size="9.45" text-anchor="middle" fill="#1a1a1a" stroke="#1a1a1a" stroke-width="0.12" transform="translate(18.2 628.9) rotate(-90)">Methylation %</text>
<rect x="626.30" y="673.70" width="9.50" height="2.90" fill="#1414ff" />
<rect x="626.30" y="688.50" width="9.50" height="3.00" fill="#f00a1e" />
<text x="637.60" y="677.40" font-size="9.4" text-anchor="start" font-weight="normal" fill="#1a1a1a" stroke="#1a1a1a" stroke-width="0.12" >paternal X</text>
<text x="637.60" y="692.40" font-size="9.4" text-anchor="start" font-weight="normal" fill="#1a1a1a" stroke="#1a1a1a" stroke-width="0.12" >maternal X</text>
</svg></body></html>
